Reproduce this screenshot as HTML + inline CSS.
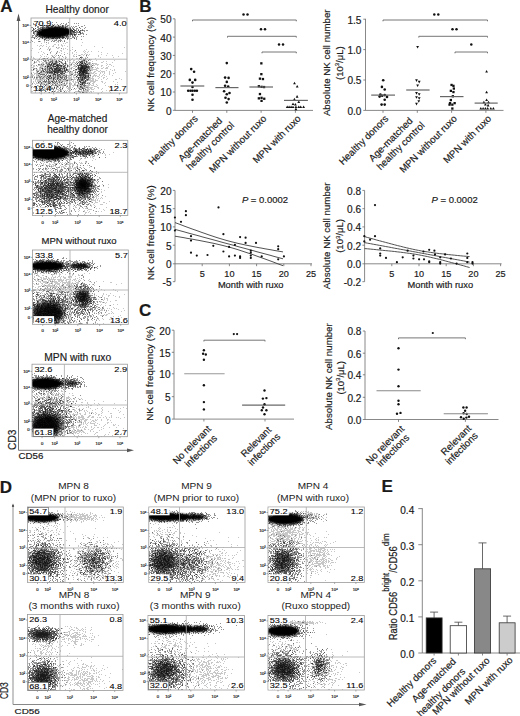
<!DOCTYPE html>
<html><head><meta charset="utf-8"><style>
html,body{margin:0;padding:0;background:#fff;}
svg{display:block;font-family:"Liberation Sans",sans-serif;}
text{fill:#1a1a1a;stroke:#1a1a1a;stroke-width:0.18px;}
.ns{stroke:none;}
.q{fill:#000;stroke:#000;stroke-width:0.08px;}
</style></head><body>
<svg width="520" height="716" viewBox="0 0 520 716">
<defs>
<filter id="b1" x="-50%" y="-50%" width="200%" height="200%"><feGaussianBlur stdDeviation="1.2"/></filter>
<filter id="b2" x="-50%" y="-50%" width="200%" height="200%"><feGaussianBlur stdDeviation="2.5"/></filter>
<filter id="b3" x="-50%" y="-50%" width="200%" height="200%"><feGaussianBlur stdDeviation="4"/></filter>
</defs>
<rect width="520" height="716" fill="#fff"/>
<text x="0.3" y="11.8" font-size="17" font-weight="bold" fill="#000">A</text>
<path d="M18.5 450.3V15" stroke="#666" stroke-width="0.9" fill="none"/>
<path d="M16.6 21L18.5 13.5L20.4 21Z" fill="#555"/>
<path d="M18.5 450.3H128" stroke="#666" stroke-width="0.9" fill="none"/>
<path d="M127 448.4L134 450.3L127 452.2Z" fill="#555"/>
<text transform="translate(15.5 449.9) rotate(-90)" font-size="10.2">CD3</text>
<text transform="translate(18.6 458.7) scale(1.1 1)" font-size="8.8">CD56</text>
<text x="77.1" y="13.1" font-size="10.2" text-anchor="middle">Healthy donor</text>
<clipPath id="c8"><rect x="31" y="18" width="96" height="75"/></clipPath>
<g clip-path="url(#c8)">
<ellipse cx="54" cy="32.4" rx="17.5" ry="6" fill="#000" opacity="1" filter="url(#b1)" transform="rotate(-3 54 32.4)"/>
<ellipse cx="83" cy="69" rx="2.5" ry="4.5" fill="#000" opacity="0.55" filter="url(#b2)"/>
<path d="M33 23h1m29 0h1m2 0h1m-29 1h1m15 0h1m5 0h1m5 0h1m-23 1h1m7 0h1m0 0h1m4 0h1m3 0h1m0 0h1m1 0h1m2 0h1m-22 1h1m3 0h1m3 0h1m6 0h1m2 0h1m0 0h1m0 0h1m3 0h1m1 0h1m8 0h1m-46 1h1m0 0h1m1 0h1m1 0h1m5 0h1m0 0h1m6 0h1m0 0h1m0 0h1m4 0h1m15 0h1m-47 1h1m1 0h1m2 0h1m0 0h1m0 0h1m1 0h1m6 0h1m2 0h1m0 0h1m0 0h1m4 0h1m0 0h1m0 0h1m0 0h1m0 0h1m1 0h1m3 0h1m0 0h1m1 0h1m-40 1h1m6 0h1m0 0h1m1 0h1m2 0h1m0 0h1m1 0h1m1 0h1m0 0h1m1 0h1m0 0h1m1 0h1m1 0h1m2 0h1m3 0h1m0 0h1m5 0h1m2 0h1m-45 1h1m9 0h1m1 0h1m0 0h1m0 0h1m0 0h1m1 0h1m0 0h1m0 0h1m0 0h1m1 0h1m1 0h1m0 0h1m0 0h1m0 0h1m0 0h1m0 0h1m2 0h1m2 0h1m2 0h1m0 0h1m0 0h1m2 0h1m0 0h1m1 0h1m1 0h1m0 0h1m4 0h1m-52 1h1m1 0h1m4 0h1m0 0h1m1 0h1m0 0h1m0 0h1m0 0h1m2 0h1m0 0h1m0 0h1m0 0h1m1 0h1m0 0h1m0 0h1m0 0h1m0 0h1m0 0h1m0 0h1m1 0h1m4 0h1m0 0h1m0 0h1m0 0h1m0 0h1m0 0h1m4 0h1m4 0h1m-47 1h1m1 0h1m0 0h1m1 0h1m0 0h1m1 0h1m0 0h1m1 0h1m0 0h1m0 0h1m0 0h1m1 0h1m0 0h1m1 0h1m1 0h1m1 0h1m2 0h1m0 0h1m0 0h1m0 0h1m0 0h1m0 0h1m0 0h1m2 0h1m0 0h1m0 0h1m2 0h1m0 0h1m-47 1h1m0 0h1m4 0h1m0 0h1m0 0h1m0 0h1m1 0h1m1 0h1m0 0h1m0 0h1m0 0h1m0 0h1m0 0h1m0 0h1m0 0h1m0 0h1m0 0h1m0 0h1m0 0h1m0 0h1m0 0h1m1 0h1m1 0h1m0 0h1m1 0h1m0 0h1m0 0h1m1 0h1m0 0h1m0 0h1m7 0h1m1 0h1m-49 1h1m2 0h1m0 0h1m0 0h1m2 0h1m0 0h1m0 0h1m0 0h1m0 0h1m0 0h1m0 0h1m0 0h1m0 0h1m0 0h1m1 0h1m0 0h1m0 0h1m0 0h1m2 0h1m0 0h1m0 0h1m0 0h1m0 0h1m0 0h1m3 0h1m0 0h1m0 0h1m1 0h1m1 0h1m1 0h1m1 0h1m0 0h1m-47 1h1m1 0h1m1 0h1m1 0h1m0 0h1m1 0h1m0 0h1m0 0h1m0 0h1m0 0h1m0 0h1m1 0h1m0 0h1m0 0h1m1 0h1m0 0h1m2 0h1m0 0h1m1 0h1m0 0h1m0 0h1m4 0h1m7 0h1m-36 1h1m3 0h1m0 0h1m0 0h1m0 0h1m0 0h1m0 0h1m2 0h1m2 0h1m0 0h1m0 0h1m2 0h1m1 0h1m3 0h1m8 0h1m7 0h1m-53 1h1m0 0h1m0 0h1m0 0h1m7 0h1m3 0h1m1 0h1m1 0h1m1 0h1m0 0h1m0 0h1m4 0h1m0 0h1m1 0h1m0 0h1m0 0h1m2 0h1m-34 1h1m4 0h1m2 0h1m5 0h1m3 0h1m0 0h1m2 0h1m0 0h1m1 0h1m2 0h1m2 0h1m-28 1h1m5 0h1m31 0h1m4 0h1m-26 1h1m7 0h1m-26 1h1m14 0h1m5 0h1m-5 6h1m4 1h1m-13 2h1m0 2h1m-4 2h1m10 1h1m27 0h1m-34 2h1m26 0h1m6 0h1m-27 2h1m18 0h1m8 0h1m-45 1h1m6 0h1m30 0h1m0 0h1m-41 1h1m10 0h1m0 0h1m2 0h1m21 0h1m2 0h1m1 0h1m-53 1h1m14 0h1m5 0h1m0 0h1m4 0h1m3 0h1m14 0h1m0 0h1m0 0h1m1 0h1m4 0h1m-44 1h1m2 0h1m1 0h1m3 0h1m9 0h1m11 0h1m1 0h1m2 0h1m2 0h1m6 0h1m-42 1h1m1 0h1m0 0h1m2 0h1m0 0h1m4 0h1m19 0h1m3 0h1m-40 1h1m1 0h1m0 0h1m4 0h1m0 0h1m0 0h1m2 0h1m3 0h1m11 0h1m1 0h1m0 0h1m0 0h1m0 0h1m0 0h1m0 0h1m0 0h1m-41 1h1m2 0h1m0 0h1m2 0h1m0 0h1m1 0h1m1 0h1m0 0h1m2 0h1m5 0h1m10 0h1m2 0h1m0 0h1m0 0h1m0 0h1m0 0h1m0 0h1m0 0h1m0 0h1m2 0h1m-45 1h1m3 0h1m4 0h1m0 0h1m1 0h1m5 0h1m12 0h1m1 0h1m0 0h1m0 0h1m0 0h1m2 0h1m1 0h1m0 0h1m2 0h1m-57 1h1m4 0h1m7 0h1m0 0h1m0 0h1m1 0h1m1 0h1m0 0h1m0 0h1m0 0h1m1 0h1m0 0h1m2 0h1m1 0h1m4 0h1m7 0h1m0 0h1m0 0h1m0 0h1m1 0h1m0 0h1m0 0h1m0 0h1m-55 1h1m15 0h1m1 0h1m0 0h1m1 0h1m0 0h1m0 0h1m0 0h1m1 0h1m2 0h1m1 0h1m1 0h1m11 0h1m0 0h1m0 0h1m0 0h1m2 0h1m1 0h1m-45 1h1m2 0h1m3 0h1m0 0h1m1 0h1m2 0h1m2 0h1m0 0h1m1 0h1m2 0h1m2 0h1m5 0h1m6 0h1m0 0h1m0 0h1m0 0h1m0 0h1m0 0h1m0 0h1m0 0h1m2 0h1m-54 1h1m0 0h1m2 0h1m1 0h1m0 0h1m1 0h1m0 0h1m3 0h1m0 0h1m0 0h1m0 0h1m0 0h1m0 0h1m0 0h1m0 0h1m3 0h1m1 0h1m0 0h1m4 0h1m7 0h1m0 0h1m0 0h1m0 0h1m0 0h1m0 0h1m0 0h1m0 0h1m0 0h1m-42 1h1m0 0h1m0 0h1m0 0h1m0 0h1m0 0h1m0 0h1m0 0h1m1 0h1m0 0h1m0 0h1m5 0h1m14 0h1m1 0h1m0 0h1m1 0h1m0 0h1m0 0h1m1 0h1m-56 1h1m7 0h1m9 0h1m0 0h1m3 0h1m1 0h1m4 0h1m2 0h1m13 0h1m0 0h1m0 0h1m0 0h1m1 0h1m0 0h1m1 0h1m0 0h1m0 0h1m-36 1h1m1 0h1m1 0h1m0 0h1m3 0h1m8 0h1m8 0h1m0 0h1m1 0h1m0 0h1m0 0h1m-38 1h1m0 0h1m5 0h1m1 0h1m2 0h1m9 0h1m6 0h1m1 0h1m0 0h1m1 0h1m1 0h1m0 0h1m2 0h1m-42 1h1m9 0h1m1 0h1m2 0h1m13 0h1m3 0h1m1 0h1m2 0h1m2 0h1m-55 1h1m1 0h1m3 0h1m10 0h1m6 0h1m1 0h1m0 0h1m16 0h1m2 0h1m0 0h1m1 0h1m0 0h1m2 0h1m-42 1h1m2 0h1m2 0h1m4 0h1m2 0h1m0 0h1m15 0h1m1 0h1m1 0h1m1 0h1m0 0h1m-38 1h1m4 0h1m1 0h1m3 0h1m3 0h1m1 0h1m6 0h1m8 0h1m0 0h1m1 0h1m2 0h1m-44 1h1m1 0h1m1 0h1m18 0h1m9 0h1m1 0h1m-41 1h1m0 0h1m3 0h1m0 0h1m5 0h1m4 0h1m22 0h1m0 0h1m4 0h1m-48 1h1m9 0h1m4 0h1m24 0h1m1 0h1m1 0h1m0 0h1m0 0h1m-44 1h1m12 0h1m11 0h1m2 0h1m11 0h1m0 0h1m6 0h1m-46 1h1m1 0h1m14 0h1m12 0h1m5 0h1m1 0h1m-43 1h1m4 0h1m10 0h1m2 0h1m4 0h1m0 0h1m11 0h1m3 0h1m1 0h1m-40 1h1m12 0h1m9 0h1m-18 1h1m3 0h1m5 0h1m20 0h1m4 0h1m0 0h1m-49 1h1m12 0h1m6 0h1m2 0h1m21 0h1m-44 1h1m1 0h1m37 0h1m3 0h1m-45 2h1m18 0h1m0 0h1m17 0h1m-31 1h1m32 0h1m0 0h1" transform="translate(0 .5)" stroke="#000" stroke-width="1" opacity="0.42"/>
<path d="M49 20h1m18 2h1m-27 1h1m18 0h1m-28 1h1m17 0h1m4 0h1m7 0h1m-30 1h1m3 0h1m0 0h1m1 0h1m2 0h1m2 0h1m0 0h1m2 0h1m4 0h1m8 0h1m10 0h1m5 0h1m-48 1h1m0 0h1m3 0h1m4 0h1m4 0h1m9 0h1m0 0h1m11 0h1m5 0h1m-50 1h1m11 0h1m2 0h1m6 0h1m0 0h1m1 0h1m1 0h1m5 0h1m6 0h1m1 0h1m10 0h1m-53 1h1m14 0h1m0 0h1m0 0h1m0 0h1m0 0h1m0 0h1m1 0h1m1 0h1m1 0h1m5 0h1m0 0h1m2 0h1m0 0h1m2 0h1m6 0h1m-48 1h1m7 0h1m0 0h1m1 0h1m0 0h1m0 0h1m0 0h1m1 0h1m0 0h1m0 0h1m0 0h1m2 0h1m1 0h1m0 0h1m1 0h1m2 0h1m0 0h1m1 0h1m2 0h1m0 0h1m0 0h1m1 0h1m4 0h1m-44 1h1m3 0h1m2 0h1m0 0h1m0 0h1m0 0h1m0 0h1m0 0h1m0 0h1m0 0h1m0 0h1m1 0h1m0 0h1m1 0h1m0 0h1m0 0h1m0 0h1m0 0h1m3 0h1m2 0h1m0 0h1m0 0h1m0 0h1m0 0h1m1 0h1m1 0h1m0 0h1m2 0h1m1 0h1m1 0h1m0 0h1m3 0h1m-53 1h1m0 0h1m0 0h1m4 0h1m1 0h1m0 0h1m0 0h1m1 0h1m0 0h1m1 0h1m1 0h1m1 0h1m0 0h1m0 0h1m1 0h1m0 0h1m0 0h1m1 0h1m0 0h1m0 0h1m2 0h1m4 0h1m0 0h1m1 0h1m0 0h1m1 0h1m0 0h1m-48 1h1m0 0h1m3 0h1m1 0h1m0 0h1m0 0h1m2 0h1m0 0h1m0 0h1m2 0h1m0 0h1m0 0h1m0 0h1m0 0h1m0 0h1m0 0h1m0 0h1m0 0h1m0 0h1m0 0h1m0 0h1m0 0h1m0 0h1m0 0h1m1 0h1m0 0h1m0 0h1m0 0h1m0 0h1m0 0h1m1 0h1m0 0h1m5 0h1m-48 1h1m3 0h1m2 0h1m2 0h1m0 0h1m0 0h1m1 0h1m2 0h1m0 0h1m0 0h1m0 0h1m0 0h1m0 0h1m0 0h1m0 0h1m0 0h1m0 0h1m0 0h1m0 0h1m0 0h1m0 0h1m1 0h1m2 0h1m0 0h1m0 0h1m5 0h1m3 0h1m-44 1h1m0 0h1m0 0h1m1 0h1m0 0h1m0 0h1m1 0h1m0 0h1m0 0h1m1 0h1m1 0h1m0 0h1m0 0h1m0 0h1m0 0h1m0 0h1m0 0h1m0 0h1m0 0h1m1 0h1m0 0h1m0 0h1m3 0h1m3 0h1m1 0h1m0 0h1m0 0h1m4 0h1m-42 1h1m2 0h1m0 0h1m1 0h1m0 0h1m2 0h1m0 0h1m1 0h1m3 0h1m0 0h1m0 0h1m0 0h1m2 0h1m1 0h1m1 0h1m5 0h1m1 0h1m-40 1h1m0 0h1m2 0h1m2 0h1m5 0h1m0 0h1m3 0h1m0 0h1m2 0h1m1 0h1m2 0h1m4 0h1m0 0h1m1 0h1m10 0h1m-45 1h1m4 0h1m1 0h1m3 0h1m5 0h1m3 0h1m3 0h1m0 0h1m2 0h1m1 0h1m3 0h1m1 0h1m1 0h1m-32 1h1m0 0h1m4 0h1m0 0h1m0 0h1m8 0h1m4 0h1m0 0h1m5 0h1m-31 1h1m-14 1h1m14 0h1m5 0h1m2 0h1m2 0h1m2 0h1m-30 1h1m18 0h1m1 0h1m4 0h1m5 0h1m-25 7h1m23 6h1m-5 1h1m18 0h1m-28 1h1m23 0h1m-23 1h1m26 0h1m-39 1h1m3 0h1m37 0h1m-32 1h1m7 0h1m-31 1h1m4 0h1m5 0h1m44 0h1m-55 1h1m15 0h1m0 0h1m8 0h1m4 0h1m14 0h1m1 0h1m3 0h1m-41 1h1m3 0h1m1 0h1m27 0h1m1 0h1m3 0h1m-39 1h1m2 0h1m2 0h1m0 0h1m3 0h1m15 0h1m5 0h1m0 0h1m5 0h1m0 0h1m-52 1h1m2 0h1m5 0h1m0 0h1m0 0h1m1 0h1m1 0h1m0 0h1m1 0h1m0 0h1m1 0h1m3 0h1m7 0h1m4 0h1m2 0h1m0 0h1m0 0h1m3 0h1m0 0h1m2 0h1m-54 1h1m5 0h1m4 0h1m1 0h1m3 0h1m2 0h1m0 0h1m0 0h1m0 0h1m0 0h1m0 0h1m0 0h1m1 0h1m2 0h1m10 0h1m2 0h1m2 0h1m1 0h1m1 0h1m3 0h1m-48 1h1m1 0h1m0 0h1m1 0h1m3 0h1m0 0h1m0 0h1m1 0h1m1 0h1m0 0h1m1 0h1m0 0h1m4 0h1m10 0h1m0 0h1m0 0h1m3 0h1m0 0h1m0 0h1m-49 1h1m6 0h1m2 0h1m0 0h1m4 0h1m0 0h1m0 0h1m4 0h1m1 0h1m12 0h1m0 0h1m0 0h1m0 0h1m0 0h1m0 0h1m0 0h1m0 0h1m0 0h1m0 0h1m-46 1h1m2 0h1m1 0h1m1 0h1m0 0h1m1 0h1m1 0h1m1 0h1m2 0h1m0 0h1m0 0h1m1 0h1m0 0h1m13 0h1m1 0h1m0 0h1m0 0h1m0 0h1m0 0h1m0 0h1m-44 1h1m4 0h1m1 0h1m2 0h1m1 0h1m0 0h1m0 0h1m1 0h1m0 0h1m0 0h1m5 0h1m0 0h1m8 0h1m3 0h1m0 0h1m1 0h1m0 0h1m0 0h1m1 0h1m1 0h1m-54 1h1m12 0h1m2 0h1m0 0h1m0 0h1m1 0h1m0 0h1m0 0h1m0 0h1m0 0h1m5 0h1m13 0h1m0 0h1m1 0h1m0 0h1m0 0h1m2 0h1m-36 1h1m0 0h1m4 0h1m0 0h1m0 0h1m0 0h1m2 0h1m12 0h1m0 0h1m0 0h1m0 0h1m0 0h1m0 0h1m0 0h1m-45 1h1m0 0h1m7 0h1m1 0h1m2 0h1m0 0h1m0 0h1m0 0h1m0 0h1m0 0h1m1 0h1m0 0h1m2 0h1m13 0h1m0 0h1m0 0h1m0 0h1m0 0h1m0 0h1m0 0h1m0 0h1m-49 1h1m0 0h1m7 0h1m4 0h1m0 0h1m0 0h1m2 0h1m2 0h1m0 0h1m2 0h1m14 0h1m2 0h1m0 0h1m1 0h1m0 0h1m-46 1h1m0 0h1m1 0h1m9 0h1m0 0h1m3 0h1m12 0h1m2 0h1m3 0h1m0 0h1m1 0h1m0 0h1m0 0h1m3 0h1m-51 1h1m11 0h1m1 0h1m4 0h1m8 0h1m7 0h1m2 0h1m1 0h1m0 0h1m0 0h1m0 0h1m0 0h1m1 0h1m0 0h1m0 0h1m0 0h1m-50 1h1m1 0h1m7 0h1m0 0h1m4 0h1m9 0h1m10 0h1m3 0h1m2 0h1m0 0h1m0 0h1m2 0h1m-46 1h1m4 0h1m0 0h1m3 0h1m0 0h1m0 0h1m6 0h1m1 0h1m12 0h1m0 0h1m0 0h1m0 0h1m1 0h1m0 0h1m0 0h1m1 0h1m0 0h1m-52 1h1m12 0h1m1 0h1m1 0h1m3 0h1m8 0h1m11 0h1m4 0h1m0 0h1m0 0h1m0 0h1m1 0h1m-41 1h1m4 0h1m17 0h1m9 0h1m0 0h1m4 0h1m-30 1h1m1 0h1m5 0h1m13 0h1m0 0h1m0 0h1m2 0h1m1 0h1m-45 1h1m5 0h1m2 0h1m9 0h1m17 0h1m4 0h1m-48 1h1m6 0h1m3 0h1m11 0h1m18 0h1m3 0h1m-36 1h1m7 0h1m20 0h1m3 0h1m0 0h1m0 0h1m0 0h1m1 0h1m-36 1h1m27 0h1m1 0h1m-46 1h1m13 0h1m32 0h1m-28 1h1m19 0h1m2 0h1m-50 1h1m4 0h1m17 0h1m-15 1h1m15 0h1m5 0h1m11 0h1m4 0h1m2 0h1m-12 1h1m7 0h1m-41 1h1m7 0h1m30 0h1m-27 1h1m1 0h1m23 0h1m-5 1h1" transform="translate(0 .5)" stroke="#000" stroke-width="1" opacity="0.42"/>
<path d="M52 22h1m3 0h1m17 1h1m1 0h1m1 0h1m-46 1h1m8 1h1m1 0h1m1 0h1m2 0h1m3 0h1m8 0h1m-28 1h1m7 0h1m2 0h1m1 0h1m2 0h1m0 0h1m5 0h1m0 0h1m0 0h1m15 0h1m-46 1h1m9 0h1m0 0h1m0 0h1m2 0h1m1 0h1m1 0h1m0 0h1m0 0h1m1 0h1m0 0h1m0 0h1m2 0h1m1 0h1m0 0h1m2 0h1m3 0h1m0 0h1m8 0h1m-45 1h1m6 0h1m0 0h1m5 0h1m1 0h1m2 0h1m1 0h1m0 0h1m2 0h1m0 0h1m0 0h1m0 0h1m3 0h1m8 0h1m0 0h1m6 0h1m-51 1h1m2 0h1m0 0h1m3 0h1m1 0h1m3 0h1m1 0h1m1 0h1m0 0h1m1 0h1m0 0h1m0 0h1m0 0h1m0 0h1m2 0h1m1 0h1m0 0h1m0 0h1m0 0h1m0 0h1m0 0h1m0 0h1m2 0h1m0 0h1m7 0h1m-51 1h1m0 0h1m2 0h1m1 0h1m0 0h1m2 0h1m0 0h1m2 0h1m1 0h1m2 0h1m0 0h1m0 0h1m0 0h1m0 0h1m0 0h1m0 0h1m1 0h1m0 0h1m0 0h1m0 0h1m1 0h1m1 0h1m2 0h1m0 0h1m0 0h1m0 0h1m1 0h1m7 0h1m1 0h1m-54 1h1m1 0h1m0 0h1m0 0h1m3 0h1m3 0h1m0 0h1m0 0h1m2 0h1m0 0h1m0 0h1m0 0h1m0 0h1m0 0h1m0 0h1m0 0h1m1 0h1m0 0h1m0 0h1m0 0h1m0 0h1m0 0h1m0 0h1m0 0h1m1 0h1m0 0h1m0 0h1m0 0h1m0 0h1m1 0h1m0 0h1m5 0h1m-47 1h1m3 0h1m0 0h1m1 0h1m2 0h1m1 0h1m0 0h1m0 0h1m0 0h1m1 0h1m2 0h1m0 0h1m0 0h1m1 0h1m0 0h1m0 0h1m0 0h1m1 0h1m0 0h1m0 0h1m0 0h1m0 0h1m5 0h1m2 0h1m0 0h1m0 0h1m1 0h1m0 0h1m1 0h1m-42 1h1m0 0h1m1 0h1m0 0h1m0 0h1m0 0h1m0 0h1m0 0h1m2 0h1m0 0h1m0 0h1m0 0h1m2 0h1m0 0h1m0 0h1m0 0h1m0 0h1m1 0h1m1 0h1m0 0h1m3 0h1m1 0h1m0 0h1m6 0h1m1 0h1m-48 1h1m2 0h1m1 0h1m0 0h1m2 0h1m0 0h1m1 0h1m0 0h1m0 0h1m0 0h1m0 0h1m1 0h1m1 0h1m0 0h1m0 0h1m0 0h1m0 0h1m1 0h1m1 0h1m0 0h1m1 0h1m1 0h1m0 0h1m0 0h1m0 0h1m1 0h1m0 0h1m2 0h1m4 0h1m2 0h1m-55 1h1m3 0h1m0 0h1m3 0h1m2 0h1m0 0h1m0 0h1m1 0h1m1 0h1m1 0h1m0 0h1m0 0h1m1 0h1m0 0h1m1 0h1m0 0h1m2 0h1m0 0h1m0 0h1m1 0h1m2 0h1m1 0h1m1 0h1m-43 1h1m3 0h1m1 0h1m0 0h1m3 0h1m0 0h1m5 0h1m0 0h1m3 0h1m2 0h1m0 0h1m0 0h1m2 0h1m2 0h1m5 0h1m0 0h1m3 0h1m-38 1h1m0 0h1m4 0h1m0 0h1m0 0h1m7 0h1m0 0h1m0 0h1m0 0h1m1 0h1m1 0h1m9 0h1m-40 1h1m1 0h1m5 0h1m12 0h1m1 0h1m1 0h1m3 0h1m1 0h1m1 0h1m2 0h1m0 0h1m2 0h1m1 0h1m-32 1h1m10 0h1m3 0h1m6 0h1m-24 1h1m3 0h1m5 0h1m4 0h1m0 0h1m-23 1h1m7 1h1m2 7h1m25 1h1m-19 1h1m-2 2h1m5 3h1m17 1h1m1 0h1m-39 1h1m20 0h1m13 0h1m1 0h1m-43 1h1m1 0h1m8 0h1m1 0h1m7 0h1m22 0h1m0 0h1m0 0h1m-38 1h1m7 0h1m1 0h1m3 0h1m19 0h1m1 0h1m-40 1h1m6 0h1m3 0h1m2 0h1m19 0h1m1 0h1m0 0h1m-31 1h1m3 0h1m0 0h1m3 0h1m14 0h1m1 0h1m1 0h1m3 0h1m-33 1h1m0 0h1m0 0h1m1 0h1m2 0h1m2 0h1m1 0h1m0 0h1m11 0h1m3 0h1m0 0h1m1 0h1m0 0h1m-47 1h1m3 0h1m5 0h1m0 0h1m0 0h1m1 0h1m1 0h1m9 0h1m14 0h1m4 0h1m1 0h1m-57 1h1m18 0h1m1 0h1m0 0h1m2 0h1m0 0h1m1 0h1m0 0h1m6 0h1m10 0h1m0 0h1m0 0h1m0 0h1m0 0h1m0 0h1m1 0h1m0 0h1m-40 1h1m0 0h1m4 0h1m0 0h1m0 0h1m1 0h1m5 0h1m0 0h1m2 0h1m8 0h1m1 0h1m3 0h1m0 0h1m0 0h1m0 0h1m0 0h1m2 0h1m-41 1h1m3 0h1m5 0h1m0 0h1m0 0h1m2 0h1m13 0h1m2 0h1m0 0h1m1 0h1m0 0h1m0 0h1m0 0h1m0 0h1m-55 1h1m7 0h1m5 0h1m2 0h1m2 0h1m0 0h1m0 0h1m0 0h1m0 0h1m3 0h1m1 0h1m12 0h1m0 0h1m1 0h1m0 0h1m0 0h1m0 0h1m0 0h1m0 0h1m2 0h1m0 0h1m-57 1h1m10 0h1m0 0h1m2 0h1m3 0h1m2 0h1m1 0h1m0 0h1m0 0h1m0 0h1m3 0h1m1 0h1m8 0h1m0 0h1m2 0h1m0 0h1m0 0h1m0 0h1m0 0h1m0 0h1m1 0h1m0 0h1m-45 1h1m3 0h1m6 0h1m0 0h1m0 0h1m0 0h1m0 0h1m0 0h1m0 0h1m1 0h1m1 0h1m0 0h1m0 0h1m12 0h1m0 0h1m0 0h1m1 0h1m0 0h1m0 0h1m0 0h1m1 0h1m-48 1h1m1 0h1m4 0h1m0 0h1m0 0h1m0 0h1m2 0h1m0 0h1m0 0h1m0 0h1m0 0h1m1 0h1m0 0h1m1 0h1m4 0h1m6 0h1m3 0h1m1 0h1m0 0h1m0 0h1m0 0h1m0 0h1m0 0h1m0 0h1m-51 1h1m9 0h1m2 0h1m1 0h1m1 0h1m0 0h1m1 0h1m0 0h1m1 0h1m8 0h1m5 0h1m1 0h1m2 0h1m1 0h1m0 0h1m0 0h1m0 0h1m1 0h1m-37 1h1m5 0h1m2 0h1m1 0h1m0 0h1m15 0h1m1 0h1m0 0h1m0 0h1m1 0h1m0 0h1m0 0h1m0 0h1m0 0h1m-50 1h1m2 0h1m2 0h1m6 0h1m0 0h1m4 0h1m1 0h1m16 0h1m0 0h1m1 0h1m0 0h1m0 0h1m-39 1h1m4 0h1m2 0h1m4 0h1m0 0h1m3 0h1m0 0h1m14 0h1m0 0h1m0 0h1m1 0h1m0 0h1m5 0h1m-59 1h1m11 0h1m2 0h1m1 0h1m0 0h1m2 0h1m4 0h1m1 0h1m5 0h1m9 0h1m4 0h1m1 0h1m1 0h1m0 0h1m0 0h1m0 0h1m-57 1h1m4 0h1m1 0h1m6 0h1m1 0h1m2 0h1m5 0h1m2 0h1m5 0h1m13 0h1m1 0h1m1 0h1m0 0h1m3 0h1m-50 1h1m1 0h1m3 0h1m2 0h1m4 0h1m2 0h1m6 0h1m13 0h1m2 0h1m0 0h1m-43 1h1m7 0h1m8 0h1m2 0h1m3 0h1m12 0h1m0 0h1m0 0h1m0 0h1m1 0h1m0 0h1m2 0h1m1 0h1m-36 1h1m2 0h1m10 0h1m13 0h1m0 0h1m0 0h1m1 0h1m0 0h1m-41 1h1m1 0h1m3 0h1m1 0h1m1 0h1m2 0h1m19 0h1m3 0h1m0 0h1m-44 1h1m8 0h1m1 0h1m2 0h1m3 0h1m1 0h1m19 0h1m0 0h1m0 0h1m1 0h1m-54 1h1m15 0h1m0 0h1m14 0h1m17 0h1m-43 1h1m14 0h1m24 0h1m0 0h1m0 0h1m1 0h1m-40 1h1m9 0h1m21 0h1m7 0h1m-52 1h1m15 0h1m29 0h1m0 0h1m2 0h1m-29 1h1m23 0h1m1 0h1m-32 1h1m2 0h1m27 0h1m0 0h1m-37 1h1m5 0h1m6 0h1m19 0h1m2 0h1m-24 1h1m22 0h1m3 0h1m-43 1h1m6 0h1m11 0h1m-12 1h1m26 0h1m1 0h1m0 0h1m2 0h1" transform="translate(0 .5)" stroke="#000" stroke-width="1" opacity="0.42"/>
<path d="M46 27h1m-5 3h1m-4 1h1m7 2h1m3 1h1m-11 1h1m-7 2h1m8 0h1m19 0h1m-10 1h1m-17 1h1m9 0h1m19 0h1m-23 1h1m-9 1h1m0 0h1m3 0h1m12 0h1m2 0h1m1 0h1m1 0h1m-31 1h1m9 0h1m3 0h1m7 0h1m1 0h1m7 0h1m0 0h1m14 0h1m-42 1h1m6 0h1m14 0h1m1 0h1m-20 1h1m7 0h1m0 0h1m2 0h1m2 0h1m-25 1h1m2 0h1m0 0h1m1 0h1m9 0h1m4 0h1m2 0h1m0 0h1m1 0h1m16 0h1m-43 1h1m2 0h1m3 0h1m2 0h1m2 0h1m0 0h1m8 0h1m4 0h1m26 0h1m-47 1h1m9 0h1m0 0h1m12 0h1m29 0h1m21 0h1m-93 1h1m15 0h1m1 0h1m6 0h1m0 0h1m4 0h1m1 0h1m-27 1h1m7 0h1m2 0h1m12 0h1m3 0h1m4 0h1m13 0h1m-56 1h1m28 0h1m0 0h1m8 0h1m13 0h1m-44 1h1m9 0h1m9 0h1m12 0h1m8 0h1m1 0h1m2 0h1m2 0h1m6 0h1m-61 1h1m4 0h1m12 0h1m0 0h1m1 0h1m4 0h1m7 0h1m3 0h1m7 0h1m2 0h1m13 0h1m-58 1h1m5 0h1m5 0h1m4 0h1m5 0h1m4 0h1m12 0h1m21 0h1m14 0h1m-81 1h1m4 0h1m7 0h1m13 0h1m4 0h1m1 0h1m4 0h1m0 0h1m1 0h1m1 0h1m0 0h1m1 0h1m11 0h1m-62 1h1m10 0h1m0 0h1m1 0h1m1 0h1m1 0h1m14 0h1m4 0h1m1 0h1m2 0h1m2 0h1m1 0h1m9 0h1m7 0h1m5 0h1m-82 1h1m9 0h1m2 0h1m1 0h1m6 0h1m1 0h1m3 0h1m5 0h1m7 0h1m0 0h1m6 0h1m4 0h1m11 0h1m19 0h1m-88 1h1m1 0h1m6 0h1m7 0h1m2 0h1m6 0h1m0 0h1m3 0h1m1 0h1m0 0h1m13 0h1m0 0h1m3 0h1m14 0h1m12 0h1m-81 1h1m0 0h1m4 0h1m2 0h1m1 0h1m0 0h1m0 0h1m0 0h1m2 0h1m0 0h1m2 0h1m2 0h1m1 0h1m1 0h1m10 0h1m3 0h1m0 0h1m1 0h1m3 0h1m2 0h1m8 0h1m-61 1h1m2 0h1m3 0h1m0 0h1m1 0h1m2 0h1m0 0h1m0 0h1m0 0h1m3 0h1m3 0h1m1 0h1m5 0h1m1 0h1m1 0h1m7 0h1m1 0h1m1 0h1m0 0h1m2 0h1m1 0h1m0 0h1m0 0h1m-60 1h1m5 0h1m4 0h1m0 0h1m0 0h1m0 0h1m0 0h1m0 0h1m1 0h1m0 0h1m0 0h1m0 0h1m0 0h1m0 0h1m0 0h1m2 0h1m2 0h1m1 0h1m2 0h1m1 0h1m0 0h1m2 0h1m0 0h1m3 0h1m2 0h1m1 0h1m0 0h1m0 0h1m0 0h1m1 0h1m1 0h1m5 0h1m17 0h1m-79 1h1m1 0h1m0 0h1m1 0h1m4 0h1m1 0h1m0 0h1m0 0h1m0 0h1m0 0h1m0 0h1m0 0h1m0 0h1m0 0h1m0 0h1m0 0h1m0 0h1m1 0h1m3 0h1m1 0h1m5 0h1m2 0h1m0 0h1m1 0h1m1 0h1m1 0h1m1 0h1m1 0h1m4 0h1m10 0h1m2 0h1m-73 1h1m0 0h1m0 0h1m2 0h1m2 0h1m0 0h1m1 0h1m0 0h1m0 0h1m0 0h1m0 0h1m0 0h1m0 0h1m0 0h1m0 0h1m0 0h1m0 0h1m2 0h1m1 0h1m1 0h1m2 0h1m3 0h1m0 0h1m1 0h1m0 0h1m0 0h1m3 0h1m0 0h1m0 0h1m0 0h1m1 0h1m2 0h1m0 0h1m0 0h1m1 0h1m10 0h1m0 0h1m9 0h1m-80 1h1m0 0h1m6 0h1m0 0h1m0 0h1m1 0h1m0 0h1m0 0h1m0 0h1m0 0h1m2 0h1m0 0h1m0 0h1m0 0h1m0 0h1m0 0h1m1 0h1m1 0h1m0 0h1m0 0h1m1 0h1m0 0h1m4 0h1m0 0h1m4 0h1m2 0h1m0 0h1m0 0h1m0 0h1m0 0h1m0 0h1m0 0h1m0 0h1m2 0h1m2 0h1m0 0h1m0 0h1m0 0h1m9 0h1m-75 1h1m5 0h1m1 0h1m0 0h1m0 0h1m0 0h1m0 0h1m1 0h1m0 0h1m0 0h1m0 0h1m0 0h1m1 0h1m0 0h1m0 0h1m0 0h1m0 0h1m0 0h1m0 0h1m1 0h1m1 0h1m3 0h1m0 0h1m1 0h1m0 0h1m0 0h1m1 0h1m0 0h1m2 0h1m1 0h1m0 0h1m0 0h1m0 0h1m0 0h1m0 0h1m1 0h1m0 0h1m0 0h1m1 0h1m0 0h1m1 0h1m1 0h1m0 0h1m0 0h1m0 0h1m8 0h1m1 0h1m0 0h1m-78 1h1m0 0h1m3 0h1m0 0h1m0 0h1m0 0h1m1 0h1m1 0h1m0 0h1m0 0h1m0 0h1m1 0h1m0 0h1m0 0h1m1 0h1m0 0h1m0 0h1m0 0h1m1 0h1m0 0h1m0 0h1m1 0h1m0 0h1m0 0h1m2 0h1m1 0h1m0 0h1m2 0h1m0 0h1m1 0h1m1 0h1m1 0h1m0 0h1m1 0h1m0 0h1m1 0h1m2 0h1m0 0h1m0 0h1m0 0h1m0 0h1m2 0h1m3 0h1m0 0h1m3 0h1m4 0h1m-79 1h1m0 0h1m2 0h1m2 0h1m0 0h1m0 0h1m0 0h1m0 0h1m0 0h1m0 0h1m0 0h1m0 0h1m0 0h1m0 0h1m0 0h1m0 0h1m0 0h1m0 0h1m0 0h1m1 0h1m0 0h1m0 0h1m0 0h1m0 0h1m0 0h1m0 0h1m1 0h1m2 0h1m4 0h1m0 0h1m0 0h1m0 0h1m4 0h1m0 0h1m0 0h1m0 0h1m0 0h1m0 0h1m1 0h1m0 0h1m0 0h1m0 0h1m9 0h1m6 0h1m4 0h1m-83 1h1m0 0h1m0 0h1m5 0h1m1 0h1m0 0h1m1 0h1m0 0h1m0 0h1m0 0h1m0 0h1m0 0h1m0 0h1m0 0h1m0 0h1m0 0h1m0 0h1m0 0h1m0 0h1m0 0h1m0 0h1m0 0h1m2 0h1m0 0h1m0 0h1m1 0h1m0 0h1m3 0h1m0 0h1m2 0h1m1 0h1m1 0h1m1 0h1m0 0h1m0 0h1m0 0h1m0 0h1m1 0h1m0 0h1m0 0h1m0 0h1m0 0h1m1 0h1m1 0h1m1 0h1m5 0h1m2 0h1m0 0h1m-75 1h1m1 0h1m0 0h1m2 0h1m0 0h1m1 0h1m0 0h1m0 0h1m0 0h1m0 0h1m0 0h1m2 0h1m0 0h1m0 0h1m1 0h1m0 0h1m0 0h1m0 0h1m0 0h1m0 0h1m0 0h1m1 0h1m0 0h1m0 0h1m0 0h1m0 0h1m3 0h1m2 0h1m0 0h1m3 0h1m0 0h1m0 0h1m0 0h1m0 0h1m0 0h1m0 0h1m0 0h1m0 0h1m0 0h1m0 0h1m0 0h1m0 0h1m0 0h1m0 0h1m3 0h1m0 0h1m0 0h1m2 0h1m0 0h1m2 0h1m0 0h1m0 0h1m-77 1h1m1 0h1m0 0h1m1 0h1m0 0h1m1 0h1m0 0h1m1 0h1m0 0h1m0 0h1m0 0h1m0 0h1m0 0h1m2 0h1m0 0h1m0 0h1m0 0h1m0 0h1m0 0h1m0 0h1m2 0h1m0 0h1m0 0h1m0 0h1m0 0h1m1 0h1m0 0h1m0 0h1m0 0h1m0 0h1m1 0h1m3 0h1m0 0h1m0 0h1m0 0h1m0 0h1m0 0h1m0 0h1m0 0h1m0 0h1m0 0h1m0 0h1m1 0h1m0 0h1m0 0h1m0 0h1m0 0h1m0 0h1m0 0h1m0 0h1m0 0h1m0 0h1m13 0h1m3 0h1m-84 1h1m0 0h1m0 0h1m3 0h1m0 0h1m0 0h1m0 0h1m0 0h1m0 0h1m0 0h1m1 0h1m0 0h1m0 0h1m0 0h1m0 0h1m0 0h1m0 0h1m0 0h1m0 0h1m0 0h1m1 0h1m0 0h1m0 0h1m0 0h1m0 0h1m0 0h1m1 0h1m0 0h1m0 0h1m1 0h1m0 0h1m4 0h1m0 0h1m0 0h1m0 0h1m1 0h1m0 0h1m0 0h1m0 0h1m0 0h1m0 0h1m0 0h1m0 0h1m0 0h1m0 0h1m0 0h1m0 0h1m0 0h1m0 0h1m0 0h1m3 0h1m0 0h1m2 0h1m5 0h1m5 0h1m1 0h1m-79 1h1m0 0h1m0 0h1m1 0h1m1 0h1m0 0h1m0 0h1m0 0h1m0 0h1m0 0h1m0 0h1m0 0h1m0 0h1m0 0h1m0 0h1m0 0h1m0 0h1m0 0h1m0 0h1m0 0h1m0 0h1m0 0h1m2 0h1m0 0h1m0 0h1m2 0h1m0 0h1m1 0h1m0 0h1m0 0h1m4 0h1m0 0h1m1 0h1m1 0h1m0 0h1m1 0h1m0 0h1m0 0h1m0 0h1m0 0h1m0 0h1m3 0h1m0 0h1m2 0h1m0 0h1m1 0h1m0 0h1m0 0h1m0 0h1m4 0h1m15 0h1m-95 1h1m1 0h1m2 0h1m2 0h1m0 0h1m0 0h1m0 0h1m0 0h1m0 0h1m2 0h1m0 0h1m0 0h1m0 0h1m0 0h1m0 0h1m0 0h1m0 0h1m0 0h1m0 0h1m0 0h1m0 0h1m0 0h1m0 0h1m0 0h1m0 0h1m0 0h1m0 0h1m0 0h1m0 0h1m0 0h1m1 0h1m0 0h1m0 0h1m0 0h1m1 0h1m0 0h1m0 0h1m0 0h1m1 0h1m0 0h1m0 0h1m0 0h1m0 0h1m0 0h1m0 0h1m0 0h1m0 0h1m0 0h1m0 0h1m0 0h1m0 0h1m1 0h1m0 0h1m5 0h1m1 0h1m1 0h1m4 0h1m5 0h1m-85 1h1m2 0h1m0 0h1m0 0h1m0 0h1m0 0h1m0 0h1m0 0h1m0 0h1m0 0h1m0 0h1m0 0h1m0 0h1m0 0h1m0 0h1m0 0h1m0 0h1m1 0h1m0 0h1m0 0h1m0 0h1m0 0h1m1 0h1m0 0h1m1 0h1m0 0h1m0 0h1m0 0h1m0 0h1m4 0h1m0 0h1m0 0h1m0 0h1m0 0h1m1 0h1m1 0h1m1 0h1m0 0h1m0 0h1m0 0h1m0 0h1m1 0h1m0 0h1m0 0h1m0 0h1m1 0h1m0 0h1m0 0h1m0 0h1m1 0h1m0 0h1m3 0h1m3 0h1m4 0h1m3 0h1m-83 1h1m0 0h1m1 0h1m1 0h1m0 0h1m0 0h1m0 0h1m0 0h1m0 0h1m0 0h1m0 0h1m0 0h1m1 0h1m1 0h1m1 0h1m0 0h1m0 0h1m0 0h1m0 0h1m0 0h1m0 0h1m0 0h1m0 0h1m0 0h1m0 0h1m0 0h1m0 0h1m0 0h1m0 0h1m0 0h1m0 0h1m3 0h1m0 0h1m0 0h1m1 0h1m1 0h1m0 0h1m0 0h1m1 0h1m0 0h1m0 0h1m0 0h1m1 0h1m0 0h1m0 0h1m0 0h1m0 0h1m0 0h1m3 0h1m4 0h1m3 0h1m5 0h1m-79 1h1m0 0h1m0 0h1m2 0h1m0 0h1m0 0h1m0 0h1m0 0h1m1 0h1m0 0h1m0 0h1m0 0h1m0 0h1m0 0h1m0 0h1m0 0h1m0 0h1m0 0h1m1 0h1m0 0h1m0 0h1m0 0h1m0 0h1m0 0h1m1 0h1m0 0h1m0 0h1m0 0h1m0 0h1m0 0h1m0 0h1m0 0h1m0 0h1m0 0h1m1 0h1m1 0h1m1 0h1m2 0h1m0 0h1m1 0h1m1 0h1m0 0h1m0 0h1m0 0h1m0 0h1m0 0h1m0 0h1m0 0h1m2 0h1m0 0h1m0 0h1m0 0h1m2 0h1m2 0h1m1 0h1m7 0h1m-82 1h1m2 0h1m1 0h1m0 0h1m0 0h1m0 0h1m0 0h1m0 0h1m0 0h1m0 0h1m0 0h1m0 0h1m0 0h1m0 0h1m0 0h1m1 0h1m0 0h1m0 0h1m0 0h1m0 0h1m0 0h1m0 0h1m0 0h1m0 0h1m0 0h1m0 0h1m0 0h1m0 0h1m0 0h1m0 0h1m0 0h1m0 0h1m1 0h1m2 0h1m1 0h1m2 0h1m0 0h1m1 0h1m1 0h1m0 0h1m0 0h1m0 0h1m0 0h1m0 0h1m0 0h1m0 0h1m1 0h1m1 0h1m0 0h1m1 0h1m1 0h1m0 0h1m2 0h1m4 0h1m-76 1h1m2 0h1m1 0h1m1 0h1m1 0h1m0 0h1m0 0h1m0 0h1m0 0h1m0 0h1m1 0h1m0 0h1m0 0h1m0 0h1m0 0h1m0 0h1m0 0h1m0 0h1m0 0h1m0 0h1m0 0h1m0 0h1m0 0h1m0 0h1m0 0h1m0 0h1m0 0h1m0 0h1m0 0h1m0 0h1m0 0h1m0 0h1m1 0h1m0 0h1m1 0h1m0 0h1m0 0h1m0 0h1m1 0h1m0 0h1m0 0h1m0 0h1m0 0h1m0 0h1m0 0h1m0 0h1m0 0h1m0 0h1m0 0h1m0 0h1m0 0h1m1 0h1m6 0h1m3 0h1m0 0h1m-72 1h1m0 0h1m2 0h1m1 0h1m1 0h1m0 0h1m0 0h1m0 0h1m1 0h1m0 0h1m0 0h1m1 0h1m0 0h1m0 0h1m0 0h1m0 0h1m0 0h1m0 0h1m0 0h1m0 0h1m0 0h1m0 0h1m0 0h1m2 0h1m0 0h1m0 0h1m1 0h1m0 0h1m0 0h1m0 0h1m2 0h1m1 0h1m2 0h1m0 0h1m0 0h1m0 0h1m0 0h1m0 0h1m0 0h1m1 0h1m0 0h1m0 0h1m0 0h1m0 0h1m0 0h1m0 0h1m4 0h1m4 0h1m3 0h1m11 0h1m-89 1h1m1 0h1m1 0h1m0 0h1m0 0h1m0 0h1m0 0h1m1 0h1m0 0h1m0 0h1m0 0h1m0 0h1m0 0h1m0 0h1m0 0h1m0 0h1m0 0h1m0 0h1m0 0h1m0 0h1m0 0h1m0 0h1m0 0h1m0 0h1m0 0h1m0 0h1m0 0h1m0 0h1m0 0h1m0 0h1m1 0h1m0 0h1m0 0h1m0 0h1m0 0h1m0 0h1m0 0h1m1 0h1m0 0h1m0 0h1m1 0h1m0 0h1m0 0h1m0 0h1m0 0h1m0 0h1m0 0h1m0 0h1m1 0h1m0 0h1m0 0h1m0 0h1m0 0h1m1 0h1m0 0h1m1 0h1m5 0h1m4 0h1m8 0h1m0 0h1m4 0h1m-91 1h1m3 0h1m1 0h1m0 0h1m0 0h1m0 0h1m0 0h1m0 0h1m1 0h1m1 0h1m1 0h1m0 0h1m0 0h1m0 0h1m0 0h1m0 0h1m0 0h1m1 0h1m1 0h1m0 0h1m1 0h1m0 0h1m0 0h1m0 0h1m0 0h1m0 0h1m1 0h1m0 0h1m0 0h1m0 0h1m1 0h1m3 0h1m0 0h1m0 0h1m1 0h1m1 0h1m0 0h1m0 0h1m1 0h1m0 0h1m0 0h1m0 0h1m0 0h1m0 0h1m0 0h1m1 0h1m0 0h1m0 0h1m-67 1h1m1 0h1m1 0h1m1 0h1m0 0h1m1 0h1m1 0h1m0 0h1m0 0h1m0 0h1m0 0h1m0 0h1m0 0h1m0 0h1m0 0h1m0 0h1m0 0h1m0 0h1m0 0h1m0 0h1m1 0h1m0 0h1m0 0h1m0 0h1m0 0h1m0 0h1m0 0h1m0 0h1m0 0h1m0 0h1m0 0h1m4 0h1m0 0h1m1 0h1m1 0h1m0 0h1m0 0h1m0 0h1m0 0h1m0 0h1m0 0h1m0 0h1m0 0h1m0 0h1m3 0h1m0 0h1m0 0h1m0 0h1m0 0h1m0 0h1m5 0h1m0 0h1m10 0h1m-83 1h1m1 0h1m2 0h1m2 0h1m0 0h1m0 0h1m0 0h1m0 0h1m0 0h1m0 0h1m0 0h1m0 0h1m0 0h1m1 0h1m1 0h1m0 0h1m0 0h1m0 0h1m0 0h1m0 0h1m0 0h1m0 0h1m0 0h1m0 0h1m0 0h1m1 0h1m1 0h1m0 0h1m2 0h1m2 0h1m1 0h1m0 0h1m0 0h1m0 0h1m1 0h1m0 0h1m0 0h1m0 0h1m0 0h1m0 0h1m1 0h1m0 0h1m0 0h1m0 0h1m2 0h1m0 0h1m7 0h1m2 0h1m11 0h1m-84 1h1m1 0h1m0 0h1m0 0h1m0 0h1m0 0h1m0 0h1m0 0h1m0 0h1m0 0h1m1 0h1m0 0h1m0 0h1m0 0h1m0 0h1m0 0h1m0 0h1m0 0h1m0 0h1m0 0h1m0 0h1m0 0h1m1 0h1m0 0h1m1 0h1m0 0h1m0 0h1m2 0h1m1 0h1m0 0h1m0 0h1m2 0h1m0 0h1m2 0h1m0 0h1m0 0h1m2 0h1m0 0h1m0 0h1m0 0h1m0 0h1m0 0h1m0 0h1m2 0h1m0 0h1m10 0h1m-74 1h1m0 0h1m2 0h1m4 0h1m0 0h1m0 0h1m0 0h1m0 0h1m0 0h1m0 0h1m0 0h1m0 0h1m1 0h1m1 0h1m0 0h1m1 0h1m0 0h1m0 0h1m0 0h1m0 0h1m0 0h1m0 0h1m0 0h1m0 0h1m0 0h1m0 0h1m0 0h1m2 0h1m0 0h1m0 0h1m3 0h1m1 0h1m0 0h1m0 0h1m0 0h1m0 0h1m1 0h1m0 0h1m3 0h1m0 0h1m0 0h1m2 0h1m2 0h1m18 0h1m1 0h1m-80 1h1m1 0h1m0 0h1m1 0h1m2 0h1m0 0h1m0 0h1m0 0h1m1 0h1m0 0h1m0 0h1m0 0h1m0 0h1m0 0h1m0 0h1m0 0h1m0 0h1m0 0h1m0 0h1m0 0h1m0 0h1m0 0h1m0 0h1m1 0h1m1 0h1m0 0h1m1 0h1m0 0h1m0 0h1m0 0h1m0 0h1m0 0h1m0 0h1m0 0h1m0 0h1m1 0h1m0 0h1m0 0h1m0 0h1m0 0h1m0 0h1m0 0h1m0 0h1m1 0h1m0 0h1m0 0h1m3 0h1m7 0h1m-75 1h1m0 0h1m2 0h1m0 0h1m1 0h1m0 0h1m2 0h1m1 0h1m1 0h1m0 0h1m0 0h1m0 0h1m0 0h1m0 0h1m2 0h1m1 0h1m0 0h1m0 0h1m1 0h1m1 0h1m0 0h1m2 0h1m0 0h1m1 0h1m0 0h1m2 0h1m3 0h1m0 0h1m0 0h1m0 0h1m0 0h1m0 0h1m0 0h1m0 0h1m0 0h1m0 0h1m0 0h1m0 0h1m5 0h1m0 0h1m0 0h1m11 0h1m-78 1h1m1 0h1m1 0h1m3 0h1m0 0h1m2 0h1m0 0h1m1 0h1m0 0h1m1 0h1m0 0h1m0 0h1m0 0h1m1 0h1m2 0h1m0 0h1m1 0h1m1 0h1m0 0h1m2 0h1m1 0h1m0 0h1m0 0h1m1 0h1m4 0h1m0 0h1m0 0h1m0 0h1m0 0h1m0 0h1m0 0h1m0 0h1m0 0h1m2 0h1m0 0h1m0 0h1m0 0h1m0 0h1m4 0h1m0 0h1m11 0h1m-76 1h1m1 0h1m1 0h1m2 0h1m1 0h1m0 0h1m0 0h1m0 0h1m0 0h1m0 0h1m0 0h1m0 0h1m0 0h1m0 0h1m0 0h1m1 0h1m3 0h1m6 0h1m0 0h1m0 0h1m0 0h1m3 0h1m1 0h1m1 0h1m0 0h1m0 0h1m0 0h1m0 0h1m0 0h1m1 0h1m1 0h1m0 0h1m1 0h1m0 0h1m2 0h1m3 0h1m3 0h1m-67 1h1m1 0h1m0 0h1m0 0h1m1 0h1m0 0h1m0 0h1m0 0h1m0 0h1m0 0h1m1 0h1m0 0h1m0 0h1m0 0h1m0 0h1m2 0h1m0 0h1m0 0h1m1 0h1m0 0h1m0 0h1m5 0h1m0 0h1m1 0h1m1 0h1m1 0h1m4 0h1m2 0h1m1 0h1m0 0h1m0 0h1m0 0h1m0 0h1m1 0h1m0 0h1m0 0h1m7 0h1m-69 1h1m0 0h1m3 0h1m0 0h1m0 0h1m0 0h1m1 0h1m0 0h1m4 0h1m0 0h1m2 0h1m1 0h1m2 0h1m0 0h1m1 0h1m1 0h1m1 0h1m1 0h1m1 0h1m0 0h1m10 0h1m1 0h1m0 0h1m0 0h1m0 0h1m1 0h1m17 0h1m-76 1h1m0 0h1m2 0h1m4 0h1m4 0h1m0 0h1m4 0h1m0 0h1m0 0h1m0 0h1m0 0h1m1 0h1m0 0h1m1 0h1m3 0h1m1 0h1m1 0h1m6 0h1m0 0h1m0 0h1m2 0h1m0 0h1m0 0h1m0 0h1m0 0h1m0 0h1m0 0h1m0 0h1m0 0h1m1 0h1m0 0h1m1 0h1m8 0h1m6 0h1m-75 1h1m3 0h1m1 0h1m2 0h1m3 0h1m0 0h1m1 0h1m4 0h1m0 0h1m0 0h1m0 0h1m3 0h1m0 0h1m0 0h1m0 0h1m7 0h1m4 0h1m2 0h1m1 0h1m0 0h1m1 0h1m1 0h1m1 0h1m9 0h1m8 0h1" transform="translate(0 .5)" stroke="#000" stroke-width="1" opacity="0.22"/>
</g>
<rect x="31" y="18" width="96" height="75" fill="none" stroke="#999" stroke-width="0.8"/>
<line x1="69.7" y1="18.0" x2="69.7" y2="93.0" stroke="#aaa" stroke-width="0.8"/>
<line x1="31.0" y1="59.2" x2="127.0" y2="59.2" stroke="#aaa" stroke-width="0.8"/>
<text transform="translate(33.4 25.8) scale(1.22 1)" font-size="7.6" class="q">70.9</text>
<text transform="translate(126.7 25.8) scale(1.22 1)" font-size="7.6" class="q" text-anchor="end">4.0</text>
<text transform="translate(33.4 91.4) scale(1.22 1)" font-size="7.6" class="q">12.4</text>
<text transform="translate(126.7 91.4) scale(1.22 1)" font-size="7.6" class="q" text-anchor="end">12.7</text>
<line x1="29.5" y1="25.4" x2="31.0" y2="25.4" stroke="#777" stroke-width="0.6"/>
<line x1="29.5" y1="42.3" x2="31.0" y2="42.3" stroke="#777" stroke-width="0.6"/>
<line x1="29.5" y1="59.2" x2="31.0" y2="59.2" stroke="#777" stroke-width="0.6"/>
<line x1="29.5" y1="77.2" x2="31.0" y2="77.2" stroke="#777" stroke-width="0.6"/>
<line x1="29.5" y1="85.7" x2="31.0" y2="85.7" stroke="#777" stroke-width="0.6"/>
<line x1="41.2" y1="93.0" x2="41.2" y2="94.5" stroke="#777" stroke-width="0.6"/>
<line x1="53.8" y1="93.0" x2="53.8" y2="94.5" stroke="#777" stroke-width="0.6"/>
<line x1="76.4" y1="93.0" x2="76.4" y2="94.5" stroke="#777" stroke-width="0.6"/>
<line x1="98.2" y1="93.0" x2="98.2" y2="94.5" stroke="#777" stroke-width="0.6"/>
<line x1="119.4" y1="93.0" x2="119.4" y2="94.5" stroke="#777" stroke-width="0.6"/>
<text x="41.2" y="101.0" font-size="4.2" text-anchor="middle" fill="#333">0</text>
<text x="53.8" y="101.0" font-size="4.2" text-anchor="middle" fill="#333">10²</text>
<text x="76.4" y="101.0" font-size="4.2" text-anchor="middle" fill="#333">10³</text>
<text x="98.2" y="101.0" font-size="4.2" text-anchor="middle" fill="#333">10⁴</text>
<text x="119.4" y="101.0" font-size="4.2" text-anchor="middle" fill="#333">10⁵</text>
<text x="28.7" y="26.8" font-size="4.2" text-anchor="end" fill="#333">10⁵</text>
<text x="28.7" y="43.7" font-size="4.2" text-anchor="end" fill="#333">10⁴</text>
<text x="28.7" y="60.6" font-size="4.2" text-anchor="end" fill="#333">10³</text>
<text x="28.7" y="78.6" font-size="4.2" text-anchor="end" fill="#333">10²</text>
<text x="28.7" y="87.1" font-size="4.2" text-anchor="end" fill="#333">0</text>
<text x="77.5" y="121.5" font-size="10" text-anchor="middle">Age-matched</text>
<text x="77.5" y="133.0" font-size="10" text-anchor="middle">healthy donor</text>
<clipPath id="c46"><rect x="32.5" y="140.3" width="95.3" height="75.19999999999999"/></clipPath>
<g clip-path="url(#c46)">
<ellipse cx="49" cy="153" rx="20" ry="7" fill="#000" opacity="1" filter="url(#b1)"/>
<ellipse cx="90" cy="152" rx="4" ry="1.8" fill="#000" opacity="0.6" filter="url(#b1)"/>
<ellipse cx="83" cy="185" rx="7.5" ry="8" fill="#000" opacity="0.95" filter="url(#b2)"/>
<ellipse cx="52" cy="190" rx="12" ry="9" fill="#000" opacity="0.35" filter="url(#b3)"/>
<path d="M43 141h1m13 1h1m-23 1h1m7 0h1m2 0h1m22 0h1m3 0h1m-36 1h1m5 0h1m12 0h1m4 0h1m-27 1h1m14 0h1m2 0h1m6 0h1m12 0h1m0 0h1m-35 1h1m0 0h1m6 0h1m0 0h1m0 0h1m1 0h1m4 0h1m0 0h1m3 0h1m20 0h1m1 0h1m-47 1h1m1 0h1m0 0h1m1 0h1m2 0h1m0 0h1m1 0h1m1 0h1m3 0h1m1 0h1m0 0h1m10 0h1m-37 1h1m5 0h1m3 0h1m0 0h1m0 0h1m2 0h1m1 0h1m0 0h1m0 0h1m4 0h1m1 0h1m2 0h1m9 0h1m0 0h1m3 0h1m2 0h1m4 0h1m-49 1h1m0 0h1m0 0h1m1 0h1m1 0h1m0 0h1m1 0h1m0 0h1m0 0h1m2 0h1m0 0h1m0 0h1m1 0h1m2 0h1m0 0h1m1 0h1m4 0h1m0 0h1m6 0h1m4 0h1m3 0h1m0 0h1m7 0h1m1 0h1m0 0h1m-66 1h1m4 0h1m2 0h1m1 0h1m2 0h1m0 0h1m1 0h1m0 0h1m0 0h1m0 0h1m1 0h1m0 0h1m0 0h1m1 0h1m0 0h1m0 0h1m4 0h1m1 0h1m2 0h1m1 0h1m2 0h1m0 0h1m0 0h1m0 0h1m1 0h1m2 0h1m0 0h1m0 0h1m3 0h1m1 0h1m1 0h1m6 0h1m-67 1h1m4 0h1m0 0h1m1 0h1m0 0h1m0 0h1m0 0h1m0 0h1m0 0h1m0 0h1m1 0h1m3 0h1m0 0h1m0 0h1m0 0h1m1 0h1m1 0h1m1 0h1m0 0h1m0 0h1m0 0h1m0 0h1m0 0h1m2 0h1m1 0h1m1 0h1m0 0h1m0 0h1m0 0h1m1 0h1m0 0h1m1 0h1m0 0h1m0 0h1m0 0h1m2 0h1m0 0h1m0 0h1m0 0h1m0 0h1m4 0h1m5 0h1m-71 1h1m2 0h1m0 0h1m0 0h1m0 0h1m1 0h1m0 0h1m0 0h1m0 0h1m0 0h1m0 0h1m0 0h1m0 0h1m0 0h1m0 0h1m0 0h1m0 0h1m0 0h1m0 0h1m1 0h1m0 0h1m0 0h1m0 0h1m0 0h1m1 0h1m0 0h1m1 0h1m1 0h1m0 0h1m1 0h1m1 0h1m0 0h1m0 0h1m1 0h1m0 0h1m0 0h1m0 0h1m0 0h1m0 0h1m0 0h1m0 0h1m1 0h1m0 0h1m0 0h1m0 0h1m2 0h1m0 0h1m0 0h1m6 0h1m-68 1h1m0 0h1m1 0h1m0 0h1m1 0h1m1 0h1m0 0h1m0 0h1m0 0h1m0 0h1m1 0h1m1 0h1m0 0h1m0 0h1m0 0h1m0 0h1m0 0h1m1 0h1m0 0h1m0 0h1m0 0h1m0 0h1m1 0h1m3 0h1m3 0h1m0 0h1m0 0h1m0 0h1m1 0h1m3 0h1m0 0h1m0 0h1m1 0h1m0 0h1m0 0h1m0 0h1m0 0h1m0 0h1m1 0h1m1 0h1m1 0h1m0 0h1m0 0h1m-64 1h1m2 0h1m0 0h1m3 0h1m0 0h1m0 0h1m0 0h1m0 0h1m1 0h1m0 0h1m0 0h1m2 0h1m3 0h1m0 0h1m0 0h1m3 0h1m1 0h1m0 0h1m0 0h1m1 0h1m0 0h1m0 0h1m0 0h1m5 0h1m0 0h1m1 0h1m1 0h1m1 0h1m0 0h1m0 0h1m-54 1h1m1 0h1m1 0h1m1 0h1m4 0h1m0 0h1m1 0h1m1 0h1m0 0h1m1 0h1m0 0h1m2 0h1m0 0h1m0 0h1m1 0h1m0 0h1m1 0h1m1 0h1m2 0h1m1 0h1m1 0h1m0 0h1m8 0h1m-48 1h1m1 0h1m2 0h1m1 0h1m1 0h1m0 0h1m1 0h1m1 0h1m1 0h1m0 0h1m0 0h1m0 0h1m0 0h1m4 0h1m0 0h1m0 0h1m0 0h1m0 0h1m2 0h1m2 0h1m2 0h1m0 0h1m0 0h1m0 0h1m16 0h1m-61 1h1m3 0h1m1 0h1m2 0h1m0 0h1m1 0h1m0 0h1m1 0h1m3 0h1m0 0h1m0 0h1m1 0h1m1 0h1m5 0h1m0 0h1m5 0h1m0 0h1m0 0h1m13 0h1m-50 1h1m14 0h1m1 0h1m0 0h1m0 0h1m2 0h1m4 0h1m4 0h1m2 0h1m7 0h1m-43 1h1m12 0h1m0 0h1m3 0h1m0 0h1m-17 1h1m1 0h1m4 0h1m5 0h1m1 0h1m8 0h1m2 0h1m-19 1h1m6 0h1m-23 1h1m9 0h1m41 1h1m-33 1h1m20 0h1m-42 1h1m43 0h1m-34 1h1m3 0h1m39 0h1m-12 1h1m13 0h1m-57 1h1m9 0h1m5 0h1m10 0h1m-30 1h1m5 0h1m2 0h1m9 0h1m12 0h1m9 0h1m6 0h1m-18 1h1m7 0h1m0 0h1m5 0h1m2 0h1m3 0h1m-44 1h1m0 0h1m11 0h1m0 0h1m7 0h1m5 0h1m1 0h1m1 0h1m12 0h1m3 0h1m-45 1h1m0 0h1m0 0h1m20 0h1m3 0h1m2 0h1m1 0h1m2 0h1m-43 1h1m3 0h1m4 0h1m4 0h1m7 0h1m7 0h1m0 0h1m3 0h1m1 0h1m1 0h1m1 0h1m3 0h1m-49 1h1m1 0h1m2 0h1m0 0h1m5 0h1m3 0h1m8 0h1m2 0h1m6 0h1m0 0h1m0 0h1m0 0h1m1 0h1m0 0h1m2 0h1m1 0h1m-52 1h1m2 0h1m2 0h1m0 0h1m5 0h1m2 0h1m0 0h1m1 0h1m2 0h1m6 0h1m3 0h1m10 0h1m0 0h1m2 0h1m1 0h1m7 0h1m-61 1h1m5 0h1m0 0h1m4 0h1m1 0h1m2 0h1m1 0h1m1 0h1m0 0h1m7 0h1m1 0h1m3 0h1m4 0h1m2 0h1m0 0h1m2 0h1m1 0h1m0 0h1m1 0h1m1 0h1m-54 1h1m3 0h1m10 0h1m2 0h1m0 0h1m0 0h1m2 0h1m1 0h1m0 0h1m3 0h1m0 0h1m3 0h1m0 0h1m2 0h1m0 0h1m2 0h1m0 0h1m2 0h1m1 0h1m0 0h1m0 0h1m0 0h1m-56 1h1m5 0h1m4 0h1m2 0h1m0 0h1m3 0h1m0 0h1m1 0h1m0 0h1m1 0h1m3 0h1m2 0h1m4 0h1m2 0h1m0 0h1m0 0h1m1 0h1m1 0h1m0 0h1m0 0h1m2 0h1m3 0h1m2 0h1m-57 1h1m11 0h1m0 0h1m0 0h1m0 0h1m1 0h1m0 0h1m0 0h1m0 0h1m1 0h1m2 0h1m2 0h1m1 0h1m0 0h1m2 0h1m4 0h1m1 0h1m3 0h1m0 0h1m2 0h1m1 0h1m0 0h1m0 0h1m0 0h1m0 0h1m0 0h1m-55 1h1m1 0h1m0 0h1m2 0h1m0 0h1m5 0h1m1 0h1m0 0h1m0 0h1m2 0h1m2 0h1m1 0h1m0 0h1m0 0h1m1 0h1m5 0h1m0 0h1m0 0h1m0 0h1m1 0h1m0 0h1m0 0h1m0 0h1m0 0h1m0 0h1m1 0h1m1 0h1m0 0h1m0 0h1m4 0h1m-60 1h1m4 0h1m4 0h1m1 0h1m0 0h1m3 0h1m0 0h1m1 0h1m6 0h1m5 0h1m0 0h1m0 0h1m2 0h1m1 0h1m0 0h1m2 0h1m0 0h1m0 0h1m2 0h1m0 0h1m1 0h1m2 0h1m1 0h1m5 0h1m3 0h1m-70 1h1m4 0h1m0 0h1m0 0h1m0 0h1m0 0h1m0 0h1m1 0h1m0 0h1m1 0h1m3 0h1m0 0h1m2 0h1m0 0h1m0 0h1m0 0h1m1 0h1m1 0h1m2 0h1m0 0h1m0 0h1m1 0h1m0 0h1m0 0h1m0 0h1m0 0h1m0 0h1m0 0h1m0 0h1m0 0h1m0 0h1m1 0h1m1 0h1m0 0h1m0 0h1m0 0h1m1 0h1m1 0h1m0 0h1m0 0h1m0 0h1m-60 1h1m3 0h1m2 0h1m0 0h1m1 0h1m0 0h1m0 0h1m1 0h1m0 0h1m0 0h1m0 0h1m0 0h1m3 0h1m0 0h1m0 0h1m0 0h1m0 0h1m1 0h1m0 0h1m0 0h1m2 0h1m6 0h1m1 0h1m0 0h1m1 0h1m0 0h1m0 0h1m0 0h1m0 0h1m0 0h1m1 0h1m1 0h1m0 0h1m1 0h1m-59 1h1m1 0h1m5 0h1m2 0h1m2 0h1m0 0h1m1 0h1m0 0h1m0 0h1m0 0h1m0 0h1m1 0h1m0 0h1m1 0h1m1 0h1m0 0h1m0 0h1m1 0h1m2 0h1m0 0h1m0 0h1m0 0h1m1 0h1m2 0h1m0 0h1m0 0h1m0 0h1m0 0h1m0 0h1m0 0h1m0 0h1m1 0h1m1 0h1m0 0h1m2 0h1m0 0h1m2 0h1m-61 1h1m1 0h1m2 0h1m3 0h1m0 0h1m0 0h1m1 0h1m1 0h1m0 0h1m0 0h1m0 0h1m0 0h1m0 0h1m0 0h1m0 0h1m0 0h1m1 0h1m0 0h1m0 0h1m3 0h1m0 0h1m0 0h1m0 0h1m0 0h1m1 0h1m0 0h1m0 0h1m1 0h1m0 0h1m0 0h1m0 0h1m1 0h1m0 0h1m0 0h1m0 0h1m0 0h1m0 0h1m0 0h1m0 0h1m1 0h1m0 0h1m1 0h1m1 0h1m7 0h1m-67 1h1m1 0h1m1 0h1m0 0h1m0 0h1m1 0h1m1 0h1m1 0h1m0 0h1m0 0h1m0 0h1m0 0h1m2 0h1m1 0h1m0 0h1m0 0h1m0 0h1m1 0h1m0 0h1m0 0h1m1 0h1m7 0h1m0 0h1m0 0h1m0 0h1m1 0h1m0 0h1m2 0h1m0 0h1m1 0h1m0 0h1m1 0h1m0 0h1m1 0h1m3 0h1m0 0h1m-63 1h1m0 0h1m4 0h1m1 0h1m1 0h1m1 0h1m0 0h1m0 0h1m1 0h1m1 0h1m0 0h1m0 0h1m2 0h1m0 0h1m0 0h1m0 0h1m0 0h1m2 0h1m1 0h1m0 0h1m0 0h1m0 0h1m0 0h1m0 0h1m0 0h1m0 0h1m0 0h1m0 0h1m0 0h1m0 0h1m0 0h1m0 0h1m1 0h1m0 0h1m0 0h1m9 0h1m-58 1h1m0 0h1m0 0h1m0 0h1m1 0h1m0 0h1m0 0h1m0 0h1m2 0h1m1 0h1m0 0h1m0 0h1m0 0h1m0 0h1m3 0h1m0 0h1m0 0h1m0 0h1m0 0h1m3 0h1m0 0h1m1 0h1m3 0h1m1 0h1m0 0h1m0 0h1m0 0h1m0 0h1m0 0h1m0 0h1m3 0h1m0 0h1m0 0h1m0 0h1m0 0h1m0 0h1m1 0h1m-59 1h1m1 0h1m2 0h1m1 0h1m0 0h1m1 0h1m0 0h1m1 0h1m2 0h1m0 0h1m0 0h1m1 0h1m0 0h1m1 0h1m2 0h1m0 0h1m0 0h1m0 0h1m0 0h1m3 0h1m0 0h1m0 0h1m0 0h1m3 0h1m1 0h1m0 0h1m1 0h1m1 0h1m1 0h1m0 0h1m2 0h1m4 0h1m-57 1h1m1 0h1m1 0h1m1 0h1m2 0h1m0 0h1m0 0h1m0 0h1m0 0h1m0 0h1m1 0h1m0 0h1m0 0h1m1 0h1m0 0h1m1 0h1m0 0h1m0 0h1m0 0h1m2 0h1m7 0h1m0 0h1m0 0h1m0 0h1m0 0h1m0 0h1m0 0h1m0 0h1m0 0h1m0 0h1m0 0h1m-47 1h1m0 0h1m1 0h1m0 0h1m0 0h1m0 0h1m0 0h1m1 0h1m0 0h1m0 0h1m0 0h1m1 0h1m1 0h1m1 0h1m0 0h1m0 0h1m0 0h1m0 0h1m0 0h1m0 0h1m10 0h1m0 0h1m1 0h1m1 0h1m0 0h1m0 0h1m0 0h1m1 0h1m0 0h1m1 0h1m0 0h1m0 0h1m0 0h1m4 0h1m2 0h1m-63 1h1m8 0h1m2 0h1m0 0h1m0 0h1m0 0h1m2 0h1m0 0h1m0 0h1m0 0h1m0 0h1m0 0h1m0 0h1m1 0h1m2 0h1m4 0h1m2 0h1m1 0h1m3 0h1m1 0h1m0 0h1m0 0h1m0 0h1m1 0h1m0 0h1m0 0h1m0 0h1m0 0h1m-58 1h1m0 0h1m5 0h1m0 0h1m1 0h1m3 0h1m1 0h1m2 0h1m0 0h1m8 0h1m1 0h1m1 0h1m1 0h1m2 0h1m3 0h1m0 0h1m0 0h1m0 0h1m0 0h1m0 0h1m0 0h1m0 0h1m0 0h1m0 0h1m0 0h1m0 0h1m-53 1h1m5 0h1m1 0h1m1 0h1m1 0h1m0 0h1m0 0h1m0 0h1m0 0h1m0 0h1m1 0h1m0 0h1m0 0h1m0 0h1m0 0h1m1 0h1m0 0h1m0 0h1m0 0h1m1 0h1m6 0h1m1 0h1m5 0h1m2 0h1m0 0h1m0 0h1m0 0h1m0 0h1m4 0h1m0 0h1m-59 1h1m2 0h1m1 0h1m0 0h1m0 0h1m0 0h1m0 0h1m0 0h1m1 0h1m0 0h1m1 0h1m0 0h1m0 0h1m1 0h1m3 0h1m0 0h1m5 0h1m2 0h1m5 0h1m0 0h1m3 0h1m0 0h1m1 0h1m1 0h1m0 0h1m0 0h1m1 0h1m14 0h1m-67 1h1m1 0h1m3 0h1m3 0h1m0 0h1m0 0h1m0 0h1m0 0h1m0 0h1m0 0h1m1 0h1m0 0h1m1 0h1m1 0h1m0 0h1m1 0h1m2 0h1m0 0h1m6 0h1m8 0h1m0 0h1m-51 1h1m2 0h1m4 0h1m0 0h1m4 0h1m0 0h1m2 0h1m0 0h1m0 0h1m0 0h1m0 0h1m0 0h1m0 0h1m2 0h1m0 0h1m3 0h1m4 0h1m2 0h1m1 0h1m0 0h1m1 0h1m1 0h1m3 0h1m2 0h1m1 0h1m3 0h1m-58 1h1m2 0h1m1 0h1m0 0h1m0 0h1m0 0h1m1 0h1m2 0h1m0 0h1m0 0h1m0 0h1m4 0h1m0 0h1m1 0h1m3 0h1m0 0h1m2 0h1m8 0h1m0 0h1m3 0h1m1 0h1m0 0h1m-54 1h1m2 0h1m8 0h1m4 0h1m0 0h1m3 0h1m0 0h1m0 0h1m1 0h1m0 0h1m3 0h1m0 0h1m2 0h1m1 0h1m2 0h1m0 0h1m0 0h1m2 0h1m0 0h1m0 0h1m9 0h1m-52 1h1m5 0h1m0 0h1m4 0h1m1 0h1m1 0h1m11 0h1m1 0h1m2 0h1m7 0h1m0 0h1m-40 1h1m0 0h1m1 0h1m2 0h1m0 0h1m0 0h1m3 0h1m2 0h1m0 0h1m2 0h1m10 0h1m12 0h1m5 0h1m-50 1h1m0 0h1m1 0h1m1 0h1m6 0h1m0 0h1m6 0h1m2 0h1m2 0h1m0 0h1m6 0h1m4 0h1m4 0h1m-53 1h1m0 0h1m0 0h1m11 0h1m0 0h1m1 0h1m2 0h1m0 0h1m3 0h1m0 0h1m1 0h1m4 0h1m0 0h1m7 0h1m3 0h1m0 0h1m-48 1h1m0 0h1m1 0h1m9 0h1m2 0h1m0 0h1m1 0h1m0 0h1m0 0h1m0 0h1m4 0h1m16 0h1m10 0h1m-57 1h1m0 0h1m0 0h1m2 0h1m9 0h1m0 0h1m3 0h1m0 0h1m0 0h1m0 0h1m0 0h1m2 0h1m0 0h1m3 0h1m15 0h1m9 0h1m-55 1h1m8 0h1m4 0h1m0 0h1m1 0h1m0 0h1m4 0h1m0 0h1m0 0h1m2 0h1m15 0h1m5 0h1m-47 1h1m1 0h1m0 0h1m3 0h1m6 0h1m2 0h1m36 0h1m-53 1h1m0 0h1m0 0h1m1 0h1m0 0h1m1 0h1m3 0h1m1 0h1m5 0h1m-25 1h1m7 0h1m0 0h1m2 0h1m5 0h1m0 0h1m-17 1h1m2 0h1m2 0h1m0 0h1m2 0h1m2 0h1m1 0h1m5 0h1m-22 1h1m4 0h1m7 0h1m1 0h1m27 0h1m-48 1h1m8 0h1m11 0h1m2 0h1m2 0h1m-30 1h1m9 0h1m2 1h1m7 0h1m11 0h1m-33 1h1" transform="translate(0 .5)" stroke="#000" stroke-width="1" opacity="0.42"/>
<path d="M38 142h1m32 0h1m-15 1h1m-17 1h1m4 0h1m20 0h1m0 0h1m-28 1h1m1 0h1m3 0h1m2 0h1m19 0h1m-31 1h1m1 0h1m1 0h1m6 0h1m3 0h1m7 0h1m0 0h1m2 0h1m4 0h1m16 0h1m-53 1h1m2 0h1m1 0h1m1 0h1m0 0h1m5 0h1m1 0h1m0 0h1m0 0h1m0 0h1m0 0h1m1 0h1m4 0h1m0 0h1m6 0h1m6 0h1m4 0h1m7 0h1m-58 1h1m0 0h1m1 0h1m1 0h1m3 0h1m1 0h1m0 0h1m2 0h1m2 0h1m0 0h1m0 0h1m1 0h1m4 0h1m5 0h1m1 0h1m2 0h1m2 0h1m2 0h1m3 0h1m3 0h1m6 0h1m-61 1h1m0 0h1m1 0h1m3 0h1m1 0h1m1 0h1m5 0h1m1 0h1m3 0h1m0 0h1m1 0h1m2 0h1m0 0h1m4 0h1m4 0h1m0 0h1m2 0h1m0 0h1m0 0h1m3 0h1m0 0h1m0 0h1m0 0h1m1 0h1m0 0h1m0 0h1m-56 1h1m1 0h1m0 0h1m0 0h1m0 0h1m0 0h1m1 0h1m0 0h1m0 0h1m4 0h1m0 0h1m0 0h1m2 0h1m0 0h1m0 0h1m3 0h1m0 0h1m5 0h1m0 0h1m0 0h1m3 0h1m0 0h1m5 0h1m0 0h1m1 0h1m0 0h1m1 0h1m1 0h1m1 0h1m1 0h1m-62 1h1m1 0h1m0 0h1m2 0h1m0 0h1m0 0h1m0 0h1m1 0h1m1 0h1m0 0h1m0 0h1m0 0h1m1 0h1m0 0h1m0 0h1m2 0h1m3 0h1m0 0h1m1 0h1m0 0h1m0 0h1m1 0h1m0 0h1m3 0h1m0 0h1m0 0h1m0 0h1m0 0h1m0 0h1m1 0h1m0 0h1m0 0h1m0 0h1m0 0h1m0 0h1m0 0h1m0 0h1m3 0h1m2 0h1m0 0h1m2 0h1m1 0h1m-68 1h1m1 0h1m0 0h1m0 0h1m2 0h1m0 0h1m0 0h1m1 0h1m0 0h1m1 0h1m2 0h1m0 0h1m0 0h1m1 0h1m0 0h1m2 0h1m0 0h1m1 0h1m0 0h1m0 0h1m1 0h1m0 0h1m1 0h1m0 0h1m0 0h1m0 0h1m0 0h1m1 0h1m1 0h1m0 0h1m1 0h1m0 0h1m0 0h1m2 0h1m1 0h1m0 0h1m1 0h1m3 0h1m-60 1h1m0 0h1m2 0h1m0 0h1m1 0h1m1 0h1m0 0h1m1 0h1m1 0h1m0 0h1m1 0h1m0 0h1m5 0h1m0 0h1m2 0h1m0 0h1m0 0h1m1 0h1m0 0h1m2 0h1m1 0h1m1 0h1m1 0h1m2 0h1m0 0h1m0 0h1m0 0h1m0 0h1m0 0h1m0 0h1m0 0h1m1 0h1m2 0h1m0 0h1m0 0h1m9 0h1m-70 1h1m0 0h1m0 0h1m1 0h1m1 0h1m0 0h1m2 0h1m0 0h1m1 0h1m0 0h1m0 0h1m0 0h1m0 0h1m1 0h1m1 0h1m0 0h1m0 0h1m0 0h1m0 0h1m0 0h1m0 0h1m0 0h1m1 0h1m1 0h1m0 0h1m0 0h1m3 0h1m3 0h1m0 0h1m1 0h1m1 0h1m0 0h1m0 0h1m0 0h1m1 0h1m0 0h1m0 0h1m4 0h1m0 0h1m4 0h1m-67 1h1m1 0h1m0 0h1m1 0h1m1 0h1m0 0h1m0 0h1m0 0h1m0 0h1m2 0h1m0 0h1m1 0h1m0 0h1m0 0h1m1 0h1m1 0h1m0 0h1m0 0h1m0 0h1m0 0h1m0 0h1m0 0h1m0 0h1m4 0h1m0 0h1m0 0h1m0 0h1m0 0h1m0 0h1m3 0h1m3 0h1m2 0h1m1 0h1m0 0h1m2 0h1m4 0h1m-59 1h1m0 0h1m0 0h1m1 0h1m0 0h1m3 0h1m0 0h1m0 0h1m0 0h1m1 0h1m0 0h1m0 0h1m0 0h1m2 0h1m2 0h1m0 0h1m1 0h1m0 0h1m0 0h1m3 0h1m2 0h1m12 0h1m1 0h1m-54 1h1m0 0h1m0 0h1m0 0h1m1 0h1m1 0h1m1 0h1m1 0h1m0 0h1m0 0h1m3 0h1m0 0h1m2 0h1m0 0h1m0 0h1m7 0h1m7 0h1m26 0h1m-64 1h1m8 0h1m2 0h1m0 0h1m2 0h1m9 0h1m0 0h1m2 0h1m3 0h1m-33 1h1m1 0h1m5 0h1m1 0h1m3 0h1m2 0h1m7 0h1m6 0h1m0 0h1m-39 1h1m8 0h1m10 0h1m0 0h1m7 0h1m-27 1h1m17 0h1m0 0h1m3 0h1m7 0h1m18 0h1m-47 1h1m6 0h1m10 0h1m-18 1h1m17 0h1m6 0h1m9 0h1m8 0h1m-49 1h1m18 0h1m8 0h1m0 0h1m-25 1h1m12 0h1m16 1h1m4 0h1m-45 2h1m6 0h1m4 0h1m0 0h1m20 0h1m0 0h1m8 0h1m6 0h1m-10 1h1m3 0h1m-42 1h1m32 0h1m4 0h1m2 0h1m2 0h1m1 0h1m5 0h1m-50 1h1m15 0h1m7 0h1m25 0h1m-58 1h1m7 0h1m6 0h1m7 0h1m11 0h1m10 0h1m0 0h1m16 0h1m-54 1h1m7 0h1m7 0h1m7 0h1m3 0h1m3 0h1m2 0h1m1 0h1m1 0h1m1 0h1m1 0h1m2 0h1m4 0h1m-63 1h1m15 0h1m4 0h1m3 0h1m13 0h1m4 0h1m3 0h1m2 0h1m1 0h1m6 0h1m-62 1h1m5 0h1m0 0h1m1 0h1m0 0h1m9 0h1m1 0h1m0 0h1m2 0h1m7 0h1m1 0h1m0 0h1m4 0h1m3 0h1m1 0h1m1 0h1m1 0h1m1 0h1m2 0h1m1 0h1m-58 1h1m5 0h1m0 0h1m0 0h1m1 0h1m0 0h1m1 0h1m1 0h1m4 0h1m1 0h1m2 0h1m1 0h1m1 0h1m6 0h1m1 0h1m6 0h1m1 0h1m2 0h1m0 0h1m0 0h1m6 0h1m-54 1h1m1 0h1m0 0h1m7 0h1m0 0h1m4 0h1m0 0h1m1 0h1m2 0h1m4 0h1m0 0h1m1 0h1m0 0h1m0 0h1m0 0h1m0 0h1m1 0h1m1 0h1m2 0h1m0 0h1m0 0h1m2 0h1m0 0h1m0 0h1m1 0h1m-50 1h1m1 0h1m3 0h1m0 0h1m2 0h1m5 0h1m1 0h1m9 0h1m0 0h1m5 0h1m2 0h1m0 0h1m0 0h1m0 0h1m0 0h1m4 0h1m0 0h1m8 0h1m-60 1h1m1 0h1m2 0h1m5 0h1m1 0h1m1 0h1m0 0h1m0 0h1m0 0h1m1 0h1m3 0h1m2 0h1m2 0h1m6 0h1m1 0h1m0 0h1m0 0h1m0 0h1m0 0h1m0 0h1m1 0h1m2 0h1m0 0h1m2 0h1m2 0h1m-60 1h1m1 0h1m1 0h1m2 0h1m0 0h1m1 0h1m0 0h1m1 0h1m0 0h1m0 0h1m1 0h1m2 0h1m1 0h1m3 0h1m3 0h1m2 0h1m4 0h1m0 0h1m1 0h1m0 0h1m1 0h1m0 0h1m0 0h1m0 0h1m1 0h1m0 0h1m0 0h1m0 0h1m0 0h1m3 0h1m1 0h1m-65 1h1m3 0h1m2 0h1m2 0h1m0 0h1m1 0h1m3 0h1m0 0h1m0 0h1m0 0h1m0 0h1m1 0h1m3 0h1m0 0h1m0 0h1m1 0h1m2 0h1m1 0h1m0 0h1m4 0h1m0 0h1m1 0h1m1 0h1m0 0h1m0 0h1m0 0h1m1 0h1m0 0h1m0 0h1m0 0h1m1 0h1m-58 1h1m1 0h1m1 0h1m3 0h1m0 0h1m3 0h1m3 0h1m0 0h1m1 0h1m1 0h1m1 0h1m1 0h1m2 0h1m1 0h1m0 0h1m0 0h1m0 0h1m2 0h1m0 0h1m0 0h1m2 0h1m0 0h1m0 0h1m0 0h1m1 0h1m1 0h1m1 0h1m0 0h1m0 0h1m0 0h1m0 0h1m2 0h1m0 0h1m4 0h1m-63 1h1m4 0h1m0 0h1m2 0h1m1 0h1m1 0h1m0 0h1m0 0h1m1 0h1m0 0h1m0 0h1m0 0h1m0 0h1m0 0h1m0 0h1m2 0h1m0 0h1m4 0h1m5 0h1m0 0h1m1 0h1m1 0h1m0 0h1m0 0h1m0 0h1m0 0h1m0 0h1m1 0h1m0 0h1m0 0h1m0 0h1m0 0h1m0 0h1m1 0h1m-53 1h1m1 0h1m4 0h1m0 0h1m1 0h1m0 0h1m0 0h1m0 0h1m0 0h1m1 0h1m0 0h1m0 0h1m1 0h1m1 0h1m0 0h1m0 0h1m0 0h1m2 0h1m0 0h1m5 0h1m0 0h1m0 0h1m3 0h1m0 0h1m0 0h1m0 0h1m0 0h1m1 0h1m0 0h1m0 0h1m1 0h1m-57 1h1m0 0h1m0 0h1m5 0h1m0 0h1m1 0h1m1 0h1m0 0h1m0 0h1m0 0h1m0 0h1m1 0h1m0 0h1m0 0h1m0 0h1m0 0h1m0 0h1m0 0h1m1 0h1m6 0h1m0 0h1m0 0h1m4 0h1m3 0h1m0 0h1m0 0h1m0 0h1m0 0h1m1 0h1m1 0h1m0 0h1m0 0h1m0 0h1m2 0h1m1 0h1m-61 1h1m0 0h1m2 0h1m0 0h1m1 0h1m2 0h1m0 0h1m3 0h1m1 0h1m0 0h1m0 0h1m0 0h1m3 0h1m0 0h1m0 0h1m1 0h1m1 0h1m2 0h1m5 0h1m1 0h1m1 0h1m1 0h1m0 0h1m0 0h1m0 0h1m0 0h1m0 0h1m0 0h1m0 0h1m0 0h1m1 0h1m1 0h1m4 0h1m0 0h1m-66 1h1m1 0h1m0 0h1m1 0h1m1 0h1m2 0h1m0 0h1m0 0h1m1 0h1m0 0h1m0 0h1m0 0h1m0 0h1m0 0h1m0 0h1m0 0h1m0 0h1m0 0h1m1 0h1m0 0h1m1 0h1m0 0h1m0 0h1m0 0h1m0 0h1m0 0h1m0 0h1m2 0h1m0 0h1m2 0h1m0 0h1m0 0h1m0 0h1m0 0h1m0 0h1m1 0h1m1 0h1m2 0h1m3 0h1m1 0h1m-58 1h1m1 0h1m1 0h1m0 0h1m0 0h1m2 0h1m1 0h1m0 0h1m0 0h1m0 0h1m0 0h1m1 0h1m0 0h1m0 0h1m0 0h1m0 0h1m0 0h1m0 0h1m0 0h1m0 0h1m1 0h1m1 0h1m4 0h1m1 0h1m2 0h1m0 0h1m0 0h1m1 0h1m4 0h1m0 0h1m0 0h1m0 0h1m0 0h1m6 0h1m-63 1h1m4 0h1m2 0h1m0 0h1m0 0h1m0 0h1m0 0h1m1 0h1m0 0h1m3 0h1m0 0h1m0 0h1m2 0h1m0 0h1m0 0h1m0 0h1m1 0h1m2 0h1m1 0h1m0 0h1m4 0h1m0 0h1m1 0h1m0 0h1m0 0h1m1 0h1m0 0h1m2 0h1m0 0h1m0 0h1m1 0h1m1 0h1m4 0h1m3 0h1m-66 1h1m3 0h1m3 0h1m0 0h1m2 0h1m1 0h1m0 0h1m1 0h1m2 0h1m0 0h1m1 0h1m0 0h1m0 0h1m1 0h1m0 0h1m5 0h1m1 0h1m0 0h1m0 0h1m1 0h1m0 0h1m1 0h1m0 0h1m1 0h1m0 0h1m0 0h1m1 0h1m0 0h1m0 0h1m0 0h1m0 0h1m0 0h1m0 0h1m1 0h1m3 0h1m-59 1h1m1 0h1m2 0h1m1 0h1m2 0h1m2 0h1m0 0h1m3 0h1m0 0h1m0 0h1m0 0h1m0 0h1m0 0h1m0 0h1m0 0h1m0 0h1m1 0h1m0 0h1m0 0h1m0 0h1m0 0h1m0 0h1m4 0h1m0 0h1m0 0h1m0 0h1m1 0h1m2 0h1m1 0h1m0 0h1m0 0h1m0 0h1m1 0h1m0 0h1m1 0h1m-60 1h1m4 0h1m0 0h1m2 0h1m0 0h1m0 0h1m0 0h1m1 0h1m0 0h1m1 0h1m1 0h1m0 0h1m2 0h1m1 0h1m0 0h1m2 0h1m0 0h1m0 0h1m4 0h1m1 0h1m2 0h1m1 0h1m0 0h1m0 0h1m0 0h1m0 0h1m10 0h1m1 0h1m-64 1h1m2 0h1m1 0h1m2 0h1m3 0h1m0 0h1m0 0h1m3 0h1m6 0h1m0 0h1m1 0h1m0 0h1m0 0h1m0 0h1m2 0h1m4 0h1m0 0h1m4 0h1m1 0h1m1 0h1m0 0h1m0 0h1m0 0h1m0 0h1m1 0h1m0 0h1m0 0h1m4 0h1m-59 1h1m5 0h1m1 0h1m1 0h1m0 0h1m1 0h1m1 0h1m0 0h1m0 0h1m1 0h1m0 0h1m5 0h1m0 0h1m1 0h1m2 0h1m1 0h1m2 0h1m4 0h1m0 0h1m0 0h1m0 0h1m0 0h1m0 0h1m2 0h1m2 0h1m0 0h1m1 0h1m5 0h1m-65 1h1m0 0h1m0 0h1m7 0h1m2 0h1m0 0h1m0 0h1m2 0h1m0 0h1m2 0h1m0 0h1m1 0h1m3 0h1m1 0h1m0 0h1m0 0h1m2 0h1m0 0h1m1 0h1m0 0h1m2 0h1m3 0h1m4 0h1m0 0h1m9 0h1m-62 1h1m3 0h1m1 0h1m1 0h1m0 0h1m0 0h1m0 0h1m0 0h1m2 0h1m0 0h1m0 0h1m2 0h1m1 0h1m1 0h1m0 0h1m5 0h1m2 0h1m0 0h1m0 0h1m1 0h1m4 0h1m2 0h1m1 0h1m2 0h1m1 0h1m0 0h1m-54 1h1m0 0h1m5 0h1m1 0h1m0 0h1m0 0h1m1 0h1m0 0h1m1 0h1m0 0h1m0 0h1m3 0h1m0 0h1m0 0h1m0 0h1m0 0h1m0 0h1m0 0h1m5 0h1m0 0h1m3 0h1m2 0h1m0 0h1m2 0h1m0 0h1m1 0h1m1 0h1m0 0h1m-58 1h1m2 0h1m7 0h1m0 0h1m1 0h1m0 0h1m0 0h1m1 0h1m0 0h1m1 0h1m2 0h1m0 0h1m0 0h1m0 0h1m0 0h1m1 0h1m0 0h1m0 0h1m0 0h1m3 0h1m0 0h1m1 0h1m3 0h1m2 0h1m1 0h1m3 0h1m1 0h1m-48 1h1m2 0h1m3 0h1m1 0h1m4 0h1m0 0h1m0 0h1m2 0h1m0 0h1m2 0h1m7 0h1m6 0h1m2 0h1m2 0h1m0 0h1m3 0h1m1 0h1m-53 1h1m1 0h1m0 0h1m3 0h1m0 0h1m0 0h1m0 0h1m0 0h1m0 0h1m5 0h1m0 0h1m1 0h1m8 0h1m4 0h1m5 0h1m2 0h1m-48 1h1m0 0h1m1 0h1m2 0h1m0 0h1m1 0h1m7 0h1m3 0h1m8 0h1m3 0h1m1 0h1m1 0h1m7 0h1m6 0h1m-48 1h1m0 0h1m1 0h1m1 0h1m1 0h1m1 0h1m1 0h1m5 0h1m1 0h1m2 0h1m4 0h1m17 0h1m-50 1h1m3 0h1m1 0h1m2 0h1m0 0h1m0 0h1m3 0h1m0 0h1m9 0h1m1 0h1m15 0h1m-49 1h1m5 0h1m1 0h1m0 0h1m0 0h1m1 0h1m3 0h1m0 0h1m1 0h1m1 0h1m0 0h1m2 0h1m0 0h1m22 0h1m2 0h1m-40 1h1m5 0h1m0 0h1m1 0h1m0 0h1m5 0h1m4 0h1m5 0h1m-38 1h1m2 0h1m7 0h1m1 0h1m2 0h1m0 0h1m-21 1h1m7 0h1m1 0h1m0 0h1m1 0h1m8 0h1m25 0h1m-43 1h1m3 0h1m7 0h1m1 0h1m3 0h1m1 0h1m18 0h1m-46 1h1m0 0h1m3 0h1m2 0h1m3 0h1m0 0h1m0 0h1m3 0h1m11 0h1m0 0h1m8 0h1m-23 1h1m40 0h1m-55 1h1m8 0h1m7 0h1m4 0h1m9 0h1m-39 1h1m0 0h1m15 0h1m8 0h1m4 0h1m-32 1h1m5 0h1m0 0h1m10 0h1m4 0h1m3 0h1m0 0h1m-18 1h1m4 0h1m28 0h1m-37 1h1" transform="translate(0 .5)" stroke="#000" stroke-width="1" opacity="0.42"/>
<path d="M32 141h1m22 1h1m2 0h1m-21 1h1m20 0h1m0 1h1m-29 1h1m7 0h1m4 0h1m6 0h1m8 0h1m-17 1h1m0 0h1m3 0h1m3 0h1m0 0h1m0 0h1m1 0h1m0 0h1m9 0h1m-36 1h1m5 0h1m0 0h1m0 0h1m0 0h1m2 0h1m1 0h1m2 0h1m3 0h1m4 0h1m5 0h1m7 0h1m20 0h1m-62 1h1m3 0h1m0 0h1m5 0h1m1 0h1m2 0h1m6 0h1m0 0h1m1 0h1m1 0h1m2 0h1m0 0h1m0 0h1m6 0h1m3 0h1m0 0h1m2 0h1m0 0h1m0 0h1m4 0h1m0 0h1m2 0h1m2 0h1m-63 1h1m6 0h1m0 0h1m0 0h1m1 0h1m2 0h1m0 0h1m1 0h1m0 0h1m0 0h1m1 0h1m1 0h1m2 0h1m0 0h1m4 0h1m2 0h1m0 0h1m2 0h1m1 0h1m0 0h1m0 0h1m1 0h1m1 0h1m1 0h1m2 0h1m0 0h1m0 0h1m1 0h1m3 0h1m0 0h1m0 0h1m4 0h1m-69 1h1m0 0h1m0 0h1m0 0h1m1 0h1m0 0h1m0 0h1m0 0h1m1 0h1m1 0h1m0 0h1m0 0h1m0 0h1m0 0h1m1 0h1m0 0h1m1 0h1m0 0h1m0 0h1m1 0h1m0 0h1m1 0h1m0 0h1m0 0h1m3 0h1m2 0h1m0 0h1m3 0h1m0 0h1m1 0h1m0 0h1m1 0h1m0 0h1m1 0h1m1 0h1m1 0h1m1 0h1m0 0h1m1 0h1m1 0h1m2 0h1m-65 1h1m1 0h1m0 0h1m0 0h1m1 0h1m0 0h1m0 0h1m0 0h1m0 0h1m0 0h1m0 0h1m0 0h1m0 0h1m0 0h1m0 0h1m0 0h1m0 0h1m0 0h1m0 0h1m3 0h1m0 0h1m0 0h1m1 0h1m3 0h1m2 0h1m2 0h1m1 0h1m0 0h1m0 0h1m0 0h1m0 0h1m0 0h1m1 0h1m1 0h1m1 0h1m1 0h1m0 0h1m1 0h1m0 0h1m3 0h1m-63 1h1m1 0h1m0 0h1m1 0h1m0 0h1m0 0h1m0 0h1m4 0h1m0 0h1m0 0h1m2 0h1m0 0h1m0 0h1m0 0h1m0 0h1m0 0h1m0 0h1m0 0h1m0 0h1m0 0h1m0 0h1m2 0h1m0 0h1m2 0h1m1 0h1m0 0h1m1 0h1m0 0h1m1 0h1m1 0h1m0 0h1m0 0h1m1 0h1m0 0h1m0 0h1m1 0h1m5 0h1m2 0h1m0 0h1m2 0h1m3 0h1m-70 1h1m0 0h1m0 0h1m2 0h1m0 0h1m2 0h1m1 0h1m0 0h1m0 0h1m1 0h1m0 0h1m0 0h1m2 0h1m1 0h1m0 0h1m1 0h1m5 0h1m1 0h1m1 0h1m0 0h1m4 0h1m0 0h1m0 0h1m2 0h1m1 0h1m0 0h1m3 0h1m1 0h1m5 0h1m-58 1h1m0 0h1m1 0h1m0 0h1m3 0h1m1 0h1m2 0h1m0 0h1m0 0h1m0 0h1m0 0h1m0 0h1m0 0h1m0 0h1m0 0h1m1 0h1m0 0h1m1 0h1m0 0h1m1 0h1m0 0h1m0 0h1m5 0h1m2 0h1m0 0h1m7 0h1m0 0h1m0 0h1m2 0h1m5 0h1m-64 1h1m1 0h1m0 0h1m1 0h1m1 0h1m0 0h1m0 0h1m0 0h1m0 0h1m0 0h1m0 0h1m0 0h1m0 0h1m0 0h1m1 0h1m0 0h1m0 0h1m1 0h1m3 0h1m0 0h1m3 0h1m2 0h1m0 0h1m12 0h1m0 0h1m4 0h1m-55 1h1m2 0h1m6 0h1m0 0h1m3 0h1m0 0h1m0 0h1m0 0h1m0 0h1m1 0h1m0 0h1m2 0h1m0 0h1m7 0h1m2 0h1m1 0h1m0 0h1m1 0h1m2 0h1m2 0h1m0 0h1m0 0h1m0 0h1m-54 1h1m1 0h1m2 0h1m4 0h1m1 0h1m1 0h1m0 0h1m0 0h1m2 0h1m1 0h1m5 0h1m0 0h1m4 0h1m2 0h1m0 0h1m2 0h1m11 0h1m13 0h1m5 0h1m-73 1h1m2 0h1m0 0h1m4 0h1m2 0h1m2 0h1m0 0h1m2 0h1m3 0h1m1 0h1m2 0h1m1 0h1m3 0h1m-33 1h1m2 0h1m3 0h1m5 0h1m2 0h1m2 0h1m3 0h1m-18 1h1m13 0h1m2 0h1m0 0h1m2 0h1m-29 1h1m13 0h1m1 0h1m17 1h1m5 0h1m-1 1h1m-20 1h1m6 0h1m-17 1h1m36 0h1m5 0h1m-50 1h1m8 0h1m6 1h1m1 0h1m0 0h1m17 0h1m-35 1h1m8 0h1m0 0h1m10 0h1m12 0h1m3 0h1m12 0h1m-56 1h1m16 0h1m4 0h1m0 0h1m5 0h1m10 0h1m-27 1h1m3 0h1m2 0h1m1 0h1m19 0h1m0 0h1m-25 1h1m21 0h1m1 0h1m5 0h1m-54 1h1m3 0h1m10 0h1m8 0h1m14 0h1m12 0h1m-45 1h1m19 0h1m2 0h1m6 0h1m3 0h1m0 0h1m1 0h1m2 0h1m0 0h1m1 0h1m-47 1h1m3 0h1m0 0h1m3 0h1m3 0h1m0 0h1m3 0h1m1 0h1m0 0h1m10 0h1m4 0h1m0 0h1m1 0h1m0 0h1m3 0h1m1 0h1m0 0h1m2 0h1m-52 1h1m3 0h1m3 0h1m6 0h1m5 0h1m9 0h1m3 0h1m2 0h1m1 0h1m2 0h1m2 0h1m0 0h1m1 0h1m0 0h1m3 0h1m-60 1h1m0 0h1m5 0h1m4 0h1m0 0h1m4 0h1m0 0h1m0 0h1m1 0h1m8 0h1m3 0h1m4 0h1m1 0h1m0 0h1m0 0h1m1 0h1m1 0h1m0 0h1m0 0h1m3 0h1m-57 1h1m5 0h1m4 0h1m0 0h1m4 0h1m2 0h1m0 0h1m0 0h1m0 0h1m0 0h1m5 0h1m2 0h1m2 0h1m6 0h1m3 0h1m0 0h1m1 0h1m3 0h1m3 0h1m6 0h1m-59 1h1m2 0h1m2 0h1m0 0h1m2 0h1m0 0h1m0 0h1m0 0h1m2 0h1m5 0h1m2 0h1m0 0h1m9 0h1m0 0h1m3 0h1m3 0h1m1 0h1m0 0h1m1 0h1m-58 1h1m0 0h1m11 0h1m0 0h1m0 0h1m0 0h1m0 0h1m0 0h1m0 0h1m5 0h1m4 0h1m0 0h1m1 0h1m0 0h1m3 0h1m1 0h1m0 0h1m0 0h1m1 0h1m1 0h1m1 0h1m0 0h1m2 0h1m3 0h1m0 0h1m0 0h1m0 0h1m0 0h1m3 0h1m-54 1h1m0 0h1m1 0h1m1 0h1m2 0h1m1 0h1m0 0h1m0 0h1m2 0h1m2 0h1m11 0h1m0 0h1m0 0h1m1 0h1m0 0h1m0 0h1m1 0h1m0 0h1m0 0h1m1 0h1m0 0h1m0 0h1m0 0h1m1 0h1m0 0h1m-56 1h1m6 0h1m3 0h1m0 0h1m0 0h1m1 0h1m0 0h1m1 0h1m0 0h1m0 0h1m0 0h1m0 0h1m5 0h1m10 0h1m1 0h1m0 0h1m0 0h1m0 0h1m0 0h1m0 0h1m0 0h1m3 0h1m0 0h1m1 0h1m0 0h1m-58 1h1m4 0h1m0 0h1m1 0h1m0 0h1m1 0h1m0 0h1m3 0h1m0 0h1m1 0h1m1 0h1m2 0h1m0 0h1m0 0h1m2 0h1m0 0h1m3 0h1m6 0h1m1 0h1m0 0h1m0 0h1m1 0h1m0 0h1m1 0h1m2 0h1m-55 1h1m0 0h1m5 0h1m5 0h1m0 0h1m1 0h1m0 0h1m0 0h1m0 0h1m0 0h1m0 0h1m0 0h1m0 0h1m0 0h1m1 0h1m0 0h1m2 0h1m0 0h1m1 0h1m1 0h1m0 0h1m1 0h1m2 0h1m0 0h1m0 0h1m0 0h1m0 0h1m0 0h1m2 0h1m0 0h1m0 0h1m0 0h1m1 0h1m0 0h1m3 0h1m-60 1h1m4 0h1m3 0h1m0 0h1m2 0h1m1 0h1m2 0h1m0 0h1m1 0h1m0 0h1m0 0h1m1 0h1m0 0h1m0 0h1m5 0h1m0 0h1m2 0h1m1 0h1m0 0h1m0 0h1m1 0h1m0 0h1m0 0h1m0 0h1m0 0h1m1 0h1m0 0h1m0 0h1m0 0h1m0 0h1m0 0h1m0 0h1m0 0h1m0 0h1m-61 1h1m4 0h1m0 0h1m4 0h1m1 0h1m1 0h1m0 0h1m0 0h1m0 0h1m0 0h1m0 0h1m0 0h1m3 0h1m0 0h1m0 0h1m0 0h1m0 0h1m1 0h1m1 0h1m0 0h1m0 0h1m1 0h1m2 0h1m1 0h1m1 0h1m0 0h1m0 0h1m1 0h1m0 0h1m0 0h1m0 0h1m0 0h1m2 0h1m1 0h1m0 0h1m0 0h1m0 0h1m2 0h1m3 0h1m-64 1h1m1 0h1m4 0h1m2 0h1m0 0h1m0 0h1m0 0h1m1 0h1m1 0h1m1 0h1m0 0h1m0 0h1m0 0h1m0 0h1m0 0h1m1 0h1m0 0h1m0 0h1m0 0h1m8 0h1m0 0h1m2 0h1m0 0h1m2 0h1m0 0h1m0 0h1m0 0h1m1 0h1m0 0h1m0 0h1m1 0h1m0 0h1m1 0h1m-60 1h1m2 0h1m1 0h1m0 0h1m0 0h1m1 0h1m0 0h1m1 0h1m0 0h1m1 0h1m0 0h1m4 0h1m1 0h1m2 0h1m0 0h1m1 0h1m0 0h1m0 0h1m0 0h1m1 0h1m0 0h1m1 0h1m0 0h1m1 0h1m0 0h1m0 0h1m0 0h1m0 0h1m0 0h1m1 0h1m2 0h1m0 0h1m0 0h1m0 0h1m5 0h1m-61 1h1m4 0h1m0 0h1m3 0h1m0 0h1m0 0h1m0 0h1m1 0h1m0 0h1m1 0h1m0 0h1m0 0h1m0 0h1m0 0h1m1 0h1m3 0h1m1 0h1m3 0h1m0 0h1m0 0h1m1 0h1m0 0h1m0 0h1m1 0h1m1 0h1m1 0h1m0 0h1m0 0h1m0 0h1m0 0h1m0 0h1m0 0h1m0 0h1m0 0h1m0 0h1m2 0h1m0 0h1m3 0h1m0 0h1m-61 1h1m1 0h1m1 0h1m4 0h1m1 0h1m0 0h1m0 0h1m0 0h1m2 0h1m0 0h1m3 0h1m0 0h1m4 0h1m1 0h1m1 0h1m3 0h1m0 0h1m0 0h1m0 0h1m2 0h1m3 0h1m0 0h1m1 0h1m0 0h1m0 0h1m0 0h1m0 0h1m-54 1h1m1 0h1m0 0h1m0 0h1m0 0h1m1 0h1m0 0h1m0 0h1m0 0h1m0 0h1m0 0h1m2 0h1m0 0h1m0 0h1m0 0h1m0 0h1m0 0h1m0 0h1m0 0h1m2 0h1m1 0h1m1 0h1m0 0h1m0 0h1m0 0h1m1 0h1m0 0h1m0 0h1m0 0h1m2 0h1m0 0h1m0 0h1m0 0h1m1 0h1m0 0h1m3 0h1m0 0h1m0 0h1m1 0h1m1 0h1m-59 1h1m2 0h1m0 0h1m0 0h1m0 0h1m1 0h1m1 0h1m0 0h1m1 0h1m0 0h1m0 0h1m0 0h1m3 0h1m1 0h1m0 0h1m1 0h1m2 0h1m1 0h1m0 0h1m0 0h1m6 0h1m1 0h1m0 0h1m0 0h1m0 0h1m1 0h1m0 0h1m0 0h1m0 0h1m0 0h1m0 0h1m0 0h1m1 0h1m0 0h1m1 0h1m3 0h1m-61 1h1m0 0h1m0 0h1m0 0h1m4 0h1m0 0h1m0 0h1m0 0h1m0 0h1m1 0h1m1 0h1m1 0h1m0 0h1m0 0h1m0 0h1m1 0h1m0 0h1m6 0h1m1 0h1m2 0h1m3 0h1m1 0h1m0 0h1m1 0h1m2 0h1m0 0h1m0 0h1m1 0h1m1 0h1m1 0h1m-61 1h1m0 0h1m1 0h1m3 0h1m1 0h1m1 0h1m1 0h1m0 0h1m0 0h1m1 0h1m0 0h1m0 0h1m1 0h1m0 0h1m0 0h1m0 0h1m0 0h1m0 0h1m0 0h1m1 0h1m0 0h1m2 0h1m3 0h1m1 0h1m2 0h1m0 0h1m0 0h1m0 0h1m0 0h1m1 0h1m0 0h1m1 0h1m2 0h1m0 0h1m-56 1h1m2 0h1m0 0h1m0 0h1m2 0h1m0 0h1m1 0h1m0 0h1m1 0h1m0 0h1m0 0h1m1 0h1m0 0h1m2 0h1m1 0h1m1 0h1m1 0h1m0 0h1m0 0h1m1 0h1m4 0h1m1 0h1m0 0h1m2 0h1m0 0h1m0 0h1m0 0h1m0 0h1m2 0h1m3 0h1m1 0h1m0 0h1m1 0h1m2 0h1m-58 1h1m1 0h1m1 0h1m0 0h1m0 0h1m1 0h1m0 0h1m1 0h1m1 0h1m0 0h1m0 0h1m0 0h1m1 0h1m0 0h1m4 0h1m1 0h1m0 0h1m0 0h1m1 0h1m3 0h1m1 0h1m3 0h1m0 0h1m0 0h1m0 0h1m0 0h1m1 0h1m5 0h1m1 0h1m-60 1h1m5 0h1m0 0h1m0 0h1m0 0h1m0 0h1m0 0h1m0 0h1m3 0h1m0 0h1m0 0h1m0 0h1m2 0h1m0 0h1m1 0h1m0 0h1m0 0h1m1 0h1m0 0h1m3 0h1m0 0h1m0 0h1m0 0h1m6 0h1m0 0h1m1 0h1m1 0h1m1 0h1m0 0h1m0 0h1m0 0h1m5 0h1m-61 1h1m0 0h1m0 0h1m1 0h1m0 0h1m1 0h1m2 0h1m0 0h1m3 0h1m0 0h1m1 0h1m0 0h1m2 0h1m0 0h1m3 0h1m4 0h1m1 0h1m2 0h1m1 0h1m1 0h1m2 0h1m2 0h1m0 0h1m0 0h1m2 0h1m1 0h1m4 0h1m-56 1h1m4 0h1m1 0h1m0 0h1m0 0h1m2 0h1m0 0h1m2 0h1m2 0h1m0 0h1m0 0h1m1 0h1m0 0h1m4 0h1m0 0h1m15 0h1m4 0h1m1 0h1m-55 1h1m2 0h1m0 0h1m0 0h1m2 0h1m1 0h1m1 0h1m0 0h1m3 0h1m0 0h1m0 0h1m2 0h1m6 0h1m0 0h1m4 0h1m0 0h1m1 0h1m5 0h1m4 0h1m3 0h1m-57 1h1m2 0h1m1 0h1m6 0h1m0 0h1m1 0h1m0 0h1m1 0h1m1 0h1m0 0h1m9 0h1m0 0h1m7 0h1m1 0h1m3 0h1m3 0h1m4 0h1m-53 1h1m3 0h1m0 0h1m2 0h1m1 0h1m0 0h1m1 0h1m1 0h1m0 0h1m7 0h1m2 0h1m2 0h1m3 0h1m3 0h1m6 0h1m0 0h1m3 0h1m3 0h1m-58 1h1m0 0h1m7 0h1m1 0h1m1 0h1m1 0h1m3 0h1m1 0h1m0 0h1m1 0h1m1 0h1m9 0h1m1 0h1m0 0h1m9 0h1m0 0h1m0 0h1m7 0h1m-60 1h1m0 0h1m9 0h1m0 0h1m4 0h1m1 0h1m1 0h1m2 0h1m1 0h1m0 0h1m1 0h1m0 0h1m5 0h1m0 0h1m13 0h1m4 0h1m-54 1h1m2 0h1m3 0h1m2 0h1m2 0h1m8 0h1m23 0h1m0 0h1m3 0h1m-56 1h1m0 0h1m5 0h1m1 0h1m5 0h1m1 0h1m0 0h1m2 0h1m1 0h1m3 0h1m2 0h1m-18 1h1m0 0h1m1 0h1m1 0h1m0 0h1m3 0h1m25 0h1m-49 1h1m4 0h1m2 0h1m1 0h1m0 0h1m0 0h1m7 0h1m1 0h1m1 0h1m2 0h1m4 0h1m-25 1h1m1 0h1m5 0h1m0 0h1m8 0h1m0 0h1m5 0h1m6 0h1m13 0h1m-48 1h1m10 0h1m3 0h1m-18 1h1m0 0h1m2 0h1m3 0h1m1 0h1m1 0h1m11 0h1m0 0h1m7 0h1m-35 1h1m0 0h1m0 0h1m1 0h1m3 0h1m2 0h1m2 0h1m7 0h1m1 0h1m13 0h1m20 0h1m-46 1h1m10 0h1m0 0h1m2 0h1m-19 1h1m1 0h1m0 0h1m6 0h1m3 0h1m7 0h1m-35 1h1m3 0h1m0 0h1m7 0h1m1 0h1" transform="translate(0 .5)" stroke="#000" stroke-width="1" opacity="0.42"/>
<path d="M75 146h1m12 0h1m-15 1h1m10 0h1m-19 1h1m7 0h1m8 0h1m6 0h1m7 0h1m-39 1h1m11 0h1m1 0h1m1 0h1m1 0h1m0 0h1m0 0h1m0 0h1m0 0h1m0 0h1m1 0h1m3 0h1m2 0h1m1 0h1m0 0h1m7 0h1m-36 1h1m1 0h1m1 0h1m1 0h1m1 0h1m2 0h1m0 0h1m3 0h1m0 0h1m2 0h1m4 0h1m5 0h1m-32 1h1m2 0h1m0 0h1m1 0h1m0 0h1m0 0h1m0 0h1m3 0h1m1 0h1m0 0h1m0 0h1m0 0h1m0 0h1m0 0h1m0 0h1m0 0h1m0 0h1m1 0h1m3 0h1m-39 1h1m6 0h1m1 0h1m0 0h1m0 0h1m0 0h1m0 0h1m0 0h1m1 0h1m0 0h1m0 0h1m0 0h1m0 0h1m0 0h1m0 0h1m0 0h1m0 0h1m0 0h1m0 0h1m0 0h1m1 0h1m0 0h1m0 0h1m0 0h1m1 0h1m0 0h1m2 0h1m14 0h1m-75 1h1m12 0h1m17 0h1m0 0h1m0 0h1m0 0h1m0 0h1m0 0h1m0 0h1m0 0h1m0 0h1m0 0h1m0 0h1m0 0h1m1 0h1m0 0h1m0 0h1m1 0h1m0 0h1m0 0h1m0 0h1m0 0h1m1 0h1m1 0h1m2 0h1m1 0h1m3 0h1m-52 1h1m2 0h1m0 0h1m5 0h1m5 0h1m1 0h1m2 0h1m1 0h1m1 0h1m1 0h1m0 0h1m0 0h1m0 0h1m0 0h1m1 0h1m2 0h1m0 0h1m1 0h1m0 0h1m11 0h1m3 0h1m-70 1h1m0 0h1m27 0h1m2 0h1m3 0h1m1 0h1m0 0h1m2 0h1m0 0h1m2 0h1m1 0h1m0 0h1m1 0h1m0 0h1m4 0h1m7 0h1m-62 1h1m17 0h1m12 0h1m4 0h1m0 0h1m0 0h1m0 0h1m6 0h1m1 0h1m1 0h1m-57 1h1m8 0h1m2 0h1m17 0h1m1 0h1m1 0h1m14 0h1m2 0h1m1 0h1m-40 1h1m1 0h1m3 0h1m20 0h1m3 0h1m0 0h1m7 0h1m-47 1h1m9 0h1m2 0h1m0 0h1m2 0h1m0 0h1m1 0h1m0 0h1m1 0h1m0 0h1m8 0h1m14 0h1m-64 1h1m4 0h1m0 0h1m1 0h1m14 0h1m1 0h1m3 0h1m0 0h1m4 0h1m11 0h1m12 0h1m-51 1h1m0 0h1m2 0h1m0 0h1m1 0h1m0 0h1m5 0h1m1 0h1m0 0h1m14 0h1m10 0h1m-42 1h1m6 0h1m1 0h1m0 0h1m5 0h1m1 0h1m2 0h1m1 0h1m0 0h1m5 0h1m0 0h1m3 0h1m1 0h1m3 0h1m0 0h1m-44 1h1m5 0h1m4 0h1m0 0h1m0 0h1m0 0h1m3 0h1m2 0h1m1 0h1m0 0h1m2 0h1m0 0h1m0 0h1m1 0h1m5 0h1m0 0h1m0 0h1m2 0h1m-51 1h1m3 0h1m3 0h1m1 0h1m3 0h1m0 0h1m1 0h1m0 0h1m2 0h1m4 0h1m0 0h1m4 0h1m0 0h1m1 0h1m1 0h1m0 0h1m-38 1h1m3 0h1m0 0h1m0 0h1m0 0h1m2 0h1m0 0h1m0 0h1m0 0h1m1 0h1m1 0h1m0 0h1m5 0h1m3 0h1m0 0h1m3 0h1m2 0h1m0 0h1m3 0h1m5 0h1m3 0h1m-50 1h1m1 0h1m5 0h1m2 0h1m0 0h1m1 0h1m0 0h1m1 0h1m3 0h1m1 0h1m0 0h1m0 0h1m1 0h1m0 0h1m2 0h1m0 0h1m5 0h1m13 0h1m-46 1h1m1 0h1m3 0h1m5 0h1m3 0h1m1 0h1m0 0h1m3 0h1m1 0h1m1 0h1m1 0h1m0 0h1m0 0h1m2 0h1m3 0h1m5 0h1m-51 1h1m5 0h1m4 0h1m1 0h1m1 0h1m2 0h1m3 0h1m5 0h1m1 0h1m0 0h1m0 0h1m1 0h1m0 0h1m0 0h1m1 0h1m0 0h1m-46 1h1m5 0h1m2 0h1m0 0h1m2 0h1m0 0h1m3 0h1m3 0h1m1 0h1m2 0h1m0 0h1m4 0h1m6 0h1m12 0h1m-44 1h1m2 0h1m3 0h1m2 0h1m1 0h1m3 0h1m1 0h1m4 0h1m3 0h1m0 0h1m10 0h1m-43 1h1m3 0h1m3 0h1m2 0h1m0 0h1m2 0h1m5 0h1m2 0h1m0 0h1m4 0h1m9 0h1m11 0h1m-51 1h1m4 0h1m2 0h1m0 0h1m7 0h1m3 0h1m0 0h1m1 0h1m1 0h1m3 0h1m0 0h1m3 0h1m2 0h1m5 0h1m7 0h1m-45 1h1m5 0h1m13 0h1m3 0h1m0 0h1m4 0h1m8 0h1m8 0h1m-54 1h1m1 0h1m1 0h1m5 0h1m10 0h1m5 0h1m-14 1h1m19 0h1m1 0h1m10 0h1m2 0h1m-50 1h1m15 0h1m3 0h1m30 0h1m-49 1h1m0 0h1m23 0h1m4 0h1m1 0h1m4 0h1m2 0h1m-11 1h1m5 0h1m13 0h1m-42 1h1m29 0h1m5 0h1m0 0h1m-19 1h1m8 0h1m7 0h1m-20 1h1m5 0h1m7 0h1m1 0h1m4 0h1m5 0h1m-24 1h1m2 0h1m3 0h1m2 0h1m4 0h1m-14 1h1m1 0h1m4 0h1m0 0h1m7 0h1m-38 1h1m18 0h1m0 0h1m1 0h1m1 0h1m0 0h1m1 0h1m0 0h1m0 0h1m4 0h1m7 0h1m5 0h1m-40 1h1m2 0h1m0 0h1m2 0h1m2 0h1m3 0h1m1 0h1m2 0h1m0 0h1m2 0h1m10 0h1m-34 1h1m3 0h1m7 0h1m1 0h1m0 0h1m0 0h1m0 0h1m0 0h1m1 0h1m0 0h1m1 0h1m0 0h1m0 0h1m7 0h1m-34 1h1m3 0h1m1 0h1m1 0h1m3 0h1m2 0h1m0 0h1m1 0h1m3 0h1m3 0h1m0 0h1m10 0h1m-36 1h1m2 0h1m4 0h1m1 0h1m0 0h1m0 0h1m0 0h1m0 0h1m3 0h1m0 0h1m2 0h1m-32 1h1m6 0h1m2 0h1m4 0h1m0 0h1m1 0h1m2 0h1m0 0h1m2 0h1m0 0h1m2 0h1m2 0h1m1 0h1m2 0h1m-30 1h1m4 0h1m0 0h1m5 0h1m2 0h1m0 0h1m2 0h1m1 0h1m0 0h1m1 0h1m7 0h1m-37 1h1m3 0h1m4 0h1m1 0h1m2 0h1m1 0h1m0 0h1m1 0h1m0 0h1m0 0h1m0 0h1m0 0h1m0 0h1m4 0h1m3 0h1m-34 1h1m1 0h1m5 0h1m1 0h1m1 0h1m0 0h1m0 0h1m3 0h1m1 0h1m0 0h1m0 0h1m1 0h1m8 0h1m-31 1h1m0 0h1m1 0h1m1 0h1m0 0h1m0 0h1m0 0h1m0 0h1m1 0h1m0 0h1m0 0h1m0 0h1m0 0h1m0 0h1m1 0h1m0 0h1m3 0h1m1 0h1m2 0h1m-32 1h1m3 0h1m1 0h1m3 0h1m1 0h1m1 0h1m0 0h1m0 0h1m2 0h1m0 0h1m3 0h1m3 0h1m1 0h1m-27 1h1m3 0h1m0 0h1m1 0h1m0 0h1m0 0h1m0 0h1m0 0h1m0 0h1m0 0h1m2 0h1m1 0h1m3 0h1m1 0h1m-23 1h1m0 0h1m1 0h1m0 0h1m0 0h1m1 0h1m1 0h1m0 0h1m0 0h1m0 0h1m0 0h1m0 0h1m1 0h1m1 0h1m0 0h1m1 0h1m0 0h1m1 0h1m6 0h1m-34 1h1m1 0h1m1 0h1m2 0h1m0 0h1m0 0h1m1 0h1m0 0h1m0 0h1m2 0h1m1 0h1m1 0h1m1 0h1m1 0h1m4 0h1m-42 1h1m6 0h1m1 0h1m4 0h1m0 0h1m2 0h1m0 0h1m0 0h1m0 0h1m0 0h1m5 0h1m0 0h1m0 0h1m0 0h1m1 0h1m2 0h1m1 0h1m1 0h1m1 0h1m-22 1h1m0 0h1m0 0h1m3 0h1m0 0h1m0 0h1m0 0h1m1 0h1m0 0h1m1 0h1m1 0h1m-22 1h1m0 0h1m1 0h1m4 0h1m1 0h1m0 0h1m3 0h1m0 0h1m0 0h1m0 0h1m0 0h1m1 0h1m1 0h1m-33 1h1m10 0h1m1 0h1m1 0h1m0 0h1m2 0h1m2 0h1m1 0h1m3 0h1m3 0h1m9 0h1m-38 1h1m1 0h1m2 0h1m3 0h1m0 0h1m0 0h1m1 0h1m0 0h1m4 0h1m3 0h1m0 0h1m0 0h1m5 0h1m0 0h1m-30 1h1m3 0h1m1 0h1m0 0h1m1 0h1m0 0h1m2 0h1m5 0h1m11 0h1m-37 1h1m2 0h1m3 0h1m0 0h1m0 0h1m2 0h1m0 0h1m0 0h1m3 0h1m1 0h1m2 0h1m6 0h1m0 0h1m0 0h1m-27 1h1m1 0h1m0 0h1m7 0h1m3 0h1m2 0h1m-22 1h1m1 0h1m8 0h1m0 0h1m0 0h1m4 0h1m3 0h1m-21 1h1m0 0h1m2 0h1m6 0h1m0 0h1m6 0h1m11 0h1m-24 1h1m1 0h1m0 0h1m9 0h1m2 0h1m-22 1h1m9 0h1m0 0h1m0 0h1m0 0h1m11 0h1m-30 1h1m4 0h1m4 0h1m2 0h1m16 0h1m-36 1h1m8 0h1m5 0h1m4 0h1m5 0h1m2 0h1m2 0h1m-50 1h1m32 0h1m0 0h1m1 0h1m-4 1h1m4 0h1m4 0h1m-26 1h1m0 0h1m12 0h1m-3 1h1m2 0h1m4 0h1" transform="translate(0 .5)" stroke="#000" stroke-width="1" opacity="0.22"/>
</g>
<rect x="32.5" y="140.3" width="95.3" height="75.19999999999999" fill="none" stroke="#999" stroke-width="0.8"/>
<line x1="69.7" y1="140.3" x2="69.7" y2="215.5" stroke="#aaa" stroke-width="0.8"/>
<line x1="32.5" y1="172.3" x2="127.8" y2="172.3" stroke="#aaa" stroke-width="0.8"/>
<rect x="33.7" y="141.5" width="20.4" height="7.8" fill="#fff"/>
<text transform="translate(34.9 148.1) scale(1.22 1)" font-size="7.6" class="q">66.5</text>
<text transform="translate(127.5 148.1) scale(1.22 1)" font-size="7.6" class="q" text-anchor="end">2.3</text>
<rect x="33.7" y="207.3" width="20.4" height="7.8" fill="#fff"/>
<text transform="translate(34.9 213.9) scale(1.22 1)" font-size="7.6" class="q">12.5</text>
<text transform="translate(127.5 213.9) scale(1.22 1)" font-size="7.6" class="q" text-anchor="end">18.7</text>
<line x1="31.0" y1="147.7" x2="32.5" y2="147.7" stroke="#777" stroke-width="0.6"/>
<line x1="31.0" y1="164.7" x2="32.5" y2="164.7" stroke="#777" stroke-width="0.6"/>
<line x1="31.0" y1="181.6" x2="32.5" y2="181.6" stroke="#777" stroke-width="0.6"/>
<line x1="31.0" y1="199.6" x2="32.5" y2="199.6" stroke="#777" stroke-width="0.6"/>
<line x1="31.0" y1="208.2" x2="32.5" y2="208.2" stroke="#777" stroke-width="0.6"/>
<line x1="42.6" y1="215.5" x2="42.6" y2="217.0" stroke="#777" stroke-width="0.6"/>
<line x1="55.1" y1="215.5" x2="55.1" y2="217.0" stroke="#777" stroke-width="0.6"/>
<line x1="77.6" y1="215.5" x2="77.6" y2="217.0" stroke="#777" stroke-width="0.6"/>
<line x1="99.2" y1="215.5" x2="99.2" y2="217.0" stroke="#777" stroke-width="0.6"/>
<line x1="120.3" y1="215.5" x2="120.3" y2="217.0" stroke="#777" stroke-width="0.6"/>
<text x="42.6" y="223.5" font-size="4.2" text-anchor="middle" fill="#333">0</text>
<text x="55.1" y="223.5" font-size="4.2" text-anchor="middle" fill="#333">10²</text>
<text x="77.6" y="223.5" font-size="4.2" text-anchor="middle" fill="#333">10³</text>
<text x="99.2" y="223.5" font-size="4.2" text-anchor="middle" fill="#333">10⁴</text>
<text x="120.3" y="223.5" font-size="4.2" text-anchor="middle" fill="#333">10⁵</text>
<text x="30.2" y="149.1" font-size="4.2" text-anchor="end" fill="#333">10⁵</text>
<text x="30.2" y="166.1" font-size="4.2" text-anchor="end" fill="#333">10⁴</text>
<text x="30.2" y="183.0" font-size="4.2" text-anchor="end" fill="#333">10³</text>
<text x="30.2" y="201.0" font-size="4.2" text-anchor="end" fill="#333">10²</text>
<text x="30.2" y="209.6" font-size="4.2" text-anchor="end" fill="#333">0</text>
<text x="79.1" y="243.5" font-size="9.5" text-anchor="middle">MPN without ruxo</text>
<clipPath id="c87"><rect x="32.5" y="250" width="95.80000000000001" height="74.30000000000001"/></clipPath>
<g clip-path="url(#c87)">
<ellipse cx="47" cy="266" rx="17" ry="4.8" fill="#000" opacity="1" filter="url(#b1)"/>
<ellipse cx="80" cy="266" rx="9" ry="2.4" fill="#000" opacity="0.8" filter="url(#b1)"/>
<ellipse cx="48" cy="313" rx="16" ry="11" fill="#000" opacity="0.9" filter="url(#b2)"/>
<ellipse cx="83" cy="297" rx="5.5" ry="6.5" fill="#000" opacity="0.8" filter="url(#b2)"/>
<path d="M62 258h1m0 0h1m-31 1h1m9 0h1m4 0h1m9 0h1m-23 1h1m2 0h1m0 0h1m0 0h1m0 0h1m6 0h1m1 0h1m17 0h1m0 0h1m5 0h1m-41 1h1m5 0h1m0 0h1m2 0h1m1 0h1m7 0h1m0 0h1m8 0h1m4 0h1m3 0h1m1 0h1m5 0h1m0 0h1m-51 1h1m3 0h1m2 0h1m0 0h1m1 0h1m0 0h1m0 0h1m2 0h1m0 0h1m0 0h1m1 0h1m0 0h1m0 0h1m2 0h1m1 0h1m1 0h1m2 0h1m0 0h1m6 0h1m0 0h1m1 0h1m7 0h1m0 0h1m1 0h1m1 0h1m-57 1h1m0 0h1m2 0h1m1 0h1m0 0h1m0 0h1m4 0h1m0 0h1m0 0h1m0 0h1m0 0h1m1 0h1m0 0h1m1 0h1m0 0h1m2 0h1m0 0h1m1 0h1m1 0h1m1 0h1m1 0h1m1 0h1m1 0h1m0 0h1m3 0h1m0 0h1m4 0h1m0 0h1m0 0h1m1 0h1m6 0h1m-63 1h1m1 0h1m0 0h1m1 0h1m4 0h1m0 0h1m0 0h1m0 0h1m0 0h1m0 0h1m0 0h1m1 0h1m0 0h1m0 0h1m0 0h1m1 0h1m0 0h1m1 0h1m2 0h1m6 0h1m1 0h1m3 0h1m1 0h1m1 0h1m0 0h1m0 0h1m0 0h1m0 0h1m0 0h1m0 0h1m0 0h1m0 0h1m2 0h1m0 0h1m-57 1h1m0 0h1m0 0h1m0 0h1m0 0h1m0 0h1m0 0h1m0 0h1m0 0h1m0 0h1m1 0h1m1 0h1m0 0h1m1 0h1m0 0h1m1 0h1m2 0h1m4 0h1m1 0h1m2 0h1m2 0h1m0 0h1m0 0h1m0 0h1m0 0h1m0 0h1m0 0h1m0 0h1m1 0h1m0 0h1m0 0h1m0 0h1m0 0h1m1 0h1m-53 1h1m3 0h1m1 0h1m0 0h1m0 0h1m1 0h1m0 0h1m0 0h1m0 0h1m0 0h1m0 0h1m1 0h1m1 0h1m0 0h1m0 0h1m0 0h1m0 0h1m1 0h1m0 0h1m0 0h1m1 0h1m3 0h1m1 0h1m5 0h1m1 0h1m1 0h1m0 0h1m0 0h1m1 0h1m0 0h1m0 0h1m0 0h1m0 0h1m3 0h1m2 0h1m-59 1h1m1 0h1m1 0h1m0 0h1m0 0h1m0 0h1m0 0h1m0 0h1m0 0h1m0 0h1m1 0h1m0 0h1m1 0h1m0 0h1m0 0h1m0 0h1m0 0h1m0 0h1m0 0h1m0 0h1m1 0h1m0 0h1m0 0h1m3 0h1m1 0h1m2 0h1m0 0h1m0 0h1m0 0h1m0 0h1m1 0h1m0 0h1m0 0h1m0 0h1m0 0h1m0 0h1m1 0h1m0 0h1m2 0h1m0 0h1m2 0h1m2 0h1m0 0h1m-60 1h1m1 0h1m1 0h1m1 0h1m0 0h1m1 0h1m2 0h1m1 0h1m1 0h1m2 0h1m0 0h1m0 0h1m0 0h1m0 0h1m0 0h1m0 0h1m0 0h1m1 0h1m0 0h1m2 0h1m6 0h1m1 0h1m0 0h1m2 0h1m0 0h1m0 0h1m1 0h1m8 0h1m-62 1h1m1 0h1m0 0h1m0 0h1m0 0h1m2 0h1m0 0h1m0 0h1m0 0h1m0 0h1m3 0h1m0 0h1m3 0h1m0 0h1m0 0h1m0 0h1m0 0h1m2 0h1m4 0h1m2 0h1m1 0h1m5 0h1m2 0h1m0 0h1m3 0h1m0 0h1m3 0h1m-54 1h1m1 0h1m2 0h1m1 0h1m2 0h1m1 0h1m7 0h1m3 0h1m11 0h1m-28 1h1m1 0h1m2 0h1m0 0h1m0 0h1m1 0h1m0 0h1m2 0h1m8 0h1m18 0h1m-51 1h1m3 0h1m0 0h1m0 0h1m4 0h1m1 0h1m7 0h1m-23 1h1m17 0h1m1 0h1m-6 1h1m31 3h1m-3 1h1m-35 1h1m36 1h1m5 1h1m3 1h1m-59 1h1m38 0h1m5 0h1m-6 1h1m4 0h1m-20 1h1m11 0h1m-7 1h1m11 0h1m0 0h1m4 0h1m4 0h1m-34 1h1m6 0h1m10 0h1m3 0h1m0 0h1m3 0h1m1 0h1m-33 1h1m19 0h1m7 0h1m2 0h1m1 0h1m0 0h1m-47 1h1m0 0h1m15 0h1m12 0h1m2 0h1m2 0h1m1 0h1m0 0h1m1 0h1m2 0h1m1 0h1m-57 1h1m9 0h1m12 0h1m22 0h1m0 0h1m1 0h1m0 0h1m0 0h1m3 0h1m2 0h1m-46 1h1m15 0h1m5 0h1m8 0h1m4 0h1m1 0h1m1 0h1m0 0h1m0 0h1m9 0h1m-63 1h1m0 0h1m11 0h1m10 0h1m3 0h1m10 0h1m3 0h1m0 0h1m4 0h1m1 0h1m0 0h1m-52 1h1m2 0h1m9 0h1m2 0h1m0 0h1m15 0h1m5 0h1m0 0h1m1 0h1m0 0h1m0 0h1m0 0h1m0 0h1m0 0h1m0 0h1m0 0h1m0 0h1m0 0h1m0 0h1m-58 1h1m3 0h1m0 0h1m9 0h1m11 0h1m0 0h1m1 0h1m12 0h1m0 0h1m2 0h1m0 0h1m0 0h1m0 0h1m0 0h1m0 0h1m0 0h1m0 0h1m0 0h1m-50 1h1m1 0h1m3 0h1m11 0h1m1 0h1m6 0h1m9 0h1m0 0h1m0 0h1m0 0h1m0 0h1m0 0h1m1 0h1m0 0h1m0 0h1m0 0h1m0 0h1m2 0h1m-54 1h1m7 0h1m5 0h1m1 0h1m4 0h1m1 0h1m4 0h1m0 0h1m4 0h1m2 0h1m2 0h1m1 0h1m0 0h1m2 0h1m0 0h1m0 0h1m0 0h1m0 0h1m0 0h1m-49 1h1m8 0h1m1 0h1m2 0h1m1 0h1m1 0h1m1 0h1m3 0h1m1 0h1m8 0h1m2 0h1m0 0h1m0 0h1m0 0h1m0 0h1m1 0h1m0 0h1m3 0h1m0 0h1m1 0h1m2 0h1m-62 1h1m2 0h1m10 0h1m2 0h1m0 0h1m0 0h1m0 0h1m1 0h1m3 0h1m0 0h1m0 0h1m8 0h1m4 0h1m1 0h1m0 0h1m0 0h1m0 0h1m1 0h1m0 0h1m0 0h1m1 0h1m0 0h1m0 0h1m-55 1h1m4 0h1m2 0h1m5 0h1m2 0h1m0 0h1m0 0h1m1 0h1m2 0h1m3 0h1m3 0h1m0 0h1m6 0h1m0 0h1m1 0h1m1 0h1m0 0h1m0 0h1m0 0h1m0 0h1m0 0h1m0 0h1m0 0h1m1 0h1m1 0h1m2 0h1m1 0h1m-64 1h1m3 0h1m1 0h1m0 0h1m6 0h1m2 0h1m0 0h1m2 0h1m0 0h1m3 0h1m0 0h1m0 0h1m2 0h1m0 0h1m6 0h1m1 0h1m1 0h1m0 0h1m1 0h1m0 0h1m0 0h1m0 0h1m0 0h1m0 0h1m0 0h1m1 0h1m0 0h1m0 0h1m-52 1h1m4 0h1m2 0h1m0 0h1m2 0h1m0 0h1m2 0h1m0 0h1m3 0h1m6 0h1m1 0h1m1 0h1m3 0h1m1 0h1m0 0h1m0 0h1m1 0h1m0 0h1m0 0h1m2 0h1m1 0h1m0 0h1m1 0h1m0 0h1m2 0h1m3 0h1m-64 1h1m2 0h1m8 0h1m3 0h1m3 0h1m2 0h1m0 0h1m1 0h1m0 0h1m0 0h1m0 0h1m6 0h1m0 0h1m2 0h1m1 0h1m0 0h1m1 0h1m2 0h1m0 0h1m1 0h1m1 0h1m0 0h1m1 0h1m6 0h1m-65 1h1m6 0h1m2 0h1m0 0h1m0 0h1m1 0h1m0 0h1m2 0h1m0 0h1m0 0h1m2 0h1m1 0h1m3 0h1m1 0h1m4 0h1m0 0h1m8 0h1m2 0h1m1 0h1m0 0h1m1 0h1m2 0h1m0 0h1m1 0h1m-61 1h1m1 0h1m1 0h1m1 0h1m2 0h1m0 0h1m2 0h1m1 0h1m1 0h1m2 0h1m1 0h1m2 0h1m0 0h1m3 0h1m2 0h1m1 0h1m2 0h1m1 0h1m0 0h1m0 0h1m2 0h1m0 0h1m1 0h1m0 0h1m0 0h1m0 0h1m1 0h1m0 0h1m0 0h1m3 0h1m4 0h1m-65 1h1m3 0h1m1 0h1m1 0h1m0 0h1m1 0h1m0 0h1m2 0h1m0 0h1m0 0h1m1 0h1m0 0h1m0 0h1m0 0h1m0 0h1m0 0h1m1 0h1m2 0h1m1 0h1m2 0h1m1 0h1m6 0h1m5 0h1m1 0h1m0 0h1m0 0h1m0 0h1m4 0h1m1 0h1m0 0h1m-64 1h1m3 0h1m0 0h1m1 0h1m1 0h1m0 0h1m2 0h1m0 0h1m1 0h1m1 0h1m4 0h1m3 0h1m0 0h1m4 0h1m1 0h1m2 0h1m9 0h1m0 0h1m1 0h1m0 0h1m1 0h1m3 0h1m-59 1h1m3 0h1m1 0h1m2 0h1m0 0h1m2 0h1m2 0h1m0 0h1m1 0h1m0 0h1m0 0h1m1 0h1m1 0h1m2 0h1m0 0h1m1 0h1m4 0h1m9 0h1m2 0h1m0 0h1m0 0h1m1 0h1m9 0h1m3 0h1m-64 1h1m0 0h1m3 0h1m2 0h1m0 0h1m0 0h1m0 0h1m4 0h1m1 0h1m1 0h1m0 0h1m4 0h1m2 0h1m3 0h1m1 0h1m4 0h1m18 0h1m6 0h1m-69 1h1m1 0h1m5 0h1m3 0h1m6 0h1m0 0h1m0 0h1m0 0h1m3 0h1m4 0h1m6 0h1m2 0h1m0 0h1m1 0h1m1 0h1m3 0h1m0 0h1m4 0h1m7 0h1m0 0h1m-67 1h1m1 0h1m4 0h1m7 0h1m1 0h1m0 0h1m0 0h1m2 0h1m0 0h1m1 0h1m1 0h1m0 0h1m1 0h1m14 0h1m0 0h1m2 0h1m2 0h1m1 0h1m0 0h1m3 0h1m-56 1h1m2 0h1m0 0h1m0 0h1m0 0h1m0 0h1m0 0h1m0 0h1m0 0h1m0 0h1m0 0h1m1 0h1m0 0h1m1 0h1m1 0h1m0 0h1m0 0h1m0 0h1m0 0h1m0 0h1m12 0h1m1 0h1m4 0h1m0 0h1m2 0h1m2 0h1m3 0h1m6 0h1m-68 1h1m1 0h1m4 0h1m0 0h1m7 0h1m0 0h1m0 0h1m3 0h1m0 0h1m2 0h1m0 0h1m2 0h1m0 0h1m0 0h1m2 0h1m4 0h1m1 0h1m1 0h1m0 0h1m6 0h1m1 0h1m14 0h1m3 0h1m-74 1h1m1 0h1m1 0h1m1 0h1m1 0h1m2 0h1m0 0h1m0 0h1m1 0h1m0 0h1m2 0h1m2 0h1m3 0h1m0 0h1m2 0h1m2 0h1m7 0h1m2 0h1m6 0h1m0 0h1m11 0h1m4 0h1m-67 1h1m2 0h1m1 0h1m2 0h1m3 0h1m2 0h1m0 0h1m3 0h1m2 0h1m0 0h1m2 0h1m1 0h1m2 0h1m1 0h1m0 0h1m3 0h1m-43 1h1m0 0h1m1 0h1m1 0h1m5 0h1m0 0h1m3 0h1m0 0h1m1 0h1m1 0h1m0 0h1m0 0h1m0 0h1m1 0h1m0 0h1m1 0h1m3 0h1m8 0h1m2 0h1m0 0h1m0 0h1m13 0h1m-54 1h1m4 0h1m1 0h1m1 0h1m0 0h1m0 0h1m2 0h1m0 0h1m1 0h1m0 0h1m0 0h1m5 0h1m19 0h1m4 0h1m5 0h1m5 0h1m-63 1h1m1 0h1m0 0h1m1 0h1m0 0h1m0 0h1m9 0h1m1 0h1m2 0h1m5 0h1m3 0h1m6 0h1m14 0h1m-62 1h1m4 0h1m5 0h1m2 0h1m1 0h1m1 0h1m1 0h1m0 0h1m2 0h1m1 0h1m1 0h1m1 0h1m2 0h1m4 0h1m8 0h1m3 0h1m7 0h1m-58 1h1m3 0h1m3 0h1m5 0h1m0 0h1m0 0h1m0 0h1m8 0h1m-28 1h1m3 0h1m6 0h1m5 0h1m4 0h1m1 0h1m5 0h1m7 0h1m6 0h1m8 0h1m7 0h1m-64 1h1m3 0h1m3 0h1m0 0h1m3 0h1m0 0h1m0 0h1m3 0h1m3 0h1m1 0h1m5 0h1m4 0h1m3 0h1m0 0h1m4 0h1m-47 1h1m3 0h1m1 0h1m3 0h1m0 0h1m0 0h1m10 0h1m0 0h1m0 0h1m2 0h1m0 0h1m5 0h1m18 0h1m-54 1h1m12 0h1m0 0h1m1 0h1m0 0h1m3 0h1m37 0h1m-40 1h1m5 0h1" transform="translate(0 .5)" stroke="#000" stroke-width="1" opacity="0.42"/>
<path d="M47 258h1m18 0h1m-23 1h1m12 0h1m-19 1h1m3 0h1m2 0h1m0 0h1m6 0h1m2 0h1m5 0h1m0 0h1m14 0h1m-46 1h1m0 0h1m1 0h1m0 0h1m0 0h1m0 0h1m0 0h1m0 0h1m0 0h1m4 0h1m1 0h1m1 0h1m1 0h1m0 0h1m2 0h1m1 0h1m2 0h1m3 0h1m2 0h1m3 0h1m7 0h1m9 0h1m-57 1h1m0 0h1m0 0h1m3 0h1m2 0h1m0 0h1m0 0h1m0 0h1m0 0h1m0 0h1m0 0h1m1 0h1m0 0h1m0 0h1m5 0h1m0 0h1m0 0h1m3 0h1m2 0h1m6 0h1m4 0h1m1 0h1m7 0h1m-58 1h1m0 0h1m0 0h1m0 0h1m1 0h1m1 0h1m0 0h1m3 0h1m0 0h1m1 0h1m1 0h1m0 0h1m0 0h1m0 0h1m0 0h1m1 0h1m0 0h1m0 0h1m0 0h1m0 0h1m0 0h1m4 0h1m0 0h1m4 0h1m1 0h1m0 0h1m0 0h1m1 0h1m0 0h1m1 0h1m4 0h1m0 0h1m1 0h1m-60 1h1m0 0h1m0 0h1m1 0h1m0 0h1m0 0h1m0 0h1m1 0h1m0 0h1m2 0h1m0 0h1m6 0h1m0 0h1m0 0h1m0 0h1m2 0h1m0 0h1m0 0h1m4 0h1m0 0h1m1 0h1m1 0h1m0 0h1m0 0h1m0 0h1m0 0h1m0 0h1m1 0h1m0 0h1m0 0h1m0 0h1m0 0h1m0 0h1m0 0h1m8 0h1m-61 1h1m1 0h1m0 0h1m0 0h1m0 0h1m0 0h1m1 0h1m0 0h1m0 0h1m0 0h1m0 0h1m1 0h1m0 0h1m0 0h1m0 0h1m0 0h1m0 0h1m1 0h1m0 0h1m0 0h1m0 0h1m2 0h1m2 0h1m0 0h1m1 0h1m1 0h1m1 0h1m2 0h1m2 0h1m0 0h1m0 0h1m0 0h1m0 0h1m0 0h1m1 0h1m0 0h1m0 0h1m0 0h1m4 0h1m-60 1h1m0 0h1m0 0h1m0 0h1m0 0h1m0 0h1m1 0h1m2 0h1m0 0h1m0 0h1m0 0h1m0 0h1m1 0h1m0 0h1m0 0h1m1 0h1m1 0h1m0 0h1m0 0h1m2 0h1m0 0h1m0 0h1m0 0h1m0 0h1m0 0h1m1 0h1m0 0h1m0 0h1m0 0h1m0 0h1m0 0h1m0 0h1m0 0h1m2 0h1m1 0h1m0 0h1m1 0h1m1 0h1m0 0h1m0 0h1m0 0h1m0 0h1m2 0h1m6 0h1m2 0h1m-69 1h1m1 0h1m0 0h1m0 0h1m0 0h1m0 0h1m1 0h1m0 0h1m1 0h1m0 0h1m0 0h1m0 0h1m0 0h1m0 0h1m0 0h1m0 0h1m1 0h1m2 0h1m0 0h1m3 0h1m1 0h1m2 0h1m1 0h1m6 0h1m0 0h1m0 0h1m0 0h1m0 0h1m1 0h1m2 0h1m1 0h1m0 0h1m0 0h1m0 0h1m0 0h1m1 0h1m0 0h1m1 0h1m-61 1h1m0 0h1m0 0h1m0 0h1m0 0h1m0 0h1m0 0h1m0 0h1m1 0h1m0 0h1m1 0h1m0 0h1m0 0h1m0 0h1m0 0h1m1 0h1m0 0h1m1 0h1m1 0h1m0 0h1m3 0h1m0 0h1m0 0h1m5 0h1m3 0h1m3 0h1m0 0h1m0 0h1m0 0h1m0 0h1m0 0h1m4 0h1m1 0h1m-58 1h1m0 0h1m2 0h1m2 0h1m0 0h1m0 0h1m1 0h1m4 0h1m2 0h1m1 0h1m0 0h1m0 0h1m1 0h1m4 0h1m2 0h1m1 0h1m5 0h1m0 0h1m1 0h1m0 0h1m0 0h1m0 0h1m3 0h1m1 0h1m3 0h1m-56 1h1m2 0h1m4 0h1m0 0h1m3 0h1m0 0h1m4 0h1m4 0h1m4 0h1m0 0h1m3 0h1m7 0h1m3 0h1m3 0h1m2 0h1m5 0h1m-60 1h1m1 0h1m3 0h1m3 0h1m0 0h1m2 0h1m1 0h1m1 0h1m0 0h1m0 0h1m19 0h1m0 0h1m-24 1h1m1 0h1m0 0h1m4 0h1m5 0h1m-33 1h1m0 2h1m44 0h1m0 0h1m-37 1h1m-9 3h1m8 3h1m3 1h1m32 1h1m0 0h1m0 0h1m2 0h1m-45 1h1m8 0h1m22 0h1m5 0h1m0 0h1m-43 1h1m26 0h1m7 0h1m2 0h1m0 0h1m0 0h1m0 0h1m1 0h1m13 0h1m-50 1h1m2 0h1m26 0h1m3 0h1m0 0h1m2 0h1m1 0h1m1 0h1m-53 1h1m4 0h1m13 0h1m15 0h1m2 0h1m2 0h1m5 0h1m-48 1h1m9 0h1m25 0h1m0 0h1m0 0h1m0 0h1m0 0h1m0 0h1m1 0h1m0 0h1m1 0h1m0 0h1m0 0h1m1 0h1m5 0h1m-63 1h1m4 0h1m4 0h1m13 0h1m12 0h1m4 0h1m3 0h1m0 0h1m0 0h1m0 0h1m1 0h1m0 0h1m0 0h1m6 0h1m-47 1h1m12 0h1m13 0h1m2 0h1m0 0h1m0 0h1m1 0h1m0 0h1m2 0h1m3 0h1m2 0h1m-60 1h1m32 0h1m0 0h1m4 0h1m5 0h1m0 0h1m1 0h1m0 0h1m2 0h1m0 0h1m-55 1h1m12 0h1m0 0h1m3 0h1m0 0h1m0 0h1m7 0h1m15 0h1m0 0h1m0 0h1m1 0h1m0 0h1m0 0h1m0 0h1m0 0h1m0 0h1m0 0h1m0 0h1m3 0h1m-57 1h1m0 0h1m0 0h1m13 0h1m4 0h1m7 0h1m1 0h1m1 0h1m1 0h1m1 0h1m0 0h1m1 0h1m0 0h1m0 0h1m0 0h1m0 0h1m0 0h1m0 0h1m0 0h1m1 0h1m0 0h1m1 0h1m-52 1h1m11 0h1m0 0h1m0 0h1m0 0h1m5 0h1m17 0h1m1 0h1m2 0h1m2 0h1m0 0h1m1 0h1m0 0h1m1 0h1m0 0h1m-59 1h1m2 0h1m7 0h1m2 0h1m0 0h1m2 0h1m2 0h1m7 0h1m2 0h1m9 0h1m0 0h1m0 0h1m1 0h1m0 0h1m0 0h1m0 0h1m0 0h1m0 0h1m0 0h1m1 0h1m1 0h1m0 0h1m7 0h1m-63 1h1m4 0h1m1 0h1m6 0h1m1 0h1m5 0h1m6 0h1m3 0h1m1 0h1m3 0h1m0 0h1m0 0h1m0 0h1m1 0h1m1 0h1m0 0h1m0 0h1m0 0h1m1 0h1m0 0h1m0 0h1m2 0h1m1 0h1m6 0h1m-61 1h1m7 0h1m1 0h1m1 0h1m1 0h1m2 0h1m7 0h1m2 0h1m5 0h1m1 0h1m0 0h1m0 0h1m0 0h1m1 0h1m0 0h1m0 0h1m0 0h1m0 0h1m0 0h1m2 0h1m-58 1h1m9 0h1m0 0h1m5 0h1m3 0h1m0 0h1m1 0h1m1 0h1m1 0h1m1 0h1m1 0h1m6 0h1m4 0h1m0 0h1m1 0h1m0 0h1m0 0h1m0 0h1m0 0h1m1 0h1m0 0h1m1 0h1m0 0h1m0 0h1m2 0h1m0 0h1m0 0h1m5 0h1m-66 1h1m4 0h1m0 0h1m0 0h1m0 0h1m2 0h1m1 0h1m0 0h1m0 0h1m0 0h1m0 0h1m1 0h1m1 0h1m2 0h1m0 0h1m2 0h1m6 0h1m3 0h1m1 0h1m0 0h1m0 0h1m0 0h1m0 0h1m0 0h1m0 0h1m0 0h1m1 0h1m0 0h1m1 0h1m1 0h1m-56 1h1m0 0h1m2 0h1m4 0h1m0 0h1m2 0h1m0 0h1m0 0h1m1 0h1m1 0h1m0 0h1m0 0h1m0 0h1m2 0h1m0 0h1m7 0h1m1 0h1m2 0h1m3 0h1m0 0h1m0 0h1m0 0h1m0 0h1m0 0h1m0 0h1m0 0h1m1 0h1m0 0h1m0 0h1m-59 1h1m0 0h1m3 0h1m5 0h1m5 0h1m0 0h1m0 0h1m3 0h1m1 0h1m7 0h1m2 0h1m1 0h1m4 0h1m5 0h1m0 0h1m1 0h1m0 0h1m0 0h1m0 0h1m0 0h1m3 0h1m-62 1h1m4 0h1m1 0h1m2 0h1m2 0h1m0 0h1m0 0h1m0 0h1m0 0h1m0 0h1m4 0h1m1 0h1m1 0h1m3 0h1m4 0h1m1 0h1m0 0h1m3 0h1m3 0h1m2 0h1m0 0h1m0 0h1m0 0h1m0 0h1m3 0h1m0 0h1m-58 1h1m2 0h1m0 0h1m2 0h1m2 0h1m0 0h1m1 0h1m0 0h1m1 0h1m2 0h1m0 0h1m0 0h1m0 0h1m0 0h1m0 0h1m0 0h1m5 0h1m0 0h1m5 0h1m0 0h1m6 0h1m0 0h1m0 0h1m0 0h1m1 0h1m0 0h1m1 0h1m4 0h1m-62 1h1m1 0h1m2 0h1m0 0h1m2 0h1m1 0h1m2 0h1m0 0h1m0 0h1m2 0h1m0 0h1m1 0h1m0 0h1m0 0h1m3 0h1m1 0h1m0 0h1m6 0h1m2 0h1m0 0h1m2 0h1m1 0h1m0 0h1m1 0h1m0 0h1m1 0h1m-52 1h1m2 0h1m0 0h1m0 0h1m4 0h1m2 0h1m0 0h1m5 0h1m2 0h1m0 0h1m0 0h1m0 0h1m9 0h1m3 0h1m3 0h1m0 0h1m0 0h1m0 0h1m0 0h1m2 0h1m1 0h1m0 0h1m2 0h1m-59 1h1m1 0h1m2 0h1m4 0h1m1 0h1m0 0h1m0 0h1m0 0h1m0 0h1m1 0h1m1 0h1m0 0h1m0 0h1m4 0h1m4 0h1m4 0h1m9 0h1m0 0h1m2 0h1m4 0h1m2 0h1m0 0h1m8 0h1m-68 1h1m4 0h1m0 0h1m2 0h1m0 0h1m2 0h1m0 0h1m3 0h1m1 0h1m0 0h1m1 0h1m0 0h1m5 0h1m0 0h1m0 0h1m1 0h1m1 0h1m0 0h1m4 0h1m3 0h1m2 0h1m1 0h1m16 0h1m-69 1h1m1 0h1m6 0h1m0 0h1m0 0h1m0 0h1m0 0h1m0 0h1m0 0h1m0 0h1m0 0h1m0 0h1m1 0h1m0 0h1m1 0h1m5 0h1m4 0h1m5 0h1m4 0h1m1 0h1m0 0h1m0 0h1m2 0h1m0 0h1m1 0h1m1 0h1m1 0h1m-61 1h1m2 0h1m5 0h1m0 0h1m0 0h1m1 0h1m0 0h1m0 0h1m2 0h1m0 0h1m0 0h1m9 0h1m9 0h1m0 0h1m1 0h1m1 0h1m5 0h1m4 0h1m2 0h1m2 0h1m9 0h1m-73 1h1m4 0h1m0 0h1m4 0h1m1 0h1m0 0h1m4 0h1m1 0h1m0 0h1m1 0h1m4 0h1m17 0h1m1 0h1m-48 1h1m4 0h1m2 0h1m1 0h1m0 0h1m0 0h1m0 0h1m0 0h1m1 0h1m0 0h1m0 0h1m1 0h1m0 0h1m1 0h1m4 0h1m2 0h1m6 0h1m1 0h1m1 0h1m3 0h1m5 0h1m0 0h1m-53 1h1m3 0h1m1 0h1m1 0h1m0 0h1m1 0h1m0 0h1m1 0h1m4 0h1m0 0h1m2 0h1m0 0h1m2 0h1m6 0h1m5 0h1m0 0h1m3 0h1m-51 1h1m4 0h1m1 0h1m4 0h1m0 0h1m1 0h1m5 0h1m0 0h1m0 0h1m0 0h1m4 0h1m0 0h1m1 0h1m1 0h1m0 0h1m6 0h1m4 0h1m0 0h1m2 0h1m3 0h1m4 0h1m-59 1h1m2 0h1m0 0h1m0 0h1m0 0h1m0 0h1m1 0h1m2 0h1m0 0h1m0 0h1m1 0h1m0 0h1m2 0h1m1 0h1m0 0h1m2 0h1m3 0h1m17 0h1m6 0h1m0 0h1m-59 1h1m2 0h1m1 0h1m3 0h1m0 0h1m1 0h1m0 0h1m2 0h1m0 0h1m0 0h1m3 0h1m0 0h1m0 0h1m0 0h1m1 0h1m1 0h1m0 0h1m7 0h1m4 0h1m8 0h1m6 0h1m-53 1h1m3 0h1m6 0h1m1 0h1m0 0h1m0 0h1m1 0h1m2 0h1m0 0h1m5 0h1m4 0h1m0 0h1m4 0h1m7 0h1m-53 1h1m0 0h1m4 0h1m0 0h1m1 0h1m1 0h1m1 0h1m2 0h1m2 0h1m2 0h1m2 0h1m0 0h1m1 0h1m12 0h1m8 0h1m3 0h1m4 0h1m4 0h1m-62 1h1m3 0h1m4 0h1m1 0h1m1 0h1m2 0h1m2 0h1m2 0h1m0 0h1m3 0h1m7 0h1m9 0h1m5 0h1m6 0h1m-62 1h1m5 0h1m2 0h1m1 0h1m0 0h1m3 0h1m1 0h1m2 0h1m0 0h1m6 0h1m7 0h1m1 0h1m-41 1h1m9 0h1m4 0h1m1 0h1m3 0h1m2 0h1m6 0h1m3 0h1m1 0h1m-29 1h1m0 0h1m2 0h1m0 0h1m0 0h1m0 0h1m0 0h1m2 0h1m0 0h1m0 0h1m1 0h1m0 0h1m0 0h1m8 0h1m3 0h1m1 0h1m12 0h1m8 0h1m-56 1h1m2 0h1m5 0h1m0 0h1m2 0h1m1 0h1m0 0h1m0 0h1m0 0h1m5 0h1m3 0h1m-29 1h1m3 0h1m8 0h1m8 0h1" transform="translate(0 .5)" stroke="#000" stroke-width="1" opacity="0.42"/>
<path d="M63 257h1m-11 1h1m-19 1h1m4 0h1m1 0h1m5 0h1m2 0h1m0 0h1m4 0h1m-22 1h1m0 0h1m2 0h1m0 0h1m5 0h1m0 0h1m1 0h1m1 0h1m0 0h1m2 0h1m4 0h1m7 0h1m18 0h1m3 0h1m-54 1h1m6 0h1m2 0h1m0 0h1m5 0h1m0 0h1m0 0h1m2 0h1m6 0h1m3 0h1m3 0h1m-42 1h1m1 0h1m2 0h1m1 0h1m1 0h1m0 0h1m2 0h1m1 0h1m2 0h1m2 0h1m2 0h1m13 0h1m1 0h1m4 0h1m9 0h1m-55 1h1m2 0h1m0 0h1m0 0h1m0 0h1m1 0h1m0 0h1m0 0h1m0 0h1m0 0h1m0 0h1m0 0h1m0 0h1m0 0h1m1 0h1m0 0h1m1 0h1m2 0h1m1 0h1m2 0h1m1 0h1m0 0h1m8 0h1m2 0h1m0 0h1m4 0h1m0 0h1m0 0h1m3 0h1m-60 1h1m2 0h1m0 0h1m1 0h1m0 0h1m0 0h1m0 0h1m0 0h1m0 0h1m0 0h1m1 0h1m0 0h1m0 0h1m0 0h1m0 0h1m0 0h1m1 0h1m0 0h1m0 0h1m2 0h1m0 0h1m1 0h1m0 0h1m1 0h1m0 0h1m0 0h1m0 0h1m3 0h1m0 0h1m0 0h1m0 0h1m1 0h1m0 0h1m1 0h1m0 0h1m1 0h1m0 0h1m0 0h1m2 0h1m0 0h1m3 0h1m-62 1h1m0 0h1m0 0h1m0 0h1m0 0h1m0 0h1m0 0h1m0 0h1m0 0h1m1 0h1m0 0h1m0 0h1m0 0h1m0 0h1m0 0h1m0 0h1m0 0h1m0 0h1m0 0h1m0 0h1m0 0h1m1 0h1m0 0h1m0 0h1m1 0h1m4 0h1m2 0h1m1 0h1m0 0h1m0 0h1m0 0h1m1 0h1m0 0h1m0 0h1m1 0h1m1 0h1m0 0h1m0 0h1m0 0h1m0 0h1m0 0h1m1 0h1m1 0h1m0 0h1m1 0h1m7 0h1m-68 1h1m0 0h1m0 0h1m1 0h1m1 0h1m0 0h1m1 0h1m1 0h1m1 0h1m1 0h1m1 0h1m0 0h1m0 0h1m0 0h1m0 0h1m1 0h1m2 0h1m2 0h1m0 0h1m0 0h1m0 0h1m0 0h1m1 0h1m0 0h1m1 0h1m1 0h1m0 0h1m2 0h1m1 0h1m0 0h1m0 0h1m0 0h1m0 0h1m0 0h1m0 0h1m0 0h1m0 0h1m0 0h1m0 0h1m-56 1h1m3 0h1m0 0h1m0 0h1m1 0h1m4 0h1m0 0h1m3 0h1m0 0h1m1 0h1m0 0h1m3 0h1m3 0h1m0 0h1m0 0h1m0 0h1m2 0h1m0 0h1m0 0h1m0 0h1m0 0h1m1 0h1m0 0h1m1 0h1m0 0h1m0 0h1m1 0h1m0 0h1m0 0h1m0 0h1m1 0h1m0 0h1m4 0h1m1 0h1m-64 1h1m0 0h1m0 0h1m1 0h1m3 0h1m0 0h1m1 0h1m0 0h1m0 0h1m0 0h1m1 0h1m1 0h1m0 0h1m0 0h1m6 0h1m0 0h1m0 0h1m2 0h1m0 0h1m0 0h1m1 0h1m0 0h1m1 0h1m0 0h1m4 0h1m1 0h1m0 0h1m1 0h1m3 0h1m2 0h1m0 0h1m5 0h1m-65 1h1m0 0h1m0 0h1m4 0h1m0 0h1m1 0h1m4 0h1m2 0h1m2 0h1m0 0h1m0 0h1m0 0h1m2 0h1m5 0h1m1 0h1m2 0h1m0 0h1m2 0h1m1 0h1m2 0h1m3 0h1m-53 1h1m4 0h1m2 0h1m5 0h1m0 0h1m0 0h1m0 0h1m0 0h1m0 0h1m4 0h1m2 0h1m1 0h1m1 0h1m0 0h1m1 0h1m0 0h1m0 0h1m4 0h1m4 0h1m0 0h1m2 0h1m3 0h1m-54 1h1m1 0h1m2 0h1m0 0h1m1 0h1m1 0h1m2 0h1m3 0h1m0 0h1m0 0h1m2 0h1m1 0h1m1 0h1m2 0h1m12 0h1m-43 1h1m1 0h1m6 0h1m3 0h1m14 0h1m-14 1h1m5 0h1m14 0h1m3 0h1m9 3h1m-50 3h1m7 1h1m7 1h1m1 0h1m26 0h1m2 1h1m-2 1h1m0 0h1m1 0h1m-22 1h1m13 0h1m2 0h1m2 0h1m9 0h1m-25 1h1m4 0h1m1 0h1m6 0h1m1 0h1m1 0h1m-45 1h1m26 0h1m4 0h1m0 0h1m0 0h1m1 0h1m4 0h1m0 0h1m1 0h1m-41 1h1m15 0h1m5 0h1m6 0h1m1 0h1m0 0h1m8 0h1m1 0h1m-39 1h1m22 0h1m4 0h1m2 0h1m0 0h1m0 0h1m1 0h1m3 0h1m1 0h1m-52 1h1m14 0h1m1 0h1m18 0h1m3 0h1m0 0h1m0 0h1m0 0h1m1 0h1m5 0h1m-47 1h1m1 0h1m2 0h1m26 0h1m0 0h1m2 0h1m0 0h1m0 0h1m2 0h1m1 0h1m-44 1h1m0 0h1m10 0h1m3 0h1m10 0h1m0 0h1m0 0h1m0 0h1m0 0h1m1 0h1m0 0h1m1 0h1m0 0h1m0 0h1m1 0h1m0 0h1m2 0h1m1 0h1m-56 1h1m22 0h1m0 0h1m2 0h1m7 0h1m3 0h1m1 0h1m0 0h1m0 0h1m0 0h1m0 0h1m1 0h1m1 0h1m-56 1h1m0 0h1m16 0h1m0 0h1m21 0h1m0 0h1m0 0h1m1 0h1m0 0h1m0 0h1m0 0h1m0 0h1m1 0h1m0 0h1m0 0h1m-41 1h1m4 0h1m0 0h1m4 0h1m6 0h1m10 0h1m2 0h1m1 0h1m0 0h1m0 0h1m0 0h1m0 0h1m0 0h1m0 0h1m1 0h1m6 0h1m-53 1h1m0 0h1m4 0h1m1 0h1m0 0h1m15 0h1m2 0h1m5 0h1m0 0h1m1 0h1m3 0h1m0 0h1m0 0h1m0 0h1m0 0h1m0 0h1m3 0h1m-54 1h1m0 0h1m8 0h1m1 0h1m1 0h1m0 0h1m3 0h1m14 0h1m0 0h1m1 0h1m0 0h1m0 0h1m0 0h1m0 0h1m0 0h1m0 0h1m0 0h1m0 0h1m0 0h1m0 0h1m1 0h1m-45 1h1m1 0h1m7 0h1m2 0h1m1 0h1m4 0h1m9 0h1m0 0h1m0 0h1m0 0h1m0 0h1m1 0h1m0 0h1m1 0h1m0 0h1m0 0h1m0 0h1m1 0h1m0 0h1m3 0h1m1 0h1m-56 1h1m1 0h1m3 0h1m0 0h1m1 0h1m3 0h1m1 0h1m2 0h1m4 0h1m1 0h1m1 0h1m3 0h1m0 0h1m2 0h1m1 0h1m1 0h1m0 0h1m0 0h1m1 0h1m0 0h1m1 0h1m2 0h1m1 0h1m1 0h1m0 0h1m-55 1h1m0 0h1m0 0h1m0 0h1m7 0h1m1 0h1m5 0h1m2 0h1m7 0h1m1 0h1m2 0h1m0 0h1m2 0h1m0 0h1m0 0h1m0 0h1m0 0h1m0 0h1m0 0h1m0 0h1m1 0h1m0 0h1m11 0h1m-70 1h1m1 0h1m5 0h1m1 0h1m0 0h1m0 0h1m0 0h1m2 0h1m4 0h1m0 0h1m1 0h1m1 0h1m6 0h1m7 0h1m2 0h1m1 0h1m0 0h1m2 0h1m0 0h1m1 0h1m0 0h1m0 0h1m2 0h1m0 0h1m-55 1h1m5 0h1m1 0h1m1 0h1m1 0h1m0 0h1m1 0h1m0 0h1m8 0h1m1 0h1m1 0h1m0 0h1m1 0h1m5 0h1m0 0h1m0 0h1m0 0h1m0 0h1m0 0h1m0 0h1m0 0h1m1 0h1m1 0h1m0 0h1m1 0h1m1 0h1m1 0h1m0 0h1m4 0h1m-67 1h1m3 0h1m4 0h1m0 0h1m0 0h1m0 0h1m1 0h1m1 0h1m0 0h1m2 0h1m0 0h1m0 0h1m0 0h1m0 0h1m0 0h1m1 0h1m0 0h1m0 0h1m1 0h1m0 0h1m1 0h1m3 0h1m3 0h1m1 0h1m1 0h1m1 0h1m1 0h1m1 0h1m1 0h1m6 0h1m8 0h1m-68 1h1m1 0h1m3 0h1m0 0h1m0 0h1m3 0h1m1 0h1m0 0h1m1 0h1m1 0h1m0 0h1m16 0h1m2 0h1m0 0h1m3 0h1m1 0h1m1 0h1m0 0h1m0 0h1m1 0h1m1 0h1m3 0h1m-63 1h1m0 0h1m0 0h1m1 0h1m1 0h1m3 0h1m3 0h1m0 0h1m0 0h1m0 0h1m2 0h1m0 0h1m2 0h1m1 0h1m0 0h1m0 0h1m0 0h1m0 0h1m0 0h1m3 0h1m6 0h1m0 0h1m1 0h1m0 0h1m0 0h1m1 0h1m0 0h1m0 0h1m0 0h1m0 0h1m2 0h1m-57 1h1m0 0h1m1 0h1m0 0h1m3 0h1m5 0h1m0 0h1m2 0h1m0 0h1m0 0h1m0 0h1m1 0h1m0 0h1m7 0h1m0 0h1m0 0h1m3 0h1m2 0h1m0 0h1m0 0h1m0 0h1m0 0h1m0 0h1m0 0h1m0 0h1m0 0h1m0 0h1m0 0h1m0 0h1m2 0h1m21 0h1m-77 1h1m0 0h1m0 0h1m1 0h1m2 0h1m0 0h1m6 0h1m0 0h1m1 0h1m0 0h1m2 0h1m5 0h1m1 0h1m3 0h1m6 0h1m4 0h1m1 0h1m1 0h1m0 0h1m1 0h1m3 0h1m2 0h1m1 0h1m-63 1h1m2 0h1m2 0h1m0 0h1m4 0h1m0 0h1m0 0h1m0 0h1m0 0h1m0 0h1m0 0h1m0 0h1m0 0h1m4 0h1m1 0h1m0 0h1m2 0h1m1 0h1m2 0h1m6 0h1m5 0h1m0 0h1m0 0h1m7 0h1m0 0h1m3 0h1m-65 1h1m0 0h1m1 0h1m0 0h1m1 0h1m1 0h1m0 0h1m1 0h1m1 0h1m1 0h1m0 0h1m3 0h1m0 0h1m1 0h1m1 0h1m1 0h1m0 0h1m1 0h1m0 0h1m0 0h1m0 0h1m4 0h1m6 0h1m4 0h1m5 0h1m0 0h1m0 0h1m-60 1h1m2 0h1m0 0h1m1 0h1m0 0h1m0 0h1m0 0h1m1 0h1m0 0h1m1 0h1m2 0h1m0 0h1m0 0h1m1 0h1m0 0h1m3 0h1m2 0h1m2 0h1m1 0h1m0 0h1m2 0h1m3 0h1m6 0h1m1 0h1m0 0h1m3 0h1m1 0h1m-60 1h1m4 0h1m2 0h1m2 0h1m0 0h1m0 0h1m1 0h1m0 0h1m1 0h1m0 0h1m2 0h1m0 0h1m1 0h1m1 0h1m0 0h1m2 0h1m0 0h1m0 0h1m4 0h1m3 0h1m12 0h1m16 0h1m-71 1h1m4 0h1m1 0h1m0 0h1m1 0h1m0 0h1m0 0h1m1 0h1m1 0h1m0 0h1m0 0h1m0 0h1m3 0h1m1 0h1m0 0h1m0 0h1m2 0h1m0 0h1m2 0h1m1 0h1m1 0h1m4 0h1m-45 1h1m3 0h1m0 0h1m0 0h1m0 0h1m7 0h1m1 0h1m0 0h1m0 0h1m0 0h1m0 0h1m0 0h1m2 0h1m1 0h1m0 0h1m2 0h1m6 0h1m1 0h1m5 0h1m1 0h1m7 0h1m8 0h1m-64 1h1m0 0h1m5 0h1m0 0h1m1 0h1m2 0h1m1 0h1m0 0h1m3 0h1m0 0h1m0 0h1m0 0h1m0 0h1m0 0h1m0 0h1m0 0h1m1 0h1m0 0h1m3 0h1m8 0h1m1 0h1m0 0h1m0 0h1m4 0h1m1 0h1m4 0h1m-60 1h1m2 0h1m1 0h1m2 0h1m2 0h1m0 0h1m1 0h1m1 0h1m0 0h1m1 0h1m0 0h1m4 0h1m0 0h1m7 0h1m5 0h1m7 0h1m1 0h1m3 0h1m-56 1h1m1 0h1m2 0h1m1 0h1m1 0h1m2 0h1m1 0h1m0 0h1m1 0h1m0 0h1m0 0h1m6 0h1m0 0h1m2 0h1m0 0h1m2 0h1m34 0h1m-68 1h1m3 0h1m2 0h1m3 0h1m0 0h1m2 0h1m0 0h1m1 0h1m3 0h1m1 0h1m2 0h1m2 0h1m1 0h1m8 0h1m9 0h1m0 0h1m-57 1h1m0 0h1m1 0h1m6 0h1m2 0h1m0 0h1m0 0h1m4 0h1m0 0h1m0 0h1m1 0h1m2 0h1m0 0h1m3 0h1m18 0h1m-44 1h1m6 0h1m0 0h1m11 0h1m1 0h1m5 0h1m-37 1h1m0 0h1m0 0h1m10 0h1m0 0h1m0 0h1m0 0h1m3 0h1m2 0h1m2 0h1m10 0h1m7 0h1m3 0h1m6 0h1m2 0h1m-54 1h1m3 0h1m0 0h1m2 0h1m5 0h1m1 0h1m0 0h1m7 0h1m1 0h1m3 0h1m4 0h1m12 0h1m-50 1h1m3 0h1m3 0h1m0 0h1m2 0h1m2 0h1m5 0h1m3 0h1m15 0h1m-37 1h1m2 0h1m1 0h1m1 0h1m4 0h1m0 0h1m2 0h1m3 0h1m6 0h1m-28 1h1m1 0h1m0 0h1m0 0h1m4 0h1m1 0h1m10 0h1m2 0h1m10 0h1m0 0h1m0 0h1m5 0h1m-50 1h1m4 0h1m4 0h1m22 0h1" transform="translate(0 .5)" stroke="#000" stroke-width="1" opacity="0.42"/>
<path d="M43 263h1m7 2h1m1 0h1m2 0h1m-2 1h1m-12 1h1m7 0h1m3 1h1m17 0h1m-24 1h1m3 0h1m4 0h1m5 0h1m-35 1h1m8 0h1m8 0h1m2 0h1m-11 1h1m0 0h1m2 0h1m0 0h1m0 0h1m0 0h1m1 0h1m10 0h1m5 0h1m2 0h1m-40 1h1m7 0h1m3 0h1m8 0h1m2 0h1m2 0h1m6 0h1m-34 1h1m2 0h1m2 0h1m2 0h1m0 0h1m1 0h1m2 0h1m5 0h1m3 0h1m2 0h1m6 0h1m0 0h1m2 0h1m10 0h1m4 0h1m-56 1h1m2 0h1m14 0h1m0 0h1m0 0h1m1 0h1m2 0h1m0 0h1m4 0h1m3 0h1m2 0h1m0 0h1m4 0h1m3 0h1m-46 1h1m0 0h1m3 0h1m0 0h1m8 0h1m6 0h1m12 0h1m5 0h1m0 0h1m-46 1h1m3 0h1m0 0h1m5 0h1m6 0h1m2 0h1m2 0h1m0 0h1m1 0h1m1 0h1m4 0h1m0 0h1m0 0h1m0 0h1m3 0h1m-42 1h1m5 0h1m0 0h1m1 0h1m2 0h1m1 0h1m2 0h1m1 0h1m0 0h1m0 0h1m1 0h1m2 0h1m2 0h1m0 0h1m0 0h1m2 0h1m0 0h1m1 0h1m7 0h1m-47 1h1m3 0h1m3 0h1m1 0h1m0 0h1m0 0h1m0 0h1m1 0h1m0 0h1m1 0h1m1 0h1m6 0h1m3 0h1m0 0h1m9 0h1m1 0h1m-43 1h1m1 0h1m0 0h1m0 0h1m0 0h1m0 0h1m1 0h1m0 0h1m0 0h1m3 0h1m0 0h1m0 0h1m0 0h1m0 0h1m0 0h1m0 0h1m1 0h1m0 0h1m0 0h1m0 0h1m0 0h1m1 0h1m2 0h1m0 0h1m0 0h1m1 0h1m2 0h1m0 0h1m0 0h1m3 0h1m3 0h1m5 0h1m-58 1h1m2 0h1m1 0h1m0 0h1m2 0h1m0 0h1m5 0h1m0 0h1m0 0h1m1 0h1m1 0h1m3 0h1m0 0h1m0 0h1m0 0h1m0 0h1m0 0h1m1 0h1m0 0h1m5 0h1m1 0h1m1 0h1m1 0h1m1 0h1m7 0h1m-56 1h1m2 0h1m1 0h1m0 0h1m0 0h1m1 0h1m0 0h1m0 0h1m0 0h1m0 0h1m1 0h1m2 0h1m1 0h1m0 0h1m0 0h1m0 0h1m1 0h1m0 0h1m1 0h1m0 0h1m3 0h1m1 0h1m0 0h1m5 0h1m2 0h1m10 0h1m6 0h1m6 0h1m-64 1h1m2 0h1m0 0h1m0 0h1m0 0h1m0 0h1m0 0h1m2 0h1m0 0h1m1 0h1m0 0h1m0 0h1m0 0h1m2 0h1m1 0h1m0 0h1m0 0h1m0 0h1m0 0h1m0 0h1m0 0h1m0 0h1m2 0h1m3 0h1m0 0h1m0 0h1m12 0h1m18 0h1m0 0h1m-79 1h1m2 0h1m1 0h1m2 0h1m0 0h1m2 0h1m0 0h1m0 0h1m1 0h1m0 0h1m1 0h1m2 0h1m0 0h1m0 0h1m0 0h1m0 0h1m2 0h1m1 0h1m0 0h1m1 0h1m0 0h1m0 0h1m1 0h1m0 0h1m0 0h1m0 0h1m2 0h1m0 0h1m2 0h1m1 0h1m10 0h1m26 0h1m-88 1h1m1 0h1m0 0h1m0 0h1m3 0h1m1 0h1m3 0h1m0 0h1m2 0h1m1 0h1m0 0h1m1 0h1m0 0h1m0 0h1m2 0h1m3 0h1m0 0h1m0 0h1m0 0h1m1 0h1m1 0h1m7 0h1m10 0h1m23 0h1m-76 1h1m1 0h1m0 0h1m1 0h1m0 0h1m0 0h1m0 0h1m0 0h1m0 0h1m0 0h1m0 0h1m2 0h1m2 0h1m1 0h1m0 0h1m0 0h1m2 0h1m0 0h1m0 0h1m2 0h1m0 0h1m8 0h1m0 0h1m0 0h1m10 0h1m-63 1h1m0 0h1m4 0h1m0 0h1m0 0h1m1 0h1m1 0h1m1 0h1m0 0h1m0 0h1m0 0h1m0 0h1m0 0h1m0 0h1m0 0h1m0 0h1m0 0h1m0 0h1m0 0h1m1 0h1m0 0h1m0 0h1m0 0h1m0 0h1m0 0h1m0 0h1m5 0h1m0 0h1m0 0h1m0 0h1m4 0h1m6 0h1m1 0h1m10 0h1m-65 1h1m2 0h1m6 0h1m6 0h1m1 0h1m0 0h1m0 0h1m1 0h1m1 0h1m0 0h1m2 0h1m0 0h1m0 0h1m0 0h1m0 0h1m2 0h1m0 0h1m0 0h1m1 0h1m0 0h1m0 0h1m2 0h1m3 0h1m-48 1h1m3 0h1m2 0h1m1 0h1m0 0h1m0 0h1m0 0h1m0 0h1m3 0h1m2 0h1m1 0h1m0 0h1m0 0h1m0 0h1m0 0h1m0 0h1m0 0h1m1 0h1m0 0h1m1 0h1m0 0h1m1 0h1m0 0h1m0 0h1m0 0h1m0 0h1m5 0h1m5 0h1m2 0h1m6 0h1m-67 1h1m0 0h1m0 0h1m2 0h1m3 0h1m3 0h1m0 0h1m0 0h1m0 0h1m0 0h1m0 0h1m2 0h1m1 0h1m1 0h1m1 0h1m1 0h1m0 0h1m1 0h1m0 0h1m2 0h1m0 0h1m4 0h1m1 0h1m15 0h1m7 0h1m11 0h1m-79 1h1m3 0h1m0 0h1m0 0h1m1 0h1m0 0h1m3 0h1m0 0h1m0 0h1m0 0h1m0 0h1m0 0h1m1 0h1m2 0h1m1 0h1m0 0h1m3 0h1m9 0h1m2 0h1m1 0h1m0 0h1m4 0h1m2 0h1m4 0h1m9 0h1m10 0h1m-83 1h1m2 0h1m5 0h1m0 0h1m2 0h1m0 0h1m3 0h1m0 0h1m0 0h1m3 0h1m0 0h1m0 0h1m0 0h1m1 0h1m1 0h1m1 0h1m0 0h1m1 0h1m1 0h1m0 0h1m1 0h1m1 0h1m0 0h1m1 0h1m2 0h1m2 0h1m31 0h1m-86 1h1m6 0h1m1 0h1m4 0h1m1 0h1m1 0h1m0 0h1m1 0h1m3 0h1m0 0h1m0 0h1m1 0h1m0 0h1m1 0h1m0 0h1m0 0h1m0 0h1m3 0h1m0 0h1m2 0h1m0 0h1m1 0h1m0 0h1m0 0h1m3 0h1m-52 1h1m8 0h1m1 0h1m4 0h1m1 0h1m1 0h1m0 0h1m0 0h1m0 0h1m0 0h1m0 0h1m2 0h1m0 0h1m0 0h1m1 0h1m1 0h1m3 0h1m1 0h1m0 0h1m5 0h1m4 0h1m8 0h1m8 0h1m6 0h1m-74 1h1m1 0h1m4 0h1m0 0h1m2 0h1m7 0h1m0 0h1m0 0h1m1 0h1m0 0h1m0 0h1m1 0h1m0 0h1m4 0h1m1 0h1m1 0h1m2 0h1m4 0h1m2 0h1m17 0h1m2 0h1m17 0h1m-90 1h1m2 0h1m1 0h1m0 0h1m1 0h1m2 0h1m1 0h1m1 0h1m0 0h1m2 0h1m1 0h1m3 0h1m0 0h1m2 0h1m0 0h1m0 0h1m1 0h1m4 0h1m4 0h1m3 0h1m4 0h1m6 0h1m1 0h1m5 0h1m5 0h1m0 0h1m3 0h1m-81 1h1m1 0h1m1 0h1m3 0h1m1 0h1m0 0h1m1 0h1m6 0h1m0 0h1m0 0h1m3 0h1m0 0h1m3 0h1m0 0h1m2 0h1m0 0h1m2 0h1m0 0h1m0 0h1m1 0h1m1 0h1m2 0h1m0 0h1m4 0h1m0 0h1m5 0h1m7 0h1m5 0h1m6 0h1m3 0h1m-82 1h1m2 0h1m0 0h1m0 0h1m1 0h1m11 0h1m0 0h1m4 0h1m3 0h1m1 0h1m0 0h1m1 0h1m1 0h1m0 0h1m4 0h1m5 0h1m2 0h1m0 0h1m2 0h1m1 0h1m3 0h1m0 0h1m0 0h1m2 0h1m14 0h1m-88 1h1m3 0h1m0 0h1m7 0h1m2 0h1m0 0h1m4 0h1m1 0h1m0 0h1m2 0h1m2 0h1m0 0h1m3 0h1m5 0h1m1 0h1m1 0h1m7 0h1m0 0h1m0 0h1m1 0h1m4 0h1m0 0h1m7 0h1m1 0h1m0 0h1m-72 1h1m1 0h1m1 0h1m9 0h1m8 0h1m1 0h1m1 0h1m2 0h1m0 0h1m0 0h1m3 0h1m0 0h1m4 0h1m1 0h1m6 0h1m3 0h1m1 0h1m4 0h1m2 0h1m2 0h1m2 0h1m-63 1h1m2 0h1m3 0h1m3 0h1m0 0h1m1 0h1m1 0h1m0 0h1m0 0h1m0 0h1m2 0h1m0 0h1m2 0h1m1 0h1m0 0h1m1 0h1m2 0h1m0 0h1m0 0h1m2 0h1m0 0h1m3 0h1m0 0h1m1 0h1m10 0h1m3 0h1m7 0h1m0 0h1m-79 1h1m5 0h1m3 0h1m1 0h1m1 0h1m1 0h1m1 0h1m4 0h1m0 0h1m0 0h1m0 0h1m2 0h1m0 0h1m0 0h1m3 0h1m4 0h1m3 0h1m1 0h1m1 0h1m1 0h1m0 0h1m0 0h1m2 0h1m2 0h1m3 0h1m0 0h1m8 0h1m-70 1h1m11 0h1m0 0h1m1 0h1m2 0h1m0 0h1m5 0h1m0 0h1m0 0h1m13 0h1m0 0h1m1 0h1m1 0h1m2 0h1m0 0h1m0 0h1m0 0h1m6 0h1m1 0h1m1 0h1m1 0h1m-74 1h1m9 0h1m10 0h1m3 0h1m1 0h1m6 0h1m1 0h1m2 0h1m1 0h1m8 0h1m4 0h1m0 0h1m15 0h1m-63 1h1m10 0h1m1 0h1m0 0h1m1 0h1m2 0h1m1 0h1m1 0h1m10 0h1m3 0h1m0 0h1m2 0h1m10 0h1m1 0h1m2 0h1m11 0h1m3 0h1m-85 1h1m3 0h1m6 0h1m4 0h1m1 0h1m1 0h1m0 0h1m3 0h1m3 0h1m4 0h1m0 0h1m4 0h1m1 0h1m1 0h1m2 0h1m0 0h1m0 0h1m7 0h1m4 0h1m4 0h1m4 0h1m3 0h1m-65 1h1m1 0h1m0 0h1m2 0h1m1 0h1m1 0h1m5 0h1m1 0h1m0 0h1m0 0h1m3 0h1m8 0h1m4 0h1m0 0h1m1 0h1m1 0h1m0 0h1m0 0h1m0 0h1m2 0h1m2 0h1m5 0h1m-56 1h1m5 0h1m2 0h1m8 0h1m0 0h1m0 0h1m3 0h1m0 0h1m0 0h1m2 0h1m0 0h1m0 0h1m2 0h1m2 0h1m0 0h1m0 0h1m2 0h1m2 0h1m0 0h1m1 0h1m5 0h1m0 0h1m9 0h1m-81 1h1m7 0h1m3 0h1m1 0h1m2 0h1m3 0h1m2 0h1m2 0h1m7 0h1m2 0h1m1 0h1m3 0h1m0 0h1m1 0h1m1 0h1m5 0h1m5 0h1m2 0h1m2 0h1m6 0h1m1 0h1m4 0h1m1 0h1m6 0h1m-88 1h1m9 0h1m2 0h1m1 0h1m2 0h1m2 0h1m0 0h1m0 0h1m2 0h1m2 0h1m0 0h1m3 0h1m3 0h1m0 0h1m1 0h1m1 0h1m0 0h1m2 0h1m11 0h1m3 0h1m1 0h1m0 0h1m1 0h1m6 0h1m6 0h1m-73 1h1m6 0h1m4 0h1m0 0h1m2 0h1m2 0h1m0 0h1m14 0h1m0 0h1m1 0h1m5 0h1m5 0h1m0 0h1m2 0h1m0 0h1m0 0h1m5 0h1m15 0h1m-90 1h1m1 0h1m10 0h1m1 0h1m1 0h1m2 0h1m2 0h1m2 0h1m8 0h1m3 0h1m1 0h1m0 0h1m2 0h1m2 0h1m4 0h1m3 0h1m3 0h1m9 0h1m4 0h1m9 0h1m-72 1h1m1 0h1m2 0h1m2 0h1m3 0h1m1 0h1m4 0h1m9 0h1m0 0h1m0 0h1m7 0h1m2 0h1m1 0h1m3 0h1m1 0h1m11 0h1m-75 1h1m3 0h1m9 0h1m5 0h1m4 0h1m5 0h1m5 0h1m1 0h1m2 0h1m1 0h1m3 0h1m2 0h1m8 0h1m0 0h1m8 0h1m0 0h1m1 0h1m1 0h1m-69 1h1m19 0h1m5 0h1m3 0h1m1 0h1m0 0h1m5 0h1m2 0h1m10 0h1m5 0h1m1 0h1m0 0h1m-60 1h1m4 0h1m0 0h1m12 0h1m2 0h1m0 0h1m3 0h1m10 0h1m4 0h1m8 0h1m0 0h1m0 0h1m2 0h1m0 0h1m13 0h1m-78 1h1m3 0h1m2 0h1m24 0h1m1 0h1m1 0h1m13 0h1m2 0h1m5 0h1m10 0h1m4 0h1m-84 1h1m4 0h1m13 0h1m2 0h1m1 0h1m3 0h1m2 0h1m1 0h1m8 0h1m1 0h1m4 0h1m2 0h1m0 0h1m1 0h1m1 0h1m2 0h1m1 0h1m12 0h1m0 0h1m9 0h1m-81 1h1m0 0h1m4 0h1m9 0h1m7 0h1m15 0h1m16 0h1m3 0h1m23 0h1m-76 1h1m1 0h1m13 0h1m3 0h1m24 0h1m1 0h1m4 0h1m5 0h1m-67 1h1m10 0h1m4 0h1m0 0h1m14 0h1m8 0h1m7 0h1m6 0h1m-47 1h1m9 0h1m12 0h1m10 0h1m7 0h1m15 0h1m3 0h1m-80 1h1m13 0h1m10 0h1m2 0h1m5 0h1m5 0h1m3 0h1m34 0h1m-54 1h1m2 0h1m12 0h1m3 0h1m3 0h1m8 0h1m1 0h1m5 0h1m-30 1h1" transform="translate(0 .5)" stroke="#000" stroke-width="1" opacity="0.22"/>
</g>
<rect x="32.5" y="250" width="95.80000000000001" height="74.30000000000001" fill="none" stroke="#999" stroke-width="0.8"/>
<line x1="70.0" y1="250.0" x2="70.0" y2="324.3" stroke="#aaa" stroke-width="0.8"/>
<line x1="32.5" y1="290.0" x2="128.3" y2="290.0" stroke="#aaa" stroke-width="0.8"/>
<text transform="translate(34.9 257.8) scale(1.22 1)" font-size="7.6" class="q">33.8</text>
<text transform="translate(128.0 257.8) scale(1.22 1)" font-size="7.6" class="q" text-anchor="end">5.7</text>
<rect x="33.7" y="316.1" width="20.4" height="7.8" fill="#fff"/>
<text transform="translate(34.9 322.7) scale(1.22 1)" font-size="7.6" class="q">46.9</text>
<text transform="translate(128.0 322.7) scale(1.22 1)" font-size="7.6" class="q" text-anchor="end">13.6</text>
<line x1="31.0" y1="257.4" x2="32.5" y2="257.4" stroke="#777" stroke-width="0.6"/>
<line x1="31.0" y1="274.1" x2="32.5" y2="274.1" stroke="#777" stroke-width="0.6"/>
<line x1="31.0" y1="290.8" x2="32.5" y2="290.8" stroke="#777" stroke-width="0.6"/>
<line x1="31.0" y1="308.6" x2="32.5" y2="308.6" stroke="#777" stroke-width="0.6"/>
<line x1="31.0" y1="317.1" x2="32.5" y2="317.1" stroke="#777" stroke-width="0.6"/>
<line x1="42.7" y1="324.3" x2="42.7" y2="325.8" stroke="#777" stroke-width="0.6"/>
<line x1="55.2" y1="324.3" x2="55.2" y2="325.8" stroke="#777" stroke-width="0.6"/>
<line x1="77.8" y1="324.3" x2="77.8" y2="325.8" stroke="#777" stroke-width="0.6"/>
<line x1="99.6" y1="324.3" x2="99.6" y2="325.8" stroke="#777" stroke-width="0.6"/>
<line x1="120.7" y1="324.3" x2="120.7" y2="325.8" stroke="#777" stroke-width="0.6"/>
<text x="42.7" y="332.3" font-size="4.2" text-anchor="middle" fill="#333">0</text>
<text x="55.2" y="332.3" font-size="4.2" text-anchor="middle" fill="#333">10²</text>
<text x="77.8" y="332.3" font-size="4.2" text-anchor="middle" fill="#333">10³</text>
<text x="99.6" y="332.3" font-size="4.2" text-anchor="middle" fill="#333">10⁴</text>
<text x="120.7" y="332.3" font-size="4.2" text-anchor="middle" fill="#333">10⁵</text>
<text x="30.2" y="258.8" font-size="4.2" text-anchor="end" fill="#333">10⁵</text>
<text x="30.2" y="275.5" font-size="4.2" text-anchor="end" fill="#333">10⁴</text>
<text x="30.2" y="292.2" font-size="4.2" text-anchor="end" fill="#333">10³</text>
<text x="30.2" y="310.0" font-size="4.2" text-anchor="end" fill="#333">10²</text>
<text x="30.2" y="318.5" font-size="4.2" text-anchor="end" fill="#333">0</text>
<text x="77.7" y="360.5" font-size="10.3" text-anchor="middle">MPN with ruxo</text>
<clipPath id="c127"><rect x="32" y="364.2" width="95.5" height="72.5"/></clipPath>
<g clip-path="url(#c127)">
<ellipse cx="45" cy="383.5" rx="17" ry="5.8" fill="#000" opacity="1" filter="url(#b1)"/>
<ellipse cx="72" cy="383" rx="6" ry="2.3" fill="#000" opacity="0.45" filter="url(#b1)"/>
<ellipse cx="46" cy="426" rx="15" ry="12" fill="#000" opacity="0.95" filter="url(#b2)"/>
<path d="M46 374h1m-13 1h1m8 0h1m12 0h1m-19 1h1m1 0h1m5 0h1m2 0h1m4 0h1m6 0h1m15 0h1m-46 1h1m3 0h1m0 0h1m5 0h1m4 0h1m1 0h1m0 0h1m3 0h1m13 0h1m-33 1h1m4 0h1m4 0h1m0 0h1m2 0h1m7 0h1m2 0h1m0 0h1m2 0h1m6 0h1m8 0h1m-51 1h1m1 0h1m0 0h1m0 0h1m0 0h1m1 0h1m0 0h1m0 0h1m4 0h1m0 0h1m0 0h1m3 0h1m0 0h1m0 0h1m0 0h1m0 0h1m1 0h1m0 0h1m4 0h1m2 0h1m0 0h1m2 0h1m-40 1h1m0 0h1m1 0h1m1 0h1m0 0h1m0 0h1m5 0h1m0 0h1m1 0h1m0 0h1m0 0h1m0 0h1m0 0h1m0 0h1m2 0h1m0 0h1m1 0h1m1 0h1m0 0h1m0 0h1m0 0h1m0 0h1m2 0h1m1 0h1m-32 1h1m1 0h1m0 0h1m0 0h1m0 0h1m1 0h1m0 0h1m0 0h1m1 0h1m4 0h1m0 0h1m1 0h1m1 0h1m0 0h1m1 0h1m0 0h1m0 0h1m4 0h1m0 0h1m0 0h1m0 0h1m4 0h1m4 0h1m-50 1h1m1 0h1m1 0h1m0 0h1m0 0h1m0 0h1m0 0h1m0 0h1m0 0h1m0 0h1m0 0h1m0 0h1m0 0h1m0 0h1m0 0h1m0 0h1m1 0h1m0 0h1m0 0h1m1 0h1m2 0h1m0 0h1m0 0h1m0 0h1m0 0h1m1 0h1m0 0h1m1 0h1m2 0h1m1 0h1m0 0h1m2 0h1m0 0h1m-48 1h1m0 0h1m1 0h1m0 0h1m0 0h1m0 0h1m1 0h1m2 0h1m0 0h1m0 0h1m0 0h1m0 0h1m0 0h1m0 0h1m0 0h1m1 0h1m0 0h1m0 0h1m2 0h1m3 0h1m0 0h1m0 0h1m0 0h1m0 0h1m1 0h1m0 0h1m0 0h1m0 0h1m0 0h1m0 0h1m0 0h1m2 0h1m3 0h1m-49 1h1m1 0h1m0 0h1m1 0h1m0 0h1m1 0h1m3 0h1m1 0h1m0 0h1m0 0h1m0 0h1m0 0h1m0 0h1m0 0h1m0 0h1m0 0h1m1 0h1m0 0h1m1 0h1m0 0h1m1 0h1m0 0h1m0 0h1m0 0h1m0 0h1m1 0h1m0 0h1m2 0h1m0 0h1m0 0h1m1 0h1m0 0h1m3 0h1m-46 1h1m1 0h1m1 0h1m0 0h1m0 0h1m0 0h1m0 0h1m1 0h1m0 0h1m0 0h1m3 0h1m1 0h1m0 0h1m1 0h1m1 0h1m3 0h1m0 0h1m0 0h1m0 0h1m0 0h1m0 0h1m0 0h1m0 0h1m1 0h1m0 0h1m1 0h1m-41 1h1m0 0h1m1 0h1m0 0h1m0 0h1m1 0h1m0 0h1m0 0h1m0 0h1m0 0h1m0 0h1m0 0h1m0 0h1m0 0h1m0 0h1m0 0h1m0 0h1m1 0h1m0 0h1m0 0h1m2 0h1m0 0h1m3 0h1m2 0h1m1 0h1m1 0h1m0 0h1m-40 1h1m0 0h1m1 0h1m1 0h1m1 0h1m0 0h1m5 0h1m1 0h1m4 0h1m3 0h1m3 0h1m0 0h1m1 0h1m0 0h1m5 0h1m3 0h1m-45 1h1m0 0h1m2 0h1m4 0h1m0 0h1m0 0h1m2 0h1m0 0h1m0 0h1m3 0h1m1 0h1m1 0h1m3 0h1m4 0h1m5 0h1m-39 1h1m0 0h1m9 0h1m17 0h1m1 0h1m-26 1h1m8 0h1m4 0h1m0 0h1m-15 1h1m15 0h1m-7 1h1m-11 1h1m8 0h1m5 0h1m-14 1h1m14 0h1m21 1h1m-44 2h1m6 0h1m4 0h1m4 0h1m-20 1h1m15 0h1m4 0h1m3 0h1m-23 1h1m0 0h1m2 0h1m3 0h1m4 0h1m17 0h1m9 0h1m-45 1h1m0 0h1m13 0h1m2 0h1m2 0h1m3 0h1m7 0h1m-32 1h1m2 0h1m15 0h1m13 0h1m-33 1h1m1 0h1m1 0h1m4 0h1m0 0h1m0 0h1m0 0h1m4 0h1m3 0h1m0 0h1m-20 1h1m4 0h1m1 0h1m0 0h1m0 0h1m0 0h1m1 0h1m2 0h1m3 0h1m10 0h1m-38 1h1m2 0h1m1 0h1m2 0h1m0 0h1m5 0h1m0 0h1m0 0h1m3 0h1m-21 1h1m0 0h1m3 0h1m1 0h1m0 0h1m1 0h1m1 0h1m2 0h1m2 0h1m7 0h1m5 0h1m-36 1h1m0 0h1m5 0h1m1 0h1m0 0h1m1 0h1m2 0h1m1 0h1m3 0h1m16 0h1m0 0h1m-36 1h1m1 0h1m1 0h1m3 0h1m0 0h1m4 0h1m0 0h1m6 0h1m1 0h1m2 0h1m-31 1h1m5 0h1m0 0h1m0 0h1m0 0h1m1 0h1m0 0h1m1 0h1m3 0h1m0 0h1m0 0h1m6 0h1m4 0h1m-34 1h1m1 0h1m7 0h1m2 0h1m0 0h1m2 0h1m0 0h1m1 0h1m2 0h1m2 0h1m0 0h1m6 0h1m2 0h1m-35 1h1m2 0h1m0 0h1m2 0h1m2 0h1m0 0h1m0 0h1m1 0h1m0 0h1m0 0h1m5 0h1m1 0h1m1 0h1m1 0h1m4 0h1m10 0h1m-46 1h1m7 0h1m0 0h1m1 0h1m1 0h1m0 0h1m1 0h1m0 0h1m1 0h1m1 0h1m4 0h1m0 0h1m2 0h1m0 0h1m0 0h1m2 0h1m-38 1h1m0 0h1m2 0h1m3 0h1m1 0h1m0 0h1m1 0h1m1 0h1m2 0h1m0 0h1m5 0h1m0 0h1m3 0h1m-27 1h1m0 0h1m0 0h1m4 0h1m3 0h1m3 0h1m3 0h1m10 0h1m-34 1h1m3 0h1m0 0h1m0 0h1m0 0h1m0 0h1m0 0h1m0 0h1m0 0h1m0 0h1m3 0h1m4 0h1m0 0h1m0 0h1m2 0h1m0 0h1m2 0h1m0 0h1m-32 1h1m0 0h1m3 0h1m0 0h1m1 0h1m1 0h1m1 0h1m1 0h1m0 0h1m0 0h1m1 0h1m0 0h1m0 0h1m0 0h1m1 0h1m0 0h1m0 0h1m2 0h1m5 0h1m6 0h1m-41 1h1m0 0h1m0 0h1m1 0h1m0 0h1m1 0h1m0 0h1m2 0h1m1 0h1m0 0h1m0 0h1m0 0h1m3 0h1m0 0h1m0 0h1m1 0h1m0 0h1m2 0h1m2 0h1m-34 1h1m2 0h1m0 0h1m0 0h1m0 0h1m0 0h1m0 0h1m2 0h1m1 0h1m0 0h1m0 0h1m1 0h1m0 0h1m0 0h1m0 0h1m0 0h1m1 0h1m2 0h1m0 0h1m0 0h1m1 0h1m3 0h1m1 0h1m-35 1h1m1 0h1m0 0h1m1 0h1m1 0h1m0 0h1m0 0h1m0 0h1m0 0h1m0 0h1m0 0h1m0 0h1m0 0h1m0 0h1m2 0h1m0 0h1m1 0h1m0 0h1m5 0h1m6 0h1m-39 1h1m2 0h1m2 0h1m0 0h1m0 0h1m4 0h1m0 0h1m0 0h1m0 0h1m1 0h1m0 0h1m1 0h1m0 0h1m0 0h1m0 0h1m0 0h1m0 0h1m10 0h1m4 0h1m-41 1h1m0 0h1m0 0h1m2 0h1m7 0h1m1 0h1m0 0h1m1 0h1m0 0h1m0 0h1m0 0h1m1 0h1m0 0h1m0 0h1m0 0h1m0 0h1m1 0h1m-32 1h1m0 0h1m0 0h1m0 0h1m3 0h1m6 0h1m1 0h1m0 0h1m0 0h1m0 0h1m0 0h1m0 0h1m2 0h1m0 0h1m2 0h1m1 0h1m2 0h1m5 0h1m-39 1h1m1 0h1m0 0h1m2 0h1m0 0h1m0 0h1m0 0h1m1 0h1m3 0h1m0 0h1m1 0h1m4 0h1m1 0h1m2 0h1m1 0h1m3 0h1m1 0h1m-38 1h1m1 0h1m2 0h1m0 0h1m7 0h1m1 0h1m2 0h1m1 0h1m0 0h1m0 0h1m1 0h1m2 0h1m2 0h1m0 0h1m1 0h1m-34 1h1m1 0h1m1 0h1m2 0h1m0 0h1m0 0h1m0 0h1m0 0h1m0 0h1m1 0h1m2 0h1m0 0h1m1 0h1m1 0h1m2 0h1m2 0h1m5 0h1m-36 1h1m0 0h1m0 0h1m0 0h1m0 0h1m3 0h1m0 0h1m0 0h1m1 0h1m0 0h1m0 0h1m0 0h1m2 0h1m0 0h1m0 0h1m0 0h1m1 0h1m0 0h1m2 0h1m1 0h1m0 0h1m4 0h1m3 0h1m7 0h1m-44 1h1m2 0h1m4 0h1m0 0h1m0 0h1m0 0h1m0 0h1m1 0h1m0 0h1m0 0h1m0 0h1m2 0h1m1 0h1m4 0h1m1 0h1m0 0h1m-34 1h1m1 0h1m1 0h1m0 0h1m0 0h1m1 0h1m0 0h1m0 0h1m0 0h1m0 0h1m1 0h1m0 0h1m1 0h1m1 0h1m1 0h1m1 0h1m1 0h1m0 0h1m2 0h1m3 0h1m1 0h1m-35 1h1m1 0h1m1 0h1m1 0h1m0 0h1m2 0h1m0 0h1m0 0h1m0 0h1m1 0h1m0 0h1m2 0h1m0 0h1m0 0h1m0 0h1m2 0h1m0 0h1m0 0h1m1 0h1m5 0h1m-35 1h1m1 0h1m1 0h1m2 0h1m1 0h1m0 0h1m0 0h1m0 0h1m0 0h1m0 0h1m0 0h1m3 0h1m3 0h1m0 0h1m2 0h1m-24 1h1m1 0h1m2 0h1m1 0h1m0 0h1m2 0h1m2 0h1m2 0h1m9 0h1m2 0h1m0 0h1m-37 1h1m2 0h1m0 0h1m0 0h1m0 0h1m1 0h1m2 0h1m2 0h1m0 0h1m2 0h1m1 0h1m4 0h1m1 0h1m5 0h1m1 0h1m-37 1h1m3 0h1m3 0h1m9 0h1m3 0h1m0 0h1m1 0h1m3 0h1m-20 1h1m1 0h1m0 0h1m4 0h1m2 0h1m12 0h1m0 0h1m-30 1h1m1 0h1m0 0h1m0 0h1m2 0h1m1 0h1m0 0h1m6 0h1m2 0h1m0 0h1m-24 1h1m1 0h1m1 0h1m3 0h1m0 0h1m1 0h1m3 0h1m2 0h1m0 0h1m0 0h1m-13 1h1m6 0h1m5 0h1m4 0h1" transform="translate(0 .5)" stroke="#000" stroke-width="1" opacity="0.42"/>
<path d="M38 375h1m12 0h1m9 0h1m5 0h1m-30 1h1m2 0h1m0 0h1m4 0h1m5 0h1m13 0h1m-36 1h1m2 0h1m2 0h1m2 0h1m3 0h1m0 0h1m0 0h1m3 0h1m0 0h1m0 0h1m12 0h1m2 0h1m1 0h1m8 0h1m-44 1h1m0 0h1m3 0h1m2 0h1m1 0h1m0 0h1m1 0h1m8 0h1m2 0h1m0 0h1m0 0h1m9 0h1m0 0h1m1 0h1m-45 1h1m0 0h1m1 0h1m0 0h1m0 0h1m2 0h1m2 0h1m0 0h1m0 0h1m1 0h1m4 0h1m2 0h1m0 0h1m0 0h1m3 0h1m2 0h1m0 0h1m1 0h1m1 0h1m0 0h1m0 0h1m0 0h1m0 0h1m1 0h1m6 0h1m-52 1h1m1 0h1m0 0h1m1 0h1m0 0h1m0 0h1m0 0h1m0 0h1m0 0h1m0 0h1m1 0h1m1 0h1m0 0h1m0 0h1m1 0h1m0 0h1m0 0h1m1 0h1m0 0h1m1 0h1m5 0h1m0 0h1m1 0h1m2 0h1m3 0h1m1 0h1m0 0h1m1 0h1m-45 1h1m1 0h1m1 0h1m1 0h1m1 0h1m0 0h1m1 0h1m1 0h1m1 0h1m0 0h1m0 0h1m0 0h1m0 0h1m1 0h1m0 0h1m0 0h1m1 0h1m0 0h1m1 0h1m0 0h1m1 0h1m1 0h1m0 0h1m0 0h1m2 0h1m0 0h1m-42 1h1m2 0h1m0 0h1m0 0h1m0 0h1m0 0h1m0 0h1m0 0h1m1 0h1m1 0h1m0 0h1m0 0h1m0 0h1m0 0h1m0 0h1m0 0h1m1 0h1m1 0h1m0 0h1m1 0h1m0 0h1m1 0h1m2 0h1m2 0h1m1 0h1m1 0h1m0 0h1m1 0h1m0 0h1m0 0h1m1 0h1m4 0h1m-52 1h1m1 0h1m0 0h1m2 0h1m0 0h1m1 0h1m0 0h1m0 0h1m0 0h1m0 0h1m0 0h1m0 0h1m0 0h1m0 0h1m2 0h1m0 0h1m1 0h1m1 0h1m0 0h1m0 0h1m0 0h1m0 0h1m0 0h1m0 0h1m0 0h1m1 0h1m2 0h1m0 0h1m0 0h1m1 0h1m0 0h1m2 0h1m2 0h1m-49 1h1m0 0h1m1 0h1m0 0h1m0 0h1m4 0h1m0 0h1m0 0h1m0 0h1m0 0h1m0 0h1m1 0h1m0 0h1m0 0h1m0 0h1m0 0h1m1 0h1m0 0h1m1 0h1m1 0h1m0 0h1m0 0h1m0 0h1m0 0h1m0 0h1m0 0h1m3 0h1m0 0h1m3 0h1m0 0h1m-44 1h1m4 0h1m0 0h1m0 0h1m0 0h1m0 0h1m0 0h1m0 0h1m1 0h1m0 0h1m0 0h1m1 0h1m0 0h1m0 0h1m3 0h1m3 0h1m2 0h1m5 0h1m0 0h1m0 0h1m-40 1h1m1 0h1m2 0h1m1 0h1m0 0h1m0 0h1m0 0h1m0 0h1m1 0h1m0 0h1m0 0h1m0 0h1m0 0h1m1 0h1m0 0h1m2 0h1m1 0h1m0 0h1m0 0h1m4 0h1m2 0h1m0 0h1m0 0h1m1 0h1m2 0h1m3 0h1m0 0h1m5 0h1m-55 1h1m3 0h1m0 0h1m1 0h1m2 0h1m0 0h1m0 0h1m1 0h1m0 0h1m2 0h1m3 0h1m0 0h1m5 0h1m3 0h1m2 0h1m6 0h1m2 0h1m-47 1h1m5 0h1m2 0h1m2 0h1m1 0h1m1 0h1m1 0h1m0 0h1m0 0h1m2 0h1m0 0h1m5 0h1m2 0h1m2 0h1m0 0h1m1 0h1m0 0h1m-36 1h1m1 0h1m5 0h1m2 0h1m1 0h1m2 0h1m1 0h1m16 0h1m-40 1h1m15 0h1m6 0h1m-23 1h1m16 0h1m3 0h1m9 0h1m-27 1h1m0 1h1m10 1h1m-11 1h1m13 0h1m-8 1h1m13 0h1m-29 1h1m21 0h1m18 0h1m-37 1h1m2 0h1m7 0h1m3 0h1m18 0h1m-26 1h1m0 0h1m-14 1h1m0 0h1m7 0h1m2 0h1m8 0h1m2 0h1m-17 1h1m5 0h1m7 0h1m1 0h1m2 0h1m-26 1h1m0 0h1m6 0h1m2 0h1m2 0h1m1 0h1m2 0h1m1 0h1m3 0h1m-29 1h1m2 0h1m1 0h1m6 0h1m3 0h1m1 0h1m0 0h1m0 0h1m2 0h1m3 0h1m12 0h1m-42 1h1m0 0h1m0 0h1m4 0h1m1 0h1m1 0h1m3 0h1m6 0h1m1 0h1m-26 1h1m7 0h1m5 0h1m6 0h1m0 0h1m0 0h1m4 0h1m0 0h1m3 0h1m-31 1h1m0 0h1m1 0h1m1 0h1m1 0h1m2 0h1m0 0h1m0 0h1m0 0h1m2 0h1m2 0h1m1 0h1m5 0h1m6 0h1m0 0h1m-39 1h1m2 0h1m4 0h1m0 0h1m3 0h1m3 0h1m1 0h1m2 0h1m-17 1h1m0 0h1m0 0h1m2 0h1m0 0h1m2 0h1m4 0h1m2 0h1m-24 1h1m0 0h1m1 0h1m1 0h1m1 0h1m1 0h1m2 0h1m0 0h1m0 0h1m1 0h1m1 0h1m0 0h1m3 0h1m2 0h1m8 0h1m0 0h1m9 0h1m2 0h1m-49 1h1m6 0h1m3 0h1m1 0h1m0 0h1m0 0h1m0 0h1m0 0h1m0 0h1m1 0h1m2 0h1m3 0h1m0 0h1m-30 1h1m4 0h1m0 0h1m0 0h1m2 0h1m0 0h1m0 0h1m0 0h1m5 0h1m0 0h1m1 0h1m0 0h1m1 0h1m0 0h1m2 0h1m1 0h1m5 0h1m0 0h1m-40 1h1m1 0h1m2 0h1m0 0h1m0 0h1m3 0h1m1 0h1m0 0h1m0 0h1m0 0h1m0 0h1m0 0h1m2 0h1m0 0h1m1 0h1m1 0h1m6 0h1m11 0h1m-46 1h1m0 0h1m1 0h1m2 0h1m4 0h1m0 0h1m0 0h1m1 0h1m1 0h1m1 0h1m0 0h1m2 0h1m0 0h1m0 0h1m2 0h1m3 0h1m1 0h1m24 0h1m-58 1h1m2 0h1m1 0h1m3 0h1m0 0h1m1 0h1m0 0h1m0 0h1m0 0h1m0 0h1m0 0h1m2 0h1m0 0h1m1 0h1m1 0h1m2 0h1m3 0h1m-35 1h1m0 0h1m3 0h1m1 0h1m0 0h1m0 0h1m1 0h1m0 0h1m0 0h1m1 0h1m2 0h1m1 0h1m0 0h1m1 0h1m0 0h1m8 0h1m-29 1h1m0 0h1m1 0h1m2 0h1m0 0h1m3 0h1m0 0h1m2 0h1m0 0h1m1 0h1m1 0h1m2 0h1m3 0h1m0 0h1m0 0h1m3 0h1m-39 1h1m0 0h1m1 0h1m0 0h1m0 0h1m2 0h1m0 0h1m3 0h1m0 0h1m0 0h1m1 0h1m0 0h1m0 0h1m0 0h1m1 0h1m1 0h1m0 0h1m0 0h1m0 0h1m5 0h1m1 0h1m2 0h1m-37 1h1m0 0h1m3 0h1m2 0h1m2 0h1m0 0h1m0 0h1m0 0h1m1 0h1m0 0h1m1 0h1m0 0h1m1 0h1m0 0h1m0 0h1m1 0h1m0 0h1m1 0h1m9 0h1m-40 1h1m0 0h1m1 0h1m2 0h1m1 0h1m2 0h1m1 0h1m0 0h1m1 0h1m0 0h1m0 0h1m1 0h1m1 0h1m0 0h1m0 0h1m0 0h1m0 0h1m5 0h1m4 0h1m0 0h1m-37 1h1m0 0h1m1 0h1m0 0h1m0 0h1m2 0h1m3 0h1m0 0h1m0 0h1m0 0h1m3 0h1m6 0h1m0 0h1m2 0h1m0 0h1m1 0h1m0 0h1m4 0h1m3 0h1m-43 1h1m0 0h1m2 0h1m0 0h1m1 0h1m1 0h1m0 0h1m0 0h1m0 0h1m0 0h1m1 0h1m2 0h1m0 0h1m0 0h1m2 0h1m2 0h1m4 0h1m10 0h1m-43 1h1m1 0h1m1 0h1m0 0h1m0 0h1m0 0h1m0 0h1m1 0h1m2 0h1m0 0h1m2 0h1m1 0h1m0 0h1m0 0h1m2 0h1m2 0h1m1 0h1m1 0h1m2 0h1m9 0h1m-48 1h1m2 0h1m0 0h1m0 0h1m0 0h1m1 0h1m2 0h1m5 0h1m0 0h1m4 0h1m1 0h1m0 0h1m0 0h1m0 0h1m4 0h1m0 0h1m-35 1h1m3 0h1m1 0h1m0 0h1m0 0h1m1 0h1m4 0h1m0 0h1m0 0h1m0 0h1m0 0h1m3 0h1m3 0h1m0 0h1m10 0h1m-39 1h1m3 0h1m0 0h1m1 0h1m2 0h1m0 0h1m2 0h1m0 0h1m0 0h1m1 0h1m1 0h1m0 0h1m3 0h1m2 0h1m-32 1h1m1 0h1m1 0h1m2 0h1m0 0h1m4 0h1m0 0h1m1 0h1m1 0h1m1 0h1m0 0h1m0 0h1m1 0h1m0 0h1m0 0h1m5 0h1m2 0h1m-34 1h1m0 0h1m0 0h1m1 0h1m2 0h1m0 0h1m0 0h1m0 0h1m1 0h1m0 0h1m0 0h1m1 0h1m0 0h1m0 0h1m7 0h1m0 0h1m2 0h1m0 0h1m-33 1h1m5 0h1m0 0h1m0 0h1m0 0h1m0 0h1m0 0h1m3 0h1m0 0h1m2 0h1m0 0h1m2 0h1m5 0h1m2 0h1m-28 1h1m0 0h1m0 0h1m1 0h1m3 0h1m2 0h1m2 0h1m0 0h1m7 0h1m0 0h1m0 0h1m-30 1h1m2 0h1m0 0h1m2 0h1m0 0h1m0 0h1m1 0h1m1 0h1m2 0h1m0 0h1m1 0h1m0 0h1m2 0h1m9 0h1m-36 1h1m5 0h1m2 0h1m0 0h1m0 0h1m3 0h1m1 0h1m0 0h1m3 0h1m2 0h1m2 0h1m4 0h1m-30 1h1m3 0h1m2 0h1m0 0h1m0 0h1m5 0h1m1 0h1m3 0h1m-23 1h1m0 0h1m1 0h1m0 0h1m2 0h1m0 0h1m2 0h1m1 0h1m8 0h1m3 0h1m5 0h1m4 0h1m-30 1h1m0 0h1m0 0h1m1 0h1m0 0h1m2 0h1m0 0h1m3 0h1m4 0h1m-18 1h1m5 0h1m1 0h1m-14 1h1m2 0h1m2 0h1m0 0h1m0 0h1m1 0h1m0 0h1m2 0h1" transform="translate(0 .5)" stroke="#000" stroke-width="1" opacity="0.42"/>
<path d="M34 373h1m-3 1h1m2 1h1m0 0h1m6 0h1m2 0h1m0 0h1m2 0h1m0 0h1m20 0h1m-38 1h1m0 0h1m14 0h1m19 0h1m-39 1h1m5 0h1m2 0h1m6 0h1m3 0h1m0 0h1m26 0h1m-46 1h1m7 0h1m0 0h1m1 0h1m1 0h1m0 0h1m1 0h1m2 0h1m6 0h1m4 0h1m1 0h1m-37 1h1m1 0h1m0 0h1m2 0h1m0 0h1m1 0h1m0 0h1m0 0h1m0 0h1m0 0h1m0 0h1m2 0h1m0 0h1m0 0h1m0 0h1m0 0h1m2 0h1m1 0h1m0 0h1m0 0h1m1 0h1m0 0h1m0 0h1m6 0h1m4 0h1m-46 1h1m1 0h1m0 0h1m2 0h1m0 0h1m0 0h1m0 0h1m0 0h1m0 0h1m0 0h1m0 0h1m0 0h1m0 0h1m2 0h1m0 0h1m4 0h1m0 0h1m0 0h1m0 0h1m2 0h1m1 0h1m0 0h1m0 0h1m0 0h1m1 0h1m1 0h1m1 0h1m0 0h1m0 0h1m-40 1h1m0 0h1m0 0h1m0 0h1m0 0h1m1 0h1m0 0h1m0 0h1m0 0h1m0 0h1m0 0h1m0 0h1m2 0h1m0 0h1m0 0h1m0 0h1m0 0h1m4 0h1m1 0h1m0 0h1m1 0h1m0 0h1m0 0h1m0 0h1m2 0h1m0 0h1m2 0h1m5 0h1m-50 1h1m0 0h1m0 0h1m1 0h1m0 0h1m0 0h1m0 0h1m0 0h1m0 0h1m1 0h1m0 0h1m0 0h1m0 0h1m1 0h1m0 0h1m2 0h1m0 0h1m1 0h1m1 0h1m1 0h1m2 0h1m1 0h1m0 0h1m0 0h1m1 0h1m0 0h1m0 0h1m0 0h1m0 0h1m0 0h1m1 0h1m0 0h1m1 0h1m0 0h1m0 0h1m1 0h1m-48 1h1m0 0h1m1 0h1m0 0h1m0 0h1m0 0h1m0 0h1m0 0h1m0 0h1m0 0h1m0 0h1m0 0h1m0 0h1m1 0h1m1 0h1m4 0h1m0 0h1m0 0h1m0 0h1m0 0h1m0 0h1m0 0h1m1 0h1m1 0h1m0 0h1m0 0h1m0 0h1m0 0h1m0 0h1m0 0h1m0 0h1m0 0h1m0 0h1m2 0h1m-47 1h1m0 0h1m0 0h1m0 0h1m0 0h1m0 0h1m1 0h1m0 0h1m0 0h1m0 0h1m0 0h1m0 0h1m0 0h1m0 0h1m1 0h1m0 0h1m0 0h1m0 0h1m0 0h1m0 0h1m0 0h1m0 0h1m0 0h1m0 0h1m1 0h1m0 0h1m0 0h1m1 0h1m0 0h1m1 0h1m0 0h1m0 0h1m0 0h1m0 0h1m0 0h1m1 0h1m0 0h1m2 0h1m1 0h1m0 0h1m2 0h1m-52 1h1m1 0h1m3 0h1m1 0h1m1 0h1m2 0h1m0 0h1m1 0h1m0 0h1m0 0h1m0 0h1m2 0h1m0 0h1m2 0h1m2 0h1m0 0h1m3 0h1m2 0h1m3 0h1m0 0h1m4 0h1m3 0h1m-52 1h1m0 0h1m4 0h1m1 0h1m1 0h1m2 0h1m0 0h1m0 0h1m0 0h1m0 0h1m0 0h1m0 0h1m1 0h1m0 0h1m0 0h1m0 0h1m0 0h1m2 0h1m1 0h1m4 0h1m2 0h1m2 0h1m0 0h1m1 0h1m2 0h1m3 0h1m-46 1h1m0 0h1m0 0h1m2 0h1m1 0h1m1 0h1m1 0h1m2 0h1m0 0h1m1 0h1m5 0h1m2 0h1m0 0h1m13 0h1m-46 1h1m1 0h1m2 0h1m4 0h1m3 0h1m1 0h1m1 0h1m0 0h1m0 0h1m2 0h1m-21 1h1m6 0h1m2 0h1m0 0h1m-14 1h1m15 0h1m5 0h1m-27 1h1m10 0h1m2 0h1m1 0h1m5 0h1m-17 1h1m-3 1h1m2 0h1m1 0h1m1 0h1m0 0h1m-9 1h1m24 1h1m-29 1h1m14 1h1m0 0h1m1 0h1m9 0h1m-1 1h1m-24 1h1m0 0h1m8 0h1m0 0h1m0 0h1m2 0h1m2 0h1m2 0h1m-22 1h1m5 0h1m0 0h1m0 0h1m0 0h1m11 0h1m1 0h1m5 0h1m-26 1h1m0 0h1m2 0h1m3 0h1m4 0h1m6 0h1m4 0h1m5 0h1m2 0h1m-39 1h1m6 0h1m2 0h1m3 0h1m4 0h1m-21 1h1m3 0h1m3 0h1m0 0h1m3 0h1m1 0h1m0 0h1m0 0h1m3 0h1m1 0h1m0 0h1m9 0h1m-28 1h1m4 0h1m2 0h1m2 0h1m0 0h1m1 0h1m0 0h1m6 0h1m-33 1h1m0 0h1m1 0h1m0 0h1m1 0h1m0 0h1m0 0h1m1 0h1m2 0h1m1 0h1m2 0h1m3 0h1m2 0h1m2 0h1m5 0h1m-35 1h1m5 0h1m1 0h1m0 0h1m0 0h1m1 0h1m2 0h1m0 0h1m1 0h1m1 0h1m0 0h1m1 0h1m3 0h1m2 0h1m5 0h1m-36 1h1m4 0h1m0 0h1m1 0h1m0 0h1m0 0h1m2 0h1m0 0h1m0 0h1m15 0h1m-29 1h1m6 0h1m1 0h1m0 0h1m0 0h1m0 0h1m0 0h1m0 0h1m0 0h1m2 0h1m3 0h1m2 0h1m1 0h1m-27 1h1m4 0h1m0 0h1m1 0h1m1 0h1m0 0h1m1 0h1m0 0h1m4 0h1m1 0h1m12 0h1m-40 1h1m1 0h1m0 0h1m1 0h1m0 0h1m0 0h1m0 0h1m2 0h1m12 0h1m1 0h1m0 0h1m0 0h1m0 0h1m0 0h1m0 0h1m2 0h1m-35 1h1m4 0h1m0 0h1m2 0h1m0 0h1m0 0h1m1 0h1m1 0h1m0 0h1m0 0h1m0 0h1m0 0h1m0 0h1m2 0h1m1 0h1m2 0h1m-31 1h1m1 0h1m5 0h1m0 0h1m1 0h1m0 0h1m0 0h1m3 0h1m3 0h1m0 0h1m0 0h1m2 0h1m2 0h1m0 0h1m3 0h1m-35 1h1m0 0h1m2 0h1m0 0h1m0 0h1m3 0h1m0 0h1m0 0h1m1 0h1m0 0h1m1 0h1m1 0h1m0 0h1m0 0h1m3 0h1m0 0h1m9 0h1m-37 1h1m2 0h1m2 0h1m2 0h1m0 0h1m0 0h1m0 0h1m0 0h1m0 0h1m1 0h1m0 0h1m2 0h1m0 0h1m0 0h1m0 0h1m1 0h1m0 0h1m1 0h1m5 0h1m-35 1h1m6 0h1m1 0h1m2 0h1m0 0h1m0 0h1m0 0h1m0 0h1m1 0h1m1 0h1m0 0h1m0 0h1m1 0h1m1 0h1m0 0h1m0 0h1m1 0h1m7 0h1m-39 1h1m2 0h1m0 0h1m1 0h1m1 0h1m1 0h1m2 0h1m0 0h1m0 0h1m0 0h1m1 0h1m0 0h1m2 0h1m0 0h1m0 0h1m3 0h1m2 0h1m2 0h1m4 0h1m-40 1h1m1 0h1m2 0h1m0 0h1m0 0h1m1 0h1m1 0h1m1 0h1m0 0h1m1 0h1m0 0h1m0 0h1m0 0h1m0 0h1m0 0h1m0 0h1m1 0h1m2 0h1m0 0h1m0 0h1m0 0h1m0 0h1m0 0h1m1 0h1m2 0h1m1 0h1m-36 1h1m2 0h1m1 0h1m0 0h1m1 0h1m1 0h1m0 0h1m0 0h1m0 0h1m1 0h1m0 0h1m0 0h1m1 0h1m0 0h1m0 0h1m1 0h1m2 0h1m0 0h1m0 0h1m-33 1h1m2 0h1m2 0h1m1 0h1m0 0h1m0 0h1m5 0h1m0 0h1m1 0h1m3 0h1m0 0h1m0 0h1m0 0h1m1 0h1m0 0h1m0 0h1m2 0h1m2 0h1m3 0h1m2 0h1m-44 1h1m4 0h1m0 0h1m0 0h1m0 0h1m0 0h1m0 0h1m0 0h1m0 0h1m1 0h1m0 0h1m0 0h1m1 0h1m0 0h1m0 0h1m1 0h1m0 0h1m3 0h1m4 0h1m10 0h1m-44 1h1m4 0h1m4 0h1m1 0h1m4 0h1m2 0h1m0 0h1m1 0h1m1 0h1m0 0h1m0 0h1m0 0h1m1 0h1m4 0h1m2 0h1m2 0h1m-38 1h1m0 0h1m0 0h1m0 0h1m0 0h1m2 0h1m0 0h1m0 0h1m1 0h1m0 0h1m2 0h1m0 0h1m0 0h1m0 0h1m1 0h1m1 0h1m0 0h1m2 0h1m0 0h1m0 0h1m1 0h1m2 0h1m5 0h1m-41 1h1m1 0h1m6 0h1m0 0h1m0 0h1m2 0h1m0 0h1m2 0h1m2 0h1m3 0h1m0 0h1m0 0h1m0 0h1m0 0h1m8 0h1m-42 1h1m1 0h1m3 0h1m0 0h1m0 0h1m1 0h1m1 0h1m0 0h1m1 0h1m1 0h1m4 0h1m0 0h1m0 0h1m3 0h1m2 0h1m3 0h1m-36 1h1m1 0h1m1 0h1m0 0h1m0 0h1m1 0h1m1 0h1m1 0h1m1 0h1m0 0h1m0 0h1m0 0h1m0 0h1m0 0h1m1 0h1m1 0h1m2 0h1m13 0h1m-40 1h1m0 0h1m0 0h1m0 0h1m2 0h1m0 0h1m1 0h1m0 0h1m5 0h1m1 0h1m0 0h1m2 0h1m0 0h1m0 0h1m3 0h1m3 0h1m2 0h1m0 0h1m-37 1h1m2 0h1m2 0h1m3 0h1m0 0h1m0 0h1m2 0h1m0 0h1m0 0h1m0 0h1m2 0h1m4 0h1m3 0h1m2 0h1m-35 1h1m0 0h1m1 0h1m3 0h1m1 0h1m2 0h1m0 0h1m1 0h1m0 0h1m1 0h1m0 0h1m4 0h1m0 0h1m2 0h1m2 0h1m0 0h1m-32 1h1m8 0h1m0 0h1m3 0h1m0 0h1m1 0h1m2 0h1m1 0h1m7 0h1m-29 1h1m1 0h1m0 0h1m5 0h1m1 0h1m0 0h1m1 0h1m1 0h1m4 0h1m0 0h1m3 0h1m13 0h1m5 0h1m-48 1h1m3 0h1m2 0h1m2 0h1m1 0h1m0 0h1m4 0h1m0 0h1m0 0h1m0 0h1m-19 1h1m5 0h1m1 0h1m0 0h1m3 0h1m0 0h1m0 0h1m0 0h1m7 0h1m5 0h1m2 0h1m0 0h1m-39 1h1m0 0h1m0 0h1m1 0h1m1 0h1m0 0h1m1 0h1m3 0h1m3 0h1m0 0h1m2 0h1m1 0h1m5 0h1m-22 1h1m0 0h1m2 0h1m0 0h1m2 0h1m2 0h1m-12 1h1m5 0h1m4 0h1m7 0h1m1 0h1m-30 1h1m0 0h1m3 0h1m0 0h1m8 0h1m4 0h1" transform="translate(0 .5)" stroke="#000" stroke-width="1" opacity="0.42"/>
<path d="M61 382h1m-15 1h1m10 0h1m-27 2h1m24 0h1m4 0h1m0 0h1m-17 1h1m8 1h1m2 0h1m-21 1h1m15 0h1m8 0h1m-29 1h1m4 0h1m2 0h1m0 0h1m0 0h1m4 0h1m3 0h1m-21 1h1m5 0h1m1 0h1m0 0h1m4 0h1m1 0h1m0 0h1m0 0h1m7 0h1m2 0h1m-26 1h1m1 0h1m2 0h1m1 0h1m0 0h1m2 0h1m1 0h1m8 0h1m0 0h1m-31 1h1m0 0h1m4 0h1m4 0h1m2 0h1m1 0h1m0 0h1m0 0h1m0 0h1m1 0h1m4 0h1m-23 1h1m7 0h1m2 0h1m0 0h1m1 0h1m0 0h1m0 0h1m1 0h1m3 0h1m0 0h1m2 0h1m6 0h1m2 0h1m-39 1h1m2 0h1m2 0h1m0 0h1m1 0h1m0 0h1m0 0h1m1 0h1m0 0h1m2 0h1m0 0h1m0 0h1m1 0h1m0 0h1m0 0h1m2 0h1m1 0h1m0 0h1m-32 1h1m2 0h1m2 0h1m5 0h1m2 0h1m0 0h1m0 0h1m2 0h1m0 0h1m2 0h1m0 0h1m0 0h1m2 0h1m10 0h1m0 0h1m-40 1h1m1 0h1m0 0h1m1 0h1m3 0h1m2 0h1m0 0h1m1 0h1m1 0h1m2 0h1m3 0h1m0 0h1m0 0h1m1 0h1m0 0h1m4 0h1m-35 1h1m5 0h1m0 0h1m0 0h1m0 0h1m0 0h1m1 0h1m0 0h1m0 0h1m0 0h1m2 0h1m2 0h1m2 0h1m2 0h1m0 0h1m3 0h1m0 0h1m0 0h1m0 0h1m-38 1h1m3 0h1m1 0h1m1 0h1m0 0h1m0 0h1m0 0h1m1 0h1m0 0h1m0 0h1m0 0h1m0 0h1m0 0h1m1 0h1m1 0h1m2 0h1m0 0h1m7 0h1m0 0h1m0 0h1m1 0h1m3 0h1m3 0h1m2 0h1m-47 1h1m1 0h1m0 0h1m0 0h1m3 0h1m0 0h1m2 0h1m0 0h1m0 0h1m0 0h1m1 0h1m1 0h1m0 0h1m0 0h1m0 0h1m1 0h1m1 0h1m1 0h1m2 0h1m4 0h1m2 0h1m5 0h1m1 0h1m-48 1h1m0 0h1m8 0h1m1 0h1m3 0h1m0 0h1m2 0h1m4 0h1m0 0h1m0 0h1m3 0h1m0 0h1m8 0h1m8 0h1m8 0h1m30 0h1m-93 1h1m1 0h1m0 0h1m2 0h1m0 0h1m1 0h1m1 0h1m1 0h1m2 0h1m2 0h1m0 0h1m0 0h1m1 0h1m0 0h1m1 0h1m0 0h1m1 0h1m0 0h1m2 0h1m2 0h1m2 0h1m30 0h1m-70 1h1m0 0h1m0 0h1m1 0h1m0 0h1m1 0h1m1 0h1m3 0h1m1 0h1m1 0h1m1 0h1m2 0h1m2 0h1m2 0h1m0 0h1m0 0h1m2 0h1m0 0h1m0 0h1m3 0h1m7 0h1m0 0h1m4 0h1m-54 1h1m1 0h1m1 0h1m0 0h1m0 0h1m0 0h1m0 0h1m0 0h1m1 0h1m0 0h1m4 0h1m1 0h1m1 0h1m1 0h1m3 0h1m1 0h1m2 0h1m1 0h1m2 0h1m0 0h1m14 0h1m6 0h1m3 0h1m15 0h1m-83 1h1m3 0h1m5 0h1m4 0h1m2 0h1m0 0h1m2 0h1m5 0h1m2 0h1m3 0h1m1 0h1m1 0h1m9 0h1m6 0h1m10 0h1m-66 1h1m0 0h1m1 0h1m5 0h1m5 0h1m1 0h1m0 0h1m4 0h1m8 0h1m3 0h1m4 0h1m3 0h1m2 0h1m3 0h1m3 0h1m0 0h1m5 0h1m-64 1h1m4 0h1m7 0h1m12 0h1m7 0h1m0 0h1m8 0h1m9 0h1m-47 1h1m0 0h1m5 0h1m0 0h1m2 0h1m0 0h1m2 0h1m2 0h1m6 0h1m0 0h1m3 0h1m0 0h1m0 0h1m11 0h1m1 0h1m13 0h1m20 0h1m-76 1h1m7 0h1m7 0h1m2 0h1m8 0h1m2 0h1m3 0h1m6 0h1m6 0h1m3 0h1m11 0h1m1 0h1m4 0h1m5 0h1m-80 1h1m1 0h1m4 0h1m4 0h1m4 0h1m7 0h1m1 0h1m3 0h1m16 0h1m6 0h1m-53 1h1m6 0h1m1 0h1m1 0h1m4 0h1m0 0h1m6 0h1m0 0h1m4 0h1m0 0h1m2 0h1m1 0h1m5 0h1m9 0h1m15 0h1m-52 1h1m0 0h1m0 0h1m1 0h1m2 0h1m1 0h1m2 0h1m4 0h1m2 0h1m13 0h1m6 0h1m11 0h1m-66 1h1m11 0h1m1 0h1m0 0h1m0 0h1m3 0h1m9 0h1m3 0h1m1 0h1m0 0h1m2 0h1m6 0h1m16 0h1m-74 1h1m10 0h1m1 0h1m1 0h1m1 0h1m2 0h1m2 0h1m3 0h1m3 0h1m1 0h1m0 0h1m4 0h1m3 0h1m1 0h1m1 0h1m2 0h1m4 0h1m8 0h1m0 0h1m-62 1h1m6 0h1m1 0h1m3 0h1m1 0h1m0 0h1m2 0h1m0 0h1m1 0h1m0 0h1m0 0h1m0 0h1m0 0h1m0 0h1m2 0h1m3 0h1m0 0h1m9 0h1m2 0h1m0 0h1m23 0h1m-67 1h1m15 0h1m0 0h1m1 0h1m4 0h1m0 0h1m6 0h1m0 0h1m7 0h1m2 0h1m9 0h1m-73 1h1m10 0h1m0 0h1m9 0h1m0 0h1m1 0h1m0 0h1m0 0h1m0 0h1m0 0h1m1 0h1m0 0h1m1 0h1m1 0h1m2 0h1m0 0h1m1 0h1m0 0h1m0 0h1m4 0h1m0 0h1m2 0h1m0 0h1m11 0h1m5 0h1m-58 1h1m0 0h1m2 0h1m0 0h1m4 0h1m2 0h1m1 0h1m2 0h1m0 0h1m0 0h1m1 0h1m1 0h1m0 0h1m0 0h1m0 0h1m0 0h1m0 0h1m3 0h1m0 0h1m2 0h1m0 0h1m0 0h1m3 0h1m1 0h1m0 0h1m2 0h1m2 0h1m2 0h1m1 0h1m4 0h1m1 0h1m5 0h1m-74 1h1m0 0h1m0 0h1m3 0h1m1 0h1m3 0h1m1 0h1m8 0h1m1 0h1m1 0h1m0 0h1m2 0h1m0 0h1m0 0h1m21 0h1m13 0h1m-71 1h1m4 0h1m6 0h1m1 0h1m1 0h1m2 0h1m0 0h1m0 0h1m0 0h1m0 0h1m2 0h1m3 0h1m0 0h1m0 0h1m0 0h1m1 0h1m0 0h1m0 0h1m2 0h1m4 0h1m1 0h1m3 0h1m5 0h1m0 0h1m-59 1h1m4 0h1m5 0h1m2 0h1m2 0h1m1 0h1m1 0h1m4 0h1m1 0h1m0 0h1m1 0h1m2 0h1m0 0h1m0 0h1m5 0h1m0 0h1m1 0h1m0 0h1m4 0h1m5 0h1m2 0h1m-70 1h1m7 0h1m4 0h1m0 0h1m1 0h1m1 0h1m3 0h1m0 0h1m0 0h1m3 0h1m0 0h1m6 0h1m2 0h1m0 0h1m2 0h1m0 0h1m5 0h1m1 0h1m0 0h1m-33 1h1m1 0h1m0 0h1m1 0h1m0 0h1m0 0h1m0 0h1m0 0h1m1 0h1m1 0h1m1 0h1m0 0h1m0 0h1m0 0h1m2 0h1m1 0h1m2 0h1m1 0h1m4 0h1m11 0h1m0 0h1m2 0h1m-54 1h1m5 0h1m0 0h1m0 0h1m1 0h1m1 0h1m1 0h1m8 0h1m1 0h1m1 0h1m1 0h1m2 0h1m0 0h1m0 0h1m0 0h1m0 0h1m2 0h1m9 0h1m-56 1h1m5 0h1m10 0h1m2 0h1m0 0h1m5 0h1m0 0h1m0 0h1m1 0h1m2 0h1m7 0h1m4 0h1m5 0h1m7 0h1m1 0h1m-59 1h1m0 0h1m2 0h1m1 0h1m0 0h1m0 0h1m1 0h1m3 0h1m0 0h1m0 0h1m0 0h1m0 0h1m2 0h1m0 0h1m0 0h1m6 0h1m6 0h1m0 0h1m0 0h1m7 0h1m8 0h1m0 0h1m3 0h1m-77 1h1m1 0h1m6 0h1m2 0h1m0 0h1m0 0h1m1 0h1m1 0h1m1 0h1m1 0h1m0 0h1m1 0h1m1 0h1m0 0h1m0 0h1m0 0h1m0 0h1m2 0h1m1 0h1m0 0h1m3 0h1m1 0h1m5 0h1m11 0h1m-46 1h1m4 0h1m7 0h1m0 0h1m0 0h1m0 0h1m1 0h1m1 0h1m1 0h1m1 0h1m2 0h1m0 0h1m4 0h1m2 0h1m2 0h1m0 0h1m2 0h1m7 0h1m6 0h1m-58 1h1m0 0h1m0 0h1m3 0h1m2 0h1m1 0h1m2 0h1m2 0h1m7 0h1m8 0h1m9 0h1m19 0h1m-73 1h1m2 0h1m1 0h1m6 0h1m3 0h1m0 0h1m0 0h1m3 0h1m0 0h1m2 0h1m0 0h1m2 0h1m2 0h1m0 0h1m2 0h1m2 0h1m0 0h1m8 0h1m-47 1h1m0 0h1m9 0h1m0 0h1m1 0h1m0 0h1m1 0h1m1 0h1m2 0h1m0 0h1m0 0h1m0 0h1m1 0h1m7 0h1m8 0h1m-50 1h1m0 0h1m8 0h1m2 0h1m7 0h1m0 0h1m0 0h1m0 0h1m1 0h1m0 0h1m0 0h1m0 0h1m0 0h1m1 0h1m0 0h1m6 0h1m2 0h1m30 0h1m-69 1h1m8 0h1m1 0h1m1 0h1m0 0h1m2 0h1m0 0h1m0 0h1m0 0h1m2 0h1m1 0h1m1 0h1m0 0h1m11 0h1m0 0h1m11 0h1m-43 1h1m1 0h1m0 0h1m0 0h1m1 0h1m1 0h1m1 0h1m0 0h1m6 0h1m1 0h1m7 0h1m25 0h1m-86 1h1m7 0h1m3 0h1m5 0h1m10 0h1m7 0h1m7 0h1m12 0h1m10 0h1m2 0h1m-46 1h1m10 0h1m3 0h1m18 0h1m6 0h1m7 0h1m-61 1h1m1 0h1m7 0h1m4 0h1m11 0h1m2 0h1m18 0h1" transform="translate(0 .5)" stroke="#000" stroke-width="1" opacity="0.22"/>
</g>
<rect x="32" y="364.2" width="95.5" height="72.5" fill="none" stroke="#999" stroke-width="0.8"/>
<line x1="64.4" y1="364.2" x2="64.4" y2="436.7" stroke="#aaa" stroke-width="0.8"/>
<line x1="32.0" y1="405.0" x2="127.5" y2="405.0" stroke="#aaa" stroke-width="0.8"/>
<text transform="translate(34.4 372.0) scale(1.22 1)" font-size="7.6" class="q">32.6</text>
<text transform="translate(127.2 372.0) scale(1.22 1)" font-size="7.6" class="q" text-anchor="end">2.9</text>
<rect x="33.2" y="428.5" width="20.4" height="7.8" fill="#fff" stroke="#555" stroke-width="0.6"/>
<text transform="translate(34.4 435.1) scale(1.22 1)" font-size="7.6" class="q">61.8</text>
<text transform="translate(127.2 435.1) scale(1.22 1)" font-size="7.6" class="q" text-anchor="end">2.7</text>
<line x1="30.5" y1="371.4" x2="32.0" y2="371.4" stroke="#777" stroke-width="0.6"/>
<line x1="30.5" y1="387.7" x2="32.0" y2="387.7" stroke="#777" stroke-width="0.6"/>
<line x1="30.5" y1="404.0" x2="32.0" y2="404.0" stroke="#777" stroke-width="0.6"/>
<line x1="30.5" y1="421.4" x2="32.0" y2="421.4" stroke="#777" stroke-width="0.6"/>
<line x1="30.5" y1="429.7" x2="32.0" y2="429.7" stroke="#777" stroke-width="0.6"/>
<line x1="42.1" y1="436.7" x2="42.1" y2="438.2" stroke="#777" stroke-width="0.6"/>
<line x1="54.6" y1="436.7" x2="54.6" y2="438.2" stroke="#777" stroke-width="0.6"/>
<line x1="77.2" y1="436.7" x2="77.2" y2="438.2" stroke="#777" stroke-width="0.6"/>
<line x1="98.8" y1="436.7" x2="98.8" y2="438.2" stroke="#777" stroke-width="0.6"/>
<line x1="120.0" y1="436.7" x2="120.0" y2="438.2" stroke="#777" stroke-width="0.6"/>
<text x="42.1" y="444.7" font-size="4.2" text-anchor="middle" fill="#333">0</text>
<text x="54.6" y="444.7" font-size="4.2" text-anchor="middle" fill="#333">10²</text>
<text x="77.2" y="444.7" font-size="4.2" text-anchor="middle" fill="#333">10³</text>
<text x="98.8" y="444.7" font-size="4.2" text-anchor="middle" fill="#333">10⁴</text>
<text x="120.0" y="444.7" font-size="4.2" text-anchor="middle" fill="#333">10⁵</text>
<text x="29.7" y="372.8" font-size="4.2" text-anchor="end" fill="#333">10⁵</text>
<text x="29.7" y="389.1" font-size="4.2" text-anchor="end" fill="#333">10⁴</text>
<text x="29.7" y="405.4" font-size="4.2" text-anchor="end" fill="#333">10³</text>
<text x="29.7" y="422.8" font-size="4.2" text-anchor="end" fill="#333">10²</text>
<text x="29.7" y="431.1" font-size="4.2" text-anchor="end" fill="#333">0</text>
<text x="139.3" y="12.2" font-size="17" font-weight="bold" fill="#000">B</text>
<text x="153.6" y="111.6" font-size="9.8" transform="rotate(-90 153.6 111.6)">NK cell frequency (%)</text>
<line x1="175.0" y1="18.8" x2="175.0" y2="110.4" stroke="#6a6a6a" stroke-width="0.8"/>
<line x1="172.8" y1="110.3" x2="175.0" y2="110.3" stroke="#6a6a6a" stroke-width="0.8"/>
<text x="171.5" y="114.7" font-size="10.1" text-anchor="end">0</text>
<line x1="172.8" y1="92.0" x2="175.0" y2="92.0" stroke="#6a6a6a" stroke-width="0.8"/>
<text x="171.5" y="96.4" font-size="10.1" text-anchor="end">10</text>
<line x1="172.8" y1="73.7" x2="175.0" y2="73.7" stroke="#6a6a6a" stroke-width="0.8"/>
<text x="171.5" y="78.1" font-size="10.1" text-anchor="end">20</text>
<line x1="172.8" y1="55.4" x2="175.0" y2="55.4" stroke="#6a6a6a" stroke-width="0.8"/>
<text x="171.5" y="59.8" font-size="10.1" text-anchor="end">30</text>
<line x1="172.8" y1="37.1" x2="175.0" y2="37.1" stroke="#6a6a6a" stroke-width="0.8"/>
<text x="171.5" y="41.5" font-size="10.1" text-anchor="end">40</text>
<line x1="172.8" y1="18.8" x2="175.0" y2="18.8" stroke="#6a6a6a" stroke-width="0.8"/>
<text x="171.5" y="23.2" font-size="10.1" text-anchor="end">50</text>
<line x1="175.0" y1="110.4" x2="313.0" y2="110.4" stroke="#6a6a6a" stroke-width="0.8"/>
<line x1="192.5" y1="110.4" x2="192.5" y2="112.8" stroke="#6a6a6a" stroke-width="0.8"/>
<line x1="226.8" y1="110.4" x2="226.8" y2="112.8" stroke="#6a6a6a" stroke-width="0.8"/>
<line x1="261.1" y1="110.4" x2="261.1" y2="112.8" stroke="#6a6a6a" stroke-width="0.8"/>
<line x1="295.4" y1="110.4" x2="295.4" y2="112.8" stroke="#6a6a6a" stroke-width="0.8"/>
<circle cx="191.2" cy="69.1" r="1.3" fill="#111"/>
<circle cx="194.1" cy="71.8" r="1.3" fill="#111"/>
<circle cx="189.8" cy="79.9" r="1.3" fill="#111"/>
<circle cx="195.2" cy="79.9" r="1.3" fill="#111"/>
<circle cx="192.5" cy="82.6" r="1.3" fill="#111"/>
<circle cx="192.5" cy="87.0" r="1.3" fill="#111"/>
<circle cx="188.2" cy="90.8" r="1.3" fill="#111"/>
<circle cx="190.5" cy="90.8" r="1.3" fill="#111"/>
<circle cx="192.5" cy="90.8" r="1.3" fill="#111"/>
<circle cx="194.8" cy="90.8" r="1.3" fill="#111"/>
<circle cx="196.9" cy="90.8" r="1.3" fill="#111"/>
<circle cx="192.5" cy="94.8" r="1.3" fill="#111"/>
<circle cx="192.5" cy="99.7" r="1.3" fill="#111"/>
<circle cx="226.8" cy="63.1" r="1.3" fill="#111"/>
<circle cx="225.1" cy="77.6" r="1.3" fill="#111"/>
<circle cx="228.6" cy="77.9" r="1.3" fill="#111"/>
<circle cx="226.8" cy="81.9" r="1.3" fill="#111"/>
<circle cx="225.1" cy="85.7" r="1.3" fill="#111"/>
<circle cx="228.2" cy="86.6" r="1.3" fill="#111"/>
<circle cx="224.1" cy="91.3" r="1.3" fill="#111"/>
<circle cx="226.8" cy="94.3" r="1.3" fill="#111"/>
<circle cx="229.5" cy="93.0" r="1.3" fill="#111"/>
<circle cx="225.5" cy="97.8" r="1.3" fill="#111"/>
<circle cx="228.6" cy="99.1" r="1.3" fill="#111"/>
<circle cx="226.8" cy="102.5" r="1.3" fill="#111"/>
<rect x="260.2" y="62.2" width="2.3" height="2.3" fill="#111"/>
<rect x="260.2" y="73.0" width="2.3" height="2.3" fill="#111"/>
<rect x="258.8" y="77.5" width="2.3" height="2.3" fill="#111"/>
<rect x="261.8" y="77.9" width="2.3" height="2.3" fill="#111"/>
<rect x="257.7" y="85.1" width="2.3" height="2.3" fill="#111"/>
<rect x="260.4" y="85.7" width="2.3" height="2.3" fill="#111"/>
<rect x="262.9" y="85.9" width="2.3" height="2.3" fill="#111"/>
<rect x="258.8" y="92.9" width="2.3" height="2.3" fill="#111"/>
<rect x="257.7" y="97.2" width="2.3" height="2.3" fill="#111"/>
<rect x="260.4" y="96.7" width="2.3" height="2.3" fill="#111"/>
<rect x="263.1" y="97.6" width="2.3" height="2.3" fill="#111"/>
<rect x="260.4" y="99.7" width="2.3" height="2.3" fill="#111"/>
<path d="M294.5 81.7L295.9 84.3H293.1Z" fill="#111"/>
<path d="M297.2 85.0L298.6 87.6H295.8Z" fill="#111"/>
<path d="M297.1 95.1L298.5 97.7H295.7Z" fill="#111"/>
<path d="M294.4 97.8L295.8 100.4H293.0Z" fill="#111"/>
<path d="M298.8 100.4L300.2 103.0H297.3Z" fill="#111"/>
<path d="M293.0 102.4L294.4 105.0H291.6Z" fill="#111"/>
<path d="M295.4 103.0L296.8 105.6H294.0Z" fill="#111"/>
<path d="M287.2 105.4L288.6 108.0H285.8Z" fill="#111"/>
<path d="M289.1 105.4L290.5 108.0H287.7Z" fill="#111"/>
<path d="M291.1 105.4L292.5 108.0H289.7Z" fill="#111"/>
<path d="M293.0 105.4L294.4 108.0H291.6Z" fill="#111"/>
<path d="M295.9 105.4L297.3 108.0H294.5Z" fill="#111"/>
<path d="M298.8 105.4L300.2 108.0H297.3Z" fill="#111"/>
<path d="M300.7 105.4L302.1 108.0H299.3Z" fill="#111"/>
<path d="M303.6 105.4L305.0 108.0H302.2Z" fill="#111"/>
<path d="M295.9 107.6L297.3 110.2H294.5Z" fill="#111"/>
<line x1="180.4" y1="86.0" x2="204.3" y2="86.0" stroke="#666" stroke-width="1.2"/>
<line x1="215.4" y1="87.6" x2="238.5" y2="87.6" stroke="#666" stroke-width="1.2"/>
<line x1="249.4" y1="87.0" x2="273.0" y2="87.0" stroke="#666" stroke-width="1.2"/>
<line x1="284.0" y1="100.4" x2="307.9" y2="100.4" stroke="#666" stroke-width="1.2"/>
<path d="M192.5 21.3V20.0H296.3V21.3" fill="none" stroke="#666" stroke-width="0.9"/>
<circle cx="243.5" cy="14.5" r="1.25" fill="#111"/>
<circle cx="247.5" cy="14.5" r="1.25" fill="#111"/>
<path d="M227.5 37.6V36.3H296.3V37.6" fill="none" stroke="#666" stroke-width="0.9"/>
<circle cx="261.0" cy="29.3" r="1.25" fill="#111"/>
<circle cx="265.0" cy="29.3" r="1.25" fill="#111"/>
<path d="M262.0 53.3V52.0H296.3V53.3" fill="none" stroke="#666" stroke-width="0.9"/>
<circle cx="279.0" cy="44.5" r="1.25" fill="#111"/>
<circle cx="283.0" cy="44.5" r="1.25" fill="#111"/>
<text transform="translate(198.5 119.3) rotate(-45)" font-size="9.7" text-anchor="end"><tspan x="0" y="0">Healthy donors</tspan></text>
<text transform="translate(222.9 121.4) rotate(-45)" font-size="9.7" text-anchor="end"><tspan x="0" y="0">Age-matched</tspan><tspan x="5.2" y="11.6">healthy control</tspan></text>
<text transform="translate(267.1 119.3) rotate(-45)" font-size="9.7" text-anchor="end"><tspan x="0" y="0">MPN without ruxo</tspan></text>
<text transform="translate(301.4 119.3) rotate(-45)" font-size="9.7" text-anchor="end"><tspan x="0" y="0">MPN with ruxo</tspan></text>
<text x="330.1" y="116.1" font-size="9.7" transform="rotate(-90 330.1 116.1)">Absolute NK cell number</text>
<text x="342.8" y="80.0" font-size="9.5" transform="rotate(-90 342.8 80.0)">(10<tspan font-size="6" dy="-3.5">3</tspan><tspan dy="3.5">/μL)</tspan></text>
<line x1="365.5" y1="18.8" x2="365.5" y2="110.4" stroke="#6a6a6a" stroke-width="0.8"/>
<line x1="363.3" y1="110.4" x2="365.5" y2="110.4" stroke="#6a6a6a" stroke-width="0.8"/>
<text x="361.5" y="114.8" font-size="10.1" text-anchor="end">0.0</text>
<line x1="363.3" y1="80.0" x2="365.5" y2="80.0" stroke="#6a6a6a" stroke-width="0.8"/>
<text x="361.5" y="84.4" font-size="10.1" text-anchor="end">0.5</text>
<line x1="363.3" y1="49.6" x2="365.5" y2="49.6" stroke="#6a6a6a" stroke-width="0.8"/>
<text x="361.5" y="54.0" font-size="10.1" text-anchor="end">1.0</text>
<line x1="363.3" y1="19.2" x2="365.5" y2="19.2" stroke="#6a6a6a" stroke-width="0.8"/>
<text x="361.5" y="23.6" font-size="10.1" text-anchor="end">1.5</text>
<line x1="365.5" y1="110.4" x2="503.5" y2="110.4" stroke="#6a6a6a" stroke-width="0.8"/>
<line x1="383.0" y1="110.4" x2="383.0" y2="112.8" stroke="#6a6a6a" stroke-width="0.8"/>
<line x1="417.3" y1="110.4" x2="417.3" y2="112.8" stroke="#6a6a6a" stroke-width="0.8"/>
<line x1="451.6" y1="110.4" x2="451.6" y2="112.8" stroke="#6a6a6a" stroke-width="0.8"/>
<line x1="485.9" y1="110.4" x2="485.9" y2="112.8" stroke="#6a6a6a" stroke-width="0.8"/>
<circle cx="383.2" cy="80.3" r="1.3" fill="#111"/>
<circle cx="381.9" cy="86.9" r="1.3" fill="#111"/>
<circle cx="384.7" cy="89.5" r="1.3" fill="#111"/>
<circle cx="380.4" cy="94.6" r="1.3" fill="#111"/>
<circle cx="382.2" cy="95.7" r="1.3" fill="#111"/>
<circle cx="384.7" cy="95.1" r="1.3" fill="#111"/>
<circle cx="387.0" cy="96.9" r="1.3" fill="#111"/>
<circle cx="379.6" cy="96.6" r="1.3" fill="#111"/>
<circle cx="384.7" cy="99.7" r="1.3" fill="#111"/>
<circle cx="381.6" cy="104.6" r="1.3" fill="#111"/>
<circle cx="384.7" cy="104.6" r="1.3" fill="#111"/>
<path d="M417.6 48.5L419.0 45.9H416.2Z" fill="#111"/>
<path d="M416.5 81.9L417.9 79.3H415.1Z" fill="#111"/>
<path d="M419.2 83.4L420.6 80.8H417.8Z" fill="#111"/>
<path d="M417.6 87.0L419.0 84.4H416.2Z" fill="#111"/>
<path d="M416.5 94.7L417.9 92.1H415.1Z" fill="#111"/>
<path d="M419.2 95.8L420.6 93.2H417.8Z" fill="#111"/>
<path d="M416.5 98.8L417.9 96.2H415.1Z" fill="#111"/>
<path d="M419.2 99.8L420.6 97.2H417.8Z" fill="#111"/>
<path d="M418.8 102.8L420.2 100.2H417.4Z" fill="#111"/>
<path d="M416.5 105.4L417.9 102.8H415.1Z" fill="#111"/>
<rect x="450.4" y="83.8" width="2.3" height="2.3" fill="#111"/>
<rect x="452.3" y="84.7" width="2.3" height="2.3" fill="#111"/>
<rect x="452.7" y="87.4" width="2.3" height="2.3" fill="#111"/>
<rect x="449.7" y="89.7" width="2.3" height="2.3" fill="#111"/>
<rect x="452.3" y="90.9" width="2.3" height="2.3" fill="#111"/>
<rect x="451.7" y="95.1" width="2.3" height="2.3" fill="#111"/>
<rect x="449.7" y="98.9" width="2.3" height="2.3" fill="#111"/>
<rect x="448.9" y="102.0" width="2.3" height="2.3" fill="#111"/>
<rect x="453.5" y="102.0" width="2.3" height="2.3" fill="#111"/>
<rect x="448.4" y="103.5" width="2.3" height="2.3" fill="#111"/>
<rect x="451.2" y="103.5" width="2.3" height="2.3" fill="#111"/>
<rect x="451.2" y="107.4" width="2.3" height="2.3" fill="#111"/>
<path d="M486.6 69.9L488.0 72.5H485.2Z" fill="#111"/>
<path d="M486.6 90.7L488.0 93.3H485.2Z" fill="#111"/>
<path d="M486.6 98.4L488.0 101.0H485.2Z" fill="#111"/>
<path d="M483.9 100.7L485.3 103.3H482.5Z" fill="#111"/>
<path d="M488.5 100.7L489.9 103.3H487.1Z" fill="#111"/>
<path d="M485.4 103.0L486.8 105.6H484.0Z" fill="#111"/>
<path d="M488.1 103.8L489.5 106.4H486.7Z" fill="#111"/>
<path d="M480.8 106.9L482.2 109.5H479.4Z" fill="#111"/>
<path d="M483.1 106.9L484.5 109.5H481.7Z" fill="#111"/>
<path d="M485.4 106.9L486.8 109.5H484.0Z" fill="#111"/>
<path d="M487.7 106.9L489.1 109.5H486.3Z" fill="#111"/>
<path d="M490.8 106.9L492.2 109.5H489.4Z" fill="#111"/>
<path d="M493.4 106.9L494.8 109.5H492.0Z" fill="#111"/>
<line x1="371.2" y1="95.1" x2="395.0" y2="95.1" stroke="#666" stroke-width="1.2"/>
<line x1="406.2" y1="90.0" x2="429.6" y2="90.0" stroke="#666" stroke-width="1.2"/>
<line x1="440.0" y1="96.6" x2="463.5" y2="96.6" stroke="#666" stroke-width="1.2"/>
<line x1="474.6" y1="103.1" x2="497.7" y2="103.1" stroke="#666" stroke-width="1.2"/>
<path d="M383.0 21.3V20.0H487.5V21.3" fill="none" stroke="#666" stroke-width="0.9"/>
<circle cx="434.3" cy="14.5" r="1.25" fill="#111"/>
<circle cx="438.3" cy="14.5" r="1.25" fill="#111"/>
<path d="M418.8 37.6V36.3H487.5V37.6" fill="none" stroke="#666" stroke-width="0.9"/>
<circle cx="452.5" cy="29.3" r="1.25" fill="#111"/>
<circle cx="456.5" cy="29.3" r="1.25" fill="#111"/>
<path d="M455.0 53.3V52.0H487.5V53.3" fill="none" stroke="#666" stroke-width="0.9"/>
<circle cx="471.3" cy="44.5" r="1.25" fill="#111"/>
<text transform="translate(389.0 119.3) rotate(-45)" font-size="9.7" text-anchor="end"><tspan x="0" y="0">Healthy donors</tspan></text>
<text transform="translate(413.4 121.4) rotate(-45)" font-size="9.7" text-anchor="end"><tspan x="0" y="0">Age-matched</tspan><tspan x="5.2" y="11.6">healthy control</tspan></text>
<text transform="translate(457.6 119.3) rotate(-45)" font-size="9.7" text-anchor="end"><tspan x="0" y="0">MPN without ruxo</tspan></text>
<text transform="translate(491.9 119.3) rotate(-45)" font-size="9.7" text-anchor="end"><tspan x="0" y="0">MPN with ruxo</tspan></text>
<text x="154.2" y="280.0" font-size="9.8" transform="rotate(-90 154.2 280.0)">NK cell frequency (%)</text>
<line x1="175.0" y1="190.4" x2="175.0" y2="281.7" stroke="#6a6a6a" stroke-width="0.8"/>
<line x1="172.8" y1="190.4" x2="175.0" y2="190.4" stroke="#6a6a6a" stroke-width="0.8"/>
<text x="171.5" y="194.8" font-size="10.1" text-anchor="end">20</text>
<line x1="172.8" y1="208.7" x2="175.0" y2="208.7" stroke="#6a6a6a" stroke-width="0.8"/>
<text x="171.5" y="213.1" font-size="10.1" text-anchor="end">15</text>
<line x1="172.8" y1="226.9" x2="175.0" y2="226.9" stroke="#6a6a6a" stroke-width="0.8"/>
<text x="171.5" y="231.3" font-size="10.1" text-anchor="end">10</text>
<line x1="172.8" y1="245.2" x2="175.0" y2="245.2" stroke="#6a6a6a" stroke-width="0.8"/>
<text x="171.5" y="249.6" font-size="10.1" text-anchor="end">5</text>
<line x1="172.8" y1="263.8" x2="175.0" y2="263.8" stroke="#6a6a6a" stroke-width="0.8"/>
<text x="171.5" y="268.2" font-size="10.1" text-anchor="end">0</text>
<line x1="172.8" y1="281.7" x2="175.0" y2="281.7" stroke="#6a6a6a" stroke-width="0.8"/>
<text x="171.5" y="286.1" font-size="10.1" text-anchor="end">-5</text>
<line x1="175.0" y1="263.8" x2="312.0" y2="263.8" stroke="#6a6a6a" stroke-width="0.8"/>
<line x1="202.2" y1="263.8" x2="202.2" y2="266.2" stroke="#6a6a6a" stroke-width="0.8"/>
<text x="202.2" y="277.0" font-size="9.1" text-anchor="middle">5</text>
<line x1="229.4" y1="263.8" x2="229.4" y2="266.2" stroke="#6a6a6a" stroke-width="0.8"/>
<text x="229.4" y="277.0" font-size="9.1" text-anchor="middle">10</text>
<line x1="256.6" y1="263.8" x2="256.6" y2="266.2" stroke="#6a6a6a" stroke-width="0.8"/>
<text x="256.6" y="277.0" font-size="9.1" text-anchor="middle">15</text>
<line x1="283.8" y1="263.8" x2="283.8" y2="266.2" stroke="#6a6a6a" stroke-width="0.8"/>
<text x="283.8" y="277.0" font-size="9.1" text-anchor="middle">20</text>
<line x1="311.0" y1="263.8" x2="311.0" y2="266.2" stroke="#6a6a6a" stroke-width="0.8"/>
<text x="311.0" y="277.0" font-size="9.1" text-anchor="middle">25</text>
<text x="250.7" y="288.0" font-size="9.3" text-anchor="middle">Month with ruxo</text>
<text x="265.0" y="203.3" font-size="9.5" text-anchor="middle"><tspan font-style="italic">P</tspan> = 0.0002</text>
<polyline points="175.0,222.6 178.0,223.7 181.0,224.8 184.0,226.0 187.0,227.1 190.0,228.2 193.0,229.3 196.0,230.3 199.0,231.4 202.0,232.5 205.0,233.5 208.0,234.6 211.0,235.6 214.0,236.6 217.0,237.6 220.0,238.5 223.0,239.4 226.0,240.3 229.0,241.1 232.0,241.9 235.0,242.6 238.0,243.4 241.0,244.0 244.0,244.7 247.0,245.3 250.0,245.9 253.0,246.5 256.0,247.1 259.0,247.7 262.0,248.2 265.0,248.8 268.0,249.3 271.0,249.8 274.0,250.4 277.0,250.9 280.0,251.4 283.0,251.9" fill="none" stroke="#333" stroke-width="0.85"/>
<polyline points="175.0,229.4 178.0,230.2 181.0,231.0 184.0,231.8 187.0,232.7 190.0,233.5 193.0,234.3 196.0,235.1 199.0,235.9 202.0,236.8 205.0,237.6 208.0,238.4 211.0,239.2 214.0,240.0 217.0,240.8 220.0,241.7 223.0,242.5 226.0,243.3 229.0,244.1 232.0,244.9 235.0,245.7 238.0,246.6 241.0,247.4 244.0,248.2 247.0,249.0 250.0,249.8 253.0,250.6 256.0,251.5 259.0,252.3 262.0,253.1 265.0,253.9 268.0,254.7 271.0,255.5 274.0,256.4 277.0,257.2 280.0,258.0 283.0,258.8" fill="none" stroke="#333" stroke-width="0.85"/>
<polyline points="175.0,236.2 178.0,236.7 181.0,237.2 184.0,237.7 187.0,238.3 190.0,238.8 193.0,239.3 196.0,239.9 199.0,240.4 202.0,241.0 205.0,241.6 208.0,242.2 211.0,242.8 214.0,243.4 217.0,244.1 220.0,244.8 223.0,245.5 226.0,246.3 229.0,247.1 232.0,247.9 235.0,248.8 238.0,249.7 241.0,250.7 244.0,251.7 247.0,252.7 250.0,253.7 253.0,254.7 256.0,255.8 259.0,256.9 262.0,257.9 265.0,259.0 268.0,260.1 271.0,261.2 274.0,262.3 277.0,263.5 280.0,264.6 283.0,265.7" fill="none" stroke="#333" stroke-width="0.85"/>
<circle cx="174.9" cy="217.5" r="1.1" fill="#111"/>
<circle cx="174.9" cy="230.5" r="1.1" fill="#111"/>
<circle cx="181.0" cy="221.8" r="1.1" fill="#111"/>
<circle cx="185.9" cy="211.2" r="1.1" fill="#111"/>
<circle cx="185.9" cy="215.2" r="1.1" fill="#111"/>
<circle cx="191.0" cy="236.2" r="1.1" fill="#111"/>
<circle cx="191.0" cy="240.6" r="1.1" fill="#111"/>
<circle cx="191.0" cy="252.7" r="1.1" fill="#111"/>
<circle cx="196.8" cy="255.6" r="1.1" fill="#111"/>
<circle cx="207.5" cy="255.0" r="1.1" fill="#111"/>
<circle cx="213.3" cy="245.8" r="1.1" fill="#111"/>
<circle cx="218.5" cy="207.4" r="1.1" fill="#111"/>
<circle cx="223.4" cy="234.2" r="1.1" fill="#111"/>
<circle cx="223.4" cy="251.5" r="1.1" fill="#111"/>
<circle cx="229.1" cy="246.9" r="1.1" fill="#111"/>
<circle cx="229.1" cy="256.4" r="1.1" fill="#111"/>
<circle cx="234.9" cy="244.9" r="1.1" fill="#111"/>
<circle cx="234.9" cy="255.6" r="1.1" fill="#111"/>
<circle cx="240.1" cy="237.1" r="1.1" fill="#111"/>
<circle cx="240.1" cy="256.4" r="1.1" fill="#111"/>
<circle cx="240.1" cy="257.9" r="1.1" fill="#111"/>
<circle cx="245.6" cy="237.7" r="1.1" fill="#111"/>
<circle cx="245.6" cy="242.9" r="1.1" fill="#111"/>
<circle cx="250.8" cy="250.7" r="1.1" fill="#111"/>
<circle cx="250.8" cy="252.7" r="1.1" fill="#111"/>
<circle cx="250.8" cy="255.6" r="1.1" fill="#111"/>
<circle cx="250.8" cy="257.9" r="1.1" fill="#111"/>
<circle cx="256.0" cy="242.9" r="1.1" fill="#111"/>
<circle cx="261.7" cy="256.4" r="1.1" fill="#111"/>
<circle cx="278.2" cy="246.3" r="1.1" fill="#111"/>
<circle cx="278.2" cy="249.2" r="1.1" fill="#111"/>
<circle cx="278.2" cy="259.3" r="1.1" fill="#111"/>
<circle cx="283.9" cy="256.4" r="1.1" fill="#111"/>
<text x="329.9" y="289.2" font-size="9.7" transform="rotate(-90 329.9 289.2)">Absolute NK cell number</text>
<text x="343.3" y="252.8" font-size="9.5" transform="rotate(-90 343.3 252.8)">(10<tspan font-size="6" dy="-3.5">3</tspan><tspan dy="3.5">/μL)</tspan></text>
<line x1="364.6" y1="190.4" x2="364.6" y2="281.7" stroke="#6a6a6a" stroke-width="0.8"/>
<line x1="362.4" y1="190.4" x2="364.6" y2="190.4" stroke="#6a6a6a" stroke-width="0.8"/>
<text x="361.1" y="194.8" font-size="10.1" text-anchor="end">0.8</text>
<line x1="362.4" y1="208.7" x2="364.6" y2="208.7" stroke="#6a6a6a" stroke-width="0.8"/>
<text x="361.1" y="213.1" font-size="10.1" text-anchor="end">0.6</text>
<line x1="362.4" y1="226.9" x2="364.6" y2="226.9" stroke="#6a6a6a" stroke-width="0.8"/>
<text x="361.1" y="231.3" font-size="10.1" text-anchor="end">0.4</text>
<line x1="362.4" y1="245.2" x2="364.6" y2="245.2" stroke="#6a6a6a" stroke-width="0.8"/>
<text x="361.1" y="249.6" font-size="10.1" text-anchor="end">0.2</text>
<line x1="362.4" y1="263.8" x2="364.6" y2="263.8" stroke="#6a6a6a" stroke-width="0.8"/>
<text x="361.1" y="268.2" font-size="10.1" text-anchor="end">0.0</text>
<line x1="362.4" y1="281.7" x2="364.6" y2="281.7" stroke="#6a6a6a" stroke-width="0.8"/>
<text x="361.1" y="286.1" font-size="10.1" text-anchor="end">-0.2</text>
<line x1="364.6" y1="263.8" x2="501.6" y2="263.8" stroke="#6a6a6a" stroke-width="0.8"/>
<line x1="391.8" y1="263.8" x2="391.8" y2="266.2" stroke="#6a6a6a" stroke-width="0.8"/>
<text x="391.8" y="277.0" font-size="9.1" text-anchor="middle">5</text>
<line x1="419.0" y1="263.8" x2="419.0" y2="266.2" stroke="#6a6a6a" stroke-width="0.8"/>
<text x="419.0" y="277.0" font-size="9.1" text-anchor="middle">10</text>
<line x1="446.2" y1="263.8" x2="446.2" y2="266.2" stroke="#6a6a6a" stroke-width="0.8"/>
<text x="446.2" y="277.0" font-size="9.1" text-anchor="middle">15</text>
<line x1="473.4" y1="263.8" x2="473.4" y2="266.2" stroke="#6a6a6a" stroke-width="0.8"/>
<text x="473.4" y="277.0" font-size="9.1" text-anchor="middle">20</text>
<line x1="500.6" y1="263.8" x2="500.6" y2="266.2" stroke="#6a6a6a" stroke-width="0.8"/>
<text x="500.6" y="277.0" font-size="9.1" text-anchor="middle">25</text>
<text x="440.3" y="288.0" font-size="9.3" text-anchor="middle">Month with ruxo</text>
<text x="454.6" y="203.3" font-size="9.5" text-anchor="middle"><tspan font-style="italic">P</tspan> = 0.0002</text>
<polyline points="364.6,236.6 367.6,237.5 370.6,238.3 373.6,239.1 376.6,240.0 379.6,240.8 382.6,241.6 385.6,242.4 388.6,243.2 391.6,244.0 394.6,244.8 397.6,245.6 400.6,246.3 403.6,247.1 406.6,247.8 409.6,248.5 412.6,249.2 415.6,249.8 418.6,250.4 421.6,251.0 424.6,251.5 427.6,251.9 430.6,252.4 433.6,252.8 436.6,253.2 439.6,253.6 442.6,253.9 445.6,254.2 448.6,254.6 451.6,254.9 454.6,255.2 457.6,255.5 460.6,255.8 463.6,256.1 466.6,256.3 469.6,256.6" fill="none" stroke="#333" stroke-width="0.85"/>
<polyline points="364.6,242.6 367.6,243.2 370.6,243.7 373.6,244.3 376.6,244.8 379.6,245.4 382.6,245.9 385.6,246.5 388.6,247.0 391.6,247.6 394.6,248.2 397.6,248.7 400.6,249.3 403.6,249.8 406.6,250.4 409.6,250.9 412.6,251.5 415.6,252.0 418.6,252.6 421.6,253.2 424.6,253.7 427.6,254.3 430.6,254.8 433.6,255.4 436.6,255.9 439.6,256.5 442.6,257.1 445.6,257.6 448.6,258.2 451.6,258.7 454.6,259.3 457.6,259.8 460.6,260.4 463.6,260.9 466.6,261.5 469.6,262.1" fill="none" stroke="#333" stroke-width="0.85"/>
<polyline points="364.6,248.6 367.6,248.8 370.6,249.1 373.6,249.4 376.6,249.7 379.6,250.0 382.6,250.3 385.6,250.6 388.6,250.9 391.6,251.2 394.6,251.5 397.6,251.9 400.6,252.2 403.6,252.6 406.6,253.0 409.6,253.4 412.6,253.8 415.6,254.3 418.6,254.8 421.6,255.4 424.6,256.0 427.6,256.6 430.6,257.3 433.6,258.0 436.6,258.7 439.6,259.4 442.6,260.2 445.6,261.0 448.6,261.8 451.6,262.6 454.6,263.4 457.6,264.2 460.6,265.0 463.6,265.8 466.6,266.7 469.6,267.5" fill="none" stroke="#333" stroke-width="0.85"/>
<circle cx="364.3" cy="236.2" r="1.1" fill="#111"/>
<circle cx="364.3" cy="241.4" r="1.1" fill="#111"/>
<circle cx="370.1" cy="239.7" r="1.1" fill="#111"/>
<circle cx="375.0" cy="205.1" r="1.1" fill="#111"/>
<circle cx="375.0" cy="236.2" r="1.1" fill="#111"/>
<circle cx="380.2" cy="248.4" r="1.1" fill="#111"/>
<circle cx="380.2" cy="253.5" r="1.1" fill="#111"/>
<circle cx="380.2" cy="255.6" r="1.1" fill="#111"/>
<circle cx="386.0" cy="257.9" r="1.1" fill="#111"/>
<circle cx="396.9" cy="262.2" r="1.1" fill="#111"/>
<circle cx="402.7" cy="257.3" r="1.1" fill="#111"/>
<circle cx="407.6" cy="250.7" r="1.1" fill="#111"/>
<circle cx="413.4" cy="255.6" r="1.1" fill="#111"/>
<circle cx="413.4" cy="258.5" r="1.1" fill="#111"/>
<circle cx="419.1" cy="259.3" r="1.1" fill="#111"/>
<circle cx="423.5" cy="251.5" r="1.1" fill="#111"/>
<circle cx="424.0" cy="259.3" r="1.1" fill="#111"/>
<circle cx="429.2" cy="249.8" r="1.1" fill="#111"/>
<circle cx="429.2" cy="261.3" r="1.1" fill="#111"/>
<circle cx="429.2" cy="262.2" r="1.1" fill="#111"/>
<circle cx="434.4" cy="250.7" r="1.1" fill="#111"/>
<circle cx="435.0" cy="254.4" r="1.1" fill="#111"/>
<circle cx="440.2" cy="257.3" r="1.1" fill="#111"/>
<circle cx="440.2" cy="262.2" r="1.1" fill="#111"/>
<circle cx="440.2" cy="263.6" r="1.1" fill="#111"/>
<circle cx="445.1" cy="254.4" r="1.1" fill="#111"/>
<circle cx="450.9" cy="258.5" r="1.1" fill="#111"/>
<circle cx="456.6" cy="263.6" r="1.1" fill="#111"/>
<circle cx="467.3" cy="253.5" r="1.1" fill="#111"/>
<circle cx="467.3" cy="257.9" r="1.1" fill="#111"/>
<circle cx="467.3" cy="262.2" r="1.1" fill="#111"/>
<circle cx="472.5" cy="262.2" r="1.1" fill="#111"/>
<circle cx="472.5" cy="263.6" r="1.1" fill="#111"/>
<text x="139" y="315.9" font-size="17" font-weight="bold" fill="#000">C</text>
<line x1="174.0" y1="330.2" x2="174.0" y2="419.1" stroke="#6a6a6a" stroke-width="0.8"/>
<line x1="171.8" y1="330.2" x2="174.0" y2="330.2" stroke="#6a6a6a" stroke-width="0.8"/>
<text x="170.5" y="334.6" font-size="10.1" text-anchor="end">20</text>
<line x1="171.8" y1="352.3" x2="174.0" y2="352.3" stroke="#6a6a6a" stroke-width="0.8"/>
<text x="170.5" y="356.7" font-size="10.1" text-anchor="end">15</text>
<line x1="171.8" y1="373.8" x2="174.0" y2="373.8" stroke="#6a6a6a" stroke-width="0.8"/>
<text x="170.5" y="378.2" font-size="10.1" text-anchor="end">10</text>
<line x1="171.8" y1="396.7" x2="174.0" y2="396.7" stroke="#6a6a6a" stroke-width="0.8"/>
<text x="170.5" y="401.1" font-size="10.1" text-anchor="end">5</text>
<line x1="171.8" y1="419.1" x2="174.0" y2="419.1" stroke="#6a6a6a" stroke-width="0.8"/>
<text x="170.5" y="423.5" font-size="10.1" text-anchor="end">0</text>
<line x1="174.0" y1="419.1" x2="294.0" y2="419.1" stroke="#6a6a6a" stroke-width="0.8"/>
<line x1="203.9" y1="419.1" x2="203.9" y2="421.5" stroke="#6a6a6a" stroke-width="0.8"/>
<line x1="265.0" y1="419.1" x2="265.0" y2="421.5" stroke="#6a6a6a" stroke-width="0.8"/>
<circle cx="203.9" cy="350.2" r="1.2" fill="#111"/>
<circle cx="203.1" cy="353.7" r="1.2" fill="#111"/>
<circle cx="205.8" cy="354.5" r="1.2" fill="#111"/>
<circle cx="203.9" cy="359.8" r="1.2" fill="#111"/>
<circle cx="203.9" cy="385.2" r="1.2" fill="#111"/>
<circle cx="203.9" cy="402.1" r="1.2" fill="#111"/>
<circle cx="203.9" cy="409.4" r="1.2" fill="#111"/>
<circle cx="264.5" cy="390.5" r="1.2" fill="#111"/>
<circle cx="262.9" cy="398.6" r="1.2" fill="#111"/>
<circle cx="266.4" cy="398.1" r="1.2" fill="#111"/>
<circle cx="264.5" cy="404.3" r="1.2" fill="#111"/>
<circle cx="261.8" cy="410.2" r="1.2" fill="#111"/>
<circle cx="266.4" cy="410.2" r="1.2" fill="#111"/>
<circle cx="264.5" cy="414.2" r="1.2" fill="#111"/>
<circle cx="263.0" cy="407.5" r="1.2" fill="#111"/>
<line x1="184.2" y1="373.8" x2="224.6" y2="373.8" stroke="#999" stroke-width="1.1"/>
<line x1="242.1" y1="405.1" x2="285.2" y2="405.1" stroke="#444" stroke-width="1.0"/>
<path d="M203.9 341.5V340.2H265.0V341.5" fill="none" stroke="#666" stroke-width="0.9"/>
<circle cx="233.8" cy="334.1" r="1.1" fill="#111"/>
<circle cx="237.1" cy="334.1" r="1.1" fill="#111"/>
<text x="153.3" y="420.8" font-size="9.8" transform="rotate(-90 153.3 420.8)">NK cell frequency (%)</text>
<text transform="translate(211.7 429.6) rotate(-45)" font-size="9.7" text-anchor="end"><tspan x="0" y="0">No relevant</tspan><tspan x="-2.3" y="10.7">infections</tspan></text>
<text transform="translate(271.8 430.7) rotate(-45)" font-size="9.7" text-anchor="end"><tspan x="0" y="0">Relevant</tspan><tspan x="1.8" y="11.0">infections</tspan></text>
<line x1="365.0" y1="331.0" x2="365.0" y2="419.5" stroke="#6a6a6a" stroke-width="0.8"/>
<line x1="362.8" y1="331.0" x2="365.0" y2="331.0" stroke="#6a6a6a" stroke-width="0.8"/>
<text x="361.5" y="335.4" font-size="10.1" text-anchor="end">0.8</text>
<line x1="362.8" y1="353.2" x2="365.0" y2="353.2" stroke="#6a6a6a" stroke-width="0.8"/>
<text x="361.5" y="357.6" font-size="10.1" text-anchor="end">0.6</text>
<line x1="362.8" y1="374.8" x2="365.0" y2="374.8" stroke="#6a6a6a" stroke-width="0.8"/>
<text x="361.5" y="379.2" font-size="10.1" text-anchor="end">0.4</text>
<line x1="362.8" y1="397.3" x2="365.0" y2="397.3" stroke="#6a6a6a" stroke-width="0.8"/>
<text x="361.5" y="401.7" font-size="10.1" text-anchor="end">0.2</text>
<line x1="362.8" y1="419.5" x2="365.0" y2="419.5" stroke="#6a6a6a" stroke-width="0.8"/>
<text x="361.5" y="423.9" font-size="10.1" text-anchor="end">0.0</text>
<line x1="365.0" y1="419.5" x2="498.5" y2="419.5" stroke="#6a6a6a" stroke-width="0.8"/>
<line x1="398.5" y1="419.5" x2="398.5" y2="421.9" stroke="#6a6a6a" stroke-width="0.8"/>
<line x1="465.4" y1="419.5" x2="465.4" y2="421.9" stroke="#6a6a6a" stroke-width="0.8"/>
<circle cx="398.5" cy="348.3" r="1.2" fill="#111"/>
<circle cx="398.5" cy="369.6" r="1.2" fill="#111"/>
<circle cx="398.5" cy="386.3" r="1.2" fill="#111"/>
<circle cx="398.5" cy="400.8" r="1.2" fill="#111"/>
<circle cx="398.5" cy="404.2" r="1.2" fill="#111"/>
<circle cx="397.0" cy="413.7" r="1.2" fill="#111"/>
<circle cx="400.5" cy="412.9" r="1.2" fill="#111"/>
<circle cx="463.4" cy="407.5" r="1.2" fill="#111"/>
<circle cx="466.6" cy="407.5" r="1.2" fill="#111"/>
<circle cx="465.1" cy="410.8" r="1.2" fill="#111"/>
<circle cx="463.6" cy="413.2" r="1.2" fill="#111"/>
<circle cx="466.7" cy="414.0" r="1.2" fill="#111"/>
<circle cx="461.0" cy="417.3" r="1.2" fill="#111"/>
<circle cx="463.7" cy="418.8" r="1.2" fill="#111"/>
<circle cx="466.4" cy="417.6" r="1.2" fill="#111"/>
<circle cx="469.0" cy="416.7" r="1.2" fill="#111"/>
<line x1="376.5" y1="390.7" x2="420.7" y2="390.7" stroke="#888" stroke-width="1.1"/>
<line x1="443.7" y1="413.7" x2="487.9" y2="413.7" stroke="#888" stroke-width="1.1"/>
<path d="M398.5 339.2V337.9H465.4V339.2" fill="none" stroke="#666" stroke-width="0.9"/>
<circle cx="432.8" cy="333.0" r="1.1" fill="#111"/>
<text x="332.1" y="429.9" font-size="9.7" transform="rotate(-90 332.1 429.9)">Absolute NK cell number</text>
<text x="343.7" y="394.6" font-size="9.5" transform="rotate(-90 343.7 394.6)">(10<tspan font-size="6" dy="-3.5">3</tspan><tspan dy="3.5">/μL)</tspan></text>
<text transform="translate(404.8 429.6) rotate(-45)" font-size="9.7" text-anchor="end"><tspan x="0" y="0">No relevant</tspan><tspan x="-2.6" y="9.7">infections</tspan></text>
<text transform="translate(471.9 429.0) rotate(-45)" font-size="9.7" text-anchor="end"><tspan x="0" y="0">Relevant</tspan><tspan x="-0.6" y="9.8">infections</tspan></text>
<text x="-0.2" y="492.5" font-size="17" font-weight="bold" fill="#000">D</text>
<path d="M13 704.5V505" stroke="#999" stroke-width="1.1" fill="none"/>
<path d="M11.8 506.8L13 503.6L14.2 506.8Z" fill="#333"/>
<path d="M13 704.5H360" stroke="#888" stroke-width="1" fill="none"/>
<path d="M359 702.8L366.5 704.5L359 706.2Z" fill="#555"/>
<text transform="translate(7.8 699.1) rotate(-90) scale(1 1.22)" font-size="8.4">CD3</text>
<text transform="translate(14.5 714) scale(1.27 1)" font-size="7.8">CD56</text>
<text transform="translate(73.5 489.3) scale(1.06 1)" font-size="9.5" text-anchor="middle" class="ns">MPN 8</text>
<text transform="translate(73.5 501.3) scale(1.06 1)" font-size="9.5" text-anchor="middle" class="ns">(MPN prior to ruxo)</text>
<clipPath id="c545"><rect x="27.5" y="507" width="95.8" height="75.5"/></clipPath>
<g clip-path="url(#c545)">
<ellipse cx="42" cy="517.7" rx="17" ry="4.3" fill="#000" opacity="1" filter="url(#b1)"/>
<ellipse cx="42" cy="560" rx="11" ry="10" fill="#000" opacity="0.55" filter="url(#b2)"/>
<ellipse cx="94" cy="561" rx="6" ry="6" fill="#000" opacity="0.2" filter="url(#b2)"/>
<path d="M49 512h1m-21 1h1m3 0h1m6 0h1m1 0h1m7 0h1m3 0h1m3 0h1m-31 1h1m2 0h1m0 0h1m1 0h1m0 0h1m2 0h1m2 0h1m0 0h1m0 0h1m0 0h1m0 0h1m1 0h1m2 0h1m4 0h1m2 0h1m0 0h1m11 0h1m-42 1h1m0 0h1m0 0h1m0 0h1m1 0h1m0 0h1m0 0h1m1 0h1m0 0h1m1 0h1m0 0h1m0 0h1m1 0h1m0 0h1m0 0h1m6 0h1m0 0h1m2 0h1m1 0h1m-34 1h1m2 0h1m0 0h1m0 0h1m0 0h1m0 0h1m0 0h1m0 0h1m0 0h1m0 0h1m1 0h1m0 0h1m0 0h1m0 0h1m0 0h1m0 0h1m0 0h1m0 0h1m1 0h1m1 0h1m0 0h1m0 0h1m3 0h1m0 0h1m-33 1h1m0 0h1m1 0h1m1 0h1m1 0h1m0 0h1m0 0h1m1 0h1m1 0h1m0 0h1m0 0h1m0 0h1m0 0h1m0 0h1m0 0h1m0 0h1m0 0h1m0 0h1m0 0h1m0 0h1m1 0h1m1 0h1m0 0h1m7 0h1m0 0h1m-36 1h1m0 0h1m1 0h1m0 0h1m0 0h1m0 0h1m0 0h1m0 0h1m0 0h1m0 0h1m0 0h1m0 0h1m0 0h1m0 0h1m0 0h1m0 0h1m0 0h1m0 0h1m1 0h1m2 0h1m0 0h1m12 0h1m-41 1h1m1 0h1m1 0h1m0 0h1m2 0h1m0 0h1m1 0h1m1 0h1m0 0h1m0 0h1m0 0h1m0 0h1m1 0h1m1 0h1m1 0h1m0 0h1m0 0h1m1 0h1m2 0h1m1 0h1m0 0h1m-32 1h1m0 0h1m0 0h1m4 0h1m0 0h1m0 0h1m1 0h1m0 0h1m2 0h1m1 0h1m0 0h1m0 0h1m0 0h1m0 0h1m0 0h1m1 0h1m0 0h1m0 0h1m1 0h1m-22 1h1m4 0h1m0 0h1m1 0h1m2 0h1m1 0h1m4 0h1m-21 1h1m-2 1h1m6 0h1m14 0h1m1 0h1m-24 9h1m-1 2h1m6 0h1m-12 1h1m2 0h1m3 1h1m-10 1h1m5 0h1m8 0h1m1 0h1m-1 1h1m4 1h1m1 0h1m-4 1h1m53 0h1m-73 1h1m6 0h1m-3 1h1m2 0h1m5 0h1m43 0h1m1 0h1m-58 1h1m3 0h1m2 0h1m0 0h1m0 0h1m1 0h1m3 0h1m37 0h1m-50 1h1m1 0h1m2 0h1m9 0h1m3 0h1m2 0h1m2 0h1m17 0h1m9 0h1m0 0h1m-60 1h1m3 0h1m0 0h1m1 0h1m0 0h1m1 0h1m1 0h1m1 0h1m7 0h1m0 0h1m12 0h1m15 0h1m-44 1h1m0 0h1m2 0h1m1 0h1m0 0h1m38 0h1m8 0h1m-69 1h1m12 0h1m0 0h1m0 0h1m0 0h1m16 0h1m19 0h1m16 0h1m2 0h1m-72 1h1m2 0h1m2 0h1m0 0h1m0 0h1m1 0h1m8 0h1m5 0h1m5 0h1m10 0h1m11 0h1m2 0h1m4 0h1m2 0h1m19 0h1m-89 1h1m5 0h1m1 0h1m1 0h1m2 0h1m4 0h1m9 0h1m0 0h1m2 0h1m35 0h1m1 0h1m6 0h1m-73 1h1m0 0h1m0 0h1m1 0h1m1 0h1m1 0h1m0 0h1m1 0h1m0 0h1m11 0h1m-23 1h1m2 0h1m0 0h1m3 0h1m4 0h1m1 0h1m1 0h1m0 0h1m1 0h1m0 0h1m1 0h1m7 0h1m13 0h1m11 0h1m7 0h1m12 0h1m-84 1h1m3 0h1m2 0h1m0 0h1m1 0h1m0 0h1m1 0h1m0 0h1m0 0h1m5 0h1m0 0h1m1 0h1m0 0h1m2 0h1m19 0h1m9 0h1m1 0h1m2 0h1m1 0h1m2 0h1m1 0h1m1 0h1m-74 1h1m0 0h1m1 0h1m0 0h1m1 0h1m0 0h1m0 0h1m0 0h1m0 0h1m1 0h1m0 0h1m0 0h1m0 0h1m0 0h1m1 0h1m0 0h1m2 0h1m1 0h1m0 0h1m2 0h1m4 0h1m1 0h1m3 0h1m15 0h1m0 0h1m1 0h1m6 0h1m1 0h1m1 0h1m0 0h1m1 0h1m0 0h1m0 0h1m4 0h1m-80 1h1m2 0h1m6 0h1m0 0h1m0 0h1m8 0h1m0 0h1m2 0h1m5 0h1m5 0h1m13 0h1m6 0h1m2 0h1m4 0h1m6 0h1m-72 1h1m0 0h1m0 0h1m1 0h1m0 0h1m1 0h1m0 0h1m1 0h1m0 0h1m0 0h1m0 0h1m5 0h1m2 0h1m2 0h1m12 0h1m16 0h1m1 0h1m0 0h1m7 0h1m1 0h1m0 0h1m-72 1h1m0 0h1m0 0h1m2 0h1m0 0h1m0 0h1m1 0h1m3 0h1m1 0h1m2 0h1m0 0h1m0 0h1m0 0h1m0 0h1m1 0h1m0 0h1m24 0h1m1 0h1m20 0h1m1 0h1m10 0h1m-89 1h1m2 0h1m2 0h1m0 0h1m0 0h1m0 0h1m1 0h1m0 0h1m0 0h1m0 0h1m0 0h1m0 0h1m0 0h1m0 0h1m1 0h1m3 0h1m1 0h1m2 0h1m0 0h1m20 0h1m2 0h1m9 0h1m3 0h1m2 0h1m0 0h1m3 0h1m5 0h1m1 0h1m5 0h1m-89 1h1m0 0h1m4 0h1m0 0h1m0 0h1m1 0h1m0 0h1m0 0h1m0 0h1m0 0h1m0 0h1m2 0h1m1 0h1m4 0h1m1 0h1m1 0h1m4 0h1m3 0h1m16 0h1m0 0h1m0 0h1m4 0h1m0 0h1m1 0h1m0 0h1m3 0h1m3 0h1m0 0h1m2 0h1m3 0h1m-83 1h1m1 0h1m1 0h1m3 0h1m0 0h1m2 0h1m0 0h1m0 0h1m0 0h1m1 0h1m0 0h1m3 0h1m0 0h1m5 0h1m0 0h1m3 0h1m18 0h1m2 0h1m0 0h1m0 0h1m2 0h1m0 0h1m2 0h1m3 0h1m0 0h1m2 0h1m2 0h1m-78 1h1m1 0h1m1 0h1m0 0h1m0 0h1m1 0h1m1 0h1m0 0h1m0 0h1m0 0h1m2 0h1m1 0h1m1 0h1m1 0h1m0 0h1m1 0h1m0 0h1m1 0h1m1 0h1m1 0h1m2 0h1m7 0h1m2 0h1m1 0h1m7 0h1m5 0h1m1 0h1m0 0h1m0 0h1m5 0h1m1 0h1m7 0h1m0 0h1m-84 1h1m1 0h1m1 0h1m2 0h1m0 0h1m2 0h1m0 0h1m1 0h1m1 0h1m1 0h1m1 0h1m2 0h1m0 0h1m3 0h1m8 0h1m4 0h1m9 0h1m2 0h1m0 0h1m4 0h1m1 0h1m0 0h1m0 0h1m3 0h1m5 0h1m6 0h1m-83 1h1m0 0h1m2 0h1m0 0h1m0 0h1m0 0h1m0 0h1m2 0h1m0 0h1m1 0h1m1 0h1m0 0h1m1 0h1m1 0h1m0 0h1m3 0h1m0 0h1m2 0h1m9 0h1m11 0h1m1 0h1m3 0h1m2 0h1m5 0h1m3 0h1m3 0h1m-76 1h1m1 0h1m2 0h1m1 0h1m0 0h1m0 0h1m0 0h1m0 0h1m0 0h1m0 0h1m0 0h1m0 0h1m0 0h1m0 0h1m1 0h1m0 0h1m0 0h1m2 0h1m31 0h1m0 0h1m0 0h1m0 0h1m4 0h1m2 0h1m0 0h1m5 0h1m2 0h1m1 0h1m0 0h1m-82 1h1m1 0h1m1 0h1m0 0h1m2 0h1m0 0h1m0 0h1m0 0h1m0 0h1m0 0h1m0 0h1m0 0h1m0 0h1m1 0h1m0 0h1m0 0h1m1 0h1m0 0h1m0 0h1m0 0h1m0 0h1m2 0h1m1 0h1m1 0h1m1 0h1m7 0h1m12 0h1m0 0h1m4 0h1m11 0h1m3 0h1m1 0h1m-81 1h1m1 0h1m0 0h1m0 0h1m0 0h1m1 0h1m2 0h1m2 0h1m1 0h1m1 0h1m0 0h1m0 0h1m2 0h1m1 0h1m1 0h1m4 0h1m1 0h1m16 0h1m9 0h1m3 0h1m0 0h1m0 0h1m4 0h1m6 0h1m0 0h1m2 0h1m-76 1h1m0 0h1m1 0h1m2 0h1m1 0h1m0 0h1m0 0h1m0 0h1m2 0h1m0 0h1m0 0h1m2 0h1m1 0h1m1 0h1m0 0h1m1 0h1m3 0h1m4 0h1m5 0h1m9 0h1m0 0h1m1 0h1m2 0h1m0 0h1m1 0h1m3 0h1m1 0h1m9 0h1m-84 1h1m1 0h1m4 0h1m1 0h1m1 0h1m0 0h1m0 0h1m0 0h1m0 0h1m1 0h1m2 0h1m0 0h1m2 0h1m0 0h1m1 0h1m0 0h1m34 0h1m2 0h1m0 0h1m1 0h1m1 0h1m0 0h1m1 0h1m3 0h1m-73 1h1m1 0h1m0 0h1m0 0h1m0 0h1m0 0h1m0 0h1m0 0h1m0 0h1m0 0h1m0 0h1m0 0h1m0 0h1m0 0h1m1 0h1m0 0h1m3 0h1m0 0h1m3 0h1m3 0h1m0 0h1m14 0h1m10 0h1m10 0h1m2 0h1m-72 1h1m2 0h1m0 0h1m0 0h1m0 0h1m0 0h1m0 0h1m0 0h1m0 0h1m1 0h1m2 0h1m4 0h1m1 0h1m0 0h1m0 0h1m21 0h1m6 0h1m14 0h1m0 0h1m-74 1h1m2 0h1m4 0h1m0 0h1m0 0h1m0 0h1m0 0h1m0 0h1m0 0h1m0 0h1m2 0h1m0 0h1m1 0h1m4 0h1m5 0h1m0 0h1m18 0h1m5 0h1m4 0h1m9 0h1m-73 1h1m0 0h1m4 0h1m0 0h1m0 0h1m0 0h1m1 0h1m1 0h1m0 0h1m2 0h1m2 0h1m1 0h1m2 0h1m4 0h1m26 0h1m0 0h1m1 0h1m0 0h1m0 0h1m4 0h1m1 0h1m2 0h1m-72 1h1m1 0h1m2 0h1m0 0h1m3 0h1m1 0h1m0 0h1m0 0h1m0 0h1m3 0h1m1 0h1m1 0h1m2 0h1m0 0h1m21 0h1m0 0h1m2 0h1m6 0h1m10 0h1m-73 1h1m2 0h1m0 0h1m3 0h1m0 0h1m0 0h1m2 0h1m5 0h1m0 0h1m0 0h1m2 0h1m7 0h1m11 0h1m5 0h1m2 0h1m26 0h1m-80 1h1m1 0h1m0 0h1m3 0h1m1 0h1m2 0h1m1 0h1m0 0h1m0 0h1m0 0h1m1 0h1m5 0h1m0 0h1m0 0h1m4 0h1m2 0h1m23 0h1m3 0h1m-62 1h1m1 0h1m5 0h1m5 0h1m0 0h1m0 0h1m0 0h1m5 0h1m-28 1h1m4 0h1m5 0h1m2 0h1m4 0h1m3 0h1m0 0h1m1 0h1m0 0h1m5 0h1m35 0h1m6 0h1m-69 1h1m2 0h1m0 0h1m1 0h1m1 0h1m0 0h1m12 0h1m6 0h1m29 0h1m0 0h1m-69 1h1m3 0h1m4 0h1m4 0h1m3 0h1m5 0h1m49 0h1m-72 1h1m5 0h1m3 0h1m1 0h1m2 0h1m4 0h1m3 0h1m3 0h1m7 0h1m31 0h1m-70 1h1m2 0h1m1 0h1m1 0h1m-2 1h1m4 0h1m3 0h1m13 0h1m-27 1h1m7 0h1" transform="translate(0 .5)" stroke="#000" stroke-width="1" opacity="0.42"/>
<path d="M36 511h1m11 0h1m-20 1h1m2 0h1m1 0h1m12 0h1m0 0h1m2 0h1m0 0h1m-19 1h1m2 0h1m3 0h1m2 0h1m1 0h1m-16 1h1m1 0h1m1 0h1m9 0h1m2 0h1m3 0h1m0 0h1m1 0h1m0 0h1m3 0h1m-31 1h1m0 0h1m0 0h1m1 0h1m1 0h1m1 0h1m0 0h1m1 0h1m0 0h1m0 0h1m0 0h1m0 0h1m0 0h1m1 0h1m0 0h1m0 0h1m0 0h1m1 0h1m0 0h1m-27 1h1m1 0h1m2 0h1m1 0h1m0 0h1m0 0h1m0 0h1m0 0h1m0 0h1m0 0h1m0 0h1m1 0h1m0 0h1m1 0h1m0 0h1m0 0h1m0 0h1m2 0h1m0 0h1m0 0h1m1 0h1m8 0h1m0 0h1m3 0h1m-44 1h1m0 0h1m0 0h1m1 0h1m1 0h1m0 0h1m0 0h1m0 0h1m0 0h1m0 0h1m0 0h1m0 0h1m0 0h1m0 0h1m0 0h1m0 0h1m1 0h1m0 0h1m0 0h1m0 0h1m1 0h1m0 0h1m0 0h1m2 0h1m4 0h1m1 0h1m-36 1h1m0 0h1m0 0h1m0 0h1m0 0h1m1 0h1m0 0h1m1 0h1m0 0h1m0 0h1m0 0h1m0 0h1m0 0h1m1 0h1m1 0h1m0 0h1m0 0h1m0 0h1m1 0h1m0 0h1m0 0h1m-27 1h1m1 0h1m1 0h1m3 0h1m0 0h1m1 0h1m5 0h1m1 0h1m0 0h1m0 0h1m0 0h1m0 0h1m1 0h1m0 0h1m2 0h1m2 0h1m2 0h1m4 0h1m2 0h1m3 0h1m-48 1h1m3 0h1m1 0h1m3 0h1m3 0h1m0 0h1m0 0h1m1 0h1m0 0h1m1 0h1m0 0h1m0 0h1m3 0h1m1 0h1m0 0h1m4 0h1m3 0h1m-40 1h1m1 0h1m1 0h1m5 0h1m1 0h1m3 0h1m0 0h1m9 0h1m-22 1h1m8 0h1m0 0h1m10 0h1m-26 1h1m17 0h1m-6 4h1m-4 4h1m-1 3h1m5 0h1m-4 1h1m6 0h1m-9 1h1m7 1h1m2 0h1m3 1h1m3 0h1m27 0h1m-46 1h1m3 1h1m2 0h1m2 0h1m1 0h1m1 0h1m-31 1h1m8 0h1m-4 1h1m24 0h1m40 0h1m-59 1h1m1 0h1m0 0h1m2 0h1m0 0h1m30 0h1m-36 1h1m0 0h1m0 0h1m2 0h1m34 0h1m4 0h1m-55 1h1m4 0h1m2 0h1m2 0h1m36 0h1m11 0h1m-66 1h1m0 0h1m3 0h1m5 0h1m0 0h1m2 0h1m2 0h1m47 0h1m8 0h1m-72 1h1m0 0h1m0 0h1m3 0h1m0 0h1m3 0h1m0 0h1m13 0h1m32 0h1m-64 1h1m1 0h1m1 0h1m0 0h1m4 0h1m4 0h1m0 0h1m2 0h1m52 0h1m0 0h1m1 0h1m4 0h1m-72 1h1m0 0h1m0 0h1m0 0h1m0 0h1m3 0h1m1 0h1m0 0h1m0 0h1m1 0h1m28 0h1m-55 1h1m3 0h1m0 0h1m5 0h1m0 0h1m0 0h1m2 0h1m2 0h1m6 0h1m0 0h1m12 0h1m19 0h1m9 0h1m7 0h1m-77 1h1m2 0h1m0 0h1m1 0h1m0 0h1m0 0h1m2 0h1m1 0h1m1 0h1m0 0h1m1 0h1m0 0h1m1 0h1m8 0h1m16 0h1m12 0h1m2 0h1m3 0h1m-71 1h1m0 0h1m0 0h1m0 0h1m5 0h1m0 0h1m0 0h1m0 0h1m0 0h1m0 0h1m0 0h1m0 0h1m5 0h1m0 0h1m2 0h1m3 0h1m26 0h1m2 0h1m6 0h1m7 0h1m1 0h1m1 0h1m-76 1h1m2 0h1m0 0h1m0 0h1m0 0h1m0 0h1m3 0h1m2 0h1m1 0h1m0 0h1m0 0h1m1 0h1m0 0h1m0 0h1m3 0h1m20 0h1m2 0h1m1 0h1m15 0h1m0 0h1m4 0h1m1 0h1m8 0h1m-86 1h1m4 0h1m1 0h1m3 0h1m0 0h1m0 0h1m0 0h1m0 0h1m0 0h1m0 0h1m1 0h1m1 0h1m0 0h1m4 0h1m20 0h1m7 0h1m0 0h1m4 0h1m0 0h1m-64 1h1m0 0h1m0 0h1m1 0h1m0 0h1m0 0h1m1 0h1m1 0h1m4 0h1m0 0h1m1 0h1m2 0h1m1 0h1m1 0h1m8 0h1m14 0h1m9 0h1m0 0h1m1 0h1m0 0h1m1 0h1m1 0h1m2 0h1m14 0h1m-88 1h1m0 0h1m0 0h1m0 0h1m0 0h1m1 0h1m1 0h1m3 0h1m0 0h1m0 0h1m2 0h1m0 0h1m1 0h1m1 0h1m3 0h1m0 0h1m1 0h1m0 0h1m9 0h1m0 0h1m15 0h1m1 0h1m6 0h1m2 0h1m4 0h1m0 0h1m1 0h1m1 0h1m1 0h1m1 0h1m-85 1h1m0 0h1m0 0h1m0 0h1m0 0h1m0 0h1m0 0h1m3 0h1m0 0h1m0 0h1m2 0h1m1 0h1m0 0h1m0 0h1m0 0h1m1 0h1m0 0h1m1 0h1m0 0h1m0 0h1m0 0h1m2 0h1m21 0h1m2 0h1m1 0h1m0 0h1m0 0h1m1 0h1m1 0h1m0 0h1m2 0h1m0 0h1m3 0h1m4 0h1m-79 1h1m1 0h1m1 0h1m0 0h1m2 0h1m0 0h1m0 0h1m0 0h1m0 0h1m1 0h1m0 0h1m0 0h1m1 0h1m0 0h1m0 0h1m3 0h1m0 0h1m1 0h1m2 0h1m0 0h1m3 0h1m4 0h1m8 0h1m3 0h1m0 0h1m1 0h1m6 0h1m8 0h1m3 0h1m2 0h1m-82 1h1m1 0h1m1 0h1m1 0h1m0 0h1m0 0h1m0 0h1m0 0h1m0 0h1m1 0h1m0 0h1m0 0h1m0 0h1m0 0h1m1 0h1m0 0h1m0 0h1m0 0h1m0 0h1m4 0h1m7 0h1m1 0h1m2 0h1m9 0h1m1 0h1m10 0h1m0 0h1m0 0h1m0 0h1m1 0h1m0 0h1m2 0h1m1 0h1m2 0h1m-78 1h1m0 0h1m2 0h1m0 0h1m0 0h1m0 0h1m0 0h1m3 0h1m1 0h1m0 0h1m4 0h1m0 0h1m0 0h1m2 0h1m0 0h1m2 0h1m1 0h1m22 0h1m1 0h1m0 0h1m1 0h1m1 0h1m2 0h1m0 0h1m0 0h1m-65 1h1m0 0h1m1 0h1m1 0h1m0 0h1m0 0h1m0 0h1m1 0h1m0 0h1m0 0h1m1 0h1m0 0h1m0 0h1m0 0h1m0 0h1m0 0h1m0 0h1m1 0h1m1 0h1m1 0h1m0 0h1m4 0h1m1 0h1m12 0h1m4 0h1m1 0h1m10 0h1m0 0h1m0 0h1m0 0h1m0 0h1m-72 1h1m0 0h1m1 0h1m0 0h1m0 0h1m0 0h1m0 0h1m0 0h1m2 0h1m0 0h1m0 0h1m1 0h1m0 0h1m0 0h1m0 0h1m0 0h1m1 0h1m1 0h1m1 0h1m1 0h1m0 0h1m1 0h1m1 0h1m3 0h1m1 0h1m21 0h1m2 0h1m0 0h1m1 0h1m1 0h1m1 0h1m3 0h1m-76 1h1m1 0h1m0 0h1m1 0h1m1 0h1m1 0h1m0 0h1m0 0h1m0 0h1m2 0h1m0 0h1m0 0h1m0 0h1m0 0h1m0 0h1m0 0h1m3 0h1m1 0h1m0 0h1m0 0h1m2 0h1m1 0h1m22 0h1m0 0h1m0 0h1m3 0h1m0 0h1m0 0h1m0 0h1m1 0h1m0 0h1m2 0h1m2 0h1m10 0h1m-83 1h1m1 0h1m0 0h1m3 0h1m0 0h1m0 0h1m1 0h1m0 0h1m0 0h1m1 0h1m4 0h1m0 0h1m0 0h1m0 0h1m1 0h1m0 0h1m0 0h1m3 0h1m15 0h1m0 0h1m3 0h1m8 0h1m0 0h1m2 0h1m3 0h1m0 0h1m-73 1h1m1 0h1m2 0h1m1 0h1m3 0h1m2 0h1m0 0h1m0 0h1m0 0h1m0 0h1m0 0h1m0 0h1m0 0h1m0 0h1m1 0h1m1 0h1m0 0h1m1 0h1m3 0h1m3 0h1m22 0h1m1 0h1m2 0h1m1 0h1m0 0h1m0 0h1m0 0h1m0 0h1m-73 1h1m1 0h1m0 0h1m0 0h1m1 0h1m3 0h1m1 0h1m1 0h1m3 0h1m0 0h1m1 0h1m1 0h1m6 0h1m28 0h1m3 0h1m1 0h1m0 0h1m1 0h1m3 0h1m9 0h1m-83 1h1m3 0h1m0 0h1m0 0h1m0 0h1m5 0h1m0 0h1m1 0h1m0 0h1m0 0h1m1 0h1m1 0h1m0 0h1m1 0h1m1 0h1m0 0h1m13 0h1m11 0h1m1 0h1m1 0h1m2 0h1m5 0h1m1 0h1m0 0h1m-71 1h1m0 0h1m0 0h1m0 0h1m1 0h1m0 0h1m0 0h1m1 0h1m2 0h1m3 0h1m0 0h1m0 0h1m0 0h1m3 0h1m0 0h1m27 0h1m5 0h1m1 0h1m1 0h1m0 0h1m10 0h1m0 0h1m4 0h1m-82 1h1m1 0h1m2 0h1m0 0h1m2 0h1m0 0h1m1 0h1m0 0h1m0 0h1m1 0h1m0 0h1m0 0h1m0 0h1m1 0h1m0 0h1m1 0h1m0 0h1m0 0h1m10 0h1m27 0h1m3 0h1m4 0h1m-71 1h1m0 0h1m2 0h1m2 0h1m0 0h1m2 0h1m0 0h1m0 0h1m0 0h1m0 0h1m0 0h1m0 0h1m1 0h1m13 0h1m1 0h1m13 0h1m4 0h1m3 0h1m2 0h1m1 0h1m2 0h1m3 0h1m9 0h1m-80 1h1m0 0h1m2 0h1m0 0h1m6 0h1m3 0h1m0 0h1m0 0h1m0 0h1m0 0h1m1 0h1m0 0h1m0 0h1m0 0h1m33 0h1m0 0h1m0 0h1m2 0h1m0 0h1m7 0h1m-79 1h1m0 0h1m2 0h1m2 0h1m6 0h1m1 0h1m4 0h1m0 0h1m3 0h1m6 0h1m19 0h1m1 0h1m6 0h1m0 0h1m-63 1h1m2 0h1m1 0h1m0 0h1m0 0h1m4 0h1m1 0h1m3 0h1m1 0h1m5 0h1m28 0h1m7 0h1m2 0h1m9 0h1m-75 1h1m0 0h1m0 0h1m0 0h1m1 0h1m0 0h1m6 0h1m1 0h1m1 0h1m0 0h1m1 0h1m6 0h1m3 0h1m21 0h1m0 0h1m8 0h1m0 0h1m3 0h1m-71 1h1m1 0h1m0 0h1m1 0h1m2 0h1m3 0h1m6 0h1m2 0h1m6 0h1m7 0h1m-30 1h1m2 0h1m1 0h1m3 0h1m0 0h1m3 0h1m1 0h1m35 0h1m0 0h1m-58 1h1m2 0h1m1 0h1m0 0h1m1 0h1m2 0h1m1 0h1m0 0h1m1 0h1m4 0h1m5 0h1m-25 1h1m2 0h1m0 0h1m8 0h1m35 0h1m6 0h1m-56 1h1m4 0h1m3 0h1m17 0h1m13 0h1m-50 1h1m0 0h1m3 0h1m0 0h1m2 0h1m4 0h1m0 0h1m0 0h1m1 0h1m5 0h1m4 0h1m23 0h1m2 0h1m6 0h1m-64 1h1m8 0h1m2 0h1m0 0h1m7 0h1m7 0h1m4 0h1m-21 1h1m1 0h1m5 0h1" transform="translate(0 .5)" stroke="#000" stroke-width="1" opacity="0.42"/>
<path d="M31 510h1m7 1h1m0 1h1m-8 1h1m2 0h1m2 0h1m1 0h1m15 0h1m4 0h1m-35 1h1m0 0h1m3 0h1m0 0h1m0 0h1m1 0h1m0 0h1m1 0h1m2 0h1m0 0h1m0 0h1m1 0h1m2 0h1m1 0h1m4 0h1m0 0h1m-30 1h1m0 0h1m0 0h1m4 0h1m0 0h1m1 0h1m0 0h1m2 0h1m0 0h1m1 0h1m0 0h1m0 0h1m1 0h1m0 0h1m1 0h1m2 0h1m2 0h1m1 0h1m0 0h1m-36 1h1m2 0h1m0 0h1m0 0h1m0 0h1m0 0h1m0 0h1m0 0h1m0 0h1m1 0h1m1 0h1m0 0h1m0 0h1m1 0h1m0 0h1m0 0h1m0 0h1m0 0h1m2 0h1m0 0h1m1 0h1m6 0h1m-35 1h1m0 0h1m0 0h1m1 0h1m0 0h1m0 0h1m0 0h1m2 0h1m1 0h1m0 0h1m0 0h1m0 0h1m0 0h1m1 0h1m0 0h1m2 0h1m0 0h1m0 0h1m0 0h1m0 0h1m0 0h1m0 0h1m0 0h1m0 0h1m-31 1h1m0 0h1m0 0h1m0 0h1m2 0h1m0 0h1m0 0h1m0 0h1m0 0h1m0 0h1m2 0h1m0 0h1m0 0h1m0 0h1m0 0h1m0 0h1m0 0h1m0 0h1m0 0h1m0 0h1m0 0h1m0 0h1m0 0h1m12 0h1m-38 1h1m0 0h1m3 0h1m0 0h1m0 0h1m1 0h1m0 0h1m1 0h1m0 0h1m0 0h1m0 0h1m2 0h1m0 0h1m2 0h1m0 0h1m5 0h1m17 0h1m-49 1h1m0 0h1m3 0h1m0 0h1m2 0h1m0 0h1m1 0h1m0 0h1m2 0h1m0 0h1m2 0h1m1 0h1m4 0h1m13 0h1m-44 1h1m7 0h1m0 0h1m5 0h1m0 0h1m5 0h1m1 0h1m-24 1h1m9 0h1m0 0h1m6 0h1m-10 7h1m3 4h1m-3 1h1m11 0h1m-24 1h1m22 0h1m-14 1h1m2 0h1m4 2h1m12 0h1m0 0h1m22 0h1m9 0h1m-57 1h1m-10 1h1m1 0h1m2 0h1m4 0h1m1 0h1m6 0h1m-9 1h1m2 1h1m1 0h1m-8 1h1m14 0h1m-26 1h1m1 0h1m0 0h1m3 0h1m1 0h1m1 0h1m3 0h1m1 0h1m0 0h1m57 0h1m-68 1h1m1 0h1m2 0h1m3 0h1m4 0h1m-21 1h1m4 0h1m9 0h1m11 0h1m28 0h1m7 0h1m1 0h1m-68 1h1m0 0h1m2 0h1m1 0h1m9 0h1m2 0h1m0 0h1m0 0h1m0 0h1m0 0h1m1 0h1m5 0h1m27 0h1m16 0h1m-72 1h1m1 0h1m0 0h1m2 0h1m1 0h1m1 0h1m0 0h1m6 0h1m43 0h1m2 0h1m-72 1h1m16 0h1m0 0h1m5 0h1m0 0h1m1 0h1m39 0h1m1 0h1m2 0h1m4 0h1m-73 1h1m1 0h1m4 0h1m2 0h1m0 0h1m1 0h1m0 0h1m3 0h1m1 0h1m0 0h1m2 0h1m5 0h1m27 0h1m4 0h1m0 0h1m2 0h1m0 0h1m7 0h1m-82 1h1m3 0h1m3 0h1m1 0h1m0 0h1m3 0h1m0 0h1m1 0h1m0 0h1m0 0h1m0 0h1m1 0h1m1 0h1m2 0h1m1 0h1m23 0h1m0 0h1m4 0h1m7 0h1m0 0h1m0 0h1m1 0h1m-68 1h1m0 0h1m4 0h1m0 0h1m1 0h1m1 0h1m4 0h1m3 0h1m0 0h1m4 0h1m0 0h1m0 0h1m-34 1h1m4 0h1m0 0h1m1 0h1m0 0h1m0 0h1m2 0h1m2 0h1m0 0h1m0 0h1m0 0h1m1 0h1m1 0h1m2 0h1m0 0h1m1 0h1m0 0h1m19 0h1m10 0h1m1 0h1m2 0h1m0 0h1m0 0h1m1 0h1m1 0h1m2 0h1m0 0h1m1 0h1m-79 1h1m6 0h1m0 0h1m0 0h1m0 0h1m1 0h1m4 0h1m2 0h1m0 0h1m2 0h1m1 0h1m1 0h1m5 0h1m17 0h1m4 0h1m1 0h1m2 0h1m1 0h1m0 0h1m1 0h1m0 0h1m0 0h1m3 0h1m1 0h1m0 0h1m4 0h1m-82 1h1m1 0h1m1 0h1m0 0h1m2 0h1m3 0h1m0 0h1m0 0h1m1 0h1m1 0h1m0 0h1m1 0h1m0 0h1m1 0h1m0 0h1m0 0h1m0 0h1m3 0h1m0 0h1m0 0h1m20 0h1m0 0h1m0 0h1m0 0h1m0 0h1m8 0h1m4 0h1m7 0h1m-81 1h1m4 0h1m0 0h1m0 0h1m1 0h1m0 0h1m1 0h1m1 0h1m1 0h1m0 0h1m1 0h1m3 0h1m1 0h1m4 0h1m0 0h1m7 0h1m7 0h1m6 0h1m3 0h1m1 0h1m1 0h1m0 0h1m0 0h1m3 0h1m2 0h1m-72 1h1m0 0h1m0 0h1m2 0h1m0 0h1m0 0h1m0 0h1m2 0h1m0 0h1m2 0h1m0 0h1m0 0h1m0 0h1m0 0h1m2 0h1m0 0h1m2 0h1m3 0h1m19 0h1m1 0h1m1 0h1m1 0h1m1 0h1m2 0h1m1 0h1m1 0h1m0 0h1m4 0h1m1 0h1m1 0h1m-75 1h1m1 0h1m4 0h1m0 0h1m0 0h1m0 0h1m0 0h1m1 0h1m2 0h1m1 0h1m0 0h1m0 0h1m2 0h1m2 0h1m0 0h1m1 0h1m1 0h1m1 0h1m1 0h1m2 0h1m9 0h1m6 0h1m3 0h1m3 0h1m0 0h1m0 0h1m1 0h1m1 0h1m0 0h1m1 0h1m0 0h1m1 0h1m0 0h1m-73 1h1m0 0h1m0 0h1m1 0h1m0 0h1m0 0h1m2 0h1m0 0h1m0 0h1m2 0h1m0 0h1m1 0h1m1 0h1m1 0h1m2 0h1m5 0h1m0 0h1m2 0h1m16 0h1m1 0h1m1 0h1m0 0h1m2 0h1m2 0h1m3 0h1m0 0h1m9 0h1m-83 1h1m0 0h1m0 0h1m2 0h1m1 0h1m0 0h1m1 0h1m0 0h1m1 0h1m0 0h1m2 0h1m0 0h1m0 0h1m0 0h1m0 0h1m0 0h1m4 0h1m4 0h1m24 0h1m1 0h1m1 0h1m0 0h1m1 0h1m0 0h1m5 0h1m2 0h1m0 0h1m-69 1h1m0 0h1m0 0h1m0 0h1m0 0h1m3 0h1m0 0h1m1 0h1m3 0h1m0 0h1m1 0h1m4 0h1m25 0h1m0 0h1m0 0h1m1 0h1m0 0h1m3 0h1m4 0h1m1 0h1m1 0h1m0 0h1m4 0h1m2 0h1m-82 1h1m0 0h1m0 0h1m2 0h1m0 0h1m0 0h1m0 0h1m0 0h1m0 0h1m0 0h1m0 0h1m1 0h1m0 0h1m0 0h1m1 0h1m0 0h1m0 0h1m0 0h1m1 0h1m0 0h1m0 0h1m3 0h1m3 0h1m2 0h1m0 0h1m25 0h1m0 0h1m0 0h1m1 0h1m3 0h1m0 0h1m0 0h1m0 0h1m1 0h1m-80 1h1m0 0h1m4 0h1m1 0h1m0 0h1m1 0h1m4 0h1m1 0h1m0 0h1m0 0h1m0 0h1m0 0h1m2 0h1m0 0h1m0 0h1m0 0h1m3 0h1m0 0h1m2 0h1m20 0h1m2 0h1m2 0h1m2 0h1m2 0h1m0 0h1m6 0h1m-74 1h1m0 0h1m3 0h1m1 0h1m1 0h1m3 0h1m0 0h1m1 0h1m0 0h1m2 0h1m1 0h1m2 0h1m0 0h1m2 0h1m22 0h1m3 0h1m2 0h1m7 0h1m1 0h1m6 0h1m-80 1h1m3 0h1m3 0h1m1 0h1m0 0h1m0 0h1m0 0h1m0 0h1m1 0h1m0 0h1m0 0h1m0 0h1m1 0h1m0 0h1m0 0h1m0 0h1m0 0h1m1 0h1m4 0h1m12 0h1m16 0h1m0 0h1m2 0h1m4 0h1m-70 1h1m0 0h1m1 0h1m0 0h1m2 0h1m0 0h1m0 0h1m0 0h1m0 0h1m0 0h1m1 0h1m0 0h1m1 0h1m0 0h1m0 0h1m1 0h1m4 0h1m6 0h1m12 0h1m5 0h1m2 0h1m1 0h1m1 0h1m3 0h1m0 0h1m3 0h1m1 0h1m1 0h1m-74 1h1m1 0h1m0 0h1m2 0h1m0 0h1m0 0h1m0 0h1m1 0h1m0 0h1m0 0h1m0 0h1m1 0h1m1 0h1m0 0h1m2 0h1m0 0h1m0 0h1m3 0h1m3 0h1m2 0h1m0 0h1m3 0h1m15 0h1m0 0h1m1 0h1m5 0h1m4 0h1m1 0h1m3 0h1m-78 1h1m3 0h1m1 0h1m1 0h1m0 0h1m0 0h1m2 0h1m0 0h1m0 0h1m0 0h1m1 0h1m0 0h1m1 0h1m2 0h1m3 0h1m0 0h1m0 0h1m1 0h1m25 0h1m2 0h1m0 0h1m0 0h1m2 0h1m0 0h1m0 0h1m5 0h1m-74 1h1m1 0h1m0 0h1m0 0h1m1 0h1m2 0h1m1 0h1m0 0h1m0 0h1m0 0h1m0 0h1m0 0h1m0 0h1m0 0h1m1 0h1m0 0h1m1 0h1m1 0h1m21 0h1m13 0h1m-61 1h1m1 0h1m0 0h1m0 0h1m0 0h1m2 0h1m0 0h1m0 0h1m0 0h1m0 0h1m1 0h1m0 0h1m0 0h1m1 0h1m1 0h1m2 0h1m4 0h1m22 0h1m5 0h1m2 0h1m0 0h1m1 0h1m6 0h1m2 0h1m4 0h1m-79 1h1m1 0h1m2 0h1m0 0h1m0 0h1m7 0h1m0 0h1m4 0h1m0 0h1m2 0h1m1 0h1m5 0h1m21 0h1m13 0h1m4 0h1m-75 1h1m4 0h1m1 0h1m1 0h1m2 0h1m0 0h1m2 0h1m2 0h1m1 0h1m0 0h1m0 0h1m0 0h1m0 0h1m28 0h1m10 0h1m2 0h1m-71 1h1m0 0h1m6 0h1m0 0h1m0 0h1m0 0h1m0 0h1m5 0h1m1 0h1m1 0h1m0 0h1m3 0h1m1 0h1m4 0h1m20 0h1m21 0h1m3 0h1m-80 1h1m0 0h1m0 0h1m0 0h1m2 0h1m1 0h1m0 0h1m4 0h1m0 0h1m4 0h1m0 0h1m1 0h1m5 0h1m17 0h1m3 0h1m3 0h1m0 0h1m0 0h1m9 0h1m-69 1h1m0 0h1m2 0h1m0 0h1m0 0h1m4 0h1m0 0h1m2 0h1m0 0h1m0 0h1m4 0h1m5 0h1m11 0h1m2 0h1m26 0h1m-65 1h1m5 0h1m0 0h1m2 0h1m1 0h1m0 0h1m0 0h1m2 0h1m4 0h1m5 0h1m44 0h1m-79 1h1m3 0h1m11 0h1m46 0h1m8 0h1m-72 1h1m4 0h1m4 0h1m1 0h1m1 0h1m4 0h1m4 0h1m12 0h1m-41 1h1m1 0h1m3 0h1m1 0h1m6 0h1m4 0h1m8 0h1m33 0h1m-53 1h1m0 0h1m6 0h1m2 0h1m4 0h1m6 0h1m36 0h1m-65 1h1m4 0h1m12 0h1m9 0h1m-29 1h1m12 0h1m6 0h1" transform="translate(0 .5)" stroke="#000" stroke-width="1" opacity="0.42"/>
<path d="M27 509h1m29 1h1m-29 1h1m27 0h1m8 0h1m3 0h1m1 1h1m1 0h1m15 0h1m-33 1h1m1 0h1m3 0h1m2 0h1m3 0h1m5 0h1m1 0h1m2 0h1m1 0h1m5 0h1m1 0h1m-32 1h1m0 0h1m0 0h1m3 0h1m0 0h1m0 0h1m0 0h1m0 0h1m1 0h1m0 0h1m0 0h1m0 0h1m2 0h1m0 0h1m0 0h1m0 0h1m0 0h1m2 0h1m0 0h1m2 0h1m4 0h1m-48 1h1m2 0h1m4 0h1m0 0h1m1 0h1m1 0h1m2 0h1m0 0h1m0 0h1m1 0h1m1 0h1m0 0h1m0 0h1m0 0h1m1 0h1m0 0h1m0 0h1m0 0h1m1 0h1m1 0h1m0 0h1m0 0h1m0 0h1m0 0h1m0 0h1m1 0h1m3 0h1m0 0h1m0 0h1m0 0h1m4 0h1m-47 1h1m1 0h1m2 0h1m0 0h1m0 0h1m1 0h1m0 0h1m1 0h1m1 0h1m0 0h1m1 0h1m0 0h1m0 0h1m1 0h1m2 0h1m0 0h1m0 0h1m0 0h1m0 0h1m0 0h1m0 0h1m1 0h1m0 0h1m1 0h1m0 0h1m2 0h1m1 0h1m-39 1h1m2 0h1m1 0h1m0 0h1m0 0h1m0 0h1m1 0h1m0 0h1m0 0h1m0 0h1m0 0h1m0 0h1m0 0h1m0 0h1m0 0h1m0 0h1m0 0h1m0 0h1m0 0h1m0 0h1m2 0h1m0 0h1m1 0h1m0 0h1m0 0h1m0 0h1m2 0h1m1 0h1m3 0h1m2 0h1m1 0h1m-54 1h1m8 0h1m1 0h1m2 0h1m0 0h1m2 0h1m0 0h1m3 0h1m0 0h1m0 0h1m1 0h1m0 0h1m0 0h1m0 0h1m0 0h1m0 0h1m0 0h1m0 0h1m0 0h1m0 0h1m1 0h1m1 0h1m0 0h1m0 0h1m2 0h1m-39 1h1m1 0h1m2 0h1m0 0h1m2 0h1m0 0h1m0 0h1m0 0h1m0 0h1m0 0h1m1 0h1m5 0h1m0 0h1m0 0h1m1 0h1m0 0h1m1 0h1m0 0h1m0 0h1m1 0h1m0 0h1m2 0h1m1 0h1m-53 1h1m1 0h1m2 0h1m7 0h1m7 0h1m4 0h1m1 0h1m1 0h1m0 0h1m0 0h1m1 0h1m3 0h1m2 0h1m4 0h1m1 0h1m9 0h1m-68 1h1m8 0h1m18 0h1m6 0h1m4 0h1m4 0h1m1 0h1m11 0h1m-58 1h1m4 0h1m1 0h1m18 0h1m5 0h1m10 0h1m-38 2h1m2 0h1m0 0h1m10 0h1m-20 1h1m8 0h1m1 0h1m2 0h1m1 0h1m-15 1h1m3 0h1m0 0h1m5 0h1m3 0h1m9 0h1m-36 1h1m2 0h1m2 0h1m4 0h1m11 0h1m-20 1h1m3 0h1m2 0h1m1 0h1m2 0h1m8 0h1m37 0h1m-60 1h1m0 0h1m5 0h1m0 0h1m11 0h1m3 0h1m-32 1h1m0 0h1m3 0h1m1 0h1m1 0h1m8 0h1m0 0h1m2 0h1m0 0h1m3 0h1m-27 1h1m7 0h1m11 0h1m8 0h1m10 0h1m-42 1h1m0 0h1m11 0h1m2 0h1m2 0h1m4 0h1m2 0h1m6 0h1m-26 1h1m3 0h1m0 0h1m2 0h1m11 0h1m14 0h1m-42 1h1m4 0h1m1 0h1m2 0h1m2 0h1m8 0h1m3 0h1m0 0h1m22 0h1m11 0h1m-63 1h1m12 0h1m4 0h1m5 0h1m28 0h1m-43 1h1m4 0h1m1 0h1m32 0h1m9 0h1m-52 1h1m10 0h1m33 0h1m0 0h1m8 0h1m5 0h1m3 0h1m-76 1h1m0 0h1m4 0h1m5 0h1m5 0h1m0 0h1m5 0h1m17 0h1m12 0h1m-50 1h1m35 0h1m15 0h1m-60 1h1m2 0h1m7 0h1m6 0h1m1 0h1m8 0h1m4 0h1m23 0h1m8 0h1m3 0h1m-70 1h1m11 0h1m1 0h1m0 0h1m25 0h1m20 0h1m0 0h1m20 0h1m-79 1h1m10 0h1m4 0h1m24 0h1m6 0h1m0 0h1m0 0h1m0 0h1m5 0h1m2 0h1m2 0h1m10 0h1m-62 1h1m29 0h1m0 0h1m10 0h1m0 0h1m8 0h1m1 0h1m-77 1h1m4 0h1m4 0h1m0 0h1m4 0h1m1 0h1m9 0h1m0 0h1m25 0h1m2 0h1m1 0h1m2 0h1m9 0h1m2 0h1m0 0h1m2 0h1m10 0h1m-85 1h1m14 0h1m5 0h1m3 0h1m14 0h1m4 0h1m6 0h1m3 0h1m2 0h1m3 0h1m10 0h1m-81 1h1m3 0h1m6 0h1m6 0h1m0 0h1m5 0h1m1 0h1m0 0h1m17 0h1m1 0h1m4 0h1m1 0h1m1 0h1m1 0h1m1 0h1m0 0h1m0 0h1m0 0h1m6 0h1m2 0h1m3 0h1m1 0h1m0 0h1m-71 1h1m5 0h1m1 0h1m36 0h1m7 0h1m3 0h1m6 0h1m1 0h1m2 0h1m-52 1h1m22 0h1m0 0h1m4 0h1m1 0h1m4 0h1m0 0h1m0 0h1m1 0h1m2 0h1m2 0h1m3 0h1m0 0h1m1 0h1m4 0h1m-76 1h1m5 0h1m22 0h1m0 0h1m3 0h1m8 0h1m0 0h1m0 0h1m0 0h1m2 0h1m1 0h1m0 0h1m2 0h1m5 0h1m1 0h1m13 0h1m-43 1h1m1 0h1m0 0h1m3 0h1m0 0h1m0 0h1m3 0h1m0 0h1m0 0h1m0 0h1m0 0h1m1 0h1m1 0h1m0 0h1m1 0h1m1 0h1m7 0h1m-63 1h1m25 0h1m1 0h1m2 0h1m0 0h1m3 0h1m1 0h1m0 0h1m0 0h1m0 0h1m0 0h1m0 0h1m1 0h1m0 0h1m0 0h1m0 0h1m0 0h1m0 0h1m4 0h1m0 0h1m0 0h1m0 0h1m0 0h1m-54 1h1m11 0h1m7 0h1m4 0h1m0 0h1m0 0h1m0 0h1m0 0h1m3 0h1m3 0h1m0 0h1m0 0h1m0 0h1m4 0h1m1 0h1m3 0h1m1 0h1m-77 1h1m13 0h1m28 0h1m1 0h1m0 0h1m2 0h1m2 0h1m0 0h1m0 0h1m0 0h1m0 0h1m0 0h1m0 0h1m0 0h1m0 0h1m0 0h1m0 0h1m2 0h1m1 0h1m0 0h1m1 0h1m1 0h1m1 0h1m0 0h1m-40 1h1m10 0h1m1 0h1m0 0h1m0 0h1m0 0h1m4 0h1m0 0h1m0 0h1m0 0h1m2 0h1m2 0h1m1 0h1m1 0h1m0 0h1m5 0h1m-37 1h1m2 0h1m1 0h1m3 0h1m0 0h1m0 0h1m0 0h1m0 0h1m0 0h1m0 0h1m0 0h1m1 0h1m0 0h1m0 0h1m0 0h1m0 0h1m0 0h1m1 0h1m0 0h1m0 0h1m0 0h1m2 0h1m0 0h1m1 0h1m0 0h1m-37 1h1m5 0h1m0 0h1m1 0h1m0 0h1m0 0h1m0 0h1m0 0h1m2 0h1m0 0h1m0 0h1m0 0h1m0 0h1m0 0h1m0 0h1m3 0h1m1 0h1m1 0h1m0 0h1m0 0h1m5 0h1m2 0h1m1 0h1m-54 1h1m11 0h1m0 0h1m0 0h1m0 0h1m0 0h1m0 0h1m0 0h1m0 0h1m0 0h1m0 0h1m1 0h1m5 0h1m0 0h1m0 0h1m0 0h1m0 0h1m1 0h1m3 0h1m0 0h1m0 0h1m0 0h1m0 0h1m0 0h1m-34 1h1m4 0h1m0 0h1m2 0h1m3 0h1m1 0h1m0 0h1m1 0h1m0 0h1m0 0h1m0 0h1m0 0h1m0 0h1m0 0h1m2 0h1m0 0h1m0 0h1m0 0h1m1 0h1m1 0h1m1 0h1m0 0h1m3 0h1m3 0h1m0 0h1m-50 1h1m4 0h1m1 0h1m0 0h1m2 0h1m2 0h1m0 0h1m0 0h1m0 0h1m1 0h1m0 0h1m0 0h1m0 0h1m0 0h1m1 0h1m0 0h1m0 0h1m2 0h1m1 0h1m0 0h1m2 0h1m1 0h1m11 0h1m-53 1h1m4 0h1m1 0h1m1 0h1m1 0h1m0 0h1m0 0h1m0 0h1m2 0h1m0 0h1m0 0h1m0 0h1m0 0h1m0 0h1m1 0h1m0 0h1m0 0h1m1 0h1m0 0h1m0 0h1m0 0h1m0 0h1m1 0h1m4 0h1m2 0h1m0 0h1m8 0h1m-55 1h1m6 0h1m3 0h1m0 0h1m0 0h1m0 0h1m2 0h1m1 0h1m0 0h1m0 0h1m0 0h1m0 0h1m0 0h1m0 0h1m0 0h1m0 0h1m1 0h1m0 0h1m0 0h1m0 0h1m0 0h1m2 0h1m4 0h1m6 0h1m1 0h1m-54 1h1m1 0h1m6 0h1m1 0h1m7 0h1m0 0h1m0 0h1m0 0h1m0 0h1m0 0h1m0 0h1m0 0h1m0 0h1m0 0h1m0 0h1m0 0h1m0 0h1m0 0h1m0 0h1m0 0h1m0 0h1m0 0h1m0 0h1m0 0h1m2 0h1m0 0h1m1 0h1m0 0h1m4 0h1m-45 1h1m3 0h1m0 0h1m2 0h1m0 0h1m0 0h1m0 0h1m0 0h1m3 0h1m1 0h1m0 0h1m1 0h1m0 0h1m1 0h1m0 0h1m0 0h1m0 0h1m0 0h1m3 0h1m1 0h1m0 0h1m0 0h1m1 0h1m7 0h1m-44 1h1m7 0h1m0 0h1m0 0h1m3 0h1m0 0h1m0 0h1m3 0h1m0 0h1m0 0h1m3 0h1m0 0h1m0 0h1m2 0h1m0 0h1m0 0h1m4 0h1m3 0h1m1 0h1m-42 1h1m3 0h1m3 0h1m0 0h1m0 0h1m2 0h1m1 0h1m0 0h1m0 0h1m0 0h1m0 0h1m0 0h1m0 0h1m0 0h1m0 0h1m0 0h1m0 0h1m0 0h1m0 0h1m5 0h1m1 0h1m2 0h1m-47 1h1m2 0h1m1 0h1m1 0h1m2 0h1m1 0h1m2 0h1m1 0h1m1 0h1m0 0h1m1 0h1m1 0h1m0 0h1m0 0h1m0 0h1m1 0h1m0 0h1m1 0h1m0 0h1m2 0h1m0 0h1m1 0h1m1 0h1m2 0h1m2 0h1m0 0h1m-40 1h1m3 0h1m0 0h1m0 0h1m1 0h1m1 0h1m0 0h1m2 0h1m0 0h1m2 0h1m0 0h1m0 0h1m0 0h1m0 0h1m0 0h1m0 0h1m0 0h1m1 0h1m0 0h1m0 0h1m0 0h1m0 0h1m4 0h1m3 0h1m-45 1h1m6 0h1m1 0h1m1 0h1m1 0h1m0 0h1m1 0h1m0 0h1m0 0h1m0 0h1m0 0h1m0 0h1m0 0h1m0 0h1m0 0h1m0 0h1m0 0h1m0 0h1m0 0h1m0 0h1m1 0h1m3 0h1m0 0h1m5 0h1m-40 1h1m0 0h1m0 0h1m3 0h1m1 0h1m0 0h1m1 0h1m0 0h1m0 0h1m0 0h1m1 0h1m0 0h1m1 0h1m0 0h1m0 0h1m0 0h1m0 0h1m0 0h1m0 0h1m1 0h1m5 0h1m-40 1h1m7 0h1m1 0h1m2 0h1m1 0h1m0 0h1m1 0h1m0 0h1m0 0h1m0 0h1m0 0h1m1 0h1m0 0h1m0 0h1m0 0h1m0 0h1m0 0h1m1 0h1m0 0h1m0 0h1m2 0h1m-35 1h1m3 0h1m0 0h1m1 0h1m4 0h1m0 0h1m0 0h1m0 0h1m0 0h1m0 0h1m0 0h1m0 0h1m0 0h1m1 0h1m0 0h1m0 0h1m0 0h1m0 0h1m0 0h1m0 0h1m0 0h1m3 0h1m0 0h1m6 0h1m-45 1h1m4 0h1m3 0h1m1 0h1m2 0h1m1 0h1m0 0h1m1 0h1m0 0h1m3 0h1m0 0h1m0 0h1m1 0h1m0 0h1m1 0h1m0 0h1m0 0h1m1 0h1m2 0h1m9 0h1m-47 1h1m4 0h1m2 0h1m3 0h1m0 0h1m3 0h1m0 0h1m0 0h1m0 0h1m2 0h1m1 0h1m3 0h1m0 0h1m3 0h1m1 0h1m-27 1h1m0 0h1m1 0h1m3 0h1m1 0h1m1 0h1m0 0h1m2 0h1m0 0h1m3 0h1m4 0h1m0 0h1m-36 1h1m2 0h1m0 0h1m5 0h1m2 0h1m4 0h1m0 0h1m1 0h1m0 0h1m4 0h1m1 0h1m0 0h1m1 0h1m1 0h1m8 0h1m-37 1h1m3 0h1m0 0h1m0 0h1m1 0h1m1 0h1m0 0h1m0 0h1m1 0h1m2 0h1m0 0h1m2 0h1m1 0h1m0 0h1m4 0h1m1 0h1m2 0h1m-42 1h1m14 0h1m0 0h1m1 0h1m2 0h1m1 0h1m0 0h1m1 0h1m2 0h1m0 0h1m3 0h1m12 0h1m-43 1h1m8 0h1m3 0h1m1 0h1m0 0h1m1 0h1m3 0h1m1 0h1m2 0h1m2 0h1m10 0h1m-47 1h1m3 0h1m0 0h1m1 0h1m6 0h1m2 0h1m3 0h1m0 0h1m1 0h1m-20 1h1m19 0h1m2 0h1m5 0h1m-23 1h1m7 0h1m12 0h1m-21 1h1m1 0h1m1 0h1m13 0h1" transform="translate(0 .5)" stroke="#000" stroke-width="1" opacity="0.22"/>
</g>
<rect x="27.5" y="507" width="95.8" height="75.5" fill="none" stroke="#999" stroke-width="0.8"/>
<line x1="65.0" y1="507.0" x2="65.0" y2="582.5" stroke="#aaa" stroke-width="0.8"/>
<line x1="27.5" y1="548.0" x2="123.3" y2="548.0" stroke="#aaa" stroke-width="0.8"/>
<rect x="28.1" y="507.5" width="20.2" height="7.8" fill="#fff" stroke="#555" stroke-width="0.6"/>
<text transform="translate(29.3 514.1) scale(1.25 1)" font-size="7.3" class="q">54.7</text>
<text transform="translate(122.4 514.1) scale(1.25 1)" font-size="7.3" class="q" text-anchor="end">1.9</text>
<rect x="28.1" y="574.3" width="20.2" height="7.8" fill="#fff"/>
<text transform="translate(29.3 580.9) scale(1.25 1)" font-size="7.3" class="q">30.1</text>
<text transform="translate(122.4 580.9) scale(1.25 1)" font-size="7.3" class="q" text-anchor="end">13.3</text>
<line x1="26.0" y1="512.5" x2="27.5" y2="512.5" stroke="#777" stroke-width="0.6"/>
<line x1="26.0" y1="530.5" x2="27.5" y2="530.5" stroke="#777" stroke-width="0.6"/>
<line x1="26.0" y1="548.0" x2="27.5" y2="548.0" stroke="#777" stroke-width="0.6"/>
<line x1="26.0" y1="565.5" x2="27.5" y2="565.5" stroke="#777" stroke-width="0.6"/>
<line x1="26.0" y1="573.7" x2="27.5" y2="573.7" stroke="#777" stroke-width="0.6"/>
<line x1="37.5" y1="582.5" x2="37.5" y2="584.0" stroke="#777" stroke-width="0.6"/>
<line x1="47.5" y1="582.5" x2="47.5" y2="584.0" stroke="#777" stroke-width="0.6"/>
<line x1="70.0" y1="582.5" x2="70.0" y2="584.0" stroke="#777" stroke-width="0.6"/>
<line x1="93.8" y1="582.5" x2="93.8" y2="584.0" stroke="#777" stroke-width="0.6"/>
<line x1="115.0" y1="582.5" x2="115.0" y2="584.0" stroke="#777" stroke-width="0.6"/>
<text x="37.5" y="590.5" font-size="4.2" text-anchor="middle" fill="#333">0</text>
<text x="47.5" y="590.5" font-size="4.2" text-anchor="middle" fill="#333">10²</text>
<text x="70.0" y="590.5" font-size="4.2" text-anchor="middle" fill="#333">10³</text>
<text x="93.8" y="590.5" font-size="4.2" text-anchor="middle" fill="#333">10⁴</text>
<text x="115.0" y="590.5" font-size="4.2" text-anchor="middle" fill="#333">10⁵</text>
<text x="25.2" y="513.9" font-size="4.2" text-anchor="end" fill="#333">10⁵</text>
<text x="25.2" y="531.9" font-size="4.2" text-anchor="end" fill="#333">10⁴</text>
<text x="25.2" y="549.4" font-size="4.2" text-anchor="end" fill="#333">10³</text>
<text x="25.2" y="566.9" font-size="4.2" text-anchor="end" fill="#333">10²</text>
<text x="25.2" y="575.1" font-size="4.2" text-anchor="end" fill="#333">0</text>
<text transform="translate(74 598.3) scale(1.06 1)" font-size="9.5" text-anchor="middle" class="ns">MPN 8</text>
<text transform="translate(74 609) scale(1.06 1)" font-size="9.5" text-anchor="middle" class="ns">(3 months with ruxo)</text>
<clipPath id="c586"><rect x="27.5" y="614.5" width="95.5" height="76.0"/></clipPath>
<g clip-path="url(#c586)">
<ellipse cx="42" cy="634.5" rx="8" ry="3" fill="#000" opacity="0.45" filter="url(#b1)"/>
<ellipse cx="43" cy="677" rx="8" ry="7" fill="#000" opacity="0.5" filter="url(#b2)"/>
<path d="M46 626h1m-9 1h1m4 0h1m1 0h1m3 0h1m2 0h1m-26 1h1m3 0h1m1 0h1m0 0h1m0 0h1m6 0h1m0 0h1m0 0h1m1 0h1m1 0h1m1 0h1m3 0h1m-27 1h1m1 0h1m4 0h1m3 0h1m0 0h1m2 0h1m0 0h1m0 0h1m1 0h1m0 0h1m1 0h1m0 0h1m3 0h1m0 0h1m-29 1h1m2 0h1m0 0h1m1 0h1m2 0h1m0 0h1m0 0h1m0 0h1m0 0h1m1 0h1m1 0h1m0 0h1m0 0h1m1 0h1m0 0h1m0 0h1m5 0h1m0 0h1m-32 1h1m0 0h1m1 0h1m0 0h1m0 0h1m0 0h1m1 0h1m0 0h1m0 0h1m0 0h1m0 0h1m0 0h1m0 0h1m0 0h1m0 0h1m0 0h1m4 0h1m1 0h1m0 0h1m2 0h1m-26 1h1m0 0h1m1 0h1m0 0h1m1 0h1m0 0h1m0 0h1m0 0h1m0 0h1m0 0h1m0 0h1m0 0h1m0 0h1m0 0h1m0 0h1m0 0h1m0 0h1m0 0h1m0 0h1m2 0h1m0 0h1m1 0h1m0 0h1m-31 1h1m0 0h1m0 0h1m0 0h1m0 0h1m0 0h1m0 0h1m0 0h1m0 0h1m0 0h1m0 0h1m0 0h1m0 0h1m0 0h1m0 0h1m0 0h1m0 0h1m0 0h1m0 0h1m0 0h1m0 0h1m0 0h1m0 0h1m0 0h1m0 0h1m0 0h1m0 0h1m0 0h1m5 0h1m0 0h1m-35 1h1m4 0h1m0 0h1m0 0h1m0 0h1m0 0h1m0 0h1m0 0h1m0 0h1m0 0h1m0 0h1m0 0h1m0 0h1m0 0h1m0 0h1m0 0h1m0 0h1m0 0h1m0 0h1m1 0h1m1 0h1m1 0h1m0 0h1m7 0h1m-36 1h1m1 0h1m0 0h1m0 0h1m0 0h1m0 0h1m0 0h1m0 0h1m0 0h1m0 0h1m0 0h1m0 0h1m0 0h1m0 0h1m0 0h1m0 0h1m0 0h1m0 0h1m0 0h1m1 0h1m0 0h1m1 0h1m1 0h1m1 0h1m-28 1h1m1 0h1m0 0h1m0 0h1m0 0h1m0 0h1m0 0h1m0 0h1m0 0h1m0 0h1m0 0h1m0 0h1m0 0h1m0 0h1m0 0h1m0 0h1m0 0h1m0 0h1m0 0h1m1 0h1m0 0h1m1 0h1m5 0h1m-34 1h1m3 0h1m1 0h1m0 0h1m0 0h1m0 0h1m0 0h1m0 0h1m0 0h1m0 0h1m0 0h1m0 0h1m1 0h1m0 0h1m0 0h1m0 0h1m0 0h1m0 0h1m0 0h1m0 0h1m1 0h1m5 0h1m-33 1h1m0 0h1m3 0h1m1 0h1m1 0h1m1 0h1m0 0h1m2 0h1m1 0h1m1 0h1m0 0h1m2 0h1m0 0h1m0 0h1m2 0h1m0 0h1m1 0h1m-20 1h1m0 0h1m1 0h1m0 0h1m0 0h1m0 0h1m0 0h1m0 0h1m0 0h1m1 0h1m4 0h1m-22 1h1m0 0h1m4 0h1m2 0h1m1 0h1m0 0h1m2 0h1m2 0h1m0 0h1m-21 1h1m0 0h1m4 0h1m3 0h1m5 0h1m-1 2h1m-20 9h1m5 3h1m9 1h1m-11 1h1m6 0h1m-5 1h1m0 0h1m9 0h1m-3 1h1m-15 1h1m11 0h1m0 0h1m-16 1h1m0 0h1m8 0h1m0 0h1m4 0h1m0 0h1m-19 1h1m1 0h1m0 0h1m4 0h1m1 0h1m0 0h1m0 0h1m0 0h1m-16 1h1m4 0h1m9 0h1m0 0h1m1 0h1m2 0h1m-22 1h1m7 0h1m2 0h1m0 0h1m0 0h1m0 0h1m0 0h1m0 0h1m1 0h1m1 0h1m1 0h1m8 0h1m-28 1h1m0 0h1m3 0h1m0 0h1m0 0h1m0 0h1m0 0h1m1 0h1m0 0h1m0 0h1m1 0h1m-16 1h1m0 0h1m0 0h1m1 0h1m1 0h1m0 0h1m0 0h1m0 0h1m0 0h1m0 0h1m1 0h1m0 0h1m0 0h1m0 0h1m0 0h1m-22 1h1m2 0h1m3 0h1m2 0h1m2 0h1m0 0h1m0 0h1m0 0h1m0 0h1m6 0h1m1 0h1m-22 1h1m0 0h1m1 0h1m0 0h1m0 0h1m0 0h1m1 0h1m0 0h1m0 0h1m0 0h1m0 0h1m2 0h1m3 0h1m-21 1h1m4 0h1m1 0h1m0 0h1m1 0h1m0 0h1m0 0h1m1 0h1m0 0h1m1 0h1m0 0h1m2 0h1m0 0h1m-23 1h1m0 0h1m0 0h1m0 0h1m1 0h1m0 0h1m1 0h1m0 0h1m0 0h1m0 0h1m1 0h1m0 0h1m0 0h1m2 0h1m0 0h1m1 0h1m0 0h1m0 0h1m1 0h1m-25 1h1m0 0h1m0 0h1m1 0h1m0 0h1m0 0h1m0 0h1m0 0h1m0 0h1m0 0h1m0 0h1m0 0h1m0 0h1m1 0h1m0 0h1m0 0h1m0 0h1m0 0h1m0 0h1m-25 1h1m0 0h1m0 0h1m3 0h1m2 0h1m0 0h1m1 0h1m0 0h1m0 0h1m0 0h1m0 0h1m0 0h1m0 0h1m2 0h1m1 0h1m1 0h1m0 0h1m3 0h1m3 0h1m-36 1h1m2 0h1m2 0h1m0 0h1m0 0h1m0 0h1m1 0h1m1 0h1m0 0h1m0 0h1m1 0h1m0 0h1m0 0h1m3 0h1m1 0h1m0 0h1m-27 1h1m0 0h1m0 0h1m3 0h1m0 0h1m1 0h1m0 0h1m0 0h1m0 0h1m0 0h1m0 0h1m0 0h1m1 0h1m0 0h1m0 0h1m0 0h1m0 0h1m0 0h1m0 0h1m3 0h1m-28 1h1m0 0h1m0 0h1m3 0h1m0 0h1m0 0h1m0 0h1m1 0h1m0 0h1m0 0h1m0 0h1m0 0h1m0 0h1m0 0h1m0 0h1m0 0h1m0 0h1m0 0h1m2 0h1m0 0h1m0 0h1m0 0h1m0 0h1m-29 1h1m2 0h1m0 0h1m0 0h1m0 0h1m0 0h1m1 0h1m0 0h1m0 0h1m0 0h1m0 0h1m0 0h1m0 0h1m0 0h1m0 0h1m0 0h1m1 0h1m0 0h1m0 0h1m0 0h1m0 0h1m-27 1h1m1 0h1m0 0h1m0 0h1m0 0h1m0 0h1m0 0h1m0 0h1m0 0h1m0 0h1m0 0h1m0 0h1m0 0h1m0 0h1m0 0h1m0 0h1m0 0h1m0 0h1m0 0h1m0 0h1m0 0h1m0 0h1m3 0h1m3 0h1m-31 1h1m0 0h1m0 0h1m0 0h1m0 0h1m0 0h1m0 0h1m1 0h1m0 0h1m0 0h1m0 0h1m0 0h1m0 0h1m0 0h1m1 0h1m0 0h1m0 0h1m0 0h1m0 0h1m0 0h1m0 0h1m1 0h1m1 0h1m0 0h1m1 0h1m0 0h1m0 0h1m-31 1h1m1 0h1m3 0h1m1 0h1m0 0h1m0 0h1m0 0h1m0 0h1m0 0h1m0 0h1m0 0h1m0 0h1m0 0h1m0 0h1m0 0h1m0 0h1m0 0h1m4 0h1m2 0h1m-30 1h1m2 0h1m2 0h1m0 0h1m0 0h1m0 0h1m0 0h1m0 0h1m0 0h1m0 0h1m0 0h1m0 0h1m0 0h1m0 0h1m0 0h1m0 0h1m0 0h1m0 0h1m1 0h1m3 0h1m0 0h1m1 0h1m3 0h1m-30 1h1m1 0h1m0 0h1m0 0h1m0 0h1m1 0h1m0 0h1m0 0h1m2 0h1m0 0h1m0 0h1m0 0h1m0 0h1m0 0h1m0 0h1m4 0h1m0 0h1m-25 1h1m1 0h1m0 0h1m0 0h1m0 0h1m0 0h1m0 0h1m0 0h1m0 0h1m0 0h1m0 0h1m1 0h1m0 0h1m0 0h1m0 0h1m0 0h1m1 0h1m0 0h1m0 0h1m0 0h1m1 0h1m8 0h1m-34 1h1m0 0h1m0 0h1m0 0h1m0 0h1m0 0h1m0 0h1m2 0h1m0 0h1m2 0h1m0 0h1m2 0h1m-20 1h1m1 0h1m1 0h1m2 0h1m1 0h1m0 0h1m0 0h1m1 0h1m1 0h1m0 0h1m0 0h1m1 0h1m3 0h1m0 0h1m9 0h1m-30 1h1m0 0h1m2 0h1m0 0h1m0 0h1m1 0h1m0 0h1m1 0h1m0 0h1m0 0h1m4 0h1m1 0h1m-28 1h1m1 0h1m0 0h1m2 0h1m0 0h1m0 0h1m0 0h1m1 0h1m1 0h1m1 0h1m0 0h1m0 0h1m0 0h1m0 0h1m0 0h1m2 0h1m1 0h1m7 0h1m-31 1h1m0 0h1m1 0h1m3 0h1m2 0h1m0 0h1m0 0h1m0 0h1m0 0h1m5 0h1m0 0h1m-20 1h1m0 0h1m6 0h1m0 0h1m0 0h1m1 0h1m-18 1h1m4 0h1m2 0h1m9 0h1m0 0h1m2 0h1m1 0h1m-13 1h1m14 0h1" transform="translate(0 .5)" stroke="#000" stroke-width="1" opacity="0.42"/>
<path d="M38 625h1m-10 2h1m5 0h1m3 0h1m-8 1h1m1 0h1m3 0h1m0 0h1m4 0h1m1 0h1m2 0h1m1 0h1m0 0h1m2 0h1m2 0h1m-25 1h1m1 0h1m0 0h1m0 0h1m1 0h1m1 0h1m0 0h1m0 0h1m0 0h1m1 0h1m3 0h1m7 0h1m-32 1h1m1 0h1m1 0h1m0 0h1m0 0h1m0 0h1m0 0h1m0 0h1m1 0h1m0 0h1m0 0h1m0 0h1m0 0h1m0 0h1m1 0h1m0 0h1m2 0h1m5 0h1m1 0h1m-30 1h1m0 0h1m1 0h1m1 0h1m1 0h1m0 0h1m0 0h1m1 0h1m1 0h1m0 0h1m0 0h1m0 0h1m0 0h1m0 0h1m0 0h1m0 0h1m1 0h1m0 0h1m0 0h1m0 0h1m1 0h1m0 0h1m-29 1h1m0 0h1m0 0h1m0 0h1m0 0h1m0 0h1m0 0h1m0 0h1m0 0h1m0 0h1m0 0h1m0 0h1m0 0h1m0 0h1m0 0h1m1 0h1m0 0h1m0 0h1m0 0h1m0 0h1m0 0h1m0 0h1m1 0h1m0 0h1m-26 1h1m2 0h1m0 0h1m2 0h1m0 0h1m0 0h1m0 0h1m0 0h1m0 0h1m0 0h1m0 0h1m0 0h1m0 0h1m0 0h1m0 0h1m0 0h1m0 0h1m1 0h1m3 0h1m0 0h1m-29 1h1m0 0h1m1 0h1m1 0h1m0 0h1m0 0h1m0 0h1m0 0h1m0 0h1m0 0h1m0 0h1m0 0h1m0 0h1m0 0h1m0 0h1m0 0h1m0 0h1m0 0h1m0 0h1m0 0h1m0 0h1m0 0h1m0 0h1m0 0h1m1 0h1m0 0h1m-29 1h1m0 0h1m2 0h1m0 0h1m2 0h1m0 0h1m0 0h1m0 0h1m0 0h1m0 0h1m0 0h1m0 0h1m0 0h1m0 0h1m0 0h1m0 0h1m1 0h1m1 0h1m2 0h1m0 0h1m3 0h1m-32 1h1m2 0h1m0 0h1m2 0h1m0 0h1m0 0h1m0 0h1m0 0h1m0 0h1m0 0h1m0 0h1m0 0h1m0 0h1m1 0h1m0 0h1m0 0h1m0 0h1m0 0h1m0 0h1m0 0h1m0 0h1m0 0h1m-25 1h1m1 0h1m0 0h1m0 0h1m2 0h1m1 0h1m0 0h1m0 0h1m0 0h1m0 0h1m0 0h1m0 0h1m0 0h1m1 0h1m0 0h1m0 0h1m0 0h1m1 0h1m2 0h1m-27 1h1m2 0h1m0 0h1m0 0h1m1 0h1m0 0h1m0 0h1m1 0h1m0 0h1m0 0h1m0 0h1m1 0h1m0 0h1m0 0h1m0 0h1m1 0h1m0 0h1m0 0h1m2 0h1m-24 1h1m0 0h1m1 0h1m0 0h1m0 0h1m1 0h1m1 0h1m0 0h1m0 0h1m0 0h1m0 0h1m0 0h1m1 0h1m0 0h1m0 0h1m1 0h1m-25 1h1m4 0h1m0 0h1m0 0h1m0 0h1m5 0h1m2 0h1m0 0h1m2 0h1m1 0h1m0 0h1m-25 1h1m4 0h1m1 0h1m1 0h1m9 0h1m3 0h1m-4 1h1m0 0h1m-3 1h1m0 0h1m-22 9h1m15 4h1m5 0h1m-3 1h1m-5 1h1m1 0h1m-10 1h1m-2 1h1m7 0h1m2 0h1m-4 1h1m4 0h1m1 0h1m0 0h1m2 0h1m-16 1h1m4 0h1m1 0h1m0 0h1m-13 1h1m0 0h1m0 0h1m0 0h1m0 0h1m4 0h1m1 0h1m2 0h1m0 0h1m1 0h1m1 0h1m-24 1h1m3 0h1m6 0h1m0 0h1m0 0h1m5 0h1m11 0h1m-30 1h1m2 0h1m1 0h1m2 0h1m2 0h1m5 0h1m1 0h1m5 0h1m-32 1h1m4 0h1m0 0h1m1 0h1m3 0h1m7 0h1m-21 1h1m6 0h1m1 0h1m0 0h1m2 0h1m1 0h1m4 0h1m2 0h1m1 0h1m1 0h1m0 0h1m4 0h1m0 0h1m-32 1h1m0 0h1m2 0h1m1 0h1m0 0h1m0 0h1m0 0h1m1 0h1m0 0h1m0 0h1m0 0h1m0 0h1m0 0h1m0 0h1m0 0h1m0 0h1m0 0h1m-24 1h1m4 0h1m2 0h1m1 0h1m0 0h1m0 0h1m0 0h1m0 0h1m0 0h1m1 0h1m0 0h1m0 0h1m0 0h1m2 0h1m0 0h1m3 0h1m-27 1h1m0 0h1m1 0h1m0 0h1m0 0h1m0 0h1m0 0h1m0 0h1m1 0h1m0 0h1m2 0h1m0 0h1m1 0h1m0 0h1m2 0h1m0 0h1m0 0h1m-27 1h1m1 0h1m0 0h1m4 0h1m0 0h1m0 0h1m0 0h1m0 0h1m1 0h1m0 0h1m1 0h1m0 0h1m0 0h1m0 0h1m2 0h1m0 0h1m0 0h1m2 0h1m-27 1h1m1 0h1m1 0h1m0 0h1m0 0h1m0 0h1m0 0h1m0 0h1m1 0h1m0 0h1m1 0h1m0 0h1m0 0h1m0 0h1m0 0h1m0 0h1m1 0h1m1 0h1m2 0h1m0 0h1m1 0h1m0 0h1m-33 1h1m1 0h1m1 0h1m1 0h1m3 0h1m0 0h1m0 0h1m0 0h1m0 0h1m0 0h1m0 0h1m0 0h1m0 0h1m0 0h1m1 0h1m2 0h1m2 0h1m0 0h1m0 0h1m-30 1h1m3 0h1m0 0h1m0 0h1m1 0h1m1 0h1m0 0h1m1 0h1m0 0h1m0 0h1m0 0h1m0 0h1m0 0h1m0 0h1m0 0h1m2 0h1m0 0h1m0 0h1m4 0h1m1 0h1m1 0h1m-35 1h1m1 0h1m2 0h1m0 0h1m0 0h1m1 0h1m0 0h1m0 0h1m0 0h1m0 0h1m0 0h1m0 0h1m0 0h1m0 0h1m0 0h1m0 0h1m2 0h1m0 0h1m0 0h1m2 0h1m-27 1h1m0 0h1m3 0h1m3 0h1m2 0h1m0 0h1m0 0h1m0 0h1m0 0h1m0 0h1m2 0h1m0 0h1m1 0h1m0 0h1m1 0h1m0 0h1m-27 1h1m1 0h1m0 0h1m0 0h1m0 0h1m0 0h1m0 0h1m0 0h1m0 0h1m0 0h1m0 0h1m2 0h1m0 0h1m0 0h1m1 0h1m0 0h1m0 0h1m0 0h1m4 0h1m0 0h1m1 0h1m0 0h1m5 0h1m-36 1h1m1 0h1m0 0h1m0 0h1m1 0h1m0 0h1m0 0h1m0 0h1m0 0h1m0 0h1m0 0h1m0 0h1m0 0h1m0 0h1m0 0h1m0 0h1m0 0h1m0 0h1m1 0h1m1 0h1m0 0h1m4 0h1m-28 1h1m0 0h1m0 0h1m0 0h1m0 0h1m0 0h1m1 0h1m0 0h1m0 0h1m0 0h1m0 0h1m0 0h1m1 0h1m2 0h1m0 0h1m4 0h1m2 0h1m-30 1h1m4 0h1m0 0h1m1 0h1m0 0h1m2 0h1m0 0h1m0 0h1m0 0h1m0 0h1m0 0h1m0 0h1m0 0h1m1 0h1m0 0h1m0 0h1m0 0h1m1 0h1m8 0h1m-34 1h1m0 0h1m3 0h1m0 0h1m0 0h1m1 0h1m0 0h1m0 0h1m0 0h1m0 0h1m1 0h1m0 0h1m3 0h1m0 0h1m1 0h1m-27 1h1m4 0h1m0 0h1m3 0h1m0 0h1m0 0h1m0 0h1m0 0h1m0 0h1m0 0h1m0 0h1m0 0h1m1 0h1m0 0h1m0 0h1m2 0h1m0 0h1m-27 1h1m2 0h1m0 0h1m0 0h1m0 0h1m0 0h1m1 0h1m1 0h1m0 0h1m0 0h1m0 0h1m0 0h1m0 0h1m0 0h1m4 0h1m1 0h1m0 0h1m0 0h1m2 0h1m-29 1h1m6 0h1m1 0h1m3 0h1m0 0h1m1 0h1m0 0h1m0 0h1m0 0h1m0 0h1m0 0h1m1 0h1m2 0h1m-28 1h1m1 0h1m4 0h1m0 0h1m0 0h1m1 0h1m2 0h1m1 0h1m1 0h1m5 0h1m0 0h1m1 0h1m-24 1h1m0 0h1m1 0h1m1 0h1m1 0h1m0 0h1m1 0h1m0 0h1m0 0h1m0 0h1m0 0h1m2 0h1m0 0h1m1 0h1m-24 1h1m1 0h1m0 0h1m0 0h1m3 0h1m1 0h1m0 0h1m2 0h1m1 0h1m6 0h1m2 0h1m-26 1h1m6 0h1m0 0h1m0 0h1m1 0h1m0 0h1m1 0h1m0 0h1m3 0h1m1 0h1m-22 1h1m0 0h1m4 0h1m2 0h1m1 0h1m1 0h1m0 0h1m1 0h1m3 0h1m1 0h1m1 0h1m0 0h1m-27 1h1m4 0h1m4 0h1m9 0h1m0 0h1" transform="translate(0 .5)" stroke="#000" stroke-width="1" opacity="0.42"/>
<path d="M37 626h1m9 0h1m0 0h1m-21 1h1m7 0h1m11 0h1m-15 1h1m4 0h1m6 0h1m1 0h1m3 0h1m8 0h1m-35 1h1m3 0h1m0 0h1m1 0h1m0 0h1m0 0h1m5 0h1m0 0h1m6 0h1m4 0h1m1 0h1m-27 1h1m1 0h1m0 0h1m0 0h1m0 0h1m0 0h1m0 0h1m0 0h1m1 0h1m0 0h1m1 0h1m0 0h1m0 0h1m0 0h1m0 0h1m0 0h1m2 0h1m0 0h1m2 0h1m-30 1h1m0 0h1m0 0h1m1 0h1m0 0h1m2 0h1m0 0h1m0 0h1m1 0h1m2 0h1m0 0h1m0 0h1m0 0h1m1 0h1m1 0h1m2 0h1m0 0h1m0 0h1m0 0h1m-23 1h1m0 0h1m0 0h1m0 0h1m0 0h1m0 0h1m0 0h1m0 0h1m0 0h1m0 0h1m0 0h1m0 0h1m0 0h1m0 0h1m0 0h1m1 0h1m0 0h1m0 0h1m0 0h1m1 0h1m9 0h1m-36 1h1m0 0h1m0 0h1m0 0h1m0 0h1m0 0h1m0 0h1m0 0h1m1 0h1m0 0h1m0 0h1m0 0h1m0 0h1m0 0h1m0 0h1m0 0h1m0 0h1m0 0h1m1 0h1m0 0h1m1 0h1m0 0h1m0 0h1m0 0h1m1 0h1m0 0h1m2 0h1m-34 1h1m1 0h1m0 0h1m1 0h1m0 0h1m0 0h1m0 0h1m0 0h1m0 0h1m0 0h1m0 0h1m0 0h1m0 0h1m0 0h1m0 0h1m0 0h1m0 0h1m0 0h1m0 0h1m0 0h1m0 0h1m3 0h1m1 0h1m-30 1h1m3 0h1m1 0h1m0 0h1m0 0h1m0 0h1m0 0h1m0 0h1m0 0h1m0 0h1m0 0h1m1 0h1m0 0h1m0 0h1m0 0h1m0 0h1m0 0h1m0 0h1m0 0h1m0 0h1m2 0h1m1 0h1m0 0h1m10 0h1m-40 1h1m1 0h1m0 0h1m1 0h1m0 0h1m0 0h1m0 0h1m0 0h1m0 0h1m0 0h1m0 0h1m0 0h1m0 0h1m0 0h1m0 0h1m0 0h1m0 0h1m2 0h1m1 0h1m0 0h1m3 0h1m1 0h1m0 0h1m-34 1h1m1 0h1m3 0h1m0 0h1m1 0h1m0 0h1m0 0h1m0 0h1m0 0h1m0 0h1m0 0h1m0 0h1m0 0h1m0 0h1m0 0h1m0 0h1m0 0h1m1 0h1m1 0h1m0 0h1m0 0h1m1 0h1m-26 1h1m1 0h1m1 0h1m0 0h1m0 0h1m2 0h1m1 0h1m2 0h1m0 0h1m0 0h1m1 0h1m1 0h1m0 0h1m0 0h1m1 0h1m0 0h1m-30 1h1m1 0h1m2 0h1m2 0h1m0 0h1m0 0h1m0 0h1m1 0h1m1 0h1m0 0h1m3 0h1m7 0h1m-19 1h1m1 0h1m2 0h1m2 0h1m7 0h1m0 0h1m-23 1h1m1 0h1m2 0h1m2 0h1m1 0h1m1 0h1m1 0h1m3 0h1m0 0h1m-9 6h1m13 5h1m-19 4h1m-10 2h1m9 0h1m3 0h1m9 0h1m-17 1h1m2 0h1m-2 1h1m8 0h1m5 0h1m-24 1h1m12 0h1m1 0h1m0 0h1m-14 1h1m0 0h1m1 0h1m5 0h1m3 0h1m-17 1h1m2 0h1m1 0h1m0 0h1m4 0h1m3 0h1m2 0h1m2 0h1m-21 1h1m7 0h1m1 0h1m0 0h1m0 0h1m0 0h1m1 0h1m4 0h1m1 0h1m-27 1h1m4 0h1m1 0h1m0 0h1m1 0h1m6 0h1m1 0h1m0 0h1m-20 1h1m2 0h1m3 0h1m1 0h1m0 0h1m0 0h1m0 0h1m0 0h1m1 0h1m1 0h1m1 0h1m1 0h1m0 0h1m-20 1h1m3 0h1m1 0h1m0 0h1m2 0h1m0 0h1m1 0h1m1 0h1m4 0h1m0 0h1m0 0h1m-28 1h1m1 0h1m2 0h1m3 0h1m0 0h1m1 0h1m1 0h1m1 0h1m0 0h1m0 0h1m0 0h1m0 0h1m0 0h1m0 0h1m1 0h1m0 0h1m0 0h1m0 0h1m-26 1h1m1 0h1m2 0h1m0 0h1m0 0h1m0 0h1m2 0h1m0 0h1m1 0h1m0 0h1m0 0h1m0 0h1m0 0h1m0 0h1m3 0h1m3 0h1m-29 1h1m2 0h1m1 0h1m1 0h1m0 0h1m1 0h1m1 0h1m0 0h1m1 0h1m1 0h1m0 0h1m1 0h1m0 0h1m1 0h1m0 0h1m2 0h1m6 0h1m-35 1h1m0 0h1m1 0h1m1 0h1m0 0h1m0 0h1m0 0h1m0 0h1m1 0h1m0 0h1m0 0h1m1 0h1m0 0h1m1 0h1m0 0h1m0 0h1m0 0h1m6 0h1m-30 1h1m0 0h1m2 0h1m1 0h1m2 0h1m0 0h1m0 0h1m0 0h1m0 0h1m0 0h1m0 0h1m0 0h1m0 0h1m0 0h1m0 0h1m0 0h1m0 0h1m0 0h1m0 0h1m1 0h1m0 0h1m-27 1h1m3 0h1m0 0h1m0 0h1m1 0h1m1 0h1m2 0h1m0 0h1m3 0h1m0 0h1m0 0h1m1 0h1m1 0h1m0 0h1m4 0h1m-32 1h1m4 0h1m0 0h1m1 0h1m1 0h1m0 0h1m0 0h1m0 0h1m0 0h1m0 0h1m0 0h1m0 0h1m0 0h1m0 0h1m0 0h1m2 0h1m0 0h1m0 0h1m0 0h1m0 0h1m0 0h1m-29 1h1m1 0h1m1 0h1m0 0h1m1 0h1m1 0h1m0 0h1m0 0h1m1 0h1m0 0h1m0 0h1m0 0h1m0 0h1m0 0h1m0 0h1m0 0h1m0 0h1m0 0h1m0 0h1m0 0h1m2 0h1m9 0h1m-33 1h1m0 0h1m1 0h1m0 0h1m0 0h1m0 0h1m1 0h1m0 0h1m0 0h1m0 0h1m0 0h1m0 0h1m1 0h1m0 0h1m3 0h1m0 0h1m2 0h1m0 0h1m-28 1h1m2 0h1m0 0h1m1 0h1m1 0h1m1 0h1m0 0h1m0 0h1m0 0h1m1 0h1m0 0h1m0 0h1m0 0h1m0 0h1m1 0h1m0 0h1m0 0h1m0 0h1m0 0h1m5 0h1m0 0h1m-34 1h1m0 0h1m0 0h1m2 0h1m0 0h1m0 0h1m1 0h1m0 0h1m1 0h1m1 0h1m0 0h1m0 0h1m1 0h1m2 0h1m0 0h1m0 0h1m3 0h1m-27 1h1m0 0h1m0 0h1m2 0h1m0 0h1m0 0h1m0 0h1m0 0h1m0 0h1m0 0h1m0 0h1m0 0h1m0 0h1m1 0h1m2 0h1m1 0h1m2 0h1m0 0h1m-25 1h1m0 0h1m1 0h1m0 0h1m0 0h1m0 0h1m0 0h1m0 0h1m0 0h1m0 0h1m0 0h1m2 0h1m0 0h1m0 0h1m1 0h1m0 0h1m0 0h1m2 0h1m0 0h1m2 0h1m-31 1h1m3 0h1m0 0h1m0 0h1m2 0h1m0 0h1m0 0h1m0 0h1m0 0h1m1 0h1m0 0h1m0 0h1m0 0h1m0 0h1m2 0h1m0 0h1m2 0h1m0 0h1m-24 1h1m0 0h1m0 0h1m0 0h1m1 0h1m0 0h1m0 0h1m0 0h1m0 0h1m0 0h1m0 0h1m0 0h1m0 0h1m0 0h1m1 0h1m0 0h1m0 0h1m1 0h1m0 0h1m-26 1h1m1 0h1m1 0h1m1 0h1m0 0h1m2 0h1m0 0h1m0 0h1m1 0h1m0 0h1m0 0h1m0 0h1m0 0h1m0 0h1m0 0h1m1 0h1m0 0h1m3 0h1m3 0h1m-30 1h1m0 0h1m0 0h1m4 0h1m0 0h1m0 0h1m0 0h1m0 0h1m1 0h1m2 0h1m0 0h1m1 0h1m0 0h1m1 0h1m2 0h1m0 0h1m-19 1h1m0 0h1m0 0h1m0 0h1m1 0h1m0 0h1m0 0h1m0 0h1m0 0h1m2 0h1m2 0h1m3 0h1m2 0h1m-24 1h1m0 0h1m1 0h1m0 0h1m5 0h1m0 0h1m0 0h1m2 0h1m0 0h1m0 0h1m0 0h1m1 0h1m-26 1h1m1 0h1m0 0h1m2 0h1m1 0h1m0 0h1m0 0h1m0 0h1m1 0h1m0 0h1m0 0h1m0 0h1m5 0h1m-21 1h1m0 0h1m2 0h1m2 0h1m1 0h1m3 0h1m0 0h1m2 0h1m3 0h1m-17 1h1m1 0h1m0 0h1m0 0h1m0 0h1m5 0h1m-6 1h1" transform="translate(0 .5)" stroke="#000" stroke-width="1" opacity="0.42"/>
<path d="M65 626h1m1 0h1m2 0h1m0 1h1m2 0h1m1 0h1m8 0h1m5 0h1m-31 1h1m0 0h1m6 0h1m6 0h1m0 0h1m4 0h1m-12 1h1m0 0h1m5 0h1m2 0h1m1 0h1m1 0h1m5 0h1m-34 1h1m1 0h1m9 0h1m2 0h1m0 0h1m2 0h1m1 0h1m0 0h1m1 0h1m7 0h1m-23 1h1m0 0h1m13 0h1m1 0h1m-25 1h1m1 0h1m1 0h1m0 0h1m0 0h1m1 0h1m4 0h1m0 0h1m0 0h1m0 0h1m1 0h1m5 0h1m-26 1h1m8 0h1m2 0h1m0 0h1m2 0h1m0 0h1m4 0h1m7 0h1m1 0h1m-42 1h1m6 0h1m3 0h1m2 0h1m0 0h1m0 0h1m1 0h1m1 0h1m3 0h1m1 0h1m0 0h1m0 0h1m0 0h1m3 0h1m-20 1h1m0 0h1m0 0h1m2 0h1m2 0h1m0 0h1m0 0h1m0 0h1m2 0h1m3 0h1m1 0h1m6 0h1m5 0h1m-68 1h1m21 0h1m4 0h1m4 0h1m0 0h1m2 0h1m2 0h1m0 0h1m0 0h1m0 0h1m0 0h1m0 0h1m1 0h1m0 0h1m3 0h1m0 0h1m0 0h1m0 0h1m0 0h1m7 0h1m-41 1h1m4 0h1m1 0h1m0 0h1m0 0h1m7 0h1m0 0h1m0 0h1m0 0h1m0 0h1m0 0h1m0 0h1m1 0h1m0 0h1m8 0h1m1 0h1m2 0h1m-64 1h1m21 0h1m4 0h1m5 0h1m1 0h1m1 0h1m0 0h1m2 0h1m2 0h1m4 0h1m1 0h1m1 0h1m1 0h1m-49 1h1m17 0h1m5 0h1m0 0h1m0 0h1m3 0h1m1 0h1m4 0h1m0 0h1m0 0h1m0 0h1m1 0h1m4 0h1m1 0h1m3 0h1m0 0h1m0 0h1m-44 1h1m4 0h1m12 0h1m3 0h1m2 0h1m13 0h1m-53 1h1m7 0h1m0 0h1m7 0h1m2 0h1m3 0h1m2 0h1m6 0h1m1 0h1m0 0h1m0 0h1m0 0h1m0 0h1m7 0h1m5 0h1m-56 1h1m1 0h1m1 0h1m2 0h1m1 0h1m0 0h1m2 0h1m3 0h1m3 0h1m7 0h1m8 0h1m0 0h1m-43 1h1m12 0h1m0 0h1m3 0h1m0 0h1m15 0h1m0 0h1m4 0h1m0 0h1m5 0h1m-50 1h1m2 0h1m3 0h1m1 0h1m4 0h1m2 0h1m2 0h1m6 0h1m15 0h1m0 0h1m4 0h1m1 0h1m-44 1h1m1 0h1m0 0h1m1 0h1m1 0h1m0 0h1m1 0h1m0 0h1m10 0h1m4 0h1m5 0h1m6 0h1m0 0h1m16 0h1m-64 1h1m5 0h1m2 0h1m0 0h1m0 0h1m1 0h1m0 0h1m1 0h1m4 0h1m4 0h1m-14 1h1m3 0h1m5 0h1m15 0h1m-40 1h1m1 0h1m1 0h1m0 0h1m4 0h1m1 0h1m4 0h1m1 0h1m-15 1h1m2 0h1m0 0h1m2 0h1m3 0h1m3 0h1m-25 1h1m1 0h1m3 0h1m0 0h1m3 0h1m3 0h1m4 0h1m8 0h1m-27 1h1m2 0h1m2 0h1m0 0h1m5 0h1m1 0h1m5 0h1m4 0h1m-27 1h1m5 0h1m0 0h1m1 0h1m2 0h1m1 0h1m1 0h1m1 0h1m-19 1h1m5 0h1m0 0h1m0 0h1m2 0h1m5 0h1m17 0h1m-35 1h1m5 0h1m3 0h1m0 0h1m2 0h1m1 0h1m4 0h1m2 0h1m-30 1h1m3 0h1m3 0h1m1 0h1m8 0h1m17 0h1m-33 1h1m15 0h1m1 0h1m-13 1h1m14 0h1m0 0h1m33 0h1m-53 1h1m1 0h1m0 0h1m4 0h1m2 0h1m26 0h1m-49 1h1m14 0h1m0 0h1m4 0h1m2 0h1m3 0h1m-26 1h1m0 0h1m32 0h1m7 0h1m6 0h1m-20 1h1m0 0h1m6 0h1m-20 1h1m17 0h1m21 0h1m-64 1h1m25 0h1m13 0h1m8 0h1m5 0h1m-24 1h1m8 0h1m12 0h1m0 0h1m1 0h1m-35 1h1m5 0h1m20 0h1m7 0h1m0 0h1m3 0h1m2 0h1m8 0h1m-46 1h1m8 0h1m14 0h1m3 0h1m1 0h1m1 0h1m0 0h1m1 0h1m-65 1h1m19 0h1m13 0h1m10 0h1m2 0h1m0 0h1m3 0h1m0 0h1m0 0h1m0 0h1m4 0h1m16 0h1m-57 1h1m5 0h1m2 0h1m12 0h1m5 0h1m1 0h1m8 0h1m1 0h1m3 0h1m5 0h1m-47 1h1m14 0h1m10 0h1m1 0h1m2 0h1m5 0h1m10 0h1m17 0h1m-56 1h1m4 0h1m0 0h1m2 0h1m2 0h1m1 0h1m9 0h1m1 0h1m0 0h1m1 0h1m4 0h1m-46 1h1m4 0h1m0 0h1m9 0h1m3 0h1m1 0h1m0 0h1m3 0h1m0 0h1m1 0h1m0 0h1m6 0h1m4 0h1m-38 1h1m6 0h1m0 0h1m0 0h1m4 0h1m1 0h1m2 0h1m1 0h1m1 0h1m1 0h1m1 0h1m6 0h1m1 0h1m-50 1h1m6 0h1m5 0h1m3 0h1m0 0h1m0 0h1m1 0h1m0 0h1m0 0h1m3 0h1m1 0h1m1 0h1m1 0h1m1 0h1m0 0h1m0 0h1m2 0h1m0 0h1m2 0h1m0 0h1m1 0h1m13 0h1m-48 1h1m2 0h1m1 0h1m0 0h1m1 0h1m0 0h1m1 0h1m0 0h1m0 0h1m1 0h1m1 0h1m1 0h1m0 0h1m0 0h1m2 0h1m1 0h1m9 0h1m1 0h1m-48 1h1m7 0h1m1 0h1m5 0h1m0 0h1m0 0h1m0 0h1m0 0h1m0 0h1m0 0h1m3 0h1m2 0h1m0 0h1m1 0h1m4 0h1m0 0h1m12 0h1m-51 1h1m3 0h1m2 0h1m5 0h1m5 0h1m2 0h1m1 0h1m0 0h1m1 0h1m4 0h1m0 0h1m0 0h1m0 0h1m1 0h1m0 0h1m2 0h1m1 0h1m-37 1h1m1 0h1m3 0h1m0 0h1m2 0h1m0 0h1m2 0h1m0 0h1m0 0h1m1 0h1m1 0h1m8 0h1m0 0h1m5 0h1m0 0h1m9 0h1m-46 1h1m2 0h1m0 0h1m5 0h1m1 0h1m1 0h1m1 0h1m3 0h1m0 0h1m1 0h1m0 0h1m0 0h1m1 0h1m0 0h1m0 0h1m2 0h1m-44 1h1m14 0h1m0 0h1m2 0h1m1 0h1m0 0h1m0 0h1m0 0h1m3 0h1m0 0h1m1 0h1m1 0h1m0 0h1m2 0h1m0 0h1m0 0h1m0 0h1m2 0h1m3 0h1m-41 1h1m4 0h1m0 0h1m0 0h1m0 0h1m2 0h1m2 0h1m4 0h1m0 0h1m1 0h1m0 0h1m0 0h1m0 0h1m0 0h1m0 0h1m4 0h1m1 0h1m1 0h1m6 0h1m-37 1h1m10 0h1m4 0h1m0 0h1m3 0h1m0 0h1m0 0h1m0 0h1m0 0h1m2 0h1m1 0h1m1 0h1m2 0h1m6 0h1m-43 1h1m2 0h1m4 0h1m1 0h1m0 0h1m1 0h1m2 0h1m2 0h1m1 0h1m0 0h1m0 0h1m-38 1h1m3 0h1m6 0h1m4 0h1m4 0h1m1 0h1m0 0h1m0 0h1m0 0h1m0 0h1m0 0h1m1 0h1m0 0h1m2 0h1m0 0h1m1 0h1m2 0h1m5 0h1m4 0h1m-54 1h1m4 0h1m9 0h1m3 0h1m1 0h1m2 0h1m0 0h1m0 0h1m2 0h1m1 0h1m1 0h1m2 0h1m0 0h1m2 0h1m3 0h1m1 0h1m-37 1h1m1 0h1m1 0h1m4 0h1m3 0h1m2 0h1m0 0h1m2 0h1m0 0h1m3 0h1m2 0h1m-42 1h1m11 0h1m18 0h1m3 0h1m0 0h1m4 0h1m0 0h1m8 0h1m-20 1h1m6 0h1m0 0h1m17 0h1m4 0h1m-43 1h1m10 0h1m2 0h1m0 0h1m1 0h1m0 0h1m2 0h1m1 0h1m11 0h1m-40 1h1m5 0h1m1 0h1m0 0h1m7 0h1m1 0h1m2 0h1m0 0h1m-36 1h1m38 0h1m1 0h1" transform="translate(0 .5)" stroke="#000" stroke-width="1" opacity="0.22"/>
</g>
<rect x="27.5" y="614.5" width="95.5" height="76.0" fill="none" stroke="#999" stroke-width="0.8"/>
<line x1="60.0" y1="614.5" x2="60.0" y2="690.5" stroke="#aaa" stroke-width="0.8"/>
<line x1="27.5" y1="656.3" x2="123.0" y2="656.3" stroke="#aaa" stroke-width="0.8"/>
<text transform="translate(29.3 621.6) scale(1.25 1)" font-size="7.3" class="q">26.3</text>
<text transform="translate(122.1 621.6) scale(1.25 1)" font-size="7.3" class="q" text-anchor="end">0.8</text>
<rect x="28.1" y="682.3" width="20.2" height="7.8" fill="#fff" stroke="#555" stroke-width="0.6"/>
<text transform="translate(29.3 688.9) scale(1.25 1)" font-size="7.3" class="q">68.1</text>
<text transform="translate(122.1 688.9) scale(1.25 1)" font-size="7.3" class="q" text-anchor="end">4.8</text>
<line x1="26.0" y1="620.0" x2="27.5" y2="620.0" stroke="#777" stroke-width="0.6"/>
<line x1="26.0" y1="638.1" x2="27.5" y2="638.1" stroke="#777" stroke-width="0.6"/>
<line x1="26.0" y1="655.8" x2="27.5" y2="655.8" stroke="#777" stroke-width="0.6"/>
<line x1="26.0" y1="673.4" x2="27.5" y2="673.4" stroke="#777" stroke-width="0.6"/>
<line x1="26.0" y1="681.7" x2="27.5" y2="681.7" stroke="#777" stroke-width="0.6"/>
<line x1="37.4" y1="690.5" x2="37.4" y2="692.0" stroke="#777" stroke-width="0.6"/>
<line x1="47.5" y1="690.5" x2="47.5" y2="692.0" stroke="#777" stroke-width="0.6"/>
<line x1="69.9" y1="690.5" x2="69.9" y2="692.0" stroke="#777" stroke-width="0.6"/>
<line x1="93.6" y1="690.5" x2="93.6" y2="692.0" stroke="#777" stroke-width="0.6"/>
<line x1="114.7" y1="690.5" x2="114.7" y2="692.0" stroke="#777" stroke-width="0.6"/>
<text x="37.4" y="698.5" font-size="4.2" text-anchor="middle" fill="#333">0</text>
<text x="47.5" y="698.5" font-size="4.2" text-anchor="middle" fill="#333">10²</text>
<text x="69.9" y="698.5" font-size="4.2" text-anchor="middle" fill="#333">10³</text>
<text x="93.6" y="698.5" font-size="4.2" text-anchor="middle" fill="#333">10⁴</text>
<text x="114.7" y="698.5" font-size="4.2" text-anchor="middle" fill="#333">10⁵</text>
<text x="25.2" y="621.4" font-size="4.2" text-anchor="end" fill="#333">10⁵</text>
<text x="25.2" y="639.5" font-size="4.2" text-anchor="end" fill="#333">10⁴</text>
<text x="25.2" y="657.2" font-size="4.2" text-anchor="end" fill="#333">10³</text>
<text x="25.2" y="674.8" font-size="4.2" text-anchor="end" fill="#333">10²</text>
<text x="25.2" y="683.1" font-size="4.2" text-anchor="end" fill="#333">0</text>
<text transform="translate(196.5 489.3) scale(1.06 1)" font-size="9.5" text-anchor="middle" class="ns">MPN 9</text>
<text transform="translate(196.5 501.3) scale(1.06 1)" font-size="9.5" text-anchor="middle" class="ns">(MPN prior to ruxo)</text>
<clipPath id="c625"><rect x="148.8" y="507" width="96.19999999999999" height="75.5"/></clipPath>
<g clip-path="url(#c625)">
<ellipse cx="164" cy="516.8" rx="17" ry="4.3" fill="#000" opacity="1" filter="url(#b1)"/>
<ellipse cx="193" cy="517" rx="11" ry="2.8" fill="#000" opacity="0.95" filter="url(#b1)"/>
<ellipse cx="181" cy="517" rx="7" ry="3.2" fill="#000" opacity="1" filter="url(#b1)"/>
<ellipse cx="163" cy="561" rx="11" ry="10" fill="#000" opacity="0.6" filter="url(#b2)"/>
<ellipse cx="188" cy="563" rx="8" ry="8" fill="#000" opacity="0.15" filter="url(#b2)"/>
<path d="M155 512h1m9 0h1m2 0h1m5 0h1m17 0h1m-44 1h1m9 0h1m2 0h1m2 0h1m0 0h1m4 0h1m3 0h1m1 0h1m12 0h1m0 0h1m0 0h1m2 0h1m4 0h1m1 0h1m3 0h1m-56 1h1m8 0h1m0 0h1m1 0h1m0 0h1m0 0h1m2 0h1m1 0h1m0 0h1m0 0h1m0 0h1m3 0h1m0 0h1m1 0h1m0 0h1m0 0h1m1 0h1m0 0h1m0 0h1m1 0h1m1 0h1m0 0h1m0 0h1m1 0h1m0 0h1m4 0h1m0 0h1m0 0h1m3 0h1m7 0h1m-65 1h1m0 0h1m0 0h1m0 0h1m0 0h1m0 0h1m0 0h1m1 0h1m0 0h1m0 0h1m0 0h1m1 0h1m2 0h1m0 0h1m0 0h1m0 0h1m0 0h1m2 0h1m0 0h1m0 0h1m1 0h1m0 0h1m0 0h1m0 0h1m2 0h1m0 0h1m0 0h1m0 0h1m0 0h1m5 0h1m0 0h1m1 0h1m2 0h1m0 0h1m1 0h1m0 0h1m0 0h1m3 0h1m1 0h1m-62 1h1m2 0h1m2 0h1m3 0h1m0 0h1m1 0h1m0 0h1m0 0h1m0 0h1m0 0h1m0 0h1m0 0h1m0 0h1m0 0h1m0 0h1m1 0h1m0 0h1m2 0h1m0 0h1m0 0h1m0 0h1m0 0h1m0 0h1m2 0h1m0 0h1m0 0h1m1 0h1m3 0h1m0 0h1m0 0h1m2 0h1m0 0h1m1 0h1m0 0h1m0 0h1m-55 1h1m0 0h1m0 0h1m0 0h1m2 0h1m0 0h1m0 0h1m0 0h1m0 0h1m0 0h1m0 0h1m0 0h1m0 0h1m0 0h1m0 0h1m1 0h1m0 0h1m0 0h1m0 0h1m0 0h1m1 0h1m0 0h1m0 0h1m0 0h1m0 0h1m2 0h1m1 0h1m0 0h1m0 0h1m0 0h1m0 0h1m0 0h1m0 0h1m0 0h1m1 0h1m1 0h1m2 0h1m1 0h1m0 0h1m0 0h1m1 0h1m0 0h1m0 0h1m8 0h1m0 0h1m-60 1h1m1 0h1m1 0h1m0 0h1m0 0h1m0 0h1m0 0h1m0 0h1m0 0h1m4 0h1m0 0h1m1 0h1m3 0h1m0 0h1m0 0h1m0 0h1m0 0h1m0 0h1m0 0h1m0 0h1m0 0h1m4 0h1m1 0h1m2 0h1m1 0h1m1 0h1m0 0h1m0 0h1m3 0h1m0 0h1m0 0h1m-59 1h1m1 0h1m1 0h1m1 0h1m0 0h1m1 0h1m0 0h1m0 0h1m0 0h1m0 0h1m0 0h1m0 0h1m1 0h1m0 0h1m0 0h1m0 0h1m0 0h1m1 0h1m0 0h1m2 0h1m2 0h1m0 0h1m1 0h1m0 0h1m0 0h1m2 0h1m10 0h1m0 0h1m2 0h1m3 0h1m-56 1h1m2 0h1m2 0h1m3 0h1m1 0h1m4 0h1m2 0h1m1 0h1m1 0h1m6 0h1m0 0h1m2 0h1m2 0h1m4 0h1m7 0h1m-51 1h1m7 0h1m0 0h1m8 0h1m2 0h1m4 0h1m7 0h1m1 0h1m3 0h1m6 0h1m8 0h1m-33 1h1m0 0h1m14 0h1m5 0h1m-4 2h1m-39 9h1m11 1h1m0 0h1m-10 2h1m9 1h1m-11 1h1m5 0h1m10 0h1m-29 1h1m17 0h1m10 0h1m-28 1h1m15 0h1m3 0h1m1 0h1m14 0h1m-26 1h1m0 0h1m7 0h1m33 0h1m-57 1h1m7 0h1m26 0h1m-34 1h1m1 0h1m4 0h1m0 0h1m10 0h1m-15 1h1m2 0h1m1 0h1m0 0h1m0 0h1m3 0h1m28 0h1m5 0h1m-49 1h1m9 0h1m3 0h1m5 0h1m2 0h1m1 0h1m7 0h1m2 0h1m-35 1h1m0 0h1m3 0h1m5 0h1m8 0h1m5 0h1m9 0h1m2 0h1m-44 1h1m0 0h1m1 0h1m5 0h1m1 0h1m0 0h1m2 0h1m3 0h1m7 0h1m8 0h1m8 0h1m-49 1h1m3 0h1m0 0h1m1 0h1m2 0h1m0 0h1m0 0h1m0 0h1m1 0h1m1 0h1m0 0h1m1 0h1m3 0h1m6 0h1m4 0h1m1 0h1m3 0h1m-36 1h1m0 0h1m2 0h1m3 0h1m2 0h1m1 0h1m2 0h1m0 0h1m8 0h1m3 0h1m0 0h1m4 0h1m0 0h1m1 0h1m-46 1h1m1 0h1m0 0h1m1 0h1m1 0h1m1 0h1m0 0h1m0 0h1m5 0h1m1 0h1m0 0h1m2 0h1m4 0h1m2 0h1m0 0h1m3 0h1m5 0h1m10 0h1m-55 1h1m1 0h1m0 0h1m0 0h1m1 0h1m0 0h1m1 0h1m1 0h1m3 0h1m3 0h1m1 0h1m0 0h1m3 0h1m1 0h1m0 0h1m2 0h1m0 0h1m0 0h1m3 0h1m4 0h1m5 0h1m-44 1h1m0 0h1m0 0h1m1 0h1m0 0h1m0 0h1m0 0h1m0 0h1m0 0h1m3 0h1m4 0h1m13 0h1m3 0h1m2 0h1m7 0h1m0 0h1m-57 1h1m3 0h1m0 0h1m0 0h1m1 0h1m1 0h1m0 0h1m0 0h1m2 0h1m0 0h1m2 0h1m0 0h1m1 0h1m2 0h1m0 0h1m0 0h1m1 0h1m1 0h1m2 0h1m12 0h1m1 0h1m0 0h1m3 0h1m-53 1h1m0 0h1m2 0h1m1 0h1m1 0h1m1 0h1m1 0h1m6 0h1m0 0h1m6 0h1m0 0h1m3 0h1m2 0h1m1 0h1m1 0h1m0 0h1m5 0h1m6 0h1m-56 1h1m2 0h1m0 0h1m1 0h1m0 0h1m2 0h1m0 0h1m1 0h1m2 0h1m0 0h1m1 0h1m0 0h1m1 0h1m1 0h1m3 0h1m0 0h1m1 0h1m6 0h1m0 0h1m0 0h1m0 0h1m-40 1h1m0 0h1m1 0h1m0 0h1m2 0h1m0 0h1m0 0h1m0 0h1m2 0h1m0 0h1m3 0h1m0 0h1m0 0h1m0 0h1m7 0h1m1 0h1m3 0h1m3 0h1m3 0h1m12 0h1m-52 1h1m0 0h1m0 0h1m3 0h1m0 0h1m0 0h1m0 0h1m1 0h1m1 0h1m0 0h1m0 0h1m0 0h1m0 0h1m0 0h1m0 0h1m5 0h1m4 0h1m2 0h1m1 0h1m0 0h1m-44 1h1m0 0h1m1 0h1m6 0h1m0 0h1m0 0h1m0 0h1m1 0h1m1 0h1m0 0h1m0 0h1m0 0h1m1 0h1m0 0h1m1 0h1m2 0h1m1 0h1m0 0h1m5 0h1m1 0h1m5 0h1m5 0h1m0 0h1m1 0h1m-53 1h1m0 0h1m1 0h1m0 0h1m0 0h1m0 0h1m2 0h1m0 0h1m1 0h1m0 0h1m0 0h1m2 0h1m4 0h1m2 0h1m2 0h1m1 0h1m0 0h1m0 0h1m0 0h1m3 0h1m4 0h1m0 0h1m2 0h1m6 0h1m-55 1h1m0 0h1m0 0h1m0 0h1m0 0h1m1 0h1m1 0h1m0 0h1m0 0h1m0 0h1m1 0h1m0 0h1m0 0h1m0 0h1m1 0h1m0 0h1m1 0h1m1 0h1m1 0h1m2 0h1m0 0h1m5 0h1m0 0h1m2 0h1m2 0h1m2 0h1m0 0h1m1 0h1m0 0h1m2 0h1m-52 1h1m0 0h1m0 0h1m0 0h1m1 0h1m0 0h1m0 0h1m4 0h1m0 0h1m1 0h1m0 0h1m0 0h1m0 0h1m0 0h1m4 0h1m1 0h1m1 0h1m0 0h1m2 0h1m0 0h1m2 0h1m0 0h1m3 0h1m4 0h1m0 0h1m2 0h1m2 0h1m3 0h1m-61 1h1m0 0h1m4 0h1m1 0h1m0 0h1m1 0h1m0 0h1m0 0h1m0 0h1m0 0h1m5 0h1m2 0h1m2 0h1m1 0h1m0 0h1m1 0h1m0 0h1m1 0h1m1 0h1m3 0h1m1 0h1m2 0h1m6 0h1m4 0h1m-58 1h1m3 0h1m0 0h1m0 0h1m0 0h1m0 0h1m1 0h1m1 0h1m2 0h1m0 0h1m1 0h1m0 0h1m0 0h1m0 0h1m0 0h1m1 0h1m0 0h1m0 0h1m1 0h1m0 0h1m2 0h1m0 0h1m0 0h1m0 0h1m0 0h1m0 0h1m1 0h1m0 0h1m3 0h1m0 0h1m1 0h1m2 0h1m-52 1h1m0 0h1m0 0h1m1 0h1m0 0h1m0 0h1m2 0h1m2 0h1m0 0h1m0 0h1m1 0h1m0 0h1m1 0h1m1 0h1m0 0h1m2 0h1m0 0h1m0 0h1m0 0h1m1 0h1m3 0h1m0 0h1m0 0h1m0 0h1m3 0h1m0 0h1m4 0h1m0 0h1m8 0h1m-57 1h1m0 0h1m1 0h1m1 0h1m1 0h1m0 0h1m1 0h1m0 0h1m0 0h1m0 0h1m1 0h1m0 0h1m0 0h1m0 0h1m1 0h1m0 0h1m0 0h1m1 0h1m2 0h1m5 0h1m0 0h1m3 0h1m1 0h1m1 0h1m1 0h1m3 0h1m4 0h1m-54 1h1m3 0h1m0 0h1m0 0h1m0 0h1m0 0h1m0 0h1m0 0h1m2 0h1m0 0h1m0 0h1m2 0h1m0 0h1m0 0h1m0 0h1m0 0h1m1 0h1m0 0h1m0 0h1m1 0h1m0 0h1m5 0h1m6 0h1m1 0h1m0 0h1m3 0h1m12 0h1m-63 1h1m1 0h1m2 0h1m0 0h1m0 0h1m0 0h1m1 0h1m2 0h1m0 0h1m0 0h1m0 0h1m0 0h1m0 0h1m0 0h1m0 0h1m0 0h1m0 0h1m0 0h1m0 0h1m4 0h1m0 0h1m0 0h1m0 0h1m1 0h1m0 0h1m5 0h1m5 0h1m-46 1h1m2 0h1m0 0h1m1 0h1m0 0h1m0 0h1m1 0h1m0 0h1m1 0h1m0 0h1m0 0h1m1 0h1m4 0h1m2 0h1m0 0h1m0 0h1m6 0h1m1 0h1m0 0h1m4 0h1m6 0h1m4 0h1m-57 1h1m2 0h1m1 0h1m1 0h1m0 0h1m3 0h1m0 0h1m1 0h1m0 0h1m1 0h1m3 0h1m0 0h1m1 0h1m1 0h1m0 0h1m2 0h1m6 0h1m4 0h1m0 0h1m0 0h1m3 0h1m2 0h1m1 0h1m0 0h1m-53 1h1m2 0h1m0 0h1m0 0h1m0 0h1m0 0h1m2 0h1m0 0h1m1 0h1m0 0h1m0 0h1m0 0h1m0 0h1m2 0h1m0 0h1m1 0h1m4 0h1m1 0h1m14 0h1m2 0h1m1 0h1m2 0h1m-55 1h1m0 0h1m2 0h1m0 0h1m1 0h1m1 0h1m0 0h1m1 0h1m0 0h1m3 0h1m0 0h1m3 0h1m2 0h1m0 0h1m0 0h1m2 0h1m4 0h1m1 0h1m1 0h1m7 0h1m3 0h1m12 0h1m-63 1h1m2 0h1m0 0h1m0 0h1m0 0h1m0 0h1m0 0h1m0 0h1m3 0h1m1 0h1m0 0h1m2 0h1m0 0h1m0 0h1m0 0h1m1 0h1m0 0h1m1 0h1m7 0h1m4 0h1m-43 1h1m4 0h1m0 0h1m0 0h1m2 0h1m3 0h1m0 0h1m0 0h1m0 0h1m1 0h1m2 0h1m3 0h1m2 0h1m5 0h1m13 0h1m0 0h1m-43 1h1m4 0h1m1 0h1m0 0h1m0 0h1m1 0h1m0 0h1m0 0h1m0 0h1m0 0h1m0 0h1m1 0h1m9 0h1m8 0h1m-47 1h1m4 0h1m0 0h1m2 0h1m1 0h1m4 0h1m2 0h1m0 0h1m0 0h1m0 0h1m0 0h1m2 0h1m0 0h1m5 0h1m4 0h1m0 0h1m-37 1h1m1 0h1m0 0h1m1 0h1m1 0h1m4 0h1m6 0h1m4 0h1m4 0h1m9 0h1m3 0h1m-48 1h1m1 0h1m1 0h1m3 0h1m2 0h1m0 0h1m1 0h1m1 0h1m1 0h1m2 0h1m0 0h1m3 0h1m5 0h1m2 0h1m7 0h1m3 0h1m0 0h1m1 0h1m5 0h1m-55 1h1m9 0h1m3 0h1m0 0h1m15 0h1m7 0h1m-42 1h1m1 0h1m1 0h1m16 0h1m1 0h1m-21 1h1m1 0h1m0 0h1m2 0h1m1 0h1m4 0h1m10 0h1m6 0h1m1 0h1m2 0h1m12 0h1m0 0h1m-50 1h1m16 0h1m11 0h1m-19 1h1m3 0h1m0 0h1m0 0h1m0 0h1m22 0h1" transform="translate(0 .5)" stroke="#000" stroke-width="1" opacity="0.42"/>
<path d="M168 509h1m0 1h1m6 0h1m-11 1h1m5 0h1m4 0h1m-20 1h1m18 0h1m13 0h1m1 0h1m7 0h1m-48 1h1m4 0h1m1 0h1m0 0h1m3 0h1m3 0h1m1 0h1m0 0h1m1 0h1m1 0h1m1 0h1m0 0h1m5 0h1m1 0h1m0 0h1m7 0h1m0 0h1m-42 1h1m0 0h1m0 0h1m2 0h1m0 0h1m0 0h1m1 0h1m1 0h1m4 0h1m0 0h1m3 0h1m0 0h1m0 0h1m1 0h1m0 0h1m2 0h1m0 0h1m5 0h1m0 0h1m2 0h1m1 0h1m1 0h1m0 0h1m5 0h1m0 0h1m-58 1h1m0 0h1m3 0h1m0 0h1m0 0h1m0 0h1m1 0h1m0 0h1m0 0h1m1 0h1m0 0h1m0 0h1m0 0h1m0 0h1m0 0h1m0 0h1m0 0h1m0 0h1m0 0h1m0 0h1m0 0h1m1 0h1m1 0h1m1 0h1m0 0h1m1 0h1m1 0h1m1 0h1m2 0h1m0 0h1m0 0h1m0 0h1m1 0h1m0 0h1m3 0h1m0 0h1m0 0h1m0 0h1m8 0h1m-67 1h1m3 0h1m3 0h1m0 0h1m0 0h1m0 0h1m1 0h1m0 0h1m1 0h1m2 0h1m2 0h1m0 0h1m0 0h1m0 0h1m1 0h1m0 0h1m0 0h1m0 0h1m0 0h1m0 0h1m0 0h1m0 0h1m0 0h1m1 0h1m1 0h1m3 0h1m0 0h1m0 0h1m0 0h1m0 0h1m1 0h1m3 0h1m0 0h1m0 0h1m0 0h1m1 0h1m0 0h1m0 0h1m-61 1h1m3 0h1m3 0h1m0 0h1m1 0h1m0 0h1m0 0h1m0 0h1m0 0h1m1 0h1m0 0h1m0 0h1m0 0h1m0 0h1m0 0h1m0 0h1m0 0h1m0 0h1m0 0h1m0 0h1m0 0h1m0 0h1m2 0h1m0 0h1m1 0h1m2 0h1m0 0h1m0 0h1m0 0h1m1 0h1m0 0h1m0 0h1m1 0h1m0 0h1m1 0h1m1 0h1m0 0h1m3 0h1m0 0h1m-59 1h1m0 0h1m0 0h1m1 0h1m2 0h1m1 0h1m0 0h1m2 0h1m1 0h1m0 0h1m0 0h1m1 0h1m0 0h1m0 0h1m0 0h1m1 0h1m0 0h1m0 0h1m0 0h1m1 0h1m0 0h1m0 0h1m1 0h1m1 0h1m0 0h1m0 0h1m1 0h1m0 0h1m2 0h1m0 0h1m2 0h1m1 0h1m0 0h1m1 0h1m1 0h1m1 0h1m0 0h1m2 0h1m2 0h1m-58 1h1m3 0h1m0 0h1m3 0h1m2 0h1m0 0h1m2 0h1m2 0h1m1 0h1m0 0h1m1 0h1m0 0h1m1 0h1m0 0h1m0 0h1m0 0h1m3 0h1m3 0h1m1 0h1m0 0h1m0 0h1m2 0h1m6 0h1m-59 1h1m1 0h1m3 0h1m0 0h1m0 0h1m1 0h1m2 0h1m4 0h1m0 0h1m1 0h1m1 0h1m3 0h1m0 0h1m0 0h1m1 0h1m0 0h1m0 0h1m3 0h1m0 0h1m-39 1h1m4 0h1m6 0h1m2 0h1m2 0h1m6 0h1m0 0h1m5 0h1m0 0h1m0 0h1m2 0h1m-28 1h1m4 0h1m24 0h1m6 0h1m0 0h1m-28 8h1m-19 2h1m6 3h1m3 3h1m-1 1h1m-1 1h1m-10 1h1m3 0h1m1 0h1m2 0h1m-4 1h1m2 0h1m8 0h1m14 0h1m8 0h1m-47 1h1m4 0h1m4 0h1m1 0h1m6 0h1m3 0h1m13 0h1m-40 1h1m6 0h1m2 0h1m7 0h1m4 0h1m0 0h1m0 0h1m7 0h1m-24 1h1m2 0h1m0 0h1m3 0h1m0 0h1m0 0h1m0 0h1m0 0h1m3 0h1m1 0h1m28 0h1m-57 1h1m2 0h1m4 0h1m4 0h1m1 0h1m1 0h1m5 0h1m-24 1h1m9 0h1m0 0h1m1 0h1m0 0h1m2 0h1m24 0h1m1 0h1m23 0h1m-66 1h1m2 0h1m8 0h1m1 0h1m5 0h1m3 0h1m0 0h1m7 0h1m0 0h1m12 0h1m16 0h1m-65 1h1m2 0h1m1 0h1m3 0h1m0 0h1m3 0h1m4 0h1m3 0h1m2 0h1m2 0h1m0 0h1m1 0h1m10 0h1m-45 1h1m3 0h1m0 0h1m0 0h1m0 0h1m1 0h1m1 0h1m0 0h1m0 0h1m2 0h1m1 0h1m6 0h1m0 0h1m3 0h1m0 0h1m0 0h1m0 0h1m5 0h1m1 0h1m13 0h1m4 0h1m-60 1h1m5 0h1m2 0h1m1 0h1m2 0h1m0 0h1m1 0h1m3 0h1m1 0h1m4 0h1m4 0h1m3 0h1m10 0h1m2 0h1m-55 1h1m2 0h1m2 0h1m0 0h1m2 0h1m3 0h1m0 0h1m0 0h1m2 0h1m0 0h1m0 0h1m0 0h1m2 0h1m2 0h1m1 0h1m4 0h1m4 0h1m5 0h1m3 0h1m0 0h1m-49 1h1m0 0h1m0 0h1m0 0h1m0 0h1m0 0h1m1 0h1m0 0h1m2 0h1m0 0h1m0 0h1m0 0h1m4 0h1m1 0h1m6 0h1m12 0h1m3 0h1m3 0h1m-54 1h1m6 0h1m1 0h1m2 0h1m0 0h1m1 0h1m0 0h1m0 0h1m2 0h1m0 0h1m0 0h1m3 0h1m1 0h1m0 0h1m5 0h1m0 0h1m3 0h1m1 0h1m0 0h1m4 0h1m0 0h1m-49 1h1m0 0h1m4 0h1m3 0h1m0 0h1m0 0h1m0 0h1m0 0h1m1 0h1m0 0h1m0 0h1m2 0h1m1 0h1m5 0h1m2 0h1m0 0h1m3 0h1m2 0h1m2 0h1m5 0h1m14 0h1m-65 1h1m1 0h1m3 0h1m2 0h1m1 0h1m1 0h1m1 0h1m0 0h1m0 0h1m0 0h1m2 0h1m0 0h1m0 0h1m3 0h1m0 0h1m6 0h1m7 0h1m0 0h1m2 0h1m-44 1h1m0 0h1m0 0h1m0 0h1m0 0h1m2 0h1m1 0h1m1 0h1m3 0h1m0 0h1m1 0h1m0 0h1m1 0h1m0 0h1m0 0h1m1 0h1m6 0h1m1 0h1m7 0h1m-45 1h1m1 0h1m2 0h1m1 0h1m1 0h1m1 0h1m0 0h1m0 0h1m0 0h1m1 0h1m1 0h1m0 0h1m2 0h1m3 0h1m1 0h1m2 0h1m0 0h1m2 0h1m0 0h1m3 0h1m1 0h1m1 0h1m2 0h1m-50 1h1m1 0h1m0 0h1m1 0h1m0 0h1m1 0h1m0 0h1m0 0h1m0 0h1m2 0h1m0 0h1m0 0h1m0 0h1m0 0h1m0 0h1m0 0h1m1 0h1m0 0h1m0 0h1m1 0h1m1 0h1m2 0h1m0 0h1m2 0h1m1 0h1m0 0h1m0 0h1m0 0h1m0 0h1m5 0h1m3 0h1m2 0h1m7 0h1m-64 1h1m0 0h1m0 0h1m7 0h1m2 0h1m1 0h1m1 0h1m1 0h1m0 0h1m2 0h1m1 0h1m0 0h1m1 0h1m1 0h1m1 0h1m2 0h1m1 0h1m0 0h1m8 0h1m3 0h1m1 0h1m1 0h1m-54 1h1m2 0h1m3 0h1m1 0h1m0 0h1m0 0h1m3 0h1m0 0h1m0 0h1m2 0h1m0 0h1m0 0h1m0 0h1m0 0h1m1 0h1m0 0h1m0 0h1m2 0h1m2 0h1m0 0h1m2 0h1m3 0h1m6 0h1m2 0h1m2 0h1m0 0h1m-58 1h1m4 0h1m2 0h1m1 0h1m0 0h1m0 0h1m0 0h1m0 0h1m0 0h1m0 0h1m0 0h1m0 0h1m0 0h1m0 0h1m0 0h1m0 0h1m0 0h1m0 0h1m0 0h1m1 0h1m2 0h1m2 0h1m0 0h1m3 0h1m1 0h1m2 0h1m1 0h1m3 0h1m0 0h1m17 0h1m-66 1h1m2 0h1m0 0h1m1 0h1m1 0h1m0 0h1m0 0h1m0 0h1m0 0h1m1 0h1m0 0h1m0 0h1m0 0h1m2 0h1m0 0h1m2 0h1m0 0h1m1 0h1m1 0h1m1 0h1m2 0h1m2 0h1m8 0h1m13 0h1m-64 1h1m0 0h1m0 0h1m0 0h1m1 0h1m2 0h1m1 0h1m1 0h1m0 0h1m1 0h1m0 0h1m0 0h1m0 0h1m0 0h1m0 0h1m0 0h1m0 0h1m0 0h1m0 0h1m0 0h1m1 0h1m0 0h1m0 0h1m1 0h1m1 0h1m0 0h1m4 0h1m0 0h1m5 0h1m1 0h1m4 0h1m1 0h1m0 0h1m-58 1h1m0 0h1m0 0h1m0 0h1m0 0h1m1 0h1m0 0h1m0 0h1m0 0h1m0 0h1m0 0h1m0 0h1m1 0h1m0 0h1m1 0h1m2 0h1m0 0h1m0 0h1m0 0h1m0 0h1m0 0h1m0 0h1m1 0h1m7 0h1m4 0h1m2 0h1m5 0h1m-43 1h1m0 0h1m0 0h1m0 0h1m1 0h1m1 0h1m0 0h1m0 0h1m0 0h1m1 0h1m0 0h1m1 0h1m0 0h1m0 0h1m0 0h1m0 0h1m0 0h1m0 0h1m0 0h1m1 0h1m2 0h1m2 0h1m6 0h1m5 0h1m8 0h1m-58 1h1m0 0h1m3 0h1m1 0h1m0 0h1m2 0h1m0 0h1m1 0h1m0 0h1m1 0h1m0 0h1m1 0h1m0 0h1m0 0h1m2 0h1m0 0h1m2 0h1m2 0h1m3 0h1m0 0h1m3 0h1m0 0h1m3 0h1m6 0h1m2 0h1m1 0h1m-61 1h1m1 0h1m3 0h1m1 0h1m0 0h1m0 0h1m0 0h1m1 0h1m0 0h1m3 0h1m2 0h1m0 0h1m1 0h1m0 0h1m0 0h1m1 0h1m2 0h1m0 0h1m0 0h1m8 0h1m7 0h1m-51 1h1m6 0h1m0 0h1m2 0h1m0 0h1m1 0h1m0 0h1m0 0h1m0 0h1m1 0h1m2 0h1m0 0h1m0 0h1m5 0h1m1 0h1m1 0h1m4 0h1m0 0h1m4 0h1m7 0h1m2 0h1m1 0h1m-58 1h1m0 0h1m6 0h1m0 0h1m0 0h1m1 0h1m3 0h1m0 0h1m1 0h1m1 0h1m1 0h1m0 0h1m1 0h1m1 0h1m0 0h1m12 0h1m0 0h1m0 0h1m4 0h1m0 0h1m-46 1h1m0 0h1m0 0h1m0 0h1m1 0h1m1 0h1m0 0h1m0 0h1m0 0h1m0 0h1m0 0h1m2 0h1m1 0h1m0 0h1m7 0h1m1 0h1m0 0h1m12 0h1m-48 1h1m0 0h1m2 0h1m1 0h1m6 0h1m0 0h1m1 0h1m1 0h1m1 0h1m2 0h1m1 0h1m2 0h1m3 0h1m2 0h1m0 0h1m4 0h1m1 0h1m0 0h1m2 0h1m4 0h1m-54 1h1m1 0h1m0 0h1m0 0h1m3 0h1m0 0h1m0 0h1m2 0h1m1 0h1m2 0h1m0 0h1m0 0h1m0 0h1m3 0h1m0 0h1m1 0h1m1 0h1m0 0h1m1 0h1m18 0h1m0 0h1m-47 1h1m2 0h1m2 0h1m3 0h1m0 0h1m0 0h1m0 0h1m0 0h1m4 0h1m2 0h1m1 0h1m0 0h1m0 0h1m2 0h1m2 0h1m1 0h1m5 0h1m-45 1h1m1 0h1m1 0h1m3 0h1m0 0h1m0 0h1m1 0h1m0 0h1m0 0h1m0 0h1m0 0h1m4 0h1m0 0h1m2 0h1m4 0h1m0 0h1m0 0h1m6 0h1m0 0h1m1 0h1m2 0h1m5 0h1m-53 1h1m0 0h1m7 0h1m0 0h1m2 0h1m0 0h1m1 0h1m1 0h1m0 0h1m10 0h1m0 0h1m3 0h1m0 0h1m0 0h1m-29 1h1m0 0h1m0 0h1m2 0h1m0 0h1m0 0h1m0 0h1m1 0h1m1 0h1m1 0h1m2 0h1m2 0h1m0 0h1m1 0h1m2 0h1m0 0h1m-35 1h1m11 0h1m0 0h1m8 0h1m2 0h1m7 0h1m0 0h1m2 0h1m5 0h1m5 0h1m-54 1h1m4 0h1m8 0h1m1 0h1m12 0h1m2 0h1m1 0h1m2 0h1m0 0h1m1 0h1m3 0h1m-32 1h1m3 0h1m1 0h1m0 0h1m0 0h1m14 0h1m1 0h1m4 0h1m-34 1h1m7 0h1m0 0h1m1 0h1m5 0h1m12 0h1m11 0h1m-34 1h1" transform="translate(0 .5)" stroke="#000" stroke-width="1" opacity="0.42"/>
<path d="M174 511h1m-10 1h1m0 0h1m1 0h1m4 0h1m4 0h1m10 0h1m4 0h1m10 0h1m-54 1h1m2 0h1m4 0h1m4 0h1m0 0h1m2 0h1m0 0h1m9 0h1m1 0h1m9 0h1m1 0h1m0 0h1m4 0h1m0 0h1m4 0h1m7 0h1m-62 1h1m2 0h1m0 0h1m2 0h1m1 0h1m0 0h1m0 0h1m0 0h1m0 0h1m0 0h1m0 0h1m0 0h1m0 0h1m1 0h1m0 0h1m0 0h1m2 0h1m2 0h1m0 0h1m0 0h1m8 0h1m1 0h1m0 0h1m3 0h1m2 0h1m1 0h1m3 0h1m-56 1h1m0 0h1m1 0h1m1 0h1m0 0h1m0 0h1m0 0h1m3 0h1m2 0h1m1 0h1m0 0h1m0 0h1m0 0h1m0 0h1m0 0h1m0 0h1m0 0h1m0 0h1m0 0h1m1 0h1m2 0h1m1 0h1m1 0h1m2 0h1m1 0h1m0 0h1m3 0h1m0 0h1m1 0h1m0 0h1m2 0h1m0 0h1m8 0h1m-64 1h1m0 0h1m0 0h1m0 0h1m1 0h1m1 0h1m0 0h1m2 0h1m0 0h1m0 0h1m0 0h1m0 0h1m0 0h1m0 0h1m0 0h1m0 0h1m1 0h1m1 0h1m0 0h1m0 0h1m2 0h1m0 0h1m0 0h1m1 0h1m1 0h1m1 0h1m0 0h1m2 0h1m1 0h1m2 0h1m1 0h1m0 0h1m0 0h1m1 0h1m2 0h1m0 0h1m-55 1h1m1 0h1m1 0h1m0 0h1m0 0h1m0 0h1m0 0h1m0 0h1m0 0h1m0 0h1m0 0h1m0 0h1m0 0h1m0 0h1m0 0h1m1 0h1m0 0h1m1 0h1m1 0h1m1 0h1m0 0h1m0 0h1m0 0h1m0 0h1m3 0h1m2 0h1m2 0h1m0 0h1m4 0h1m0 0h1m1 0h1m0 0h1m0 0h1m1 0h1m0 0h1m0 0h1m4 0h1m-60 1h1m0 0h1m0 0h1m0 0h1m2 0h1m0 0h1m0 0h1m1 0h1m0 0h1m0 0h1m0 0h1m0 0h1m0 0h1m0 0h1m0 0h1m0 0h1m0 0h1m0 0h1m0 0h1m0 0h1m0 0h1m3 0h1m1 0h1m0 0h1m0 0h1m0 0h1m1 0h1m2 0h1m0 0h1m1 0h1m0 0h1m0 0h1m0 0h1m2 0h1m2 0h1m0 0h1m1 0h1m0 0h1m0 0h1m10 0h1m-68 1h1m0 0h1m1 0h1m0 0h1m3 0h1m1 0h1m0 0h1m2 0h1m1 0h1m1 0h1m3 0h1m0 0h1m0 0h1m0 0h1m0 0h1m1 0h1m0 0h1m0 0h1m1 0h1m2 0h1m1 0h1m5 0h1m4 0h1m0 0h1m2 0h1m1 0h1m3 0h1m-57 1h1m6 0h1m9 0h1m0 0h1m2 0h1m1 0h1m3 0h1m0 0h1m2 0h1m2 0h1m4 0h1m1 0h1m1 0h1m2 0h1m-41 1h1m0 0h1m0 0h1m2 0h1m0 0h1m1 0h1m0 0h1m1 0h1m10 0h1m10 0h1m9 0h1m-41 1h1m12 0h1m-25 1h1m25 0h1m19 5h1m-29 8h1m14 0h1m-24 1h1m11 0h1m-18 2h1m7 0h1m-12 1h1m3 1h1m3 0h1m2 0h1m-14 1h1m4 0h1m3 0h1m7 0h1m36 0h1m-55 1h1m3 0h1m1 0h1m17 0h1m-20 1h1m2 0h1m15 0h1m2 0h1m-28 1h1m1 0h1m6 0h1m7 0h1m3 0h1m1 0h1m-25 1h1m6 0h1m8 0h1m1 0h1m1 0h1m0 0h1m1 0h1m28 0h1m-51 1h1m2 0h1m1 0h1m1 0h1m1 0h1m4 0h1m0 0h1m0 0h1m8 0h1m12 0h1m0 0h1m0 0h1m2 0h1m11 0h1m-56 1h1m1 0h1m6 0h1m3 0h1m3 0h1m3 0h1m4 0h1m6 0h1m0 0h1m4 0h1m1 0h1m-43 1h1m10 0h1m0 0h1m0 0h1m1 0h1m2 0h1m1 0h1m17 0h1m7 0h1m-49 1h1m4 0h1m1 0h1m1 0h1m1 0h1m0 0h1m3 0h1m0 0h1m0 0h1m0 0h1m0 0h1m6 0h1m4 0h1m5 0h1m5 0h1m1 0h1m-46 1h1m2 0h1m5 0h1m2 0h1m0 0h1m0 0h1m1 0h1m2 0h1m0 0h1m3 0h1m0 0h1m1 0h1m0 0h1m3 0h1m9 0h1m5 0h1m11 0h1m-59 1h1m2 0h1m2 0h1m2 0h1m3 0h1m1 0h1m0 0h1m1 0h1m0 0h1m0 0h1m1 0h1m1 0h1m1 0h1m17 0h1m0 0h1m3 0h1m-51 1h1m2 0h1m1 0h1m3 0h1m1 0h1m0 0h1m1 0h1m0 0h1m0 0h1m1 0h1m0 0h1m0 0h1m1 0h1m0 0h1m0 0h1m1 0h1m0 0h1m1 0h1m1 0h1m2 0h1m7 0h1m1 0h1m0 0h1m3 0h1m-51 1h1m2 0h1m2 0h1m1 0h1m4 0h1m0 0h1m0 0h1m2 0h1m3 0h1m0 0h1m0 0h1m1 0h1m0 0h1m3 0h1m10 0h1m7 0h1m1 0h1m-51 1h1m0 0h1m0 0h1m1 0h1m3 0h1m1 0h1m0 0h1m0 0h1m2 0h1m0 0h1m0 0h1m1 0h1m0 0h1m0 0h1m0 0h1m0 0h1m1 0h1m0 0h1m0 0h1m1 0h1m0 0h1m0 0h1m6 0h1m6 0h1m19 0h1m-66 1h1m4 0h1m0 0h1m0 0h1m2 0h1m2 0h1m0 0h1m0 0h1m0 0h1m0 0h1m0 0h1m2 0h1m2 0h1m1 0h1m4 0h1m2 0h1m8 0h1m5 0h1m-49 1h1m0 0h1m2 0h1m0 0h1m1 0h1m0 0h1m0 0h1m2 0h1m1 0h1m0 0h1m1 0h1m0 0h1m0 0h1m0 0h1m0 0h1m0 0h1m1 0h1m0 0h1m0 0h1m0 0h1m1 0h1m4 0h1m0 0h1m8 0h1m0 0h1m0 0h1m-50 1h1m0 0h1m0 0h1m3 0h1m2 0h1m0 0h1m0 0h1m2 0h1m0 0h1m0 0h1m2 0h1m2 0h1m0 0h1m0 0h1m0 0h1m0 0h1m2 0h1m3 0h1m11 0h1m1 0h1m0 0h1m0 0h1m-50 1h1m1 0h1m1 0h1m0 0h1m0 0h1m0 0h1m1 0h1m3 0h1m0 0h1m0 0h1m0 0h1m1 0h1m0 0h1m0 0h1m0 0h1m1 0h1m1 0h1m1 0h1m1 0h1m7 0h1m3 0h1m2 0h1m7 0h1m12 0h1m-66 1h1m3 0h1m0 0h1m0 0h1m1 0h1m0 0h1m2 0h1m0 0h1m1 0h1m0 0h1m0 0h1m1 0h1m0 0h1m0 0h1m2 0h1m0 0h1m2 0h1m0 0h1m1 0h1m1 0h1m0 0h1m2 0h1m0 0h1m0 0h1m0 0h1m1 0h1m1 0h1m1 0h1m0 0h1m0 0h1m3 0h1m8 0h1m-59 1h1m1 0h1m0 0h1m2 0h1m0 0h1m0 0h1m0 0h1m1 0h1m1 0h1m0 0h1m0 0h1m0 0h1m2 0h1m0 0h1m1 0h1m1 0h1m1 0h1m1 0h1m3 0h1m4 0h1m4 0h1m0 0h1m10 0h1m5 0h1m-64 1h1m0 0h1m3 0h1m1 0h1m0 0h1m1 0h1m0 0h1m3 0h1m1 0h1m0 0h1m0 0h1m1 0h1m0 0h1m0 0h1m0 0h1m2 0h1m1 0h1m0 0h1m8 0h1m3 0h1m0 0h1m0 0h1m4 0h1m1 0h1m10 0h1m-61 1h1m1 0h1m0 0h1m1 0h1m0 0h1m0 0h1m0 0h1m0 0h1m2 0h1m0 0h1m1 0h1m0 0h1m3 0h1m1 0h1m0 0h1m0 0h1m0 0h1m2 0h1m0 0h1m0 0h1m0 0h1m0 0h1m1 0h1m5 0h1m1 0h1m1 0h1m6 0h1m-56 1h1m1 0h1m1 0h1m0 0h1m1 0h1m2 0h1m1 0h1m0 0h1m0 0h1m0 0h1m0 0h1m1 0h1m0 0h1m1 0h1m0 0h1m0 0h1m0 0h1m0 0h1m1 0h1m2 0h1m0 0h1m0 0h1m0 0h1m2 0h1m4 0h1m0 0h1m0 0h1m5 0h1m7 0h1m-57 1h1m0 0h1m0 0h1m0 0h1m0 0h1m0 0h1m0 0h1m0 0h1m1 0h1m1 0h1m0 0h1m0 0h1m1 0h1m0 0h1m0 0h1m0 0h1m0 0h1m0 0h1m0 0h1m0 0h1m0 0h1m1 0h1m0 0h1m0 0h1m0 0h1m0 0h1m2 0h1m0 0h1m0 0h1m1 0h1m4 0h1m4 0h1m0 0h1m0 0h1m4 0h1m-54 1h1m0 0h1m2 0h1m0 0h1m0 0h1m0 0h1m1 0h1m0 0h1m0 0h1m2 0h1m0 0h1m2 0h1m0 0h1m0 0h1m0 0h1m0 0h1m0 0h1m0 0h1m3 0h1m0 0h1m5 0h1m2 0h1m2 0h1m0 0h1m2 0h1m4 0h1m1 0h1m2 0h1m-54 1h1m0 0h1m0 0h1m3 0h1m0 0h1m1 0h1m0 0h1m0 0h1m0 0h1m1 0h1m0 0h1m0 0h1m1 0h1m0 0h1m0 0h1m3 0h1m3 0h1m0 0h1m1 0h1m0 0h1m0 0h1m2 0h1m3 0h1m1 0h1m1 0h1m1 0h1m0 0h1m6 0h1m-57 1h1m3 0h1m1 0h1m1 0h1m0 0h1m1 0h1m0 0h1m0 0h1m1 0h1m3 0h1m4 0h1m0 0h1m0 0h1m1 0h1m6 0h1m1 0h1m3 0h1m0 0h1m0 0h1m6 0h1m0 0h1m17 0h1m-67 1h1m2 0h1m1 0h1m0 0h1m0 0h1m0 0h1m1 0h1m1 0h1m0 0h1m0 0h1m1 0h1m0 0h1m3 0h1m0 0h1m3 0h1m1 0h1m0 0h1m2 0h1m6 0h1m1 0h1m1 0h1m25 0h1m-74 1h1m3 0h1m1 0h1m4 0h1m1 0h1m1 0h1m0 0h1m0 0h1m0 0h1m1 0h1m0 0h1m0 0h1m0 0h1m0 0h1m0 0h1m1 0h1m2 0h1m2 0h1m1 0h1m5 0h1m8 0h1m0 0h1m2 0h1m-54 1h1m3 0h1m0 0h1m3 0h1m1 0h1m0 0h1m1 0h1m0 0h1m7 0h1m0 0h1m0 0h1m3 0h1m4 0h1m0 0h1m0 0h1m0 0h1m5 0h1m6 0h1m1 0h1m-53 1h1m3 0h1m2 0h1m0 0h1m0 0h1m1 0h1m1 0h1m0 0h1m0 0h1m1 0h1m0 0h1m1 0h1m1 0h1m2 0h1m0 0h1m1 0h1m2 0h1m1 0h1m2 0h1m4 0h1m6 0h1m1 0h1m-44 1h1m0 0h1m1 0h1m0 0h1m2 0h1m0 0h1m1 0h1m4 0h1m1 0h1m1 0h1m3 0h1m2 0h1m0 0h1m0 0h1m0 0h1m4 0h1m-42 1h1m4 0h1m5 0h1m2 0h1m0 0h1m1 0h1m3 0h1m0 0h1m8 0h1m0 0h1m0 0h1m7 0h1m4 0h1m0 0h1m-47 1h1m5 0h1m0 0h1m2 0h1m4 0h1m1 0h1m0 0h1m0 0h1m9 0h1m1 0h1m4 0h1m7 0h1m5 0h1m-51 1h1m2 0h1m2 0h1m0 0h1m3 0h1m0 0h1m8 0h1m0 0h1m3 0h1m7 0h1m1 0h1m1 0h1m3 0h1m3 0h1m1 0h1m5 0h1m7 0h1m-64 1h1m0 0h1m10 0h1m2 0h1m4 0h1m1 0h1m0 0h1m1 0h1m2 0h1m1 0h1m-27 1h1m2 0h1m1 0h1m0 0h1m0 0h1m3 0h1m0 0h1m0 0h1m4 0h1m0 0h1m0 0h1m2 0h1m0 0h1m6 0h1m6 0h1m0 0h1m16 0h1m-59 1h1m0 0h1m1 0h1m2 0h1m1 0h1m3 0h1m5 0h1m1 0h1m0 0h1m12 0h1m6 0h1m-32 1h1m0 0h1m1 0h1m4 0h1m27 0h1m-18 1h1m5 0h1m7 0h1m4 0h1m-49 1h1m17 0h1" transform="translate(0 .5)" stroke="#000" stroke-width="1" opacity="0.42"/>
<path d="M157 514h1m-4 2h1m10 2h1m7 0h1m-10 3h1m-1 1h1m-10 1h1m11 0h1m4 0h1m-20 1h1m4 0h1m14 1h1m0 1h1m-24 1h1m7 0h1m7 0h1m1 0h1m0 0h1m1 0h1m9 0h1m-25 1h1m1 0h1m14 0h1m-17 1h1m4 0h1m2 0h1m9 0h1m-24 1h1m1 0h1m1 0h1m3 0h1m4 0h1m-14 1h1m2 0h1m1 0h1m0 0h1m6 0h1m7 0h1m0 0h1m-25 1h1m3 0h1m5 0h1m2 0h1m2 0h1m0 0h1m1 0h1m2 0h1m5 0h1m38 0h1m-71 1h1m2 0h1m0 0h1m6 0h1m12 0h1m0 0h1m5 0h1m3 0h1m-31 1h1m2 0h1m0 0h1m2 0h1m0 0h1m2 0h1m0 0h1m0 0h1m1 0h1m2 0h1m-17 1h1m0 0h1m9 0h1m0 0h1m4 0h1m18 0h1m-44 1h1m3 0h1m6 0h1m1 0h1m5 0h1m0 0h1m26 0h1m-43 1h1m6 0h1m4 0h1m0 0h1m1 0h1m6 0h1m0 0h1m5 0h1m44 0h1m9 0h1m-79 1h1m0 0h1m11 0h1m5 0h1m25 0h1m-40 1h1m0 0h1m15 0h1m-31 1h1m4 0h1m2 0h1m1 0h1m0 0h1m5 0h1m10 0h1m28 0h1m2 0h1m-50 1h1m3 0h1m6 0h1m5 0h1m46 0h1m-78 1h1m12 0h1m0 0h1m0 0h1m1 0h1m0 0h1m11 0h1m14 0h1m-45 1h1m14 0h1m8 0h1m0 0h1m4 0h1m23 0h1m1 0h1m-44 1h1m1 0h1m1 0h1m5 0h1m5 0h1m10 0h1m23 0h1m14 0h1m-68 1h1m2 0h1m42 0h1m0 0h1m25 0h1m-76 1h1m0 0h1m3 0h1m3 0h1m0 0h1m38 0h1m19 0h1m-71 1h1m16 0h1m3 0h1m2 0h1m1 0h1m6 0h1m12 0h1m7 0h1m7 0h1m-63 1h1m6 0h1m7 0h1m18 0h1m0 0h1m1 0h1m3 0h1m-24 1h1m9 0h1m17 0h1m7 0h1m2 0h1m3 0h1m-52 1h1m0 0h1m20 0h1m3 0h1m0 0h1m2 0h1m3 0h1m3 0h1m14 0h1m15 0h1m-82 1h1m19 0h1m3 0h1m8 0h1m5 0h1m1 0h1m0 0h1m17 0h1m0 0h1m-25 1h1m5 0h1m2 0h1m3 0h1m12 0h1m3 0h1m10 0h1m-62 1h1m5 0h1m6 0h1m5 0h1m3 0h1m1 0h1m1 0h1m0 0h1m5 0h1m10 0h1m0 0h1m2 0h1m-54 1h1m8 0h1m1 0h1m7 0h1m2 0h1m2 0h1m1 0h1m1 0h1m0 0h1m9 0h1m0 0h1m1 0h1m1 0h1m1 0h1m16 0h1m-60 1h1m15 0h1m4 0h1m0 0h1m1 0h1m2 0h1m0 0h1m0 0h1m1 0h1m8 0h1m2 0h1m1 0h1m2 0h1m2 0h1m3 0h1m1 0h1m-63 1h1m3 0h1m12 0h1m0 0h1m2 0h1m1 0h1m3 0h1m0 0h1m5 0h1m0 0h1m0 0h1m0 0h1m0 0h1m0 0h1m0 0h1m3 0h1m2 0h1m-52 1h1m0 0h1m10 0h1m3 0h1m2 0h1m1 0h1m6 0h1m3 0h1m2 0h1m0 0h1m1 0h1m0 0h1m0 0h1m1 0h1m3 0h1m2 0h1m0 0h1m0 0h1m0 0h1m12 0h1m-57 1h1m7 0h1m0 0h1m1 0h1m5 0h1m1 0h1m3 0h1m2 0h1m2 0h1m0 0h1m3 0h1m0 0h1m1 0h1m0 0h1m1 0h1m0 0h1m1 0h1m1 0h1m1 0h1m0 0h1m6 0h1m-61 1h1m0 0h1m0 0h1m1 0h1m2 0h1m2 0h1m5 0h1m0 0h1m0 0h1m1 0h1m1 0h1m1 0h1m1 0h1m0 0h1m3 0h1m7 0h1m0 0h1m4 0h1m0 0h1m0 0h1m0 0h1m7 0h1m0 0h1m-62 1h1m4 0h1m6 0h1m3 0h1m0 0h1m4 0h1m1 0h1m1 0h1m3 0h1m0 0h1m9 0h1m2 0h1m0 0h1m2 0h1m4 0h1m1 0h1m1 0h1m16 0h1m0 0h1m-67 1h1m4 0h1m8 0h1m1 0h1m0 0h1m2 0h1m0 0h1m0 0h1m0 0h1m0 0h1m5 0h1m1 0h1m1 0h1m3 0h1m4 0h1m1 0h1m2 0h1m2 0h1m7 0h1m1 0h1m-61 1h1m2 0h1m1 0h1m0 0h1m1 0h1m0 0h1m3 0h1m0 0h1m0 0h1m2 0h1m1 0h1m0 0h1m1 0h1m0 0h1m0 0h1m4 0h1m0 0h1m0 0h1m0 0h1m0 0h1m2 0h1m1 0h1m6 0h1m2 0h1m0 0h1m0 0h1m0 0h1m-56 1h1m7 0h1m1 0h1m1 0h1m4 0h1m3 0h1m1 0h1m0 0h1m0 0h1m0 0h1m1 0h1m2 0h1m0 0h1m0 0h1m0 0h1m1 0h1m0 0h1m1 0h1m1 0h1m0 0h1m0 0h1m1 0h1m0 0h1m3 0h1m2 0h1m3 0h1m1 0h1m4 0h1m-89 1h1m10 0h1m13 0h1m4 0h1m1 0h1m1 0h1m5 0h1m1 0h1m1 0h1m0 0h1m3 0h1m0 0h1m6 0h1m1 0h1m0 0h1m0 0h1m0 0h1m3 0h1m0 0h1m0 0h1m3 0h1m5 0h1m0 0h1m-52 1h1m2 0h1m6 0h1m3 0h1m2 0h1m9 0h1m3 0h1m0 0h1m0 0h1m3 0h1m1 0h1m0 0h1m0 0h1m1 0h1m2 0h1m3 0h1m4 0h1m-62 1h1m9 0h1m0 0h1m2 0h1m1 0h1m0 0h1m1 0h1m2 0h1m4 0h1m0 0h1m2 0h1m0 0h1m0 0h1m0 0h1m2 0h1m2 0h1m0 0h1m0 0h1m5 0h1m1 0h1m2 0h1m3 0h1m7 0h1m4 0h1m-69 1h1m7 0h1m2 0h1m0 0h1m0 0h1m2 0h1m0 0h1m1 0h1m2 0h1m0 0h1m3 0h1m1 0h1m1 0h1m0 0h1m1 0h1m1 0h1m1 0h1m1 0h1m0 0h1m1 0h1m0 0h1m4 0h1m2 0h1m0 0h1m1 0h1m6 0h1m-59 1h1m0 0h1m1 0h1m1 0h1m0 0h1m3 0h1m4 0h1m0 0h1m1 0h1m0 0h1m2 0h1m0 0h1m1 0h1m1 0h1m0 0h1m0 0h1m1 0h1m6 0h1m1 0h1m0 0h1m6 0h1m0 0h1m0 0h1m1 0h1m-56 1h1m6 0h1m2 0h1m0 0h1m0 0h1m0 0h1m3 0h1m3 0h1m0 0h1m0 0h1m0 0h1m1 0h1m0 0h1m1 0h1m1 0h1m3 0h1m1 0h1m0 0h1m2 0h1m0 0h1m7 0h1m0 0h1m4 0h1m2 0h1m1 0h1m0 0h1m-56 1h1m1 0h1m0 0h1m4 0h1m4 0h1m1 0h1m2 0h1m1 0h1m0 0h1m0 0h1m0 0h1m1 0h1m4 0h1m1 0h1m0 0h1m1 0h1m0 0h1m0 0h1m0 0h1m2 0h1m4 0h1m-67 1h1m15 0h1m0 0h1m9 0h1m0 0h1m9 0h1m0 0h1m2 0h1m1 0h1m0 0h1m1 0h1m0 0h1m0 0h1m3 0h1m1 0h1m-49 1h1m13 0h1m5 0h1m3 0h1m4 0h1m1 0h1m1 0h1m0 0h1m0 0h1m5 0h1m0 0h1m5 0h1m1 0h1m0 0h1m0 0h1m0 0h1m2 0h1m2 0h1m-51 1h1m0 0h1m3 0h1m4 0h1m0 0h1m3 0h1m0 0h1m5 0h1m1 0h1m3 0h1m5 0h1m0 0h1m0 0h1m1 0h1m5 0h1m3 0h1m3 0h1m2 0h1m-70 1h1m12 0h1m8 0h1m2 0h1m4 0h1m1 0h1m1 0h1m1 0h1m2 0h1m4 0h1m0 0h1m1 0h1m0 0h1m1 0h1m12 0h1m8 0h1m-80 1h1m25 0h1m0 0h1m3 0h1m4 0h1m8 0h1m3 0h1m1 0h1m5 0h1m0 0h1m0 0h1m1 0h1m4 0h1m5 0h1m6 0h1m-65 1h1m21 0h1m5 0h1m0 0h1m1 0h1m1 0h1m0 0h1m3 0h1m4 0h1m2 0h1m3 0h1m3 0h1m0 0h1m8 0h1m2 0h1m-51 1h1m1 0h1m6 0h1m2 0h1m5 0h1m2 0h1m17 0h1m-54 1h1m5 0h1m1 0h1m8 0h1m7 0h1m0 0h1m0 0h1m7 0h1m0 0h1m0 0h1m-32 1h1m10 0h1m1 0h1m6 0h1m0 0h1m0 0h1m3 0h1m0 0h1m3 0h1m3 0h1m0 0h1m13 0h1m-52 1h1m14 0h1m1 0h1m15 0h1m7 0h1m-33 1h1m3 0h1m10 0h1m14 0h1m-26 1h1m5 0h1m7 0h1m0 0h1m1 0h1m29 0h1" transform="translate(0 .5)" stroke="#000" stroke-width="1" opacity="0.22"/>
</g>
<rect x="148.8" y="507" width="96.19999999999999" height="75.5" fill="none" stroke="#999" stroke-width="0.8"/>
<line x1="179.5" y1="507.0" x2="179.5" y2="582.5" stroke="#aaa" stroke-width="0.8"/>
<line x1="148.8" y1="547.5" x2="245.0" y2="547.5" stroke="#aaa" stroke-width="0.8"/>
<rect x="149.4" y="507.5" width="20.2" height="7.8" fill="#fff"/>
<text transform="translate(150.6 514.1) scale(1.25 1)" font-size="7.3" class="q">48.1</text>
<text transform="translate(244.1 514.1) scale(1.25 1)" font-size="7.3" class="q" text-anchor="end">13.0</text>
<rect x="149.4" y="574.3" width="20.2" height="7.8" fill="#fff"/>
<text transform="translate(150.6 580.9) scale(1.25 1)" font-size="7.3" class="q">29.5</text>
<text transform="translate(244.1 580.9) scale(1.25 1)" font-size="7.3" class="q" text-anchor="end">9.4</text>
<line x1="147.3" y1="512.5" x2="148.8" y2="512.5" stroke="#777" stroke-width="0.6"/>
<line x1="147.3" y1="530.5" x2="148.8" y2="530.5" stroke="#777" stroke-width="0.6"/>
<line x1="147.3" y1="548.0" x2="148.8" y2="548.0" stroke="#777" stroke-width="0.6"/>
<line x1="147.3" y1="565.5" x2="148.8" y2="565.5" stroke="#777" stroke-width="0.6"/>
<line x1="147.3" y1="573.7" x2="148.8" y2="573.7" stroke="#777" stroke-width="0.6"/>
<line x1="158.8" y1="582.5" x2="158.8" y2="584.0" stroke="#777" stroke-width="0.6"/>
<line x1="168.9" y1="582.5" x2="168.9" y2="584.0" stroke="#777" stroke-width="0.6"/>
<line x1="191.5" y1="582.5" x2="191.5" y2="584.0" stroke="#777" stroke-width="0.6"/>
<line x1="215.4" y1="582.5" x2="215.4" y2="584.0" stroke="#777" stroke-width="0.6"/>
<line x1="236.6" y1="582.5" x2="236.6" y2="584.0" stroke="#777" stroke-width="0.6"/>
<text x="158.8" y="590.5" font-size="4.2" text-anchor="middle" fill="#333">0</text>
<text x="168.9" y="590.5" font-size="4.2" text-anchor="middle" fill="#333">10²</text>
<text x="191.5" y="590.5" font-size="4.2" text-anchor="middle" fill="#333">10³</text>
<text x="215.4" y="590.5" font-size="4.2" text-anchor="middle" fill="#333">10⁴</text>
<text x="236.6" y="590.5" font-size="4.2" text-anchor="middle" fill="#333">10⁵</text>
<text x="146.5" y="513.9" font-size="4.2" text-anchor="end" fill="#333">10⁵</text>
<text x="146.5" y="531.9" font-size="4.2" text-anchor="end" fill="#333">10⁴</text>
<text x="146.5" y="549.4" font-size="4.2" text-anchor="end" fill="#333">10³</text>
<text x="146.5" y="566.9" font-size="4.2" text-anchor="end" fill="#333">10²</text>
<text x="146.5" y="575.1" font-size="4.2" text-anchor="end" fill="#333">0</text>
<text transform="translate(195.3 598.3) scale(1.06 1)" font-size="9.5" text-anchor="middle" class="ns">MPN 9</text>
<text transform="translate(195.3 609) scale(1.06 1)" font-size="9.5" text-anchor="middle" class="ns">(3 months with ruxo)</text>
<clipPath id="c668"><rect x="148" y="615.5" width="96.5" height="74.5"/></clipPath>
<g clip-path="url(#c668)">
<ellipse cx="165" cy="629" rx="18" ry="4.8" fill="#000" opacity="1" filter="url(#b1)"/>
<ellipse cx="198" cy="629" rx="10" ry="3" fill="#000" opacity="0.9" filter="url(#b1)"/>
<ellipse cx="186" cy="629" rx="7" ry="3.6" fill="#000" opacity="1" filter="url(#b1)"/>
<ellipse cx="164" cy="670" rx="10" ry="9" fill="#000" opacity="0.5" filter="url(#b2)"/>
<path d="M200 621h1m-7 1h1m-46 1h1m17 0h1m2 0h1m11 0h1m3 0h1m0 0h1m-28 1h1m1 0h1m2 0h1m2 0h1m0 0h1m4 0h1m0 0h1m1 0h1m8 0h1m4 0h1m13 0h1m-57 1h1m2 0h1m0 0h1m0 0h1m4 0h1m0 0h1m1 0h1m3 0h1m3 0h1m0 0h1m3 0h1m0 0h1m0 0h1m1 0h1m0 0h1m0 0h1m1 0h1m3 0h1m7 0h1m1 0h1m5 0h1m3 0h1m1 0h1m-60 1h1m0 0h1m2 0h1m0 0h1m1 0h1m2 0h1m0 0h1m0 0h1m1 0h1m0 0h1m0 0h1m3 0h1m0 0h1m0 0h1m1 0h1m1 0h1m0 0h1m2 0h1m0 0h1m0 0h1m2 0h1m1 0h1m0 0h1m1 0h1m0 0h1m5 0h1m1 0h1m0 0h1m1 0h1m0 0h1m8 0h1m1 0h1m-66 1h1m1 0h1m6 0h1m1 0h1m0 0h1m0 0h1m0 0h1m0 0h1m1 0h1m0 0h1m0 0h1m1 0h1m0 0h1m0 0h1m0 0h1m1 0h1m1 0h1m1 0h1m0 0h1m0 0h1m0 0h1m0 0h1m0 0h1m0 0h1m3 0h1m0 0h1m2 0h1m0 0h1m0 0h1m0 0h1m0 0h1m0 0h1m1 0h1m2 0h1m0 0h1m14 0h1m-71 1h1m2 0h1m1 0h1m1 0h1m0 0h1m0 0h1m0 0h1m1 0h1m1 0h1m0 0h1m1 0h1m0 0h1m0 0h1m0 0h1m2 0h1m0 0h1m0 0h1m0 0h1m0 0h1m0 0h1m0 0h1m3 0h1m2 0h1m0 0h1m0 0h1m2 0h1m0 0h1m0 0h1m0 0h1m0 0h1m0 0h1m0 0h1m0 0h1m2 0h1m0 0h1m1 0h1m1 0h1m0 0h1m0 0h1m2 0h1m3 0h1m-66 1h1m2 0h1m0 0h1m2 0h1m0 0h1m0 0h1m0 0h1m0 0h1m0 0h1m0 0h1m2 0h1m0 0h1m1 0h1m0 0h1m0 0h1m1 0h1m0 0h1m0 0h1m1 0h1m0 0h1m1 0h1m0 0h1m0 0h1m0 0h1m0 0h1m2 0h1m0 0h1m0 0h1m0 0h1m3 0h1m0 0h1m4 0h1m0 0h1m1 0h1m1 0h1m1 0h1m8 0h1m-65 1h1m0 0h1m1 0h1m2 0h1m0 0h1m1 0h1m0 0h1m0 0h1m0 0h1m0 0h1m0 0h1m0 0h1m1 0h1m0 0h1m0 0h1m0 0h1m4 0h1m0 0h1m0 0h1m2 0h1m0 0h1m0 0h1m0 0h1m0 0h1m0 0h1m0 0h1m0 0h1m0 0h1m0 0h1m2 0h1m2 0h1m2 0h1m0 0h1m0 0h1m0 0h1m1 0h1m0 0h1m0 0h1m4 0h1m1 0h1m1 0h1m0 0h1m-67 1h1m0 0h1m1 0h1m1 0h1m0 0h1m0 0h1m1 0h1m0 0h1m0 0h1m1 0h1m0 0h1m0 0h1m0 0h1m0 0h1m0 0h1m1 0h1m0 0h1m0 0h1m0 0h1m5 0h1m1 0h1m0 0h1m0 0h1m0 0h1m0 0h1m0 0h1m1 0h1m0 0h1m1 0h1m0 0h1m2 0h1m2 0h1m0 0h1m3 0h1m0 0h1m5 0h1m4 0h1m-60 1h1m6 0h1m1 0h1m3 0h1m1 0h1m1 0h1m2 0h1m0 0h1m0 0h1m0 0h1m1 0h1m4 0h1m1 0h1m0 0h1m3 0h1m3 0h1m4 0h1m0 0h1m6 0h1m8 0h1m-58 1h1m3 0h1m1 0h1m1 0h1m0 0h1m1 0h1m2 0h1m12 0h1m3 0h1m7 0h1m-54 1h1m4 0h1m6 0h1m0 0h1m10 0h1m3 0h1m4 0h1m26 0h1m-17 1h1m-28 2h1m14 2h1m-9 9h1m-22 1h1m9 0h1m-2 1h1m10 0h1m-8 1h1m0 0h1m5 0h1m-21 1h1m7 0h1m5 0h1m25 0h1m-21 1h1m-24 1h1m3 0h1m4 0h1m3 0h1m3 0h1m16 0h1m-23 1h1m1 0h1m0 0h1m3 0h1m11 0h1m1 0h1m-21 1h1m1 0h1m1 0h1m13 0h1m4 0h1m-34 1h1m4 0h1m1 0h1m4 0h1m3 0h1m5 0h1m10 0h1m0 0h1m-34 1h1m4 0h1m8 0h1m-16 1h1m0 0h1m1 0h1m1 0h1m8 0h1m1 0h1m1 0h1m1 0h1m0 0h1m0 0h1m6 0h1m-28 1h1m0 0h1m0 0h1m0 0h1m1 0h1m0 0h1m0 0h1m1 0h1m1 0h1m0 0h1m1 0h1m3 0h1m3 0h1m3 0h1m2 0h1m-31 1h1m1 0h1m1 0h1m4 0h1m1 0h1m3 0h1m2 0h1m1 0h1m1 0h1m1 0h1m0 0h1m1 0h1m2 0h1m-30 1h1m1 0h1m4 0h1m0 0h1m0 0h1m1 0h1m0 0h1m1 0h1m2 0h1m0 0h1m1 0h1m0 0h1m4 0h1m0 0h1m-32 1h1m0 0h1m1 0h1m2 0h1m0 0h1m1 0h1m0 0h1m0 0h1m1 0h1m0 0h1m2 0h1m0 0h1m0 0h1m9 0h1m1 0h1m5 0h1m-38 1h1m0 0h1m1 0h1m0 0h1m1 0h1m0 0h1m1 0h1m1 0h1m0 0h1m0 0h1m0 0h1m0 0h1m0 0h1m0 0h1m1 0h1m0 0h1m0 0h1m4 0h1m2 0h1m8 0h1m-30 1h1m0 0h1m2 0h1m0 0h1m1 0h1m0 0h1m2 0h1m0 0h1m1 0h1m3 0h1m0 0h1m3 0h1m2 0h1m-33 1h1m2 0h1m0 0h1m4 0h1m0 0h1m1 0h1m1 0h1m2 0h1m0 0h1m0 0h1m0 0h1m0 0h1m0 0h1m1 0h1m0 0h1m1 0h1m2 0h1m-32 1h1m0 0h1m1 0h1m2 0h1m0 0h1m0 0h1m0 0h1m1 0h1m0 0h1m0 0h1m0 0h1m1 0h1m0 0h1m0 0h1m1 0h1m0 0h1m1 0h1m0 0h1m0 0h1m3 0h1m2 0h1m0 0h1m0 0h1m0 0h1m-38 1h1m0 0h1m1 0h1m0 0h1m2 0h1m3 0h1m0 0h1m0 0h1m1 0h1m0 0h1m0 0h1m0 0h1m0 0h1m0 0h1m0 0h1m0 0h1m0 0h1m1 0h1m1 0h1m1 0h1m2 0h1m1 0h1m-33 1h1m1 0h1m1 0h1m0 0h1m0 0h1m3 0h1m0 0h1m3 0h1m0 0h1m0 0h1m1 0h1m0 0h1m2 0h1m0 0h1m1 0h1m0 0h1m-22 1h1m0 0h1m1 0h1m0 0h1m0 0h1m0 0h1m0 0h1m0 0h1m0 0h1m0 0h1m0 0h1m1 0h1m0 0h1m0 0h1m0 0h1m2 0h1m0 0h1m3 0h1m0 0h1m0 0h1m4 0h1m0 0h1m-41 1h1m2 0h1m0 0h1m3 0h1m0 0h1m2 0h1m0 0h1m0 0h1m0 0h1m1 0h1m0 0h1m0 0h1m0 0h1m0 0h1m0 0h1m2 0h1m1 0h1m1 0h1m0 0h1m0 0h1m5 0h1m4 0h1m0 0h1m-45 1h1m2 0h1m0 0h1m2 0h1m0 0h1m1 0h1m0 0h1m0 0h1m0 0h1m0 0h1m0 0h1m0 0h1m0 0h1m0 0h1m3 0h1m1 0h1m0 0h1m0 0h1m0 0h1m2 0h1m1 0h1m0 0h1m3 0h1m-33 1h1m0 0h1m0 0h1m0 0h1m2 0h1m0 0h1m0 0h1m0 0h1m0 0h1m0 0h1m0 0h1m0 0h1m0 0h1m1 0h1m1 0h1m1 0h1m0 0h1m0 0h1m0 0h1m7 0h1m0 0h1m-37 1h1m1 0h1m0 0h1m0 0h1m0 0h1m2 0h1m0 0h1m0 0h1m1 0h1m0 0h1m0 0h1m3 0h1m0 0h1m3 0h1m0 0h1m1 0h1m0 0h1m0 0h1m1 0h1m2 0h1m0 0h1m1 0h1m0 0h1m0 0h1m-40 1h1m1 0h1m1 0h1m0 0h1m0 0h1m0 0h1m0 0h1m1 0h1m0 0h1m0 0h1m0 0h1m0 0h1m0 0h1m0 0h1m0 0h1m0 0h1m0 0h1m0 0h1m0 0h1m0 0h1m0 0h1m0 0h1m2 0h1m0 0h1m3 0h1m0 0h1m1 0h1m-34 1h1m4 0h1m2 0h1m1 0h1m1 0h1m0 0h1m0 0h1m2 0h1m1 0h1m6 0h1m0 0h1m0 0h1m3 0h1m-35 1h1m6 0h1m2 0h1m0 0h1m2 0h1m1 0h1m1 0h1m3 0h1m2 0h1m0 0h1m1 0h1m2 0h1m1 0h1m0 0h1m0 0h1m-36 1h1m1 0h1m1 0h1m0 0h1m0 0h1m2 0h1m0 0h1m1 0h1m0 0h1m1 0h1m0 0h1m2 0h1m3 0h1m0 0h1m0 0h1m3 0h1m5 0h1m-35 1h1m3 0h1m3 0h1m1 0h1m0 0h1m0 0h1m0 0h1m0 0h1m1 0h1m0 0h1m1 0h1m2 0h1m0 0h1m0 0h1m1 0h1m0 0h1m-28 1h1m0 0h1m0 0h1m0 0h1m4 0h1m0 0h1m1 0h1m4 0h1m0 0h1m0 0h1m3 0h1m1 0h1m1 0h1m0 0h1m1 0h1m2 0h1m2 0h1m3 0h1m-29 1h1m1 0h1m1 0h1m2 0h1m4 0h1m1 0h1m-24 1h1m0 0h1m1 0h1m10 0h1m2 0h1m0 0h1m3 0h1m2 0h1m14 0h1m-41 1h1m1 0h1m3 0h1m1 0h1m1 0h1m1 0h1m2 0h1m1 0h1m3 0h1m2 0h1m6 0h1m-35 1h1m12 0h1m2 0h1m2 0h1m0 0h1m1 0h1m5 0h1m5 0h1m-31 1h1m1 0h1m3 0h1m2 0h1m1 0h1m0 0h1m1 0h1m2 0h1m0 0h1m2 0h1m2 0h1m4 0h1m16 0h1m-47 1h1m6 0h1m0 0h1m0 0h1m4 0h1m3 0h1m0 0h1m1 0h1m0 0h1m0 0h1m4 0h1m-18 1h1m7 0h1m2 0h1m-16 1h1m1 0h1m0 0h1m2 0h1m-13 1h1m24 0h1m2 0h1" transform="translate(0 .5)" stroke="#000" stroke-width="1" opacity="0.42"/>
<path d="M168 622h1m-18 1h1m4 0h1m1 0h1m6 0h1m2 0h1m3 0h1m1 0h1m7 0h1m0 0h1m1 0h1m13 0h1m3 0h1m-56 1h1m0 0h1m2 0h1m3 0h1m1 0h1m7 0h1m5 0h1m0 0h1m1 0h1m0 0h1m6 0h1m5 0h1m13 0h1m1 0h1m10 0h1m-56 1h1m0 0h1m0 0h1m0 0h1m1 0h1m0 0h1m0 0h1m3 0h1m0 0h1m3 0h1m0 0h1m0 0h1m0 0h1m0 0h1m1 0h1m2 0h1m3 0h1m3 0h1m1 0h1m3 0h1m3 0h1m1 0h1m2 0h1m1 0h1m1 0h1m22 0h1m-89 1h1m0 0h1m1 0h1m2 0h1m0 0h1m0 0h1m2 0h1m1 0h1m0 0h1m0 0h1m0 0h1m1 0h1m0 0h1m0 0h1m0 0h1m2 0h1m0 0h1m0 0h1m0 0h1m1 0h1m0 0h1m2 0h1m1 0h1m0 0h1m2 0h1m0 0h1m1 0h1m3 0h1m2 0h1m0 0h1m1 0h1m2 0h1m2 0h1m0 0h1m3 0h1m5 0h1m2 0h1m-70 1h1m0 0h1m3 0h1m0 0h1m4 0h1m0 0h1m0 0h1m0 0h1m0 0h1m1 0h1m1 0h1m0 0h1m1 0h1m0 0h1m1 0h1m0 0h1m1 0h1m0 0h1m0 0h1m4 0h1m0 0h1m2 0h1m2 0h1m0 0h1m1 0h1m0 0h1m2 0h1m0 0h1m0 0h1m5 0h1m5 0h1m6 0h1m-72 1h1m4 0h1m0 0h1m0 0h1m0 0h1m1 0h1m0 0h1m0 0h1m0 0h1m0 0h1m0 0h1m3 0h1m1 0h1m0 0h1m1 0h1m0 0h1m1 0h1m0 0h1m0 0h1m0 0h1m0 0h1m1 0h1m1 0h1m0 0h1m0 0h1m0 0h1m1 0h1m0 0h1m1 0h1m0 0h1m0 0h1m0 0h1m0 0h1m0 0h1m0 0h1m0 0h1m0 0h1m0 0h1m0 0h1m0 0h1m0 0h1m1 0h1m2 0h1m1 0h1m5 0h1m-71 1h1m0 0h1m3 0h1m1 0h1m0 0h1m1 0h1m1 0h1m0 0h1m0 0h1m0 0h1m1 0h1m0 0h1m0 0h1m0 0h1m0 0h1m0 0h1m0 0h1m0 0h1m0 0h1m0 0h1m0 0h1m1 0h1m1 0h1m0 0h1m0 0h1m1 0h1m0 0h1m1 0h1m2 0h1m0 0h1m0 0h1m1 0h1m0 0h1m0 0h1m0 0h1m1 0h1m1 0h1m0 0h1m1 0h1m0 0h1m0 0h1m1 0h1m1 0h1m2 0h1m10 0h1m-75 1h1m5 0h1m0 0h1m2 0h1m0 0h1m0 0h1m0 0h1m0 0h1m1 0h1m0 0h1m0 0h1m0 0h1m0 0h1m0 0h1m0 0h1m0 0h1m0 0h1m1 0h1m0 0h1m4 0h1m1 0h1m0 0h1m0 0h1m0 0h1m0 0h1m0 0h1m2 0h1m0 0h1m0 0h1m0 0h1m1 0h1m0 0h1m3 0h1m0 0h1m1 0h1m0 0h1m0 0h1m3 0h1m-61 1h1m2 0h1m2 0h1m0 0h1m1 0h1m0 0h1m4 0h1m0 0h1m0 0h1m2 0h1m4 0h1m1 0h1m0 0h1m0 0h1m0 0h1m0 0h1m3 0h1m0 0h1m0 0h1m0 0h1m2 0h1m2 0h1m2 0h1m1 0h1m2 0h1m1 0h1m2 0h1m3 0h1m-60 1h1m1 0h1m9 0h1m0 0h1m0 0h1m0 0h1m4 0h1m0 0h1m2 0h1m4 0h1m3 0h1m0 0h1m0 0h1m1 0h1m5 0h1m0 0h1m6 0h1m4 0h1m0 0h1m-51 1h1m2 0h1m2 0h1m0 0h1m1 0h1m0 0h1m0 0h1m3 0h1m6 0h1m3 0h1m9 0h1m2 0h1m-50 1h1m4 0h1m8 0h1m19 0h1m5 0h1m-33 1h1m7 0h1m3 0h1m3 0h1m9 0h1m20 0h1m-51 1h1m0 1h1m3 2h1m2 4h1m-7 3h1m5 3h1m6 0h1m7 0h1m-11 1h1m1 0h1m-15 2h1m12 0h1m1 1h1m-13 1h1m16 0h1m-25 1h1m2 0h1m12 0h1m3 0h1m12 0h1m-33 1h1m3 0h1m3 0h1m1 0h1m2 0h1m1 0h1m4 0h1m3 0h1m-23 1h1m7 0h1m2 0h1m7 0h1m-22 1h1m4 0h1m4 0h1m0 0h1m8 0h1m5 0h1m7 0h1m-29 1h1m0 0h1m0 0h1m0 0h1m1 0h1m0 0h1m1 0h1m0 0h1m0 0h1m1 0h1m10 0h1m5 0h1m0 0h1m3 0h1m-45 1h1m1 0h1m0 0h1m0 0h1m3 0h1m8 0h1m0 0h1m4 0h1m1 0h1m0 0h1m0 0h1m2 0h1m0 0h1m2 0h1m8 0h1m1 0h1m-40 1h1m3 0h1m1 0h1m0 0h1m0 0h1m4 0h1m0 0h1m2 0h1m0 0h1m9 0h1m-35 1h1m3 0h1m1 0h1m0 0h1m2 0h1m1 0h1m1 0h1m3 0h1m1 0h1m4 0h1m0 0h1m0 0h1m0 0h1m7 0h1m0 0h1m-38 1h1m1 0h1m0 0h1m2 0h1m0 0h1m1 0h1m1 0h1m0 0h1m0 0h1m2 0h1m1 0h1m0 0h1m1 0h1m0 0h1m3 0h1m0 0h1m3 0h1m0 0h1m2 0h1m-32 1h1m1 0h1m1 0h1m1 0h1m0 0h1m0 0h1m1 0h1m0 0h1m0 0h1m0 0h1m0 0h1m0 0h1m0 0h1m1 0h1m0 0h1m0 0h1m1 0h1m1 0h1m7 0h1m-33 1h1m0 0h1m0 0h1m0 0h1m3 0h1m4 0h1m0 0h1m0 0h1m0 0h1m2 0h1m1 0h1m0 0h1m0 0h1m0 0h1m2 0h1m3 0h1m1 0h1m5 0h1m-43 1h1m0 0h1m0 0h1m0 0h1m5 0h1m0 0h1m0 0h1m0 0h1m0 0h1m1 0h1m0 0h1m0 0h1m1 0h1m0 0h1m1 0h1m0 0h1m0 0h1m0 0h1m1 0h1m2 0h1m3 0h1m8 0h1m-40 1h1m0 0h1m0 0h1m0 0h1m0 0h1m0 0h1m0 0h1m1 0h1m1 0h1m0 0h1m1 0h1m0 0h1m3 0h1m1 0h1m0 0h1m1 0h1m0 0h1m4 0h1m1 0h1m9 0h1m-43 1h1m0 0h1m5 0h1m2 0h1m1 0h1m0 0h1m2 0h1m3 0h1m0 0h1m1 0h1m0 0h1m6 0h1m2 0h1m-34 1h1m0 0h1m2 0h1m0 0h1m1 0h1m0 0h1m0 0h1m2 0h1m1 0h1m1 0h1m0 0h1m0 0h1m0 0h1m0 0h1m1 0h1m0 0h1m0 0h1m1 0h1m7 0h1m0 0h1m-34 1h1m0 0h1m1 0h1m0 0h1m0 0h1m0 0h1m2 0h1m0 0h1m1 0h1m0 0h1m0 0h1m0 0h1m0 0h1m0 0h1m0 0h1m0 0h1m1 0h1m0 0h1m2 0h1m5 0h1m-38 1h1m2 0h1m1 0h1m0 0h1m0 0h1m1 0h1m1 0h1m0 0h1m0 0h1m0 0h1m0 0h1m0 0h1m0 0h1m0 0h1m0 0h1m0 0h1m2 0h1m0 0h1m2 0h1m0 0h1m0 0h1m3 0h1m1 0h1m-36 1h1m0 0h1m7 0h1m1 0h1m0 0h1m0 0h1m4 0h1m2 0h1m1 0h1m0 0h1m0 0h1m0 0h1m3 0h1m0 0h1m0 0h1m0 0h1m1 0h1m4 0h1m-41 1h1m0 0h1m5 0h1m0 0h1m0 0h1m0 0h1m2 0h1m0 0h1m2 0h1m0 0h1m0 0h1m0 0h1m0 0h1m1 0h1m1 0h1m5 0h1m2 0h1m-34 1h1m1 0h1m1 0h1m0 0h1m0 0h1m0 0h1m0 0h1m0 0h1m0 0h1m0 0h1m0 0h1m0 0h1m0 0h1m2 0h1m0 0h1m3 0h1m0 0h1m0 0h1m0 0h1m6 0h1m7 0h1m-38 1h1m1 0h1m2 0h1m0 0h1m0 0h1m0 0h1m1 0h1m0 0h1m0 0h1m2 0h1m0 0h1m0 0h1m0 0h1m1 0h1m2 0h1m0 0h1m1 0h1m0 0h1m3 0h1m1 0h1m-36 1h1m0 0h1m0 0h1m0 0h1m0 0h1m0 0h1m2 0h1m0 0h1m0 0h1m0 0h1m1 0h1m0 0h1m0 0h1m2 0h1m0 0h1m2 0h1m3 0h1m1 0h1m0 0h1m1 0h1m4 0h1m2 0h1m-42 1h1m1 0h1m1 0h1m0 0h1m0 0h1m0 0h1m1 0h1m1 0h1m0 0h1m0 0h1m2 0h1m0 0h1m2 0h1m0 0h1m0 0h1m0 0h1m1 0h1m1 0h1m1 0h1m0 0h1m2 0h1m1 0h1m0 0h1m1 0h1m-38 1h1m2 0h1m0 0h1m2 0h1m4 0h1m0 0h1m1 0h1m2 0h1m0 0h1m0 0h1m0 0h1m1 0h1m0 0h1m1 0h1m0 0h1m0 0h1m0 0h1m4 0h1m6 0h1m-40 1h1m0 0h1m2 0h1m0 0h1m0 0h1m0 0h1m1 0h1m2 0h1m1 0h1m0 0h1m7 0h1m1 0h1m0 0h1m0 0h1m7 0h1m3 0h1m-37 1h1m0 0h1m2 0h1m0 0h1m2 0h1m0 0h1m0 0h1m1 0h1m2 0h1m5 0h1m3 0h1m2 0h1m-30 1h1m2 0h1m3 0h1m1 0h1m2 0h1m2 0h1m0 0h1m0 0h1m1 0h1m0 0h1m2 0h1m1 0h1m0 0h1m0 0h1m-23 1h1m0 0h1m1 0h1m0 0h1m5 0h1m0 0h1m1 0h1m0 0h1m0 0h1m1 0h1m0 0h1m3 0h1m0 0h1m-33 1h1m2 0h1m3 0h1m2 0h1m1 0h1m0 0h1m0 0h1m2 0h1m2 0h1m0 0h1m0 0h1m0 0h1m7 0h1m6 0h1m-37 1h1m2 0h1m1 0h1m1 0h1m2 0h1m0 0h1m1 0h1m2 0h1m1 0h1m1 0h1m1 0h1m1 0h1m1 0h1m1 0h1m2 0h1m4 0h1m-36 1h1m0 0h1m12 0h1m2 0h1m4 0h1m7 0h1m2 0h1m-36 1h1m8 0h1m1 0h1m0 0h1m0 0h1m3 0h1m3 0h1m1 0h1m21 0h1m-46 1h1m19 0h1m0 0h1m1 0h1m5 0h1m8 0h1m-38 1h1m6 0h1m0 0h1m1 0h1m1 0h1m14 0h1m-17 1h1" transform="translate(0 .5)" stroke="#000" stroke-width="1" opacity="0.42"/>
<path d="M185 620h1m-2 1h1m-28 1h1m4 0h1m3 0h1m5 0h1m4 0h1m10 0h1m7 0h1m-49 1h1m5 0h1m0 0h1m0 0h1m17 0h1m2 0h1m28 0h1m13 0h1m-71 1h1m3 0h1m6 0h1m1 0h1m0 0h1m0 0h1m0 0h1m6 0h1m1 0h1m0 0h1m2 0h1m1 0h1m25 0h1m-51 1h1m2 0h1m0 0h1m1 0h1m0 0h1m0 0h1m1 0h1m1 0h1m6 0h1m0 0h1m6 0h1m1 0h1m1 0h1m1 0h1m9 0h1m0 0h1m1 0h1m0 0h1m0 0h1m0 0h1m-59 1h1m0 0h1m2 0h1m4 0h1m0 0h1m0 0h1m0 0h1m1 0h1m0 0h1m0 0h1m0 0h1m0 0h1m0 0h1m1 0h1m2 0h1m1 0h1m0 0h1m2 0h1m1 0h1m0 0h1m1 0h1m0 0h1m1 0h1m0 0h1m6 0h1m1 0h1m1 0h1m0 0h1m1 0h1m1 0h1m1 0h1m1 0h1m1 0h1m1 0h1m-63 1h1m0 0h1m3 0h1m3 0h1m0 0h1m0 0h1m0 0h1m0 0h1m1 0h1m0 0h1m0 0h1m0 0h1m1 0h1m0 0h1m0 0h1m0 0h1m1 0h1m1 0h1m1 0h1m2 0h1m0 0h1m1 0h1m1 0h1m1 0h1m2 0h1m2 0h1m0 0h1m0 0h1m0 0h1m1 0h1m0 0h1m1 0h1m0 0h1m0 0h1m2 0h1m0 0h1m-59 1h1m2 0h1m0 0h1m0 0h1m0 0h1m4 0h1m0 0h1m0 0h1m0 0h1m0 0h1m1 0h1m0 0h1m0 0h1m0 0h1m0 0h1m2 0h1m0 0h1m1 0h1m1 0h1m0 0h1m0 0h1m3 0h1m0 0h1m3 0h1m0 0h1m0 0h1m1 0h1m0 0h1m0 0h1m2 0h1m0 0h1m2 0h1m1 0h1m0 0h1m1 0h1m1 0h1m-61 1h1m0 0h1m0 0h1m4 0h1m2 0h1m0 0h1m0 0h1m3 0h1m0 0h1m0 0h1m0 0h1m1 0h1m1 0h1m0 0h1m0 0h1m0 0h1m0 0h1m0 0h1m0 0h1m1 0h1m1 0h1m2 0h1m0 0h1m0 0h1m0 0h1m0 0h1m2 0h1m1 0h1m0 0h1m0 0h1m1 0h1m0 0h1m1 0h1m0 0h1m0 0h1m1 0h1m1 0h1m2 0h1m0 0h1m0 0h1m7 0h1m-73 1h1m2 0h1m2 0h1m1 0h1m0 0h1m0 0h1m0 0h1m0 0h1m0 0h1m1 0h1m0 0h1m0 0h1m1 0h1m1 0h1m1 0h1m1 0h1m0 0h1m0 0h1m0 0h1m0 0h1m0 0h1m0 0h1m0 0h1m0 0h1m0 0h1m0 0h1m1 0h1m0 0h1m2 0h1m0 0h1m1 0h1m2 0h1m0 0h1m0 0h1m0 0h1m0 0h1m5 0h1m1 0h1m0 0h1m1 0h1m5 0h1m-69 1h1m0 0h1m2 0h1m0 0h1m1 0h1m1 0h1m1 0h1m0 0h1m2 0h1m0 0h1m0 0h1m0 0h1m0 0h1m2 0h1m1 0h1m0 0h1m1 0h1m1 0h1m0 0h1m0 0h1m1 0h1m1 0h1m0 0h1m6 0h1m0 0h1m1 0h1m1 0h1m0 0h1m1 0h1m0 0h1m1 0h1m2 0h1m3 0h1m-63 1h1m5 0h1m0 0h1m5 0h1m1 0h1m0 0h1m0 0h1m1 0h1m4 0h1m0 0h1m0 0h1m0 0h1m0 0h1m1 0h1m1 0h1m1 0h1m1 0h1m0 0h1m1 0h1m1 0h1m3 0h1m12 0h1m-54 1h1m2 0h1m0 0h1m0 0h1m0 0h1m0 0h1m4 0h1m6 0h1m1 0h1m3 0h1m0 0h1m1 0h1m9 0h1m6 0h1m6 0h1m7 0h1m-65 1h1m15 0h1m9 0h1m-18 1h1m-3 1h1m12 0h1m1 0h1m4 0h1m-7 1h1m-14 11h1m0 0h1m13 0h1m-15 1h1m3 0h1m9 0h1m-18 1h1m3 0h1m2 0h1m-5 1h1m8 0h1m2 0h1m-21 1h1m9 0h1m10 0h1m8 0h1m-7 1h1m9 0h1m-29 1h1m2 0h1m0 0h1m1 0h1m3 0h1m11 0h1m2 0h1m0 0h1m-21 1h1m0 0h1m7 0h1m0 0h1m12 0h1m-27 1h1m1 0h1m1 0h1m7 0h1m0 0h1m13 0h1m-31 1h1m5 0h1m2 0h1m1 0h1m0 0h1m1 0h1m21 0h1m-31 1h1m2 0h1m0 0h1m0 0h1m0 0h1m0 0h1m2 0h1m0 0h1m2 0h1m8 0h1m-36 1h1m3 0h1m6 0h1m0 0h1m1 0h1m0 0h1m0 0h1m2 0h1m1 0h1m0 0h1m0 0h1m8 0h1m5 0h1m-40 1h1m0 0h1m4 0h1m1 0h1m4 0h1m0 0h1m0 0h1m0 0h1m0 0h1m1 0h1m21 0h1m-38 1h1m0 0h1m1 0h1m0 0h1m0 0h1m0 0h1m0 0h1m0 0h1m1 0h1m1 0h1m1 0h1m0 0h1m0 0h1m3 0h1m6 0h1m-28 1h1m6 0h1m0 0h1m0 0h1m1 0h1m1 0h1m2 0h1m1 0h1m2 0h1m4 0h1m-31 1h1m5 0h1m1 0h1m0 0h1m0 0h1m0 0h1m3 0h1m1 0h1m0 0h1m0 0h1m0 0h1m3 0h1m3 0h1m2 0h1m11 0h1m0 0h1m-41 1h1m2 0h1m5 0h1m1 0h1m0 0h1m0 0h1m0 0h1m0 0h1m0 0h1m0 0h1m1 0h1m1 0h1m5 0h1m0 0h1m1 0h1m0 0h1m4 0h1m3 0h1m-41 1h1m2 0h1m0 0h1m0 0h1m0 0h1m0 0h1m1 0h1m0 0h1m0 0h1m0 0h1m0 0h1m0 0h1m4 0h1m1 0h1m0 0h1m2 0h1m0 0h1m2 0h1m-35 1h1m1 0h1m0 0h1m0 0h1m2 0h1m0 0h1m0 0h1m5 0h1m0 0h1m0 0h1m0 0h1m0 0h1m0 0h1m0 0h1m0 0h1m0 0h1m0 0h1m0 0h1m0 0h1m0 0h1m1 0h1m6 0h1m4 0h1m-42 1h1m3 0h1m1 0h1m1 0h1m0 0h1m0 0h1m1 0h1m0 0h1m1 0h1m0 0h1m0 0h1m0 0h1m1 0h1m1 0h1m1 0h1m0 0h1m0 0h1m1 0h1m0 0h1m1 0h1m4 0h1m-36 1h1m0 0h1m0 0h1m0 0h1m3 0h1m1 0h1m1 0h1m0 0h1m0 0h1m0 0h1m0 0h1m1 0h1m0 0h1m0 0h1m0 0h1m1 0h1m3 0h1m0 0h1m9 0h1m4 0h1m-41 1h1m2 0h1m0 0h1m0 0h1m0 0h1m0 0h1m1 0h1m0 0h1m0 0h1m0 0h1m1 0h1m0 0h1m0 0h1m0 0h1m0 0h1m0 0h1m0 0h1m2 0h1m0 0h1m1 0h1m0 0h1m0 0h1m2 0h1m1 0h1m-32 1h1m0 0h1m1 0h1m1 0h1m1 0h1m3 0h1m0 0h1m0 0h1m2 0h1m0 0h1m3 0h1m1 0h1m1 0h1m0 0h1m3 0h1m6 0h1m11 0h1m-49 1h1m0 0h1m1 0h1m0 0h1m0 0h1m1 0h1m0 0h1m1 0h1m1 0h1m0 0h1m0 0h1m2 0h1m4 0h1m0 0h1m0 0h1m6 0h1m3 0h1m-42 1h1m0 0h1m3 0h1m0 0h1m0 0h1m0 0h1m0 0h1m0 0h1m2 0h1m1 0h1m0 0h1m1 0h1m1 0h1m0 0h1m3 0h1m1 0h1m0 0h1m0 0h1m0 0h1m0 0h1m0 0h1m-31 1h1m0 0h1m0 0h1m0 0h1m1 0h1m0 0h1m3 0h1m0 0h1m0 0h1m2 0h1m0 0h1m0 0h1m0 0h1m1 0h1m2 0h1m0 0h1m0 0h1m0 0h1m2 0h1m2 0h1m3 0h1m-39 1h1m1 0h1m0 0h1m0 0h1m1 0h1m2 0h1m0 0h1m1 0h1m2 0h1m0 0h1m0 0h1m0 0h1m0 0h1m0 0h1m1 0h1m0 0h1m0 0h1m0 0h1m7 0h1m0 0h1m0 0h1m-36 1h1m2 0h1m1 0h1m2 0h1m0 0h1m0 0h1m0 0h1m1 0h1m1 0h1m0 0h1m0 0h1m2 0h1m1 0h1m0 0h1m1 0h1m10 0h1m-33 1h1m1 0h1m0 0h1m1 0h1m0 0h1m1 0h1m0 0h1m0 0h1m0 0h1m0 0h1m4 0h1m0 0h1m1 0h1m1 0h1m5 0h1m4 0h1m-38 1h1m3 0h1m3 0h1m0 0h1m0 0h1m0 0h1m0 0h1m1 0h1m0 0h1m0 0h1m0 0h1m3 0h1m7 0h1m1 0h1m9 0h1m1 0h1m6 0h1m-47 1h1m0 0h1m4 0h1m4 0h1m0 0h1m3 0h1m0 0h1m1 0h1m1 0h1m0 0h1m1 0h1m5 0h1m15 0h1m-49 1h1m0 0h1m3 0h1m2 0h1m2 0h1m0 0h1m0 0h1m0 0h1m0 0h1m5 0h1m0 0h1m0 0h1m1 0h1m0 0h1m0 0h1m1 0h1m0 0h1m2 0h1m-35 1h1m1 0h1m1 0h1m5 0h1m0 0h1m0 0h1m0 0h1m3 0h1m1 0h1m1 0h1m2 0h1m2 0h1m0 0h1m4 0h1m1 0h1m2 0h1m2 0h1m-41 1h1m1 0h1m3 0h1m0 0h1m2 0h1m2 0h1m0 0h1m1 0h1m6 0h1m1 0h1m0 0h1m0 0h1m4 0h1m-32 1h1m0 0h1m1 0h1m1 0h1m1 0h1m0 0h1m1 0h1m3 0h1m4 0h1m1 0h1m1 0h1m0 0h1m5 0h1m-33 1h1m0 0h1m2 0h1m1 0h1m3 0h1m1 0h1m2 0h1m3 0h1m2 0h1m6 0h1m8 0h1m-34 1h1m1 0h1m2 0h1m1 0h1m0 0h1m0 0h1m1 0h1m0 0h1m2 0h1m1 0h1m0 0h1m5 0h1m1 0h1m-31 1h1m8 0h1m0 0h1m8 0h1m3 0h1m8 0h1m-32 1h1m1 0h1m3 0h1m7 0h1m21 0h1m-27 1h1m3 0h1m11 0h1m1 0h1m-20 1h1m5 0h1m8 0h1m-6 1h1m11 0h1m6 0h1" transform="translate(0 .5)" stroke="#000" stroke-width="1" opacity="0.42"/>
<path d="M170 629h1m9 0h1m-25 3h1m2 0h1m2 0h1m-4 2h1m3 0h1m15 1h1m-20 1h1m1 0h1m3 0h1m5 0h1m-15 1h1m4 0h1m2 0h1m2 0h1m-7 1h1m2 0h1m0 0h1m10 0h1m1 0h1m9 0h1m-33 1h1m9 0h1m4 0h1m0 0h1m7 0h1m-21 1h1m3 0h1m0 0h1m8 0h1m-22 1h1m1 0h1m5 0h1m4 0h1m0 0h1m0 0h1m2 0h1m6 0h1m3 0h1m-18 1h1m7 0h1m3 0h1m5 0h1m4 0h1m3 0h1m-44 1h1m2 0h1m0 0h1m2 0h1m0 0h1m2 0h1m6 0h1m0 0h1m0 0h1m3 0h1m1 0h1m2 0h1m6 0h1m19 0h1m7 0h1m-54 1h1m1 0h1m1 0h1m7 0h1m0 0h1m5 0h1m10 0h1m-38 1h1m5 0h1m3 0h1m0 0h1m1 0h1m0 0h1m3 0h1m0 0h1m0 0h1m0 0h1m1 0h1m10 0h1m-37 1h1m1 0h1m0 0h1m5 0h1m1 0h1m0 0h1m8 0h1m0 0h1m1 0h1m0 0h1m1 0h1m0 0h1m7 0h1m18 0h1m-58 1h1m5 0h1m3 0h1m1 0h1m0 0h1m0 0h1m6 0h1m0 0h1m4 0h1m2 0h1m13 0h1m0 0h1m-37 1h1m4 0h1m0 0h1m1 0h1m16 0h1m1 0h1m16 0h1m-51 1h1m5 0h1m1 0h1m14 0h1m2 0h1m0 0h1m-33 1h1m8 0h1m15 0h1m4 0h1m5 0h1m10 0h1m-39 1h1m6 0h1m3 0h1m1 0h1m2 0h1m0 0h1m1 0h1m12 0h1m7 0h1m5 0h1m3 0h1m-57 1h1m11 0h1m10 0h1m2 0h1m5 0h1m1 0h1m-27 1h1m8 0h1m9 0h1m2 0h1m12 0h1m20 0h1m-43 1h1m37 0h1m11 0h1m-55 1h1m4 0h1m7 0h1m2 0h1m16 0h1m5 0h1m7 0h1m-51 1h1m18 0h1m5 0h1m15 0h1m1 0h1m4 0h1m2 0h1m-37 1h1m10 0h1m8 0h1m0 0h1m12 0h1m8 0h1m12 0h1m-58 1h1m1 0h1m2 0h1m9 0h1m1 0h1m7 0h1m10 0h1m3 0h1m1 0h1m3 0h1m-51 1h1m14 0h1m1 0h1m2 0h1m0 0h1m0 0h1m4 0h1m6 0h1m9 0h1m1 0h1m1 0h1m-41 1h1m8 0h1m2 0h1m3 0h1m6 0h1m0 0h1m0 0h1m3 0h1m7 0h1m-49 1h1m6 0h1m8 0h1m4 0h1m2 0h1m2 0h1m1 0h1m0 0h1m2 0h1m0 0h1m8 0h1m1 0h1m4 0h1m-52 1h1m9 0h1m7 0h1m7 0h1m0 0h1m2 0h1m0 0h1m0 0h1m0 0h1m1 0h1m2 0h1m0 0h1m3 0h1m0 0h1m0 0h1m1 0h1m-45 1h1m11 0h1m4 0h1m5 0h1m2 0h1m3 0h1m1 0h1m0 0h1m1 0h1m11 0h1m-41 1h1m8 0h1m5 0h1m0 0h1m1 0h1m0 0h1m0 0h1m2 0h1m1 0h1m0 0h1m4 0h1m-45 1h1m23 0h1m1 0h1m0 0h1m2 0h1m0 0h1m0 0h1m2 0h1m0 0h1m0 0h1m5 0h1m2 0h1m3 0h1m-46 1h1m10 0h1m3 0h1m0 0h1m1 0h1m2 0h1m0 0h1m1 0h1m2 0h1m1 0h1m0 0h1m1 0h1m0 0h1m0 0h1m0 0h1m7 0h1m0 0h1m1 0h1m-32 1h1m5 0h1m3 0h1m1 0h1m0 0h1m0 0h1m1 0h1m1 0h1m1 0h1m4 0h1m1 0h1m0 0h1m0 0h1m4 0h1m1 0h1m-37 1h1m2 0h1m5 0h1m1 0h1m4 0h1m0 0h1m1 0h1m0 0h1m0 0h1m1 0h1m2 0h1m-32 1h1m0 0h1m5 0h1m0 0h1m0 0h1m2 0h1m1 0h1m1 0h1m0 0h1m0 0h1m2 0h1m0 0h1m0 0h1m8 0h1m3 0h1m0 0h1m3 0h1m1 0h1m3 0h1m-47 1h1m5 0h1m0 0h1m1 0h1m1 0h1m8 0h1m1 0h1m1 0h1m4 0h1m0 0h1m0 0h1m6 0h1m0 0h1m-49 1h1m11 0h1m1 0h1m0 0h1m0 0h1m1 0h1m1 0h1m1 0h1m0 0h1m3 0h1m2 0h1m1 0h1m0 0h1m3 0h1m3 0h1m3 0h1m-36 1h1m1 0h1m1 0h1m4 0h1m0 0h1m2 0h1m0 0h1m1 0h1m3 0h1m1 0h1m3 0h1m0 0h1m0 0h1m1 0h1m3 0h1m2 0h1m0 0h1m-36 1h1m3 0h1m9 0h1m0 0h1m1 0h1m0 0h1m1 0h1m0 0h1m0 0h1m2 0h1m0 0h1m0 0h1m0 0h1m0 0h1m0 0h1m0 0h1m0 0h1m1 0h1m6 0h1m-56 1h1m3 0h1m4 0h1m4 0h1m8 0h1m0 0h1m0 0h1m1 0h1m1 0h1m0 0h1m0 0h1m0 0h1m3 0h1m3 0h1m3 0h1m3 0h1m-48 1h1m1 0h1m7 0h1m1 0h1m0 0h1m5 0h1m5 0h1m0 0h1m0 0h1m0 0h1m0 0h1m1 0h1m0 0h1m3 0h1m1 0h1m0 0h1m0 0h1m0 0h1m8 0h1m-40 1h1m3 0h1m0 0h1m2 0h1m1 0h1m2 0h1m0 0h1m0 0h1m2 0h1m4 0h1m0 0h1m0 0h1m0 0h1m0 0h1m2 0h1m0 0h1m0 0h1m-39 1h1m4 0h1m6 0h1m0 0h1m7 0h1m0 0h1m3 0h1m0 0h1m2 0h1m0 0h1m3 0h1m0 0h1m3 0h1m2 0h1m1 0h1m-47 1h1m1 0h1m1 0h1m7 0h1m2 0h1m0 0h1m0 0h1m1 0h1m0 0h1m0 0h1m3 0h1m0 0h1m0 0h1m1 0h1m7 0h1m1 0h1m0 0h1m0 0h1m2 0h1m0 0h1m-48 1h1m9 0h1m0 0h1m1 0h1m0 0h1m2 0h1m1 0h1m1 0h1m2 0h1m4 0h1m0 0h1m0 0h1m5 0h1m1 0h1m-31 1h1m0 0h1m0 0h1m4 0h1m3 0h1m2 0h1m1 0h1m0 0h1m2 0h1m2 0h1m1 0h1m0 0h1m5 0h1m-40 1h1m6 0h1m1 0h1m6 0h1m0 0h1m2 0h1m2 0h1m12 0h1m0 0h1m3 0h1m-41 1h1m3 0h1m6 0h1m3 0h1m0 0h1m3 0h1m1 0h1m4 0h1m0 0h1m5 0h1m3 0h1m0 0h1m-26 1h1m1 0h1m2 0h1m1 0h1m3 0h1m8 0h1m15 0h1m0 0h1m-58 1h1m21 0h1m0 0h1m6 0h1m3 0h1m18 0h1m-37 1h1m2 0h1m1 0h1m5 0h1m0 0h1m4 0h1m4 0h1m0 0h1m6 0h1m4 0h1m-41 1h1m17 0h1m7 0h1m13 0h1m-35 1h1m4 0h1m7 0h1m7 0h1m3 0h1m-26 1h1m7 0h1m7 0h1m10 0h1m5 0h1m5 0h1m-18 1h1" transform="translate(0 .5)" stroke="#000" stroke-width="1" opacity="0.22"/>
</g>
<rect x="148" y="615.5" width="96.5" height="74.5" fill="none" stroke="#999" stroke-width="0.8"/>
<line x1="186.3" y1="615.5" x2="186.3" y2="690.0" stroke="#aaa" stroke-width="0.8"/>
<line x1="148.0" y1="657.0" x2="244.5" y2="657.0" stroke="#aaa" stroke-width="0.8"/>
<rect x="148.6" y="616.0" width="20.2" height="7.8" fill="#fff"/>
<text transform="translate(149.8 622.6) scale(1.25 1)" font-size="7.3" class="q">55.1</text>
<text transform="translate(243.6 622.6) scale(1.25 1)" font-size="7.3" class="q" text-anchor="end">10.3</text>
<rect x="148.6" y="681.8" width="20.2" height="7.8" fill="#fff" stroke="#555" stroke-width="0.6"/>
<text transform="translate(149.8 688.4) scale(1.25 1)" font-size="7.3" class="q">32.0</text>
<text transform="translate(243.6 688.4) scale(1.25 1)" font-size="7.3" class="q" text-anchor="end">2.6</text>
<line x1="146.5" y1="620.9" x2="148.0" y2="620.9" stroke="#777" stroke-width="0.6"/>
<line x1="146.5" y1="638.7" x2="148.0" y2="638.7" stroke="#777" stroke-width="0.6"/>
<line x1="146.5" y1="656.0" x2="148.0" y2="656.0" stroke="#777" stroke-width="0.6"/>
<line x1="146.5" y1="673.2" x2="148.0" y2="673.2" stroke="#777" stroke-width="0.6"/>
<line x1="146.5" y1="681.4" x2="148.0" y2="681.4" stroke="#777" stroke-width="0.6"/>
<line x1="158.0" y1="690.0" x2="158.0" y2="691.5" stroke="#777" stroke-width="0.6"/>
<line x1="168.2" y1="690.0" x2="168.2" y2="691.5" stroke="#777" stroke-width="0.6"/>
<line x1="190.8" y1="690.0" x2="190.8" y2="691.5" stroke="#777" stroke-width="0.6"/>
<line x1="214.8" y1="690.0" x2="214.8" y2="691.5" stroke="#777" stroke-width="0.6"/>
<line x1="236.1" y1="690.0" x2="236.1" y2="691.5" stroke="#777" stroke-width="0.6"/>
<text x="158.0" y="698.0" font-size="4.2" text-anchor="middle" fill="#333">0</text>
<text x="168.2" y="698.0" font-size="4.2" text-anchor="middle" fill="#333">10²</text>
<text x="190.8" y="698.0" font-size="4.2" text-anchor="middle" fill="#333">10³</text>
<text x="214.8" y="698.0" font-size="4.2" text-anchor="middle" fill="#333">10⁴</text>
<text x="236.1" y="698.0" font-size="4.2" text-anchor="middle" fill="#333">10⁵</text>
<text x="145.7" y="622.3" font-size="4.2" text-anchor="end" fill="#333">10⁵</text>
<text x="145.7" y="640.1" font-size="4.2" text-anchor="end" fill="#333">10⁴</text>
<text x="145.7" y="657.4" font-size="4.2" text-anchor="end" fill="#333">10³</text>
<text x="145.7" y="674.6" font-size="4.2" text-anchor="end" fill="#333">10²</text>
<text x="145.7" y="682.8" font-size="4.2" text-anchor="end" fill="#333">0</text>
<text transform="translate(313 489.3) scale(1.06 1)" font-size="9.5" text-anchor="middle" class="ns">MPN 4</text>
<text transform="translate(313 501.3) scale(1.06 1)" font-size="9.5" text-anchor="middle" class="ns">(MPN with ruxo)</text>
<clipPath id="c710"><rect x="268" y="507" width="96.30000000000001" height="75.5"/></clipPath>
<g clip-path="url(#c710)">
<ellipse cx="285" cy="519" rx="18" ry="5.8" fill="#000" opacity="1" filter="url(#b1)"/>
<ellipse cx="283" cy="561" rx="9" ry="9" fill="#000" opacity="0.5" filter="url(#b2)"/>
<path d="M295 510h1m-12 1h1m10 0h1m-12 1h1m12 0h1m2 0h1m-30 1h1m6 0h1m2 0h1m2 0h1m5 0h1m0 0h1m0 0h1m1 0h1m1 0h1m1 0h1m6 0h1m-37 1h1m7 0h1m0 0h1m2 0h1m0 0h1m4 0h1m2 0h1m0 0h1m4 0h1m11 0h1m2 0h1m7 0h1m-52 1h1m1 0h1m7 0h1m0 0h1m0 0h1m0 0h1m2 0h1m1 0h1m3 0h1m0 0h1m4 0h1m0 0h1m8 0h1m0 0h1m-40 1h1m1 0h1m3 0h1m2 0h1m1 0h1m0 0h1m0 0h1m1 0h1m0 0h1m0 0h1m1 0h1m0 0h1m0 0h1m0 0h1m0 0h1m0 0h1m1 0h1m1 0h1m9 0h1m0 0h1m8 0h1m-49 1h1m3 0h1m0 0h1m2 0h1m0 0h1m1 0h1m1 0h1m0 0h1m1 0h1m2 0h1m0 0h1m0 0h1m0 0h1m1 0h1m0 0h1m1 0h1m5 0h1m2 0h1m1 0h1m0 0h1m1 0h1m1 0h1m0 0h1m-44 1h1m1 0h1m2 0h1m2 0h1m0 0h1m0 0h1m0 0h1m0 0h1m1 0h1m0 0h1m0 0h1m1 0h1m0 0h1m0 0h1m0 0h1m0 0h1m1 0h1m0 0h1m0 0h1m0 0h1m0 0h1m1 0h1m2 0h1m3 0h1m12 0h1m-52 1h1m1 0h1m0 0h1m0 0h1m3 0h1m3 0h1m0 0h1m1 0h1m0 0h1m0 0h1m0 0h1m0 0h1m0 0h1m0 0h1m0 0h1m0 0h1m0 0h1m0 0h1m0 0h1m2 0h1m0 0h1m0 0h1m7 0h1m13 0h1m-51 1h1m1 0h1m1 0h1m2 0h1m0 0h1m0 0h1m1 0h1m1 0h1m2 0h1m1 0h1m3 0h1m2 0h1m0 0h1m0 0h1m1 0h1m1 0h1m0 0h1m11 0h1m-41 1h1m1 0h1m1 0h1m1 0h1m2 0h1m0 0h1m2 0h1m1 0h1m0 0h1m0 0h1m1 0h1m0 0h1m0 0h1m2 0h1m12 0h1m-44 1h1m1 0h1m6 0h1m0 0h1m2 0h1m0 0h1m1 0h1m1 0h1m0 0h1m2 0h1m4 0h1m1 0h1m0 0h1m0 0h1m7 0h1m-40 1h1m6 0h1m3 0h1m10 0h1m0 0h1m0 0h1m0 0h1m7 0h1m13 0h1m-46 1h1m6 0h1m1 0h1m8 0h1m1 0h1m0 0h1m5 0h1m2 0h1m-23 1h1m3 0h1m1 0h1m1 0h1m5 0h1m12 0h1m-35 1h1m14 0h1m7 1h1m-25 7h1m8 1h1m-3 1h1m-9 1h1m10 1h1m-5 1h1m2 0h1m-4 1h1m14 0h1m-15 1h1m10 0h1m-22 1h1m7 0h1m14 0h1m1 0h1m4 0h1m-27 1h1m2 0h1m4 0h1m9 0h1m-18 1h1m8 0h1m3 0h1m4 0h1m4 0h1m-26 1h1m1 0h1m1 0h1m7 0h1m1 0h1m0 0h1m-12 1h1m7 0h1m2 0h1m5 0h1m1 0h1m-21 1h1m0 0h1m0 0h1m2 0h1m0 0h1m0 0h1m0 0h1m0 0h1m5 0h1m3 0h1m-15 1h1m2 0h1m4 0h1m2 0h1m5 0h1m1 0h1m4 0h1m-33 1h1m5 0h1m1 0h1m0 0h1m4 0h1m4 0h1m3 0h1m0 0h1m3 0h1m3 0h1m-29 1h1m4 0h1m0 0h1m0 0h1m4 0h1m3 0h1m4 0h1m-24 1h1m1 0h1m1 0h1m1 0h1m2 0h1m1 0h1m0 0h1m0 0h1m0 0h1m0 0h1m5 0h1m0 0h1m-28 1h1m1 0h1m4 0h1m2 0h1m3 0h1m0 0h1m2 0h1m0 0h1m5 0h1m0 0h1m-25 1h1m2 0h1m0 0h1m0 0h1m0 0h1m0 0h1m1 0h1m0 0h1m0 0h1m1 0h1m0 0h1m1 0h1m1 0h1m2 0h1m1 0h1m4 0h1m0 0h1m0 0h1m2 0h1m-28 1h1m0 0h1m1 0h1m0 0h1m0 0h1m1 0h1m1 0h1m1 0h1m0 0h1m0 0h1m2 0h1m2 0h1m0 0h1m-25 1h1m2 0h1m1 0h1m0 0h1m3 0h1m0 0h1m0 0h1m0 0h1m1 0h1m0 0h1m1 0h1m0 0h1m0 0h1m4 0h1m3 0h1m1 0h1m-35 1h1m2 0h1m0 0h1m0 0h1m0 0h1m2 0h1m1 0h1m1 0h1m0 0h1m0 0h1m0 0h1m1 0h1m2 0h1m7 0h1m-31 1h1m1 0h1m6 0h1m0 0h1m0 0h1m1 0h1m0 0h1m0 0h1m0 0h1m0 0h1m0 0h1m0 0h1m0 0h1m3 0h1m1 0h1m2 0h1m0 0h1m-27 1h1m1 0h1m0 0h1m1 0h1m1 0h1m0 0h1m0 0h1m0 0h1m0 0h1m0 0h1m0 0h1m0 0h1m1 0h1m1 0h1m3 0h1m2 0h1m6 0h1m-35 1h1m5 0h1m0 0h1m0 0h1m1 0h1m2 0h1m0 0h1m0 0h1m1 0h1m2 0h1m0 0h1m4 0h1m9 0h1m-39 1h1m0 0h1m2 0h1m3 0h1m0 0h1m1 0h1m1 0h1m0 0h1m0 0h1m0 0h1m1 0h1m0 0h1m0 0h1m3 0h1m1 0h1m1 0h1m-24 1h1m1 0h1m1 0h1m0 0h1m0 0h1m0 0h1m2 0h1m0 0h1m0 0h1m0 0h1m1 0h1m1 0h1m1 0h1m6 0h1m-25 1h1m1 0h1m0 0h1m0 0h1m0 0h1m0 0h1m1 0h1m0 0h1m2 0h1m2 0h1m1 0h1m1 0h1m0 0h1m6 0h1m-35 1h1m0 0h1m3 0h1m0 0h1m1 0h1m2 0h1m0 0h1m0 0h1m0 0h1m0 0h1m1 0h1m0 0h1m0 0h1m1 0h1m2 0h1m1 0h1m0 0h1m2 0h1m4 0h1m-32 1h1m0 0h1m0 0h1m0 0h1m1 0h1m0 0h1m1 0h1m0 0h1m1 0h1m0 0h1m0 0h1m1 0h1m2 0h1m0 0h1m0 0h1m5 0h1m-29 1h1m2 0h1m2 0h1m1 0h1m1 0h1m0 0h1m0 0h1m2 0h1m2 0h1m1 0h1m1 0h1m1 0h1m1 0h1m0 0h1m7 0h1m1 0h1m-38 1h1m0 0h1m2 0h1m0 0h1m5 0h1m0 0h1m1 0h1m0 0h1m0 0h1m2 0h1m0 0h1m1 0h1m0 0h1m0 0h1m5 0h1m-33 1h1m0 0h1m2 0h1m2 0h1m0 0h1m1 0h1m0 0h1m0 0h1m0 0h1m0 0h1m0 0h1m0 0h1m0 0h1m1 0h1m0 0h1m0 0h1m0 0h1m3 0h1m0 0h1m0 0h1m2 0h1m-30 1h1m1 0h1m6 0h1m1 0h1m0 0h1m0 0h1m4 0h1m2 0h1m0 0h1m14 0h1m-36 1h1m0 0h1m0 0h1m1 0h1m0 0h1m1 0h1m3 0h1m1 0h1m1 0h1m0 0h1m1 0h1m1 0h1m6 0h1m-31 1h1m1 0h1m1 0h1m2 0h1m3 0h1m0 0h1m0 0h1m0 0h1m0 0h1m1 0h1m0 0h1m0 0h1m0 0h1m1 0h1m1 0h1m0 0h1m4 0h1m-31 1h1m0 0h1m3 0h1m1 0h1m0 0h1m1 0h1m0 0h1m0 0h1m0 0h1m1 0h1m0 0h1m0 0h1m1 0h1m0 0h1m0 0h1m0 0h1m-19 1h1m1 0h1m0 0h1m0 0h1m2 0h1m3 0h1m0 0h1m3 0h1m0 0h1m7 0h1m0 0h1m-31 1h1m5 0h1m1 0h1m0 0h1m5 0h1m0 0h1m0 0h1m2 0h1m0 0h1m20 0h1m-41 1h1m3 0h1m0 0h1m1 0h1m0 0h1m1 0h1m3 0h1m0 0h1m0 0h1m0 0h1m0 0h1m0 0h1m1 0h1m4 0h1m0 0h1m-28 1h1m6 0h1m2 0h1m2 0h1m0 0h1m1 0h1m0 0h1m2 0h1m0 0h1m8 0h1m-34 1h1m3 0h1m1 0h1m1 0h1m0 0h1m2 0h1m0 0h1m0 0h1m1 0h1m2 0h1m3 0h1m9 0h1m1 0h1m-28 1h1m5 0h1m0 0h1m2 0h1m2 0h1m-19 1h1m4 0h1m11 0h1m0 0h1m0 0h1m-10 1h1m2 0h1m4 0h1m3 0h1m1 0h1m-23 1h1m0 0h1m4 0h1m2 0h1m0 0h1m0 0h1m4 0h1m0 0h1m4 0h1m-22 1h1m5 0h1m1 0h1m4 0h1m-1 1h1" transform="translate(0 .5)" stroke="#000" stroke-width="1" opacity="0.42"/>
<path d="M280 508h1m-10 4h1m2 0h1m17 0h1m4 0h1m-26 1h1m0 0h1m5 0h1m4 0h1m0 0h1m1 0h1m9 0h1m3 0h1m1 0h1m-30 1h1m0 0h1m2 0h1m3 0h1m4 0h1m2 0h1m1 0h1m0 0h1m0 0h1m0 0h1m16 0h1m-44 1h1m1 0h1m1 0h1m1 0h1m1 0h1m1 0h1m0 0h1m1 0h1m3 0h1m0 0h1m2 0h1m1 0h1m1 0h1m0 0h1m3 0h1m1 0h1m0 0h1m1 0h1m4 0h1m1 0h1m-44 1h1m0 0h1m3 0h1m0 0h1m0 0h1m0 0h1m0 0h1m1 0h1m0 0h1m4 0h1m0 0h1m0 0h1m1 0h1m0 0h1m4 0h1m1 0h1m1 0h1m5 0h1m0 0h1m8 0h1m5 0h1m-53 1h1m1 0h1m1 0h1m0 0h1m1 0h1m0 0h1m0 0h1m0 0h1m0 0h1m0 0h1m0 0h1m0 0h1m0 0h1m1 0h1m1 0h1m2 0h1m0 0h1m3 0h1m2 0h1m3 0h1m0 0h1m0 0h1m1 0h1m5 0h1m4 0h1m-48 1h1m1 0h1m1 0h1m3 0h1m0 0h1m0 0h1m0 0h1m0 0h1m0 0h1m0 0h1m1 0h1m0 0h1m0 0h1m0 0h1m0 0h1m0 0h1m0 0h1m0 0h1m0 0h1m0 0h1m0 0h1m1 0h1m2 0h1m6 0h1m0 0h1m5 0h1m-47 1h1m0 0h1m0 0h1m1 0h1m1 0h1m0 0h1m1 0h1m0 0h1m1 0h1m0 0h1m7 0h1m1 0h1m0 0h1m3 0h1m2 0h1m15 0h1m-50 1h1m2 0h1m0 0h1m1 0h1m0 0h1m0 0h1m0 0h1m3 0h1m0 0h1m0 0h1m0 0h1m0 0h1m3 0h1m0 0h1m1 0h1m2 0h1m0 0h1m0 0h1m0 0h1m2 0h1m1 0h1m7 0h1m14 0h1m-57 1h1m6 0h1m1 0h1m3 0h1m4 0h1m0 0h1m3 0h1m0 0h1m0 0h1m-18 1h1m0 0h1m1 0h1m2 0h1m0 0h1m0 0h1m0 0h1m1 0h1m0 0h1m2 0h1m1 0h1m1 0h1m0 0h1m4 0h1m0 0h1m3 0h1m-41 1h1m3 0h1m3 0h1m2 0h1m2 0h1m11 0h1m2 0h1m1 0h1m7 0h1m0 0h1m-37 1h1m6 0h1m3 0h1m16 0h1m0 0h1m0 0h1m-24 1h1m0 0h1m0 0h1m8 0h1m8 0h1m-27 1h1m4 0h1m3 0h1m-7 8h1m6 1h1m7 3h1m-9 2h1m-4 1h1m4 0h1m3 0h1m3 0h1m-11 1h1m0 0h1m11 0h1m-19 1h1m2 0h1m1 0h1m0 0h1m5 0h1m8 0h1m-30 1h1m6 0h1m0 0h1m8 0h1m1 0h1m-21 1h1m3 0h1m4 0h1m1 0h1m-10 1h1m0 0h1m2 0h1m12 0h1m0 0h1m-7 1h1m1 0h1m24 0h1m-42 1h1m4 0h1m2 0h1m12 0h1m2 0h1m-20 1h1m0 0h1m1 0h1m1 0h1m0 0h1m0 0h1m3 0h1m1 0h1m2 0h1m1 0h1m0 0h1m2 0h1m0 0h1m-29 1h1m5 0h1m2 0h1m3 0h1m5 0h1m0 0h1m1 0h1m0 0h1m8 0h1m-33 1h1m6 0h1m0 0h1m0 0h1m2 0h1m1 0h1m0 0h1m0 0h1m1 0h1m1 0h1m0 0h1m6 0h1m-27 1h1m1 0h1m3 0h1m3 0h1m1 0h1m0 0h1m1 0h1m1 0h1m0 0h1m4 0h1m0 0h1m0 0h1m1 0h1m-22 1h1m1 0h1m4 0h1m2 0h1m0 0h1m1 0h1m0 0h1m3 0h1m3 0h1m-25 1h1m2 0h1m0 0h1m1 0h1m0 0h1m2 0h1m0 0h1m0 0h1m0 0h1m1 0h1m0 0h1m1 0h1m-23 1h1m3 0h1m0 0h1m0 0h1m1 0h1m0 0h1m0 0h1m0 0h1m0 0h1m0 0h1m1 0h1m0 0h1m0 0h1m0 0h1m1 0h1m0 0h1m1 0h1m4 0h1m0 0h1m-30 1h1m1 0h1m0 0h1m0 0h1m1 0h1m3 0h1m0 0h1m1 0h1m1 0h1m0 0h1m0 0h1m0 0h1m5 0h1m1 0h1m-21 1h1m6 0h1m0 0h1m1 0h1m0 0h1m0 0h1m0 0h1m0 0h1m0 0h1m2 0h1m4 0h1m-31 1h1m1 0h1m2 0h1m0 0h1m0 0h1m0 0h1m0 0h1m0 0h1m1 0h1m0 0h1m0 0h1m1 0h1m1 0h1m0 0h1m3 0h1m0 0h1m0 0h1m-27 1h1m4 0h1m2 0h1m1 0h1m2 0h1m0 0h1m0 0h1m1 0h1m0 0h1m0 0h1m0 0h1m1 0h1m0 0h1m0 0h1m3 0h1m5 0h1m-34 1h1m1 0h1m1 0h1m0 0h1m0 0h1m2 0h1m0 0h1m1 0h1m0 0h1m0 0h1m0 0h1m0 0h1m0 0h1m0 0h1m1 0h1m0 0h1m1 0h1m0 0h1m1 0h1m0 0h1m0 0h1m-29 1h1m2 0h1m1 0h1m0 0h1m0 0h1m0 0h1m0 0h1m2 0h1m0 0h1m3 0h1m2 0h1m2 0h1m0 0h1m3 0h1m5 0h1m-36 1h1m4 0h1m3 0h1m0 0h1m1 0h1m0 0h1m0 0h1m0 0h1m2 0h1m0 0h1m0 0h1m0 0h1m1 0h1m0 0h1m15 0h1m-36 1h1m0 0h1m2 0h1m2 0h1m0 0h1m1 0h1m0 0h1m2 0h1m0 0h1m2 0h1m3 0h1m5 0h1m-32 1h1m4 0h1m0 0h1m0 0h1m2 0h1m0 0h1m1 0h1m0 0h1m1 0h1m0 0h1m1 0h1m0 0h1m0 0h1m0 0h1m1 0h1m0 0h1m2 0h1m-28 1h1m2 0h1m0 0h1m0 0h1m0 0h1m0 0h1m0 0h1m0 0h1m1 0h1m0 0h1m0 0h1m0 0h1m1 0h1m1 0h1m6 0h1m-30 1h1m2 0h1m2 0h1m1 0h1m0 0h1m3 0h1m0 0h1m0 0h1m2 0h1m0 0h1m1 0h1m1 0h1m0 0h1m0 0h1m2 0h1m-29 1h1m3 0h1m2 0h1m0 0h1m0 0h1m0 0h1m2 0h1m0 0h1m1 0h1m0 0h1m1 0h1m0 0h1m0 0h1m2 0h1m1 0h1m2 0h1m2 0h1m0 0h1m-30 1h1m1 0h1m0 0h1m0 0h1m0 0h1m0 0h1m0 0h1m1 0h1m0 0h1m0 0h1m0 0h1m1 0h1m0 0h1m0 0h1m0 0h1m1 0h1m0 0h1m0 0h1m2 0h1m0 0h1m5 0h1m-34 1h1m0 0h1m0 0h1m0 0h1m1 0h1m1 0h1m0 0h1m0 0h1m2 0h1m1 0h1m3 0h1m-18 1h1m0 0h1m1 0h1m2 0h1m0 0h1m0 0h1m1 0h1m0 0h1m0 0h1m0 0h1m2 0h1m2 0h1m1 0h1m1 0h1m1 0h1m0 0h1m5 0h1m-36 1h1m0 0h1m2 0h1m3 0h1m2 0h1m0 0h1m0 0h1m3 0h1m1 0h1m1 0h1m1 0h1m0 0h1m1 0h1m1 0h1m0 0h1m1 0h1m-25 1h1m2 0h1m0 0h1m1 0h1m0 0h1m0 0h1m1 0h1m0 0h1m1 0h1m1 0h1m4 0h1m-27 1h1m0 0h1m0 0h1m1 0h1m0 0h1m4 0h1m3 0h1m0 0h1m0 0h1m0 0h1m2 0h1m0 0h1m1 0h1m0 0h1m2 0h1m1 0h1m2 0h1m-34 1h1m4 0h1m6 0h1m6 0h1m1 0h1m2 0h1m2 0h1m-26 1h1m0 0h1m2 0h1m1 0h1m6 0h1m1 0h1m2 0h1m-16 1h1m2 0h1m0 0h1m0 0h1m5 0h1m-7 1h1m0 0h1m0 0h1m0 0h1m1 0h1m0 0h1m8 0h1m0 0h1m1 0h1m0 0h1m-19 1h1m2 0h1m0 0h1m8 0h1m1 0h1m-22 1h1m2 0h1m5 0h1m1 0h1m0 0h1m0 0h1m1 0h1m-21 1h1m0 0h1m11 0h1m1 0h1m4 0h1m0 0h1m8 0h1m-20 1h1m11 0h1m-8 1h1" transform="translate(0 .5)" stroke="#000" stroke-width="1" opacity="0.42"/>
<path d="M281 511h1m14 0h1m-28 1h1m16 0h1m10 0h1m-21 1h1m0 0h1m7 0h1m7 0h1m8 0h1m-28 1h1m0 0h1m3 0h1m3 0h1m5 0h1m4 0h1m0 0h1m2 0h1m9 0h1m15 0h1m-53 1h1m1 0h1m0 0h1m2 0h1m0 0h1m0 0h1m0 0h1m0 0h1m2 0h1m1 0h1m1 0h1m2 0h1m2 0h1m1 0h1m23 0h1m-56 1h1m6 0h1m1 0h1m0 0h1m0 0h1m1 0h1m1 0h1m1 0h1m1 0h1m0 0h1m0 0h1m0 0h1m1 0h1m0 0h1m1 0h1m5 0h1m1 0h1m3 0h1m-39 1h1m1 0h1m2 0h1m2 0h1m1 0h1m0 0h1m0 0h1m0 0h1m0 0h1m1 0h1m0 0h1m0 0h1m0 0h1m0 0h1m1 0h1m0 0h1m0 0h1m1 0h1m0 0h1m2 0h1m1 0h1m0 0h1m0 0h1m2 0h1m-38 1h1m2 0h1m0 0h1m1 0h1m2 0h1m0 0h1m1 0h1m3 0h1m0 0h1m0 0h1m0 0h1m1 0h1m0 0h1m0 0h1m1 0h1m5 0h1m5 0h1m1 0h1m4 0h1m-46 1h1m0 0h1m2 0h1m0 0h1m0 0h1m0 0h1m1 0h1m1 0h1m2 0h1m0 0h1m0 0h1m0 0h1m1 0h1m1 0h1m0 0h1m1 0h1m0 0h1m0 0h1m0 0h1m0 0h1m0 0h1m1 0h1m2 0h1m0 0h1m2 0h1m5 0h1m-44 1h1m0 0h1m0 0h1m1 0h1m3 0h1m0 0h1m0 0h1m0 0h1m2 0h1m0 0h1m0 0h1m0 0h1m0 0h1m0 0h1m0 0h1m0 0h1m0 0h1m0 0h1m0 0h1m0 0h1m0 0h1m0 0h1m1 0h1m1 0h1m0 0h1m5 0h1m1 0h1m-42 1h1m3 0h1m1 0h1m5 0h1m0 0h1m0 0h1m1 0h1m0 0h1m0 0h1m0 0h1m6 0h1m1 0h1m3 0h1m1 0h1m7 0h1m2 0h1m-45 1h1m0 0h1m3 0h1m0 0h1m0 0h1m0 0h1m0 0h1m0 0h1m0 0h1m0 0h1m0 0h1m1 0h1m0 0h1m2 0h1m0 0h1m0 0h1m0 0h1m3 0h1m1 0h1m0 0h1m1 0h1m13 0h1m-46 1h1m11 0h1m1 0h1m2 0h1m3 0h1m2 0h1m1 0h1m0 0h1m0 0h1m-21 1h1m6 0h1m0 0h1m4 0h1m2 0h1m0 0h1m0 0h1m0 0h1m3 0h1m-27 1h1m13 0h1m4 0h1m-10 1h1m0 0h1m-1 2h1m-5 3h1m13 4h1m-12 1h1m16 1h1m-20 1h1m-5 2h1m11 0h1m0 0h1m-12 1h1m2 0h1m13 0h1m-15 1h1m0 0h1m2 0h1m1 0h1m-6 1h1m4 0h1m2 0h1m1 0h1m3 0h1m-25 1h1m6 1h1m1 0h1m0 0h1m1 0h1m3 0h1m11 0h1m-27 1h1m2 0h1m3 0h1m1 0h1m2 0h1m-18 1h1m11 0h1m3 0h1m3 0h1m-22 1h1m2 0h1m2 0h1m4 0h1m11 0h1m1 0h1m-23 1h1m2 0h1m2 0h1m2 0h1m0 0h1m0 0h1m4 0h1m0 0h1m1 0h1m3 0h1m-25 1h1m9 0h1m0 0h1m0 0h1m1 0h1m3 0h1m0 0h1m1 0h1m-24 1h1m0 0h1m1 0h1m1 0h1m0 0h1m0 0h1m0 0h1m0 0h1m2 0h1m1 0h1m0 0h1m3 0h1m0 0h1m0 0h1m0 0h1m3 0h1m-21 1h1m0 0h1m3 0h1m0 0h1m2 0h1m0 0h1m1 0h1m3 0h1m4 0h1m-27 1h1m3 0h1m1 0h1m0 0h1m0 0h1m0 0h1m0 0h1m0 0h1m0 0h1m0 0h1m0 0h1m1 0h1m0 0h1m3 0h1m1 0h1m1 0h1m1 0h1m-23 1h1m0 0h1m0 0h1m1 0h1m0 0h1m0 0h1m5 0h1m1 0h1m3 0h1m0 0h1m0 0h1m1 0h1m2 0h1m-31 1h1m0 0h1m0 0h1m1 0h1m1 0h1m1 0h1m2 0h1m2 0h1m0 0h1m1 0h1m1 0h1m0 0h1m9 0h1m9 0h1m-43 1h1m4 0h1m1 0h1m1 0h1m0 0h1m1 0h1m0 0h1m3 0h1m0 0h1m0 0h1m14 0h1m-32 1h1m2 0h1m1 0h1m0 0h1m1 0h1m0 0h1m0 0h1m1 0h1m0 0h1m0 0h1m0 0h1m2 0h1m2 0h1m1 0h1m3 0h1m1 0h1m12 0h1m-46 1h1m0 0h1m0 0h1m0 0h1m0 0h1m1 0h1m0 0h1m0 0h1m0 0h1m0 0h1m2 0h1m0 0h1m0 0h1m2 0h1m1 0h1m1 0h1m0 0h1m1 0h1m3 0h1m-29 1h1m1 0h1m0 0h1m2 0h1m4 0h1m0 0h1m1 0h1m1 0h1m1 0h1m0 0h1m0 0h1m1 0h1m3 0h1m0 0h1m2 0h1m16 0h1m-47 1h1m1 0h1m0 0h1m2 0h1m4 0h1m0 0h1m0 0h1m0 0h1m0 0h1m1 0h1m0 0h1m0 0h1m0 0h1m1 0h1m0 0h1m3 0h1m-30 1h1m0 0h1m2 0h1m1 0h1m0 0h1m0 0h1m1 0h1m2 0h1m0 0h1m0 0h1m0 0h1m0 0h1m1 0h1m0 0h1m0 0h1m3 0h1m1 0h1m-27 1h1m1 0h1m2 0h1m2 0h1m0 0h1m1 0h1m0 0h1m1 0h1m5 0h1m0 0h1m1 0h1m3 0h1m-25 1h1m1 0h1m0 0h1m0 0h1m1 0h1m0 0h1m0 0h1m0 0h1m3 0h1m4 0h1m0 0h1m0 0h1m2 0h1m0 0h1m-30 1h1m5 0h1m1 0h1m0 0h1m1 0h1m0 0h1m0 0h1m0 0h1m0 0h1m0 0h1m1 0h1m1 0h1m0 0h1m1 0h1m1 0h1m0 0h1m0 0h1m1 0h1m2 0h1m-26 1h1m0 0h1m0 0h1m1 0h1m0 0h1m0 0h1m0 0h1m2 0h1m0 0h1m0 0h1m0 0h1m0 0h1m0 0h1m1 0h1m0 0h1m0 0h1m1 0h1m-24 1h1m1 0h1m1 0h1m0 0h1m0 0h1m0 0h1m0 0h1m0 0h1m1 0h1m0 0h1m1 0h1m4 0h1m5 0h1m17 0h1m-49 1h1m2 0h1m0 0h1m2 0h1m0 0h1m0 0h1m1 0h1m0 0h1m0 0h1m0 0h1m0 0h1m3 0h1m0 0h1m-17 1h1m1 0h1m0 0h1m1 0h1m0 0h1m1 0h1m0 0h1m0 0h1m0 0h1m1 0h1m0 0h1m1 0h1m2 0h1m0 0h1m0 0h1m-24 1h1m2 0h1m1 0h1m3 0h1m0 0h1m0 0h1m3 0h1m0 0h1m0 0h1m0 0h1m0 0h1m4 0h1m4 0h1m-29 1h1m0 0h1m5 0h1m2 0h1m0 0h1m0 0h1m0 0h1m0 0h1m0 0h1m1 0h1m4 0h1m0 0h1m3 0h1m1 0h1m-32 1h1m1 0h1m3 0h1m1 0h1m0 0h1m0 0h1m0 0h1m1 0h1m0 0h1m0 0h1m1 0h1m5 0h1m3 0h1m3 0h1m-26 1h1m1 0h1m0 0h1m1 0h1m3 0h1m1 0h1m3 0h1m2 0h1m-21 1h1m2 0h1m1 0h1m2 0h1m13 0h1m-26 1h1m2 0h1m0 0h1m0 0h1m0 0h1m3 0h1m5 0h1m1 0h1m5 0h1m2 0h1m2 0h1m-27 1h1m1 0h1m2 0h1m0 0h1m2 0h1m0 0h1m1 0h1m4 0h1m2 0h1m2 0h1m-26 1h1m5 0h1m1 0h1m0 0h1m1 0h1m0 0h1m2 0h1m2 0h1m1 0h1m1 0h1m-25 1h1m1 0h1m0 0h1m2 0h1m0 0h1m0 0h1m1 0h1m0 0h1m0 0h1m0 0h1m0 0h1m1 0h1m7 0h1m-8 1h1m1 0h1m1 0h1m0 0h1m0 0h1m6 0h1m-29 1h1m10 0h1m0 0h1m5 0h1m4 0h1m0 0h1m-11 1h1m0 0h1m-9 1h1m2 0h1m14 0h1m6 0h1m-14 1h1" transform="translate(0 .5)" stroke="#000" stroke-width="1" opacity="0.42"/>
<path d="M285 508h1m12 3h1m2 0h1m1 0h1m1 0h1m0 0h1m1 0h1m-21 1h1m7 0h1m5 0h1m4 0h1m0 0h1m1 0h1m0 0h1m-22 1h1m3 0h1m0 0h1m0 0h1m0 0h1m1 0h1m0 0h1m0 0h1m2 0h1m3 0h1m0 0h1m0 0h1m0 0h1m0 0h1m1 0h1m1 0h1m0 0h1m8 0h1m-52 1h1m11 0h1m5 0h1m0 0h1m0 0h1m0 0h1m0 0h1m0 0h1m0 0h1m0 0h1m2 0h1m1 0h1m0 0h1m0 0h1m0 0h1m0 0h1m0 0h1m3 0h1m1 0h1m1 0h1m0 0h1m4 0h1m-50 1h1m11 0h1m0 0h1m0 0h1m0 0h1m0 0h1m2 0h1m0 0h1m0 0h1m1 0h1m0 0h1m0 0h1m0 0h1m0 0h1m0 0h1m0 0h1m0 0h1m0 0h1m0 0h1m0 0h1m0 0h1m0 0h1m0 0h1m0 0h1m1 0h1m0 0h1m0 0h1m1 0h1m-50 1h1m2 0h1m3 0h1m1 0h1m0 0h1m4 0h1m3 0h1m1 0h1m0 0h1m1 0h1m1 0h1m0 0h1m0 0h1m1 0h1m0 0h1m0 0h1m0 0h1m0 0h1m0 0h1m0 0h1m0 0h1m0 0h1m0 0h1m0 0h1m0 0h1m0 0h1m1 0h1m1 0h1m2 0h1m0 0h1m-35 1h1m4 0h1m2 0h1m0 0h1m3 0h1m0 0h1m0 0h1m0 0h1m0 0h1m0 0h1m0 0h1m0 0h1m0 0h1m0 0h1m2 0h1m1 0h1m0 0h1m0 0h1m0 0h1m0 0h1m1 0h1m3 0h1m3 0h1m-53 1h1m1 0h1m0 0h1m1 0h1m2 0h1m5 0h1m3 0h1m4 0h1m1 0h1m1 0h1m0 0h1m0 0h1m1 0h1m1 0h1m0 0h1m2 0h1m0 0h1m0 0h1m0 0h1m0 0h1m1 0h1m5 0h1m-39 1h1m2 0h1m5 0h1m0 0h1m3 0h1m0 0h1m0 0h1m0 0h1m1 0h1m5 0h1m5 0h1m8 0h1m-52 1h1m0 0h1m2 0h1m1 0h1m1 0h1m4 0h1m2 0h1m6 0h1m1 0h1m1 0h1m0 0h1m7 0h1m-32 1h1m3 0h1m2 0h1m1 0h1m14 0h1m19 0h1m-48 1h1m1 0h1m0 0h1m3 0h1m1 0h1m1 0h1m1 0h1m6 0h1m5 0h1m1 0h1m-37 1h1m1 0h1m2 0h1m1 0h1m1 0h1m5 0h1m0 0h1m0 0h1m0 0h1m0 0h1m0 0h1m0 0h1m2 0h1m7 0h1m3 0h1m-35 1h1m6 0h1m1 0h1m4 0h1m0 0h1m3 0h1m1 0h1m1 0h1m4 0h1m-28 1h1m0 0h1m0 0h1m1 0h1m0 0h1m0 0h1m3 0h1m1 0h1m0 0h1m0 0h1m1 0h1m1 0h1m0 0h1m0 0h1m4 0h1m1 0h1m-26 1h1m0 0h1m2 0h1m0 0h1m0 0h1m1 0h1m1 0h1m1 0h1m1 0h1m2 0h1m2 0h1m5 0h1m-32 1h1m1 0h1m0 0h1m0 0h1m1 0h1m2 0h1m0 0h1m0 0h1m0 0h1m0 0h1m0 0h1m0 0h1m0 0h1m0 0h1m1 0h1m0 0h1m1 0h1m1 0h1m2 0h1m0 0h1m2 0h1m0 0h1m1 0h1m1 0h1m-37 1h1m0 0h1m2 0h1m1 0h1m0 0h1m1 0h1m0 0h1m2 0h1m1 0h1m1 0h1m0 0h1m1 0h1m1 0h1m0 0h1m0 0h1m1 0h1m0 0h1m2 0h1m0 0h1m3 0h1m-33 1h1m1 0h1m1 0h1m0 0h1m0 0h1m1 0h1m0 0h1m0 0h1m2 0h1m1 0h1m0 0h1m1 0h1m0 0h1m0 0h1m0 0h1m1 0h1m4 0h1m2 0h1m0 0h1m4 0h1m-41 1h1m2 0h1m1 0h1m0 0h1m1 0h1m0 0h1m2 0h1m1 0h1m0 0h1m0 0h1m0 0h1m0 0h1m0 0h1m0 0h1m0 0h1m0 0h1m2 0h1m0 0h1m0 0h1m1 0h1m0 0h1m3 0h1m0 0h1m-33 1h1m0 0h1m0 0h1m3 0h1m0 0h1m0 0h1m0 0h1m0 0h1m0 0h1m0 0h1m0 0h1m2 0h1m0 0h1m0 0h1m0 0h1m1 0h1m0 0h1m4 0h1m0 0h1m0 0h1m25 0h1m-58 1h1m0 0h1m2 0h1m1 0h1m0 0h1m0 0h1m0 0h1m0 0h1m1 0h1m1 0h1m1 0h1m0 0h1m0 0h1m0 0h1m0 0h1m0 0h1m0 0h1m0 0h1m0 0h1m0 0h1m0 0h1m0 0h1m1 0h1m2 0h1m3 0h1m1 0h1m0 0h1m-37 1h1m0 0h1m0 0h1m1 0h1m0 0h1m0 0h1m0 0h1m0 0h1m1 0h1m0 0h1m0 0h1m0 0h1m0 0h1m0 0h1m1 0h1m0 0h1m1 0h1m4 0h1m1 0h1m2 0h1m0 0h1m3 0h1m7 0h1m-44 1h1m0 0h1m0 0h1m1 0h1m0 0h1m0 0h1m0 0h1m0 0h1m0 0h1m0 0h1m0 0h1m0 0h1m0 0h1m0 0h1m0 0h1m3 0h1m0 0h1m0 0h1m0 0h1m0 0h1m0 0h1m2 0h1m0 0h1m0 0h1m0 0h1m4 0h1m1 0h1m18 0h1m-60 1h1m0 0h1m0 0h1m1 0h1m0 0h1m0 0h1m0 0h1m1 0h1m0 0h1m0 0h1m0 0h1m0 0h1m0 0h1m0 0h1m0 0h1m0 0h1m0 0h1m0 0h1m0 0h1m1 0h1m0 0h1m3 0h1m2 0h1m4 0h1m5 0h1m-43 1h1m0 0h1m3 0h1m0 0h1m2 0h1m1 0h1m0 0h1m0 0h1m0 0h1m1 0h1m0 0h1m0 0h1m0 0h1m0 0h1m0 0h1m0 0h1m3 0h1m0 0h1m3 0h1m1 0h1m11 0h1m-46 1h1m7 0h1m2 0h1m0 0h1m1 0h1m0 0h1m0 0h1m0 0h1m1 0h1m0 0h1m0 0h1m1 0h1m1 0h1m2 0h1m2 0h1m1 0h1m2 0h1m0 0h1m12 0h1m5 0h1m1 0h1m-57 1h1m0 0h1m0 0h1m2 0h1m0 0h1m0 0h1m0 0h1m0 0h1m0 0h1m0 0h1m0 0h1m0 0h1m2 0h1m0 0h1m0 0h1m2 0h1m0 0h1m1 0h1m0 0h1m2 0h1m2 0h1m8 0h1m5 0h1m-45 1h1m0 0h1m2 0h1m0 0h1m0 0h1m0 0h1m0 0h1m0 0h1m0 0h1m0 0h1m0 0h1m0 0h1m0 0h1m0 0h1m0 0h1m0 0h1m1 0h1m0 0h1m1 0h1m3 0h1m1 0h1m14 0h1m2 0h1m-49 1h1m3 0h1m0 0h1m1 0h1m0 0h1m1 0h1m1 0h1m1 0h1m1 0h1m0 0h1m1 0h1m1 0h1m2 0h1m2 0h1m4 0h1m2 0h1m5 0h1m4 0h1m1 0h1m-48 1h1m0 0h1m0 0h1m0 0h1m1 0h1m0 0h1m1 0h1m1 0h1m0 0h1m0 0h1m0 0h1m0 0h1m2 0h1m1 0h1m0 0h1m0 0h1m1 0h1m0 0h1m3 0h1m0 0h1m0 0h1m5 0h1m14 0h1m1 0h1m0 0h1m9 0h1m-66 1h1m6 0h1m0 0h1m2 0h1m1 0h1m0 0h1m2 0h1m1 0h1m0 0h1m0 0h1m0 0h1m0 0h1m0 0h1m2 0h1m12 0h1m2 0h1m1 0h1m0 0h1m0 0h1m0 0h1m1 0h1m5 0h1m6 0h1m-63 1h1m1 0h1m0 0h1m3 0h1m1 0h1m0 0h1m2 0h1m0 0h1m0 0h1m2 0h1m0 0h1m1 0h1m4 0h1m2 0h1m0 0h1m0 0h1m9 0h1m6 0h1m1 0h1m8 0h1m-61 1h1m1 0h1m0 0h1m0 0h1m0 0h1m3 0h1m6 0h1m0 0h1m0 0h1m1 0h1m0 0h1m0 0h1m0 0h1m2 0h1m0 0h1m5 0h1m0 0h1m2 0h1m2 0h1m0 0h1m3 0h1m9 0h1m1 0h1m-60 1h1m0 0h1m0 0h1m5 0h1m1 0h1m1 0h1m0 0h1m4 0h1m1 0h1m0 0h1m2 0h1m0 0h1m1 0h1m8 0h1m4 0h1m1 0h1m3 0h1m1 0h1m6 0h1m1 0h1m-58 1h1m0 0h1m0 0h1m4 0h1m4 0h1m0 0h1m1 0h1m5 0h1m0 0h1m1 0h1m5 0h1m3 0h1m1 0h1m3 0h1m3 0h1m2 0h1m1 0h1m6 0h1m-58 1h1m4 0h1m7 0h1m0 0h1m0 0h1m6 0h1m1 0h1m20 0h1m0 0h1m1 0h1m0 0h1m1 0h1m3 0h1m4 0h1m2 0h1m-57 1h1m15 0h1m0 0h1m0 0h1m1 0h1m1 0h1m11 0h1m0 0h1m0 0h1m2 0h1m3 0h1m1 0h1m0 0h1m0 0h1m0 0h1m0 0h1m-47 1h1m2 0h1m0 0h1m1 0h1m2 0h1m13 0h1m5 0h1m1 0h1m0 0h1m4 0h1m0 0h1m1 0h1m0 0h1m0 0h1m0 0h1m2 0h1m0 0h1m1 0h1m2 0h1m1 0h1m1 0h1m-67 1h1m6 0h1m15 0h1m18 0h1m0 0h1m0 0h1m0 0h1m0 0h1m1 0h1m1 0h1m1 0h1m1 0h1m0 0h1m0 0h1m2 0h1m-37 1h1m5 0h1m7 0h1m1 0h1m1 0h1m0 0h1m0 0h1m1 0h1m0 0h1m1 0h1m0 0h1m0 0h1m0 0h1m0 0h1m2 0h1m1 0h1m2 0h1m2 0h1m2 0h1m-53 1h1m3 0h1m7 0h1m2 0h1m10 0h1m0 0h1m0 0h1m8 0h1m0 0h1m0 0h1m0 0h1m1 0h1m2 0h1m-52 1h1m19 0h1m9 0h1m1 0h1m1 0h1m1 0h1m0 0h1m0 0h1m0 0h1m1 0h1m1 0h1m3 0h1m0 0h1m1 0h1m1 0h1m-52 1h1m1 0h1m5 0h1m7 0h1m9 0h1m6 0h1m3 0h1m1 0h1m0 0h1m0 0h1m0 0h1m0 0h1m1 0h1m0 0h1m0 0h1m2 0h1m0 0h1m0 0h1m-41 1h1m3 0h1m12 0h1m1 0h1m0 0h1m0 0h1m0 0h1m0 0h1m0 0h1m0 0h1m1 0h1m0 0h1m0 0h1m0 0h1m0 0h1m0 0h1m1 0h1m0 0h1m0 0h1m5 0h1m-45 1h1m11 0h1m2 0h1m5 0h1m1 0h1m4 0h1m0 0h1m2 0h1m3 0h1m0 0h1m1 0h1m12 0h1m-43 1h1m7 0h1m1 0h1m3 0h1m0 0h1m2 0h1m1 0h1m0 0h1m3 0h1m2 0h1m11 0h1m-34 1h1m4 0h1m0 0h1m1 0h1m0 0h1m0 0h1m0 0h1m1 0h1m4 0h1m0 0h1m0 0h1m3 0h1m0 0h1m6 0h1m-43 1h1m3 0h1m2 0h1m3 0h1m1 0h1m2 0h1m0 0h1m1 0h1m1 0h1m0 0h1m0 0h1m2 0h1m0 0h1m0 0h1m0 0h1m1 0h1m0 0h1m3 0h1m5 0h1m-58 1h1m27 0h1m2 0h1m0 0h1m0 0h1m3 0h1m2 0h1m1 0h1m1 0h1m0 0h1m1 0h1m1 0h1m2 0h1m0 0h1m-33 1h1m1 0h1m4 0h1m1 0h1m0 0h1m0 0h1m1 0h1m1 0h1m0 0h1m0 0h1m0 0h1m0 0h1m0 0h1m1 0h1m0 0h1m1 0h1m0 0h1m1 0h1m0 0h1m-22 1h1m0 0h1m0 0h1m1 0h1m3 0h1m0 0h1m3 0h1m0 0h1m0 0h1m0 0h1m1 0h1m1 0h1m2 0h1m0 0h1m0 0h1m1 0h1m-28 1h1m3 0h1m1 0h1m0 0h1m0 0h1m0 0h1m0 0h1m0 0h1m0 0h1m0 0h1m0 0h1m0 0h1m1 0h1m4 0h1m-23 1h1m2 0h1m0 0h1m0 0h1m4 0h1m0 0h1m0 0h1m1 0h1m0 0h1m-17 1h1m1 0h1m0 0h1m3 0h1m0 0h1m0 0h1m0 0h1m0 0h1m0 0h1m3 0h1m0 0h1m0 0h1m1 0h1m1 0h1m1 0h1m-26 1h1m2 0h1m2 0h1m1 0h1m0 0h1m3 0h1m0 0h1m2 0h1m0 0h1m2 0h1m-20 1h1m2 0h1m8 0h1m4 0h1m1 0h1m0 0h1m-23 1h1m3 0h1m1 0h1m12 0h1m-17 1h1m0 0h1m0 0h1m1 0h1m2 0h1m4 0h1m8 0h1m3 0h1m-28 1h1m2 0h1m6 0h1m2 0h1m-10 1h1m0 0h1m0 0h1m1 0h1m5 0h1m5 0h1m-22 1h1m4 0h1m5 0h1m11 0h1m-23 1h1m7 0h1m2 1h1m-9 1h1m0 0h1m-2 2h1m14 3h1" transform="translate(0 .5)" stroke="#000" stroke-width="1" opacity="0.22"/>
</g>
<rect x="268" y="507" width="96.30000000000001" height="75.5" fill="none" stroke="#999" stroke-width="0.8"/>
<line x1="306.3" y1="507.0" x2="306.3" y2="582.5" stroke="#aaa" stroke-width="0.8"/>
<line x1="268.0" y1="547.5" x2="364.3" y2="547.5" stroke="#aaa" stroke-width="0.8"/>
<rect x="268.6" y="507.5" width="20.2" height="7.8" fill="#fff"/>
<text transform="translate(269.8 514.1) scale(1.25 1)" font-size="7.3" class="q">75.2</text>
<text transform="translate(363.4 514.1) scale(1.25 1)" font-size="7.3" class="q" text-anchor="end">1.2</text>
<rect x="268.6" y="574.3" width="20.2" height="7.8" fill="#fff"/>
<text transform="translate(269.8 580.9) scale(1.25 1)" font-size="7.3" class="q">20.8</text>
<text transform="translate(363.4 580.9) scale(1.25 1)" font-size="7.3" class="q" text-anchor="end">2.8</text>
<line x1="266.5" y1="512.5" x2="268.0" y2="512.5" stroke="#777" stroke-width="0.6"/>
<line x1="266.5" y1="530.5" x2="268.0" y2="530.5" stroke="#777" stroke-width="0.6"/>
<line x1="266.5" y1="548.0" x2="268.0" y2="548.0" stroke="#777" stroke-width="0.6"/>
<line x1="266.5" y1="565.5" x2="268.0" y2="565.5" stroke="#777" stroke-width="0.6"/>
<line x1="266.5" y1="573.7" x2="268.0" y2="573.7" stroke="#777" stroke-width="0.6"/>
<line x1="278.0" y1="582.5" x2="278.0" y2="584.0" stroke="#777" stroke-width="0.6"/>
<line x1="288.1" y1="582.5" x2="288.1" y2="584.0" stroke="#777" stroke-width="0.6"/>
<line x1="310.8" y1="582.5" x2="310.8" y2="584.0" stroke="#777" stroke-width="0.6"/>
<line x1="334.6" y1="582.5" x2="334.6" y2="584.0" stroke="#777" stroke-width="0.6"/>
<line x1="355.9" y1="582.5" x2="355.9" y2="584.0" stroke="#777" stroke-width="0.6"/>
<text x="278.0" y="590.5" font-size="4.2" text-anchor="middle" fill="#333">0</text>
<text x="288.1" y="590.5" font-size="4.2" text-anchor="middle" fill="#333">10²</text>
<text x="310.8" y="590.5" font-size="4.2" text-anchor="middle" fill="#333">10³</text>
<text x="334.6" y="590.5" font-size="4.2" text-anchor="middle" fill="#333">10⁴</text>
<text x="355.9" y="590.5" font-size="4.2" text-anchor="middle" fill="#333">10⁵</text>
<text x="265.7" y="513.9" font-size="4.2" text-anchor="end" fill="#333">10⁵</text>
<text x="265.7" y="531.9" font-size="4.2" text-anchor="end" fill="#333">10⁴</text>
<text x="265.7" y="549.4" font-size="4.2" text-anchor="end" fill="#333">10³</text>
<text x="265.7" y="566.9" font-size="4.2" text-anchor="end" fill="#333">10²</text>
<text x="265.7" y="575.1" font-size="4.2" text-anchor="end" fill="#333">0</text>
<text transform="translate(315.8 598.3) scale(1.06 1)" font-size="9.5" text-anchor="middle" class="ns">MPN 4</text>
<text transform="translate(315.8 609) scale(1.06 1)" font-size="9.5" text-anchor="middle" class="ns">(Ruxo stopped)</text>
<clipPath id="c750"><rect x="268" y="615.5" width="96.30000000000001" height="74.5"/></clipPath>
<g clip-path="url(#c750)">
<ellipse cx="283" cy="631" rx="16" ry="5.5" fill="#000" opacity="1" filter="url(#b1)"/>
<ellipse cx="284" cy="669" rx="10" ry="9" fill="#000" opacity="0.6" filter="url(#b2)"/>
<ellipse cx="320" cy="665" rx="4" ry="6" fill="#000" opacity="0.4" filter="url(#b2)"/>
<path d="M281 622h1m6 0h1m14 0h1m-30 2h1m5 0h1m2 0h1m0 0h1m2 0h1m2 0h1m-14 1h1m0 0h1m0 0h1m2 0h1m5 0h1m11 0h1m1 0h1m-29 1h1m0 0h1m2 0h1m0 0h1m0 0h1m2 0h1m1 0h1m0 0h1m7 0h1m1 0h1m-25 1h1m3 0h1m1 0h1m1 0h1m2 0h1m2 0h1m0 0h1m0 0h1m0 0h1m0 0h1m0 0h1m0 0h1m0 0h1m1 0h1m3 0h1m-32 1h1m2 0h1m0 0h1m3 0h1m0 0h1m0 0h1m1 0h1m0 0h1m1 0h1m0 0h1m0 0h1m0 0h1m1 0h1m1 0h1m1 0h1m1 0h1m2 0h1m5 0h1m0 0h1m2 0h1m5 0h1m-40 1h1m1 0h1m0 0h1m0 0h1m0 0h1m0 0h1m1 0h1m0 0h1m0 0h1m1 0h1m0 0h1m0 0h1m0 0h1m0 0h1m3 0h1m-26 1h1m0 0h1m1 0h1m5 0h1m0 0h1m0 0h1m0 0h1m0 0h1m0 0h1m0 0h1m0 0h1m0 0h1m1 0h1m0 0h1m0 0h1m1 0h1m3 0h1m6 0h1m3 0h1m5 0h1m-46 1h1m0 0h1m1 0h1m0 0h1m1 0h1m0 0h1m0 0h1m0 0h1m1 0h1m2 0h1m0 0h1m0 0h1m1 0h1m0 0h1m0 0h1m0 0h1m0 0h1m0 0h1m0 0h1m1 0h1m0 0h1m0 0h1m0 0h1m5 0h1m-32 1h1m0 0h1m1 0h1m0 0h1m0 0h1m0 0h1m1 0h1m2 0h1m0 0h1m0 0h1m1 0h1m0 0h1m0 0h1m0 0h1m2 0h1m1 0h1m0 0h1m4 0h1m2 0h1m5 0h1m-43 1h1m2 0h1m3 0h1m1 0h1m0 0h1m0 0h1m0 0h1m0 0h1m0 0h1m1 0h1m0 0h1m0 0h1m1 0h1m0 0h1m0 0h1m0 0h1m0 0h1m0 0h1m0 0h1m0 0h1m2 0h1m0 0h1m1 0h1m-34 1h1m2 0h1m4 0h1m1 0h1m1 0h1m3 0h1m0 0h1m0 0h1m1 0h1m0 0h1m0 0h1m0 0h1m0 0h1m1 0h1m1 0h1m2 0h1m3 0h1m2 0h1m-36 1h1m12 0h1m2 0h1m0 0h1m0 0h1m2 0h1m0 0h1m0 0h1m0 0h1m-6 1h1m4 0h1m6 0h1m-33 1h1m10 0h1m-10 1h1m14 0h1m1 0h1m13 0h1m-24 1h1m9 1h1m0 0h1m-23 4h1m3 1h1m0 0h1m20 2h1m-11 1h1m31 0h1m9 0h1m-6 1h1m-33 1h1m-6 1h1m8 0h1m22 0h1m2 0h1m-45 1h1m5 0h1m0 0h1m37 0h1m2 0h1m-51 1h1m10 0h1m7 0h1m26 0h1m2 0h1m-50 1h1m1 0h1m0 0h1m9 0h1m3 0h1m3 0h1m21 0h1m2 0h1m-50 1h1m4 0h1m0 0h1m0 0h1m1 0h1m4 0h1m1 0h1m1 0h1m0 0h1m20 0h1m7 0h1m0 0h1m-50 1h1m5 0h1m0 0h1m1 0h1m2 0h1m4 0h1m1 0h1m0 0h1m2 0h1m2 0h1m0 0h1m8 0h1m13 0h1m-48 1h1m2 0h1m4 0h1m5 0h1m4 0h1m0 0h1m2 0h1m8 0h1m5 0h1m0 0h1m2 0h1m0 0h1m0 0h1m3 0h1m2 0h1m0 0h1m-58 1h1m4 0h1m0 0h1m0 0h1m2 0h1m1 0h1m2 0h1m11 0h1m5 0h1m2 0h1m4 0h1m4 0h1m2 0h1m1 0h1m2 0h1m0 0h1m-54 1h1m1 0h1m3 0h1m1 0h1m3 0h1m4 0h1m0 0h1m2 0h1m0 0h1m2 0h1m0 0h1m1 0h1m0 0h1m13 0h1m4 0h1m0 0h1m3 0h1m2 0h1m-60 1h1m5 0h1m5 0h1m0 0h1m0 0h1m0 0h1m1 0h1m0 0h1m2 0h1m2 0h1m0 0h1m0 0h1m21 0h1m1 0h1m1 0h1m4 0h1m-54 1h1m2 0h1m0 0h1m0 0h1m0 0h1m5 0h1m1 0h1m1 0h1m0 0h1m0 0h1m4 0h1m0 0h1m2 0h1m14 0h1m1 0h1m1 0h1m0 0h1m1 0h1m0 0h1m0 0h1m0 0h1m-56 1h1m2 0h1m3 0h1m1 0h1m2 0h1m0 0h1m0 0h1m0 0h1m1 0h1m0 0h1m3 0h1m0 0h1m1 0h1m2 0h1m4 0h1m13 0h1m1 0h1m4 0h1m3 0h1m1 0h1m-54 1h1m0 0h1m0 0h1m1 0h1m3 0h1m6 0h1m2 0h1m5 0h1m0 0h1m1 0h1m7 0h1m0 0h1m5 0h1m8 0h1m0 0h1m-59 1h1m4 0h1m2 0h1m0 0h1m1 0h1m0 0h1m0 0h1m0 0h1m0 0h1m0 0h1m2 0h1m1 0h1m1 0h1m0 0h1m1 0h1m0 0h1m0 0h1m2 0h1m13 0h1m0 0h1m0 0h1m2 0h1m0 0h1m1 0h1m1 0h1m1 0h1m-59 1h1m1 0h1m1 0h1m0 0h1m1 0h1m1 0h1m1 0h1m0 0h1m0 0h1m1 0h1m4 0h1m0 0h1m1 0h1m4 0h1m1 0h1m4 0h1m12 0h1m0 0h1m2 0h1m-51 1h1m3 0h1m1 0h1m0 0h1m0 0h1m0 0h1m0 0h1m0 0h1m1 0h1m0 0h1m0 0h1m2 0h1m1 0h1m1 0h1m4 0h1m14 0h1m2 0h1m1 0h1m2 0h1m3 0h1m1 0h1m1 0h1m-61 1h1m1 0h1m1 0h1m0 0h1m1 0h1m0 0h1m0 0h1m0 0h1m0 0h1m0 0h1m0 0h1m1 0h1m2 0h1m0 0h1m1 0h1m0 0h1m1 0h1m1 0h1m0 0h1m0 0h1m15 0h1m3 0h1m2 0h1m-52 1h1m0 0h1m2 0h1m0 0h1m2 0h1m0 0h1m0 0h1m1 0h1m0 0h1m0 0h1m0 0h1m0 0h1m0 0h1m0 0h1m0 0h1m2 0h1m0 0h1m0 0h1m0 0h1m0 0h1m0 0h1m8 0h1m6 0h1m5 0h1m0 0h1m4 0h1m0 0h1m-58 1h1m3 0h1m0 0h1m1 0h1m0 0h1m0 0h1m1 0h1m0 0h1m1 0h1m0 0h1m0 0h1m0 0h1m0 0h1m0 0h1m1 0h1m0 0h1m0 0h1m0 0h1m1 0h1m9 0h1m10 0h1m2 0h1m0 0h1m0 0h1m1 0h1m-52 1h1m1 0h1m1 0h1m0 0h1m3 0h1m0 0h1m0 0h1m0 0h1m0 0h1m2 0h1m1 0h1m2 0h1m0 0h1m3 0h1m2 0h1m13 0h1m1 0h1m1 0h1m1 0h1m0 0h1m1 0h1m4 0h1m0 0h1m-62 1h1m0 0h1m1 0h1m2 0h1m0 0h1m0 0h1m0 0h1m0 0h1m0 0h1m0 0h1m0 0h1m0 0h1m0 0h1m0 0h1m3 0h1m0 0h1m1 0h1m0 0h1m0 0h1m0 0h1m3 0h1m3 0h1m0 0h1m10 0h1m1 0h1m0 0h1m-50 1h1m0 0h1m0 0h1m1 0h1m0 0h1m1 0h1m0 0h1m0 0h1m0 0h1m0 0h1m0 0h1m0 0h1m1 0h1m0 0h1m0 0h1m0 0h1m0 0h1m0 0h1m0 0h1m0 0h1m2 0h1m1 0h1m1 0h1m0 0h1m13 0h1m2 0h1m1 0h1m0 0h1m6 0h1m0 0h1m0 0h1m-60 1h1m0 0h1m3 0h1m2 0h1m1 0h1m1 0h1m4 0h1m2 0h1m1 0h1m1 0h1m0 0h1m0 0h1m1 0h1m0 0h1m17 0h1m0 0h1m0 0h1m2 0h1m3 0h1m-54 1h1m2 0h1m0 0h1m0 0h1m0 0h1m0 0h1m2 0h1m0 0h1m1 0h1m0 0h1m0 0h1m0 0h1m2 0h1m1 0h1m1 0h1m2 0h1m0 0h1m0 0h1m0 0h1m2 0h1m12 0h1m1 0h1m0 0h1m-46 1h1m2 0h1m0 0h1m0 0h1m0 0h1m1 0h1m0 0h1m3 0h1m0 0h1m0 0h1m0 0h1m0 0h1m0 0h1m2 0h1m2 0h1m0 0h1m16 0h1m1 0h1m7 0h1m-57 1h1m3 0h1m0 0h1m1 0h1m0 0h1m1 0h1m0 0h1m0 0h1m0 0h1m0 0h1m4 0h1m0 0h1m1 0h1m0 0h1m1 0h1m1 0h1m16 0h1m-43 1h1m1 0h1m1 0h1m2 0h1m1 0h1m0 0h1m0 0h1m1 0h1m0 0h1m1 0h1m2 0h1m0 0h1m0 0h1m0 0h1m0 0h1m3 0h1m14 0h1m-42 1h1m0 0h1m0 0h1m1 0h1m0 0h1m0 0h1m2 0h1m0 0h1m0 0h1m0 0h1m3 0h1m1 0h1m2 0h1m10 0h1m7 0h1m5 0h1m2 0h1m0 0h1m-54 1h1m2 0h1m2 0h1m0 0h1m0 0h1m0 0h1m1 0h1m1 0h1m0 0h1m2 0h1m0 0h1m2 0h1m1 0h1m2 0h1m22 0h1m-52 1h1m1 0h1m2 0h1m0 0h1m2 0h1m0 0h1m1 0h1m1 0h1m0 0h1m0 0h1m1 0h1m1 0h1m0 0h1m2 0h1m6 0h1m-25 1h1m2 0h1m3 0h1m0 0h1m0 0h1m0 0h1m1 0h1m1 0h1m0 0h1m35 0h1m-56 1h1m1 0h1m0 0h1m7 0h1m5 0h1m7 0h1m20 0h1m-46 1h1m4 0h1m0 0h1m2 0h1m0 0h1m3 0h1m-17 1h1m1 0h1m6 0h1m0 0h1m1 0h1m1 0h1m0 0h1m3 0h1m4 0h1m2 0h1m-23 1h1m2 0h1m2 0h1m0 0h1m1 0h1m0 0h1m0 0h1m1 0h1m2 0h1m1 0h1m13 0h1m-33 1h1m3 0h1m0 0h1m4 0h1m3 0h1m0 0h1m1 0h1m2 0h1m13 0h1m-39 1h1m15 0h1m4 0h1m10 0h1m2 0h1m-32 1h1m16 0h1m8 0h1m-5 1h1" transform="translate(0 .5)" stroke="#000" stroke-width="1" opacity="0.42"/>
<path d="M284 622h1m-15 1h1m8 0h1m3 0h1m-12 1h1m11 0h1m0 0h1m0 0h1m3 0h1m3 0h1m11 0h1m0 0h1m-35 1h1m0 0h1m0 0h1m4 0h1m4 0h1m1 0h1m4 0h1m2 0h1m-17 1h1m0 0h1m4 0h1m4 0h1m5 0h1m5 0h1m-32 1h1m2 0h1m3 0h1m0 0h1m0 0h1m0 0h1m1 0h1m0 0h1m0 0h1m1 0h1m0 0h1m0 0h1m0 0h1m0 0h1m0 0h1m4 0h1m0 0h1m0 0h1m1 0h1m3 0h1m1 0h1m-38 1h1m0 0h1m1 0h1m0 0h1m0 0h1m0 0h1m0 0h1m0 0h1m4 0h1m0 0h1m1 0h1m0 0h1m0 0h1m2 0h1m1 0h1m1 0h1m1 0h1m-29 1h1m3 0h1m0 0h1m0 0h1m0 0h1m1 0h1m0 0h1m0 0h1m0 0h1m0 0h1m0 0h1m0 0h1m1 0h1m1 0h1m0 0h1m0 0h1m1 0h1m1 0h1m0 0h1m0 0h1m1 0h1m2 0h1m-32 1h1m0 0h1m2 0h1m0 0h1m0 0h1m0 0h1m2 0h1m0 0h1m0 0h1m0 0h1m0 0h1m2 0h1m0 0h1m0 0h1m2 0h1m1 0h1m0 0h1m2 0h1m1 0h1m2 0h1m1 0h1m0 0h1m-35 1h1m0 0h1m1 0h1m0 0h1m0 0h1m0 0h1m0 0h1m1 0h1m0 0h1m0 0h1m0 0h1m0 0h1m0 0h1m0 0h1m1 0h1m0 0h1m1 0h1m1 0h1m0 0h1m2 0h1m-29 1h1m0 0h1m0 0h1m0 0h1m1 0h1m2 0h1m0 0h1m0 0h1m0 0h1m4 0h1m0 0h1m0 0h1m1 0h1m2 0h1m0 0h1m0 0h1m2 0h1m3 0h1m1 0h1m2 0h1m0 0h1m-38 1h1m0 0h1m0 0h1m0 0h1m2 0h1m4 0h1m2 0h1m2 0h1m5 0h1m0 0h1m1 0h1m0 0h1m1 0h1m0 0h1m-28 1h1m0 0h1m1 0h1m0 0h1m7 0h1m0 0h1m3 0h1m0 0h1m1 0h1m3 0h1m-28 1h1m5 0h1m3 0h1m2 0h1m3 0h1m0 0h1m2 0h1m3 0h1m-25 1h1m1 0h1m19 0h1m1 0h1m0 0h1m3 0h1m3 0h1m-25 1h1m2 0h1m7 0h1m-23 2h1m20 0h1m19 4h1m-21 2h1m-10 1h1m-5 2h1m12 0h1m-9 1h1m22 0h1m10 0h1m-45 1h1m10 0h1m7 0h1m30 0h1m-52 1h1m7 0h1m5 0h1m2 0h1m20 0h1m10 0h1m-48 1h1m2 0h1m0 0h1m0 0h1m2 0h1m5 0h1m3 0h1m2 0h1m14 0h1m-43 1h1m7 0h1m0 0h1m0 0h1m4 0h1m3 0h1m14 0h1m12 0h1m3 0h1m-39 1h1m9 0h1m20 0h1m1 0h1m7 0h1m3 0h1m-54 1h1m5 0h1m0 0h1m0 0h1m4 0h1m1 0h1m1 0h1m26 0h1m3 0h1m-51 1h1m7 0h1m2 0h1m0 0h1m0 0h1m2 0h1m1 0h1m5 0h1m10 0h1m3 0h1m1 0h1m5 0h1m3 0h1m3 0h1m5 0h1m-63 1h1m0 0h1m9 0h1m1 0h1m9 0h1m1 0h1m4 0h1m11 0h1m16 0h1m-52 1h1m3 0h1m1 0h1m0 0h1m4 0h1m1 0h1m1 0h1m4 0h1m6 0h1m3 0h1m9 0h1m8 0h1m-61 1h1m7 0h1m1 0h1m0 0h1m2 0h1m1 0h1m2 0h1m0 0h1m7 0h1m3 0h1m0 0h1m13 0h1m6 0h1m2 0h1m2 0h1m-57 1h1m0 0h1m0 0h1m0 0h1m1 0h1m1 0h1m2 0h1m1 0h1m2 0h1m0 0h1m0 0h1m3 0h1m1 0h1m7 0h1m7 0h1m1 0h1m2 0h1m0 0h1m0 0h1m6 0h1m0 0h1m0 0h1m-60 1h1m1 0h1m1 0h1m0 0h1m0 0h1m2 0h1m0 0h1m4 0h1m0 0h1m1 0h1m0 0h1m0 0h1m0 0h1m27 0h1m0 0h1m0 0h1m0 0h1m-51 1h1m3 0h1m0 0h1m0 0h1m1 0h1m0 0h1m1 0h1m0 0h1m1 0h1m0 0h1m0 0h1m0 0h1m0 0h1m0 0h1m0 0h1m1 0h1m0 0h1m0 0h1m2 0h1m1 0h1m2 0h1m1 0h1m9 0h1m1 0h1m1 0h1m0 0h1m0 0h1m4 0h1m-57 1h1m5 0h1m1 0h1m1 0h1m0 0h1m0 0h1m0 0h1m1 0h1m2 0h1m0 0h1m0 0h1m2 0h1m0 0h1m4 0h1m1 0h1m9 0h1m0 0h1m3 0h1m0 0h1m3 0h1m1 0h1m0 0h1m1 0h1m-58 1h1m4 0h1m2 0h1m0 0h1m1 0h1m1 0h1m0 0h1m2 0h1m0 0h1m1 0h1m1 0h1m0 0h1m0 0h1m1 0h1m4 0h1m0 0h1m11 0h1m3 0h1m2 0h1m0 0h1m0 0h1m0 0h1m0 0h1m0 0h1m3 0h1m-60 1h1m2 0h1m0 0h1m0 0h1m0 0h1m0 0h1m1 0h1m0 0h1m0 0h1m1 0h1m0 0h1m0 0h1m1 0h1m2 0h1m1 0h1m0 0h1m0 0h1m2 0h1m0 0h1m0 0h1m5 0h1m11 0h1m1 0h1m0 0h1m0 0h1m0 0h1m-49 1h1m2 0h1m0 0h1m1 0h1m1 0h1m0 0h1m0 0h1m0 0h1m0 0h1m1 0h1m1 0h1m0 0h1m0 0h1m3 0h1m1 0h1m0 0h1m1 0h1m10 0h1m3 0h1m1 0h1m0 0h1m0 0h1m0 0h1m2 0h1m-57 1h1m2 0h1m0 0h1m1 0h1m1 0h1m1 0h1m0 0h1m1 0h1m0 0h1m1 0h1m0 0h1m1 0h1m0 0h1m0 0h1m0 0h1m1 0h1m0 0h1m0 0h1m1 0h1m1 0h1m3 0h1m2 0h1m6 0h1m1 0h1m1 0h1m3 0h1m2 0h1m0 0h1m1 0h1m-58 1h1m1 0h1m2 0h1m0 0h1m0 0h1m0 0h1m0 0h1m0 0h1m0 0h1m1 0h1m1 0h1m0 0h1m2 0h1m0 0h1m2 0h1m0 0h1m0 0h1m0 0h1m0 0h1m3 0h1m4 0h1m2 0h1m9 0h1m0 0h1m2 0h1m1 0h1m2 0h1m1 0h1m-62 1h1m3 0h1m3 0h1m3 0h1m0 0h1m0 0h1m0 0h1m0 0h1m0 0h1m1 0h1m1 0h1m0 0h1m1 0h1m0 0h1m2 0h1m0 0h1m4 0h1m8 0h1m3 0h1m0 0h1m0 0h1m0 0h1m4 0h1m-56 1h1m1 0h1m0 0h1m0 0h1m1 0h1m2 0h1m0 0h1m4 0h1m0 0h1m0 0h1m4 0h1m1 0h1m0 0h1m1 0h1m8 0h1m2 0h1m10 0h1m2 0h1m4 0h1m-57 1h1m0 0h1m0 0h1m2 0h1m0 0h1m1 0h1m2 0h1m0 0h1m1 0h1m2 0h1m0 0h1m0 0h1m0 0h1m0 0h1m0 0h1m1 0h1m1 0h1m1 0h1m0 0h1m4 0h1m7 0h1m2 0h1m2 0h1m0 0h1m3 0h1m-54 1h1m2 0h1m0 0h1m0 0h1m2 0h1m0 0h1m2 0h1m0 0h1m0 0h1m0 0h1m0 0h1m0 0h1m1 0h1m0 0h1m0 0h1m1 0h1m2 0h1m1 0h1m6 0h1m4 0h1m3 0h1m0 0h1m1 0h1m6 0h1m1 0h1m-58 1h1m1 0h1m0 0h1m0 0h1m0 0h1m0 0h1m2 0h1m0 0h1m2 0h1m1 0h1m1 0h1m0 0h1m1 0h1m0 0h1m0 0h1m1 0h1m0 0h1m1 0h1m0 0h1m1 0h1m4 0h1m10 0h1m2 0h1m0 0h1m-51 1h1m5 0h1m0 0h1m0 0h1m2 0h1m0 0h1m0 0h1m0 0h1m0 0h1m1 0h1m0 0h1m0 0h1m0 0h1m1 0h1m6 0h1m1 0h1m7 0h1m12 0h1m0 0h1m-55 1h1m0 0h1m6 0h1m0 0h1m1 0h1m2 0h1m0 0h1m5 0h1m0 0h1m0 0h1m0 0h1m0 0h1m2 0h1m4 0h1m9 0h1m0 0h1m4 0h1m0 0h1m4 0h1m-49 1h1m1 0h1m2 0h1m0 0h1m1 0h1m0 0h1m0 0h1m1 0h1m0 0h1m1 0h1m0 0h1m0 0h1m1 0h1m6 0h1m0 0h1m9 0h1m1 0h1m9 0h1m5 0h1m-61 1h1m6 0h1m0 0h1m0 0h1m0 0h1m1 0h1m0 0h1m0 0h1m1 0h1m0 0h1m5 0h1m3 0h1m1 0h1m5 0h1m1 0h1m3 0h1m-36 1h1m3 0h1m1 0h1m0 0h1m3 0h1m3 0h1m9 0h1m0 0h1m12 0h1m-47 1h1m2 0h1m0 0h1m2 0h1m4 0h1m3 0h1m2 0h1m0 0h1m0 0h1m0 0h1m1 0h1m1 0h1m1 0h1m1 0h1m2 0h1m6 0h1m-40 1h1m1 0h1m0 0h1m0 0h1m0 0h1m0 0h1m2 0h1m2 0h1m2 0h1m0 0h1m2 0h1m2 0h1m0 0h1m9 0h1m18 0h1m-55 1h1m1 0h1m4 0h1m0 0h1m3 0h1m5 0h1m2 0h1m2 0h1m0 0h1m3 0h1m7 0h1m0 0h1m14 0h1m-49 1h1m5 0h1m7 0h1m2 0h1m-17 1h1m0 0h1m5 0h1m0 0h1m0 0h1m5 0h1m4 0h1m4 0h1m0 0h1m-27 1h1m4 0h1m5 0h1m10 0h1m1 0h1m22 0h1m-48 1h1m5 0h1m12 0h1m5 0h1m-22 1h1m2 0h1m0 0h1m7 0h1m2 0h1m-22 1h1m11 0h1m26 0h1m12 0h1m-43 1h1m0 0h1m2 0h1m2 0h1m0 0h1m8 0h1m-28 1h1m9 0h1m0 0h1m0 0h1m8 0h1m5 0h1" transform="translate(0 .5)" stroke="#000" stroke-width="1" opacity="0.42"/>
<path d="M298 621h1m3 1h1m-23 1h1m1 0h1m2 0h1m6 0h1m-23 1h1m3 0h1m5 0h1m-12 1h1m1 0h1m0 0h1m4 0h1m7 0h1m0 0h1m3 0h1m0 0h1m-22 1h1m0 0h1m1 0h1m0 0h1m7 0h1m1 0h1m0 0h1m2 0h1m0 0h1m1 0h1m3 0h1m1 0h1m-20 1h1m0 0h1m0 0h1m0 0h1m0 0h1m0 0h1m1 0h1m0 0h1m1 0h1m3 0h1m2 0h1m1 0h1m-27 1h1m0 0h1m0 0h1m1 0h1m2 0h1m0 0h1m0 0h1m1 0h1m1 0h1m0 0h1m0 0h1m1 0h1m1 0h1m0 0h1m0 0h1m0 0h1m1 0h1m3 0h1m2 0h1m-34 1h1m0 0h1m0 0h1m4 0h1m0 0h1m0 0h1m0 0h1m0 0h1m0 0h1m0 0h1m1 0h1m0 0h1m0 0h1m1 0h1m0 0h1m1 0h1m0 0h1m0 0h1m0 0h1m0 0h1m0 0h1m-27 1h1m2 0h1m0 0h1m0 0h1m0 0h1m0 0h1m0 0h1m0 0h1m0 0h1m0 0h1m0 0h1m0 0h1m0 0h1m0 0h1m1 0h1m1 0h1m0 0h1m0 0h1m0 0h1m0 0h1m2 0h1m1 0h1m-27 1h1m0 0h1m0 0h1m2 0h1m1 0h1m0 0h1m0 0h1m0 0h1m2 0h1m0 0h1m1 0h1m1 0h1m1 0h1m0 0h1m0 0h1m0 0h1m1 0h1m2 0h1m2 0h1m2 0h1m-39 1h1m3 0h1m4 0h1m2 0h1m0 0h1m0 0h1m0 0h1m0 0h1m0 0h1m2 0h1m2 0h1m0 0h1m0 0h1m0 0h1m4 0h1m10 0h1m1 0h1m1 0h1m-40 1h1m0 0h1m0 0h1m0 0h1m0 0h1m0 0h1m0 0h1m0 0h1m0 0h1m0 0h1m0 0h1m0 0h1m0 0h1m2 0h1m3 0h1m4 0h1m2 0h1m-32 1h1m1 0h1m2 0h1m2 0h1m2 0h1m2 0h1m0 0h1m1 0h1m1 0h1m0 0h1m2 0h1m0 0h1m1 0h1m-26 1h1m1 0h1m3 0h1m0 0h1m0 0h1m1 0h1m0 0h1m0 0h1m15 0h1m1 0h1m6 0h1m-42 1h1m0 0h1m0 0h1m2 0h1m2 0h1m1 0h1m4 0h1m3 0h1m1 0h1m4 0h1m4 0h1m5 0h1m-36 1h1m2 0h1m1 0h1m6 0h1m0 0h1m0 0h1m3 0h1m-15 1h1m7 0h1m0 0h1m2 0h1m0 0h1m-11 1h1m15 4h1m-6 1h1m-3 2h1m12 0h1m-2 1h1m-27 2h1m49 0h1m3 0h1m-52 1h1m4 0h1m8 0h1m0 0h1m6 0h1m21 0h1m1 0h1m-40 1h1m20 0h1m-31 1h1m18 0h1m20 0h1m10 0h1m-53 1h1m3 0h1m1 0h1m5 0h1m1 0h1m1 0h1m21 0h1m5 0h1m-45 1h1m2 0h1m1 0h1m2 0h1m4 0h1m0 0h1m5 0h1m24 0h1m-46 1h1m5 0h1m0 0h1m6 0h1m32 0h1m1 0h1m2 0h1m-52 1h1m3 0h1m5 0h1m0 0h1m5 0h1m0 0h1m4 0h1m3 0h1m11 0h1m1 0h1m4 0h1m1 0h1m2 0h1m2 0h1m-59 1h1m14 0h1m6 0h1m5 0h1m10 0h1m3 0h1m9 0h1m-55 1h1m7 0h1m1 0h1m0 0h1m0 0h1m2 0h1m1 0h1m0 0h1m0 0h1m0 0h1m10 0h1m4 0h1m0 0h1m7 0h1m4 0h1m1 0h1m0 0h1m-51 1h1m4 0h1m1 0h1m0 0h1m2 0h1m1 0h1m0 0h1m0 0h1m0 0h1m5 0h1m4 0h1m2 0h1m1 0h1m13 0h1m3 0h1m1 0h1m-56 1h1m6 0h1m2 0h1m0 0h1m0 0h1m0 0h1m0 0h1m2 0h1m0 0h1m0 0h1m2 0h1m2 0h1m6 0h1m0 0h1m6 0h1m7 0h1m0 0h1m1 0h1m3 0h1m-54 1h1m1 0h1m0 0h1m0 0h1m1 0h1m0 0h1m0 0h1m0 0h1m0 0h1m0 0h1m0 0h1m2 0h1m2 0h1m3 0h1m0 0h1m2 0h1m16 0h1m1 0h1m0 0h1m4 0h1m0 0h1m0 0h1m-55 1h1m1 0h1m4 0h1m1 0h1m1 0h1m2 0h1m1 0h1m1 0h1m3 0h1m1 0h1m3 0h1m2 0h1m0 0h1m12 0h1m1 0h1m0 0h1m0 0h1m0 0h1m0 0h1m2 0h1m4 0h1m-61 1h1m0 0h1m2 0h1m2 0h1m0 0h1m0 0h1m2 0h1m0 0h1m1 0h1m0 0h1m0 0h1m1 0h1m2 0h1m1 0h1m3 0h1m3 0h1m11 0h1m2 0h1m9 0h1m-52 1h1m1 0h1m1 0h1m0 0h1m0 0h1m0 0h1m1 0h1m0 0h1m0 0h1m1 0h1m0 0h1m0 0h1m1 0h1m2 0h1m1 0h1m5 0h1m5 0h1m3 0h1m3 0h1m1 0h1m1 0h1m1 0h1m0 0h1m-51 1h1m1 0h1m1 0h1m0 0h1m0 0h1m0 0h1m0 0h1m0 0h1m0 0h1m0 0h1m1 0h1m0 0h1m0 0h1m0 0h1m0 0h1m1 0h1m1 0h1m0 0h1m1 0h1m18 0h1m0 0h1m1 0h1m0 0h1m0 0h1m0 0h1m1 0h1m0 0h1m-57 1h1m1 0h1m0 0h1m3 0h1m1 0h1m1 0h1m0 0h1m0 0h1m0 0h1m1 0h1m0 0h1m0 0h1m0 0h1m0 0h1m1 0h1m1 0h1m3 0h1m0 0h1m5 0h1m0 0h1m0 0h1m1 0h1m6 0h1m0 0h1m0 0h1m0 0h1m0 0h1m2 0h1m-55 1h1m1 0h1m0 0h1m0 0h1m2 0h1m0 0h1m0 0h1m1 0h1m0 0h1m0 0h1m0 0h1m0 0h1m0 0h1m1 0h1m1 0h1m1 0h1m3 0h1m1 0h1m1 0h1m6 0h1m7 0h1m2 0h1m0 0h1m0 0h1m1 0h1m3 0h1m-53 1h1m2 0h1m0 0h1m0 0h1m0 0h1m6 0h1m0 0h1m0 0h1m0 0h1m0 0h1m2 0h1m0 0h1m0 0h1m2 0h1m1 0h1m2 0h1m11 0h1m1 0h1m0 0h1m0 0h1m2 0h1m0 0h1m-55 1h1m2 0h1m5 0h1m0 0h1m1 0h1m0 0h1m0 0h1m1 0h1m3 0h1m1 0h1m0 0h1m0 0h1m1 0h1m2 0h1m0 0h1m15 0h1m1 0h1m0 0h1m0 0h1m0 0h1m0 0h1m3 0h1m6 0h1m-60 1h1m0 0h1m0 0h1m0 0h1m0 0h1m0 0h1m0 0h1m0 0h1m1 0h1m0 0h1m0 0h1m2 0h1m0 0h1m0 0h1m0 0h1m0 0h1m0 0h1m0 0h1m0 0h1m1 0h1m0 0h1m0 0h1m0 0h1m4 0h1m5 0h1m3 0h1m0 0h1m5 0h1m0 0h1m2 0h1m1 0h1m-55 1h1m1 0h1m1 0h1m0 0h1m0 0h1m0 0h1m0 0h1m1 0h1m0 0h1m0 0h1m0 0h1m1 0h1m0 0h1m0 0h1m0 0h1m1 0h1m1 0h1m3 0h1m9 0h1m9 0h1m0 0h1m0 0h1m2 0h1m-56 1h1m1 0h1m1 0h1m1 0h1m0 0h1m1 0h1m0 0h1m1 0h1m0 0h1m0 0h1m0 0h1m0 0h1m0 0h1m1 0h1m0 0h1m0 0h1m0 0h1m0 0h1m0 0h1m0 0h1m0 0h1m0 0h1m0 0h1m1 0h1m0 0h1m3 0h1m11 0h1m1 0h1m3 0h1m0 0h1m2 0h1m-58 1h1m0 0h1m0 0h1m2 0h1m0 0h1m1 0h1m0 0h1m0 0h1m2 0h1m0 0h1m1 0h1m1 0h1m0 0h1m0 0h1m0 0h1m0 0h1m0 0h1m0 0h1m0 0h1m0 0h1m1 0h1m3 0h1m1 0h1m9 0h1m13 0h1m-59 1h1m2 0h1m0 0h1m0 0h1m1 0h1m2 0h1m3 0h1m0 0h1m1 0h1m0 0h1m0 0h1m0 0h1m0 0h1m2 0h1m2 0h1m1 0h1m4 0h1m-34 1h1m5 0h1m1 0h1m0 0h1m2 0h1m1 0h1m2 0h1m1 0h1m3 0h1m0 0h1m0 0h1m4 0h1m10 0h1m4 0h1m0 0h1m4 0h1m3 0h1m-57 1h1m1 0h1m2 0h1m1 0h1m3 0h1m0 0h1m0 0h1m1 0h1m2 0h1m2 0h1m0 0h1m1 0h1m0 0h1m1 0h1m2 0h1m3 0h1m9 0h1m0 0h1m1 0h1m1 0h1m3 0h1m6 0h1m-62 1h1m1 0h1m1 0h1m0 0h1m3 0h1m0 0h1m0 0h1m0 0h1m2 0h1m0 0h1m0 0h1m3 0h1m0 0h1m0 0h1m4 0h1m0 0h1m9 0h1m17 0h1m-58 1h1m2 0h1m3 0h1m1 0h1m1 0h1m3 0h1m0 0h1m0 0h1m0 0h1m0 0h1m1 0h1m1 0h1m1 0h1m0 0h1m0 0h1m1 0h1m0 0h1m22 0h1m2 0h1m1 0h1m-52 1h1m4 0h1m0 0h1m0 0h1m0 0h1m1 0h1m0 0h1m0 0h1m2 0h1m6 0h1m14 0h1m5 0h1m1 0h1m0 0h1m-54 1h1m9 0h1m4 0h1m0 0h1m1 0h1m1 0h1m1 0h1m0 0h1m1 0h1m26 0h1m1 0h1m-53 1h1m6 0h1m5 0h1m1 0h1m0 0h1m0 0h1m0 0h1m3 0h1m5 0h1m0 0h1m1 0h1m-33 1h1m5 0h1m1 0h1m1 0h1m7 0h1m2 0h1m0 0h1m8 0h1m-23 1h1m1 0h1m0 0h1m2 0h1m2 0h1m13 0h1m0 0h1m10 0h1m-32 1h1m3 0h1m2 0h1m-9 1h1m10 0h1m2 0h1m-19 1h1m20 0h1m9 0h1m5 0h1m-35 1h1m1 0h1m7 0h1m12 0h1m-29 1h1m5 0h1m12 0h1m0 0h1m-22 1h1m5 0h1m0 0h1m1 0h1m0 0h1" transform="translate(0 .5)" stroke="#000" stroke-width="1" opacity="0.42"/>
<path d="M292 620h1m1 0h1m8 0h1m-20 1h1m2 0h1m2 0h1m0 0h1m0 0h1m2 0h1m1 0h1m0 0h1m0 0h1m0 0h1m1 0h1m0 0h1m0 0h1m0 0h1m1 0h1m1 0h1m0 0h1m1 0h1m6 0h1m-42 1h1m4 0h1m1 0h1m1 0h1m0 0h1m0 0h1m0 0h1m0 0h1m0 0h1m0 0h1m0 0h1m0 0h1m0 0h1m0 0h1m0 0h1m0 0h1m0 0h1m0 0h1m0 0h1m0 0h1m0 0h1m0 0h1m0 0h1m0 0h1m0 0h1m0 0h1m0 0h1m0 0h1m0 0h1m0 0h1m2 0h1m0 0h1m2 0h1m1 0h1m-47 1h1m1 0h1m0 0h1m5 0h1m0 0h1m1 0h1m1 0h1m0 0h1m0 0h1m0 0h1m0 0h1m0 0h1m0 0h1m0 0h1m0 0h1m0 0h1m0 0h1m0 0h1m0 0h1m0 0h1m0 0h1m0 0h1m0 0h1m0 0h1m1 0h1m0 0h1m0 0h1m0 0h1m0 0h1m1 0h1m1 0h1m7 0h1m-40 1h1m1 0h1m2 0h1m2 0h1m0 0h1m2 0h1m0 0h1m0 0h1m0 0h1m3 0h1m0 0h1m6 0h1m-17 1h1m2 0h1m8 0h1m-25 9h1m40 0h1m-34 2h1m-20 1h1m16 0h1m19 0h1m-44 1h1m19 2h1m2 0h1m1 0h1m3 0h1m-28 1h1m2 0h1m5 0h1m0 0h1m4 0h1m-14 1h1m9 0h1m13 0h1m0 0h1m1 0h1m-25 1h1m2 0h1m3 0h1m2 0h1m7 0h1m-21 1h1m7 0h1m0 0h1m1 0h1m2 0h1m1 0h1m3 0h1m-26 1h1m9 0h1m2 0h1m6 0h1m0 0h1m0 0h1m2 0h1m5 0h1m-28 1h1m3 0h1m2 0h1m2 0h1m2 0h1m0 0h1m0 0h1m1 0h1m1 0h1m23 0h1m0 0h1m-41 1h1m2 0h1m1 0h1m3 0h1m0 0h1m2 0h1m0 0h1m0 0h1m0 0h1m2 0h1m1 0h1m0 0h1m1 0h1m-23 1h1m0 0h1m0 0h1m6 0h1m2 0h1m2 0h1m0 0h1m1 0h1m-29 1h1m2 0h1m3 0h1m0 0h1m0 0h1m3 0h1m3 0h1m4 0h1m2 0h1m0 0h1m0 0h1m0 0h1m1 0h1m32 0h1m-59 1h1m7 0h1m1 0h1m3 0h1m2 0h1m3 0h1m1 0h1m0 0h1m5 0h1m22 0h1m-54 1h1m6 0h1m0 0h1m0 0h1m0 0h1m3 0h1m0 0h1m0 0h1m2 0h1m1 0h1m0 0h1m3 0h1m47 0h1m-80 1h1m6 0h1m1 0h1m6 0h1m0 0h1m1 0h1m0 0h1m10 0h1m5 0h1m3 0h1m22 0h1m-63 1h1m0 0h1m15 0h1m5 0h1m23 0h1m5 0h1m-55 1h1m2 0h1m0 0h1m5 0h1m3 0h1m1 0h1m0 0h1m9 0h1m35 0h1m-62 1h1m39 0h1m3 0h1m10 0h1m6 0h1m8 0h1m-61 1h1m9 0h1m3 0h1m12 0h1m4 0h1m7 0h1m1 0h1m-48 1h1m10 0h1m10 0h1m10 0h1m2 0h1m6 0h1m10 0h1m0 0h1m-48 1h1m2 0h1m28 0h1m2 0h1m3 0h1m7 0h1m-25 1h1m5 0h1m2 0h1m0 0h1m9 0h1m-31 1h1m7 0h1m7 0h1m3 0h1m5 0h1m2 0h1m2 0h1m5 0h1m0 0h1m-39 1h1m10 0h1m3 0h1m4 0h1m4 0h1m1 0h1m4 0h1m-28 1h1m1 0h1m3 0h1m4 0h1m0 0h1m6 0h1m3 0h1m1 0h1m5 0h1m2 0h1m0 0h1m-46 1h1m15 0h1m5 0h1m8 0h1m0 0h1m1 0h1m0 0h1m5 0h1m1 0h1m2 0h1m4 0h1m0 0h1m-42 1h1m3 0h1m5 0h1m2 0h1m0 0h1m6 0h1m16 0h1m-38 1h1m0 0h1m10 0h1m0 0h1m1 0h1m4 0h1m2 0h1m1 0h1m0 0h1m0 0h1m12 0h1m-38 1h1m1 0h1m2 0h1m3 0h1m6 0h1m3 0h1m1 0h1m4 0h1m4 0h1m-37 1h1m7 0h1m6 0h1m3 0h1m0 0h1m0 0h1m1 0h1m0 0h1m3 0h1m2 0h1m5 0h1m0 0h1m-34 1h1m2 0h1m2 0h1m2 0h1m4 0h1m5 0h1m9 0h1m-39 1h1m5 0h1m5 0h1m6 0h1m1 0h1m1 0h1m1 0h1m0 0h1m6 0h1m6 0h1m-38 1h1m1 0h1m5 0h1m4 0h1m0 0h1m5 0h1m0 0h1m2 0h1m1 0h1m2 0h1m-30 1h1m0 0h1m8 0h1m2 0h1m0 0h1m3 0h1m0 0h1m0 0h1m2 0h1m0 0h1m0 0h1m0 0h1m0 0h1m8 0h1m-37 1h1m4 0h1m0 0h1m1 0h1m1 0h1m2 0h1m4 0h1m0 0h1m3 0h1m8 0h1m0 0h1m20 0h1m-66 1h1m10 0h1m5 0h1m2 0h1m2 0h1m0 0h1m0 0h1m0 0h1m0 0h1m0 0h1m0 0h1m1 0h1m2 0h1m0 0h1m3 0h1m1 0h1m-29 1h1m4 0h1m0 0h1m0 0h1m0 0h1m1 0h1m1 0h1m0 0h1m1 0h1m2 0h1m1 0h1m0 0h1m2 0h1m3 0h1m1 0h1m2 0h1m-36 1h1m6 0h1m3 0h1m1 0h1m0 0h1m0 0h1m0 0h1m0 0h1m1 0h1m1 0h1m0 0h1m6 0h1m-36 1h1m4 0h1m2 0h1m0 0h1m3 0h1m2 0h1m6 0h1m1 0h1m0 0h1m-15 1h1m7 0h1m0 0h1m3 0h1m15 0h1m3 0h1m-29 1h1m0 0h1m3 0h1m0 0h1m3 0h1m2 0h1m5 0h1m0 0h1m-31 1h1m6 0h1m4 0h1m0 0h1m1 0h1m2 0h1m2 0h1m0 0h1m0 0h1m0 0h1m0 0h1m0 0h1m5 0h1m0 0h1m2 0h1m-33 1h1m6 0h1m6 0h1m3 0h1m3 0h1m1 0h1m0 0h1m-33 1h1m0 0h1m3 0h1m4 0h1m0 0h1m5 0h1m2 0h1m11 0h1m-22 1h1m2 0h1m2 0h1m10 0h1m0 0h1m1 0h1m-27 1h1m4 0h1m4 0h1m0 0h1m3 0h1m0 0h1m4 0h1m3 0h1m-28 1h1m3 0h1m4 0h1m1 0h1m2 0h1m1 0h1m1 0h1m0 0h1m2 0h1m3 0h1m-20 1h1m10 0h1m7 0h1m5 0h1m-17 1h1m0 0h1m-11 1h1m1 0h1m5 0h1m9 0h1m-32 1h1m16 1h1m0 0h1m9 0h1m0 0h1m12 0h1" transform="translate(0 .5)" stroke="#000" stroke-width="1" opacity="0.22"/>
</g>
<rect x="268" y="615.5" width="96.30000000000001" height="74.5" fill="none" stroke="#999" stroke-width="0.8"/>
<line x1="305.5" y1="615.5" x2="305.5" y2="690.0" stroke="#aaa" stroke-width="0.8"/>
<line x1="268.0" y1="657.0" x2="364.3" y2="657.0" stroke="#aaa" stroke-width="0.8"/>
<rect x="268.6" y="616.0" width="20.2" height="7.8" fill="#fff"/>
<text transform="translate(269.8 622.6) scale(1.25 1)" font-size="7.3" class="q">53.5</text>
<text transform="translate(363.4 622.6) scale(1.25 1)" font-size="7.3" class="q" text-anchor="end">2.4</text>
<rect x="268.6" y="681.8" width="20.2" height="7.8" fill="#fff"/>
<text transform="translate(269.8 688.4) scale(1.25 1)" font-size="7.3" class="q">32.5</text>
<text transform="translate(363.4 688.4) scale(1.25 1)" font-size="7.3" class="q" text-anchor="end">11.6</text>
<line x1="266.5" y1="620.9" x2="268.0" y2="620.9" stroke="#777" stroke-width="0.6"/>
<line x1="266.5" y1="638.7" x2="268.0" y2="638.7" stroke="#777" stroke-width="0.6"/>
<line x1="266.5" y1="656.0" x2="268.0" y2="656.0" stroke="#777" stroke-width="0.6"/>
<line x1="266.5" y1="673.2" x2="268.0" y2="673.2" stroke="#777" stroke-width="0.6"/>
<line x1="266.5" y1="681.4" x2="268.0" y2="681.4" stroke="#777" stroke-width="0.6"/>
<line x1="278.0" y1="690.0" x2="278.0" y2="691.5" stroke="#777" stroke-width="0.6"/>
<line x1="288.1" y1="690.0" x2="288.1" y2="691.5" stroke="#777" stroke-width="0.6"/>
<line x1="310.8" y1="690.0" x2="310.8" y2="691.5" stroke="#777" stroke-width="0.6"/>
<line x1="334.6" y1="690.0" x2="334.6" y2="691.5" stroke="#777" stroke-width="0.6"/>
<line x1="355.9" y1="690.0" x2="355.9" y2="691.5" stroke="#777" stroke-width="0.6"/>
<text x="278.0" y="698.0" font-size="4.2" text-anchor="middle" fill="#333">0</text>
<text x="288.1" y="698.0" font-size="4.2" text-anchor="middle" fill="#333">10²</text>
<text x="310.8" y="698.0" font-size="4.2" text-anchor="middle" fill="#333">10³</text>
<text x="334.6" y="698.0" font-size="4.2" text-anchor="middle" fill="#333">10⁴</text>
<text x="355.9" y="698.0" font-size="4.2" text-anchor="middle" fill="#333">10⁵</text>
<text x="265.7" y="622.3" font-size="4.2" text-anchor="end" fill="#333">10⁵</text>
<text x="265.7" y="640.1" font-size="4.2" text-anchor="end" fill="#333">10⁴</text>
<text x="265.7" y="657.4" font-size="4.2" text-anchor="end" fill="#333">10³</text>
<text x="265.7" y="674.6" font-size="4.2" text-anchor="end" fill="#333">10²</text>
<text x="265.7" y="682.8" font-size="4.2" text-anchor="end" fill="#333">0</text>
<text x="381.6" y="492" font-size="17" font-weight="bold" fill="#000">E</text>
<line x1="422.3" y1="508.2" x2="422.3" y2="653.0" stroke="#6a6a6a" stroke-width="0.8"/>
<line x1="418.3" y1="653.0" x2="422.3" y2="653.0" stroke="#6a6a6a" stroke-width="0.8"/>
<text x="414.3" y="658.2" font-size="10.1" text-anchor="end">0.0</text>
<line x1="418.3" y1="616.9" x2="422.3" y2="616.9" stroke="#6a6a6a" stroke-width="0.8"/>
<text x="414.3" y="622.1" font-size="10.1" text-anchor="end">0.1</text>
<line x1="418.3" y1="580.8" x2="422.3" y2="580.8" stroke="#6a6a6a" stroke-width="0.8"/>
<text x="414.3" y="586.0" font-size="10.1" text-anchor="end">0.2</text>
<line x1="418.3" y1="544.7" x2="422.3" y2="544.7" stroke="#6a6a6a" stroke-width="0.8"/>
<text x="414.3" y="549.9" font-size="10.1" text-anchor="end">0.3</text>
<line x1="418.3" y1="508.6" x2="422.3" y2="508.6" stroke="#6a6a6a" stroke-width="0.8"/>
<text x="414.3" y="513.8" font-size="10.1" text-anchor="end">0.4</text>
<line x1="422.3" y1="653.0" x2="520.0" y2="653.0" stroke="#6a6a6a" stroke-width="0.8"/>
<line x1="434.1" y1="617.9" x2="434.1" y2="612.1" stroke="#444" stroke-width="0.8"/>
<line x1="430.1" y1="612.1" x2="438.1" y2="612.1" stroke="#444" stroke-width="0.8"/>
<rect x="426.2" y="617.9" width="15.9" height="35.1" fill="#000" stroke="#333" stroke-width="0.8"/>
<line x1="434.1" y1="653.0" x2="434.1" y2="655.5" stroke="#6a6a6a" stroke-width="0.8"/>
<line x1="458.4" y1="625.7" x2="458.4" y2="622.2" stroke="#444" stroke-width="0.8"/>
<line x1="454.4" y1="622.2" x2="462.4" y2="622.2" stroke="#444" stroke-width="0.8"/>
<rect x="450.2" y="625.7" width="16.4" height="27.3" fill="#fff" stroke="#333" stroke-width="0.8"/>
<line x1="458.4" y1="653.0" x2="458.4" y2="655.5" stroke="#6a6a6a" stroke-width="0.8"/>
<line x1="482.5" y1="568.8" x2="482.5" y2="542.9" stroke="#444" stroke-width="0.8"/>
<line x1="478.5" y1="542.9" x2="486.5" y2="542.9" stroke="#444" stroke-width="0.8"/>
<rect x="474.4" y="568.8" width="16.2" height="84.2" fill="#888" stroke="#333" stroke-width="0.8"/>
<line x1="482.5" y1="653.0" x2="482.5" y2="655.5" stroke="#6a6a6a" stroke-width="0.8"/>
<line x1="507.1" y1="622.8" x2="507.1" y2="616.1" stroke="#444" stroke-width="0.8"/>
<line x1="503.1" y1="616.1" x2="511.1" y2="616.1" stroke="#444" stroke-width="0.8"/>
<rect x="499.2" y="622.8" width="15.9" height="30.2" fill="#ccc" stroke="#333" stroke-width="0.8"/>
<line x1="507.1" y1="653.0" x2="507.1" y2="655.5" stroke="#6a6a6a" stroke-width="0.8"/>
<text transform="translate(396.9 640.3) rotate(-90) scale(1 1.15)" font-size="9.4">Ratio CD56<tspan dy="-6.8" font-size="7.6">bright</tspan><tspan dy="6.8">/CD56</tspan><tspan dy="-6.8" font-size="8">dim</tspan></text>
<text transform="translate(436.9 661.3) rotate(-45)" font-size="9.7" text-anchor="end"><tspan x="0" y="0">Healthy donors</tspan></text>
<text transform="translate(456.6 662.2) rotate(-45)" font-size="9.7" text-anchor="end"><tspan x="0" y="0">Age-matched</tspan><tspan x="-0.5" y="13.6">healthy donors</tspan></text>
<text transform="translate(490.2 661.3) rotate(-45)" font-size="9.7" text-anchor="end"><tspan x="0" y="0">MPN without ruxo</tspan></text>
<text transform="translate(513.3 660.6) rotate(-45)" font-size="9.7" text-anchor="end"><tspan x="0" y="0">MPN with ruxo</tspan></text>
</svg></body></html>
